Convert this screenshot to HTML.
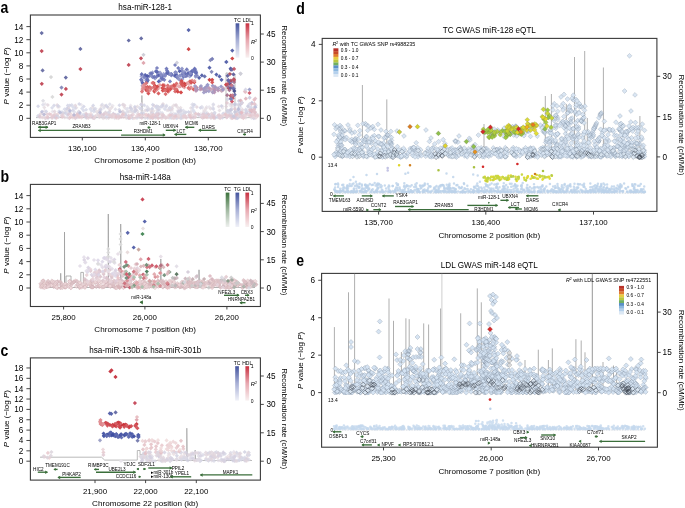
<!DOCTYPE html>
<html><head><meta charset="utf-8"><style>
html,body{margin:0;padding:0;background:#fff;}
svg{display:block;filter:blur(0.25px);}
text{font-family:"Liberation Sans", sans-serif;}
.q{fill:#d4e3f2;fill-opacity:.95;stroke:#7a8898;stroke-width:.42px;stroke-opacity:.7}
.r{fill:#d8e5f2;fill-opacity:.95;stroke:#7c8ca0;stroke-width:.4px;stroke-opacity:.72}
.s{fill:#bcd2ea;fill-opacity:.8;r:1.25px}
</style></head><body>
<svg width="685" height="508" viewBox="0 0 685 508" font-family='"Liberation Sans", sans-serif'>
<rect width="685" height="508" fill="#fff"/>
<rect x="30.40" y="15.00" width="230.00" height="122.40" fill="none" stroke="#3a3a3a" stroke-width="1.1"/>
<line x1="26.40" y1="118.30" x2="30.40" y2="118.30" stroke="#333" stroke-width="0.9"/>
<text x="23.40" y="121.20" font-size="8.2" text-anchor="end" font-weight="normal" fill="#000">0</text>
<line x1="26.40" y1="105.20" x2="30.40" y2="105.20" stroke="#333" stroke-width="0.9"/>
<text x="23.40" y="108.10" font-size="8.2" text-anchor="end" font-weight="normal" fill="#000">2</text>
<line x1="26.40" y1="92.10" x2="30.40" y2="92.10" stroke="#333" stroke-width="0.9"/>
<text x="23.40" y="95.00" font-size="8.2" text-anchor="end" font-weight="normal" fill="#000">4</text>
<line x1="26.40" y1="79.00" x2="30.40" y2="79.00" stroke="#333" stroke-width="0.9"/>
<text x="23.40" y="81.90" font-size="8.2" text-anchor="end" font-weight="normal" fill="#000">6</text>
<line x1="26.40" y1="65.90" x2="30.40" y2="65.90" stroke="#333" stroke-width="0.9"/>
<text x="23.40" y="68.80" font-size="8.2" text-anchor="end" font-weight="normal" fill="#000">8</text>
<line x1="26.40" y1="52.80" x2="30.40" y2="52.80" stroke="#333" stroke-width="0.9"/>
<text x="23.40" y="55.70" font-size="8.2" text-anchor="end" font-weight="normal" fill="#000">10</text>
<line x1="26.40" y1="39.70" x2="30.40" y2="39.70" stroke="#333" stroke-width="0.9"/>
<text x="23.40" y="42.60" font-size="8.2" text-anchor="end" font-weight="normal" fill="#000">12</text>
<line x1="26.40" y1="26.60" x2="30.40" y2="26.60" stroke="#333" stroke-width="0.9"/>
<text x="23.40" y="29.50" font-size="8.2" text-anchor="end" font-weight="normal" fill="#000">14</text>
<line x1="260.40" y1="118.30" x2="263.80" y2="118.30" stroke="#333" stroke-width="0.9"/>
<text x="266.40" y="121.20" font-size="8.2" text-anchor="start" font-weight="normal" fill="#000">0</text>
<line x1="260.40" y1="90.20" x2="263.80" y2="90.20" stroke="#333" stroke-width="0.9"/>
<text x="266.40" y="93.10" font-size="8.2" text-anchor="start" font-weight="normal" fill="#000">15</text>
<line x1="260.40" y1="62.10" x2="263.80" y2="62.10" stroke="#333" stroke-width="0.9"/>
<text x="266.40" y="65.00" font-size="8.2" text-anchor="start" font-weight="normal" fill="#000">30</text>
<line x1="260.40" y1="34.00" x2="263.80" y2="34.00" stroke="#333" stroke-width="0.9"/>
<text x="266.40" y="36.90" font-size="8.2" text-anchor="start" font-weight="normal" fill="#000">45</text>
<line x1="82.30" y1="137.40" x2="82.30" y2="140.40" stroke="#333" stroke-width="0.9"/>
<text x="82.30" y="150.80" font-size="7.9" text-anchor="middle" font-weight="normal" fill="#000">136,100</text>
<line x1="145.30" y1="137.40" x2="145.30" y2="140.40" stroke="#333" stroke-width="0.9"/>
<text x="145.30" y="150.80" font-size="7.9" text-anchor="middle" font-weight="normal" fill="#000">136,400</text>
<line x1="208.30" y1="137.40" x2="208.30" y2="140.40" stroke="#333" stroke-width="0.9"/>
<text x="208.30" y="150.80" font-size="7.9" text-anchor="middle" font-weight="normal" fill="#000">136,700</text>
<text x="145.20" y="10.20" font-size="8.15" text-anchor="middle" font-weight="normal" fill="#000">hsa-miR-128-1</text>
<text x="145.20" y="162.90" font-size="8.1" text-anchor="middle" font-weight="normal" fill="#000">Chromosome 2 position (kb)</text>
<text transform="translate(8.6 75.80) rotate(-90)" font-size="8" text-anchor="middle" fill="#000"><tspan font-style="italic">P</tspan> value (−log <tspan font-style="italic">P</tspan>)</text>
<text transform="translate(281.9 75.80) rotate(90)" font-size="8" text-anchor="middle" fill="#000">Recombination rate (cM/Mb)</text>
<text transform="translate(0.5 13.40) scale(0.84 1)" font-size="16.8" font-weight="bold" fill="#000">a</text>
<polyline points="36,117.6 141.7,117.6 141.9,95.5 142.3,117.6 226,117.6 226,72.9 235,74.3 235,117.6 238,117.6 238.5,105 239,117.6 252,117.6" fill="none" stroke="#a0a0a0" stroke-width="0.7"/>
<path d="M137.5 109.3l2.0 2.0-2.0 2.0-2.0-2.0zM173.1 114.5l2.0 2.0-2.0 2.0-2.0-2.0zM177.6 108.8l2.0 2.0-2.0 2.0-2.0-2.0zM141.4 102.2l2.0 2.0-2.0 2.0-2.0-2.0zM106.5 116.2l2.0 2.0-2.0 2.0-2.0-2.0zM193.5 116.2l2.0 2.0-2.0 2.0-2.0-2.0zM207.3 111.4l2.0 2.0-2.0 2.0-2.0-2.0zM144.4 109.1l2.0 2.0-2.0 2.0-2.0-2.0zM81.2 102.8l2.0 2.0-2.0 2.0-2.0-2.0zM130.6 103.6l2.0 2.0-2.0 2.0-2.0-2.0zM253 115.2l2.0 2.0-2.0 2.0-2.0-2.0zM202.8 115.8l2.0 2.0-2.0 2.0-2.0-2.0zM58.3 115.1l2.0 2.0-2.0 2.0-2.0-2.0zM63.4 113.7l2.0 2.0-2.0 2.0-2.0-2.0zM190.7 110.9l2.0 2.0-2.0 2.0-2.0-2.0zM44.6 108.7l2.0 2.0-2.0 2.0-2.0-2.0zM147.4 108.5l2.0 2.0-2.0 2.0-2.0-2.0zM218.8 115.4l2.0 2.0-2.0 2.0-2.0-2.0zM98.5 114.2l2.0 2.0-2.0 2.0-2.0-2.0zM188.6 114.4l2.0 2.0-2.0 2.0-2.0-2.0zM94.3 106.8l2.0 2.0-2.0 2.0-2.0-2.0zM175.6 103.5l2.0 2.0-2.0 2.0-2.0-2.0zM213.3 102.9l2.0 2.0-2.0 2.0-2.0-2.0zM114.7 115.7l2.0 2.0-2.0 2.0-2.0-2.0zM152 107.4l2.0 2.0-2.0 2.0-2.0-2.0zM52.5 109.6l2.0 2.0-2.0 2.0-2.0-2.0zM240.6 105.4l2.0 2.0-2.0 2.0-2.0-2.0zM112.7 103.7l2.0 2.0-2.0 2.0-2.0-2.0zM153.5 115.4l2.0 2.0-2.0 2.0-2.0-2.0zM67.2 115.6l2.0 2.0-2.0 2.0-2.0-2.0zM59.3 104.8l2.0 2.0-2.0 2.0-2.0-2.0zM230.6 103.5l2.0 2.0-2.0 2.0-2.0-2.0zM209.2 105.1l2.0 2.0-2.0 2.0-2.0-2.0zM155.3 111.9l2.0 2.0-2.0 2.0-2.0-2.0zM179.3 107.1l2.0 2.0-2.0 2.0-2.0-2.0zM61.8 113.9l2.0 2.0-2.0 2.0-2.0-2.0zM123 103l2.0 2.0-2.0 2.0-2.0-2.0zM141.8 114.7l2.0 2.0-2.0 2.0-2.0-2.0zM157.2 108.7l2.0 2.0-2.0 2.0-2.0-2.0zM166.9 108.2l2.0 2.0-2.0 2.0-2.0-2.0zM135.4 107.6l2.0 2.0-2.0 2.0-2.0-2.0zM176.8 112.1l2.0 2.0-2.0 2.0-2.0-2.0zM115.9 112.6l2.0 2.0-2.0 2.0-2.0-2.0zM222.4 105.9l2.0 2.0-2.0 2.0-2.0-2.0zM163 105.1l2.0 2.0-2.0 2.0-2.0-2.0zM200.5 112.2l2.0 2.0-2.0 2.0-2.0-2.0zM77 115.6l2.0 2.0-2.0 2.0-2.0-2.0zM130.9 106.9l2.0 2.0-2.0 2.0-2.0-2.0zM206.4 109.9l2.0 2.0-2.0 2.0-2.0-2.0zM114.8 116.3l2.0 2.0-2.0 2.0-2.0-2.0zM40.2 115.4l2.0 2.0-2.0 2.0-2.0-2.0zM141.8 110.1l2.0 2.0-2.0 2.0-2.0-2.0zM158.6 105.1l2.0 2.0-2.0 2.0-2.0-2.0zM225.7 110.5l2.0 2.0-2.0 2.0-2.0-2.0zM230.3 103.6l2.0 2.0-2.0 2.0-2.0-2.0zM46.2 111.5l2.0 2.0-2.0 2.0-2.0-2.0zM61.3 111.8l2.0 2.0-2.0 2.0-2.0-2.0zM181.9 116.2l2.0 2.0-2.0 2.0-2.0-2.0zM103.6 112.6l2.0 2.0-2.0 2.0-2.0-2.0zM106.1 113.4l2.0 2.0-2.0 2.0-2.0-2.0zM197.2 112.7l2.0 2.0-2.0 2.0-2.0-2.0zM77.6 111.7l2.0 2.0-2.0 2.0-2.0-2.0zM45.1 102.1l2.0 2.0-2.0 2.0-2.0-2.0zM127.5 115.8l2.0 2.0-2.0 2.0-2.0-2.0zM206.7 105l2.0 2.0-2.0 2.0-2.0-2.0zM181.2 115.4l2.0 2.0-2.0 2.0-2.0-2.0zM208.9 115.1l2.0 2.0-2.0 2.0-2.0-2.0zM238.9 109.2l2.0 2.0-2.0 2.0-2.0-2.0zM203.4 110.5l2.0 2.0-2.0 2.0-2.0-2.0zM222.4 104.5l2.0 2.0-2.0 2.0-2.0-2.0zM173.6 111.2l2.0 2.0-2.0 2.0-2.0-2.0zM230.1 102.4l2.0 2.0-2.0 2.0-2.0-2.0zM65.2 109.7l2.0 2.0-2.0 2.0-2.0-2.0zM43.3 114.7l2.0 2.0-2.0 2.0-2.0-2.0zM234.9 105.1l2.0 2.0-2.0 2.0-2.0-2.0zM105.7 110.3l2.0 2.0-2.0 2.0-2.0-2.0zM249.5 113.4l2.0 2.0-2.0 2.0-2.0-2.0zM248.5 105.8l2.0 2.0-2.0 2.0-2.0-2.0zM255.3 116.1l2.0 2.0-2.0 2.0-2.0-2.0zM212 113.9l2.0 2.0-2.0 2.0-2.0-2.0zM251.5 115.9l2.0 2.0-2.0 2.0-2.0-2.0zM171.8 108.6l2.0 2.0-2.0 2.0-2.0-2.0zM211.1 115.9l2.0 2.0-2.0 2.0-2.0-2.0zM251.5 116l2.0 2.0-2.0 2.0-2.0-2.0zM254.8 116.3l2.0 2.0-2.0 2.0-2.0-2.0zM233.8 115l2.0 2.0-2.0 2.0-2.0-2.0zM241.3 114.6l2.0 2.0-2.0 2.0-2.0-2.0zM243.8 114.2l2.0 2.0-2.0 2.0-2.0-2.0zM140.9 113l2.0 2.0-2.0 2.0-2.0-2.0zM227.8 114.3l2.0 2.0-2.0 2.0-2.0-2.0z" fill="#e4e0e8" fill-opacity="0.75"/>
<path d="M137.4 104.5l2.0 2.0-2.0 2.0-2.0-2.0zM51.9 116.1l2.0 2.0-2.0 2.0-2.0-2.0zM193.7 112.9l2.0 2.0-2.0 2.0-2.0-2.0zM130.4 109.2l2.0 2.0-2.0 2.0-2.0-2.0zM204.8 115.3l2.0 2.0-2.0 2.0-2.0-2.0zM63.6 111.4l2.0 2.0-2.0 2.0-2.0-2.0zM104.9 103.9l2.0 2.0-2.0 2.0-2.0-2.0zM179.2 115.5l2.0 2.0-2.0 2.0-2.0-2.0zM78.2 114.9l2.0 2.0-2.0 2.0-2.0-2.0zM217.9 113.8l2.0 2.0-2.0 2.0-2.0-2.0zM54.3 114.2l2.0 2.0-2.0 2.0-2.0-2.0zM136.1 115.9l2.0 2.0-2.0 2.0-2.0-2.0zM100 109.8l2.0 2.0-2.0 2.0-2.0-2.0zM242.7 110.3l2.0 2.0-2.0 2.0-2.0-2.0zM109.9 107.6l2.0 2.0-2.0 2.0-2.0-2.0zM177.5 105.3l2.0 2.0-2.0 2.0-2.0-2.0zM240.6 114.3l2.0 2.0-2.0 2.0-2.0-2.0zM207.2 113.5l2.0 2.0-2.0 2.0-2.0-2.0zM155.7 116.1l2.0 2.0-2.0 2.0-2.0-2.0zM246.3 110.2l2.0 2.0-2.0 2.0-2.0-2.0zM124.6 105.5l2.0 2.0-2.0 2.0-2.0-2.0zM123.4 111l2.0 2.0-2.0 2.0-2.0-2.0zM241.3 115.2l2.0 2.0-2.0 2.0-2.0-2.0zM111.7 105.6l2.0 2.0-2.0 2.0-2.0-2.0zM153.3 109.1l2.0 2.0-2.0 2.0-2.0-2.0zM64.8 115.6l2.0 2.0-2.0 2.0-2.0-2.0zM97.2 110.6l2.0 2.0-2.0 2.0-2.0-2.0zM173.9 103.2l2.0 2.0-2.0 2.0-2.0-2.0zM100.5 106.7l2.0 2.0-2.0 2.0-2.0-2.0zM128.9 109.8l2.0 2.0-2.0 2.0-2.0-2.0zM172.6 104.4l2.0 2.0-2.0 2.0-2.0-2.0zM233.9 114.4l2.0 2.0-2.0 2.0-2.0-2.0zM233.3 115.1l2.0 2.0-2.0 2.0-2.0-2.0zM157.5 107l2.0 2.0-2.0 2.0-2.0-2.0zM148.6 107.3l2.0 2.0-2.0 2.0-2.0-2.0zM237.1 110.5l2.0 2.0-2.0 2.0-2.0-2.0zM78.6 114.3l2.0 2.0-2.0 2.0-2.0-2.0zM177.5 116l2.0 2.0-2.0 2.0-2.0-2.0zM190.9 106l2.0 2.0-2.0 2.0-2.0-2.0zM85.5 111.6l2.0 2.0-2.0 2.0-2.0-2.0zM126.3 116l2.0 2.0-2.0 2.0-2.0-2.0zM103.1 116.2l2.0 2.0-2.0 2.0-2.0-2.0zM245.8 115.7l2.0 2.0-2.0 2.0-2.0-2.0zM132.5 110.6l2.0 2.0-2.0 2.0-2.0-2.0zM238.1 115l2.0 2.0-2.0 2.0-2.0-2.0zM168.2 108.2l2.0 2.0-2.0 2.0-2.0-2.0zM238.8 114.8l2.0 2.0-2.0 2.0-2.0-2.0zM131.4 113.6l2.0 2.0-2.0 2.0-2.0-2.0zM206.1 112.7l2.0 2.0-2.0 2.0-2.0-2.0zM125 111.9l2.0 2.0-2.0 2.0-2.0-2.0zM86.7 115.9l2.0 2.0-2.0 2.0-2.0-2.0zM239.4 113.8l2.0 2.0-2.0 2.0-2.0-2.0zM256 112.1l2.0 2.0-2.0 2.0-2.0-2.0zM180.6 105.8l2.0 2.0-2.0 2.0-2.0-2.0zM78.7 113.4l2.0 2.0-2.0 2.0-2.0-2.0zM207.8 115.6l2.0 2.0-2.0 2.0-2.0-2.0zM125.9 114.2l2.0 2.0-2.0 2.0-2.0-2.0zM96.6 109.7l2.0 2.0-2.0 2.0-2.0-2.0zM163.8 114.6l2.0 2.0-2.0 2.0-2.0-2.0zM218.7 104.6l2.0 2.0-2.0 2.0-2.0-2.0zM58 104.9l2.0 2.0-2.0 2.0-2.0-2.0zM52.7 115.7l2.0 2.0-2.0 2.0-2.0-2.0zM160.2 115.6l2.0 2.0-2.0 2.0-2.0-2.0zM66.9 108.2l2.0 2.0-2.0 2.0-2.0-2.0zM168.4 115.6l2.0 2.0-2.0 2.0-2.0-2.0zM241.9 115.1l2.0 2.0-2.0 2.0-2.0-2.0zM107.9 105.6l2.0 2.0-2.0 2.0-2.0-2.0zM219.5 108.5l2.0 2.0-2.0 2.0-2.0-2.0zM151 109.1l2.0 2.0-2.0 2.0-2.0-2.0zM245.9 108.3l2.0 2.0-2.0 2.0-2.0-2.0zM101.5 103.7l2.0 2.0-2.0 2.0-2.0-2.0zM204.8 112.2l2.0 2.0-2.0 2.0-2.0-2.0zM214.8 116.2l2.0 2.0-2.0 2.0-2.0-2.0zM123 109.2l2.0 2.0-2.0 2.0-2.0-2.0zM112 115.2l2.0 2.0-2.0 2.0-2.0-2.0zM210.5 106.7l2.0 2.0-2.0 2.0-2.0-2.0zM232.2 104.1l2.0 2.0-2.0 2.0-2.0-2.0zM190.9 109.8l2.0 2.0-2.0 2.0-2.0-2.0zM157.9 107.8l2.0 2.0-2.0 2.0-2.0-2.0zM130.7 105.3l2.0 2.0-2.0 2.0-2.0-2.0zM236.8 115.5l2.0 2.0-2.0 2.0-2.0-2.0zM69.1 107.2l2.0 2.0-2.0 2.0-2.0-2.0zM231.5 102l2.0 2.0-2.0 2.0-2.0-2.0zM88.4 113.1l2.0 2.0-2.0 2.0-2.0-2.0zM57.2 113.3l2.0 2.0-2.0 2.0-2.0-2.0zM44.3 105.6l2.0 2.0-2.0 2.0-2.0-2.0zM242.4 110.2l2.0 2.0-2.0 2.0-2.0-2.0zM76.3 105.7l2.0 2.0-2.0 2.0-2.0-2.0zM230 114.6l2.0 2.0-2.0 2.0-2.0-2.0zM75.8 113.7l2.0 2.0-2.0 2.0-2.0-2.0zM204.2 108.7l2.0 2.0-2.0 2.0-2.0-2.0zM205.9 106.5l2.0 2.0-2.0 2.0-2.0-2.0zM103.1 115.3l2.0 2.0-2.0 2.0-2.0-2.0zM130 115.6l2.0 2.0-2.0 2.0-2.0-2.0zM92.2 105.5l2.0 2.0-2.0 2.0-2.0-2.0zM145.8 108.3l2.0 2.0-2.0 2.0-2.0-2.0z" fill="#e2d8de" fill-opacity="0.75"/>
<path d="M78.6 110.1l2.0 2.0-2.0 2.0-2.0-2.0zM104.7 115.6l2.0 2.0-2.0 2.0-2.0-2.0zM123 102.6l2.0 2.0-2.0 2.0-2.0-2.0zM79.4 110.1l2.0 2.0-2.0 2.0-2.0-2.0zM54.3 114.3l2.0 2.0-2.0 2.0-2.0-2.0zM102.6 114.7l2.0 2.0-2.0 2.0-2.0-2.0zM253.7 107.8l2.0 2.0-2.0 2.0-2.0-2.0zM54.6 109.5l2.0 2.0-2.0 2.0-2.0-2.0zM47.8 103l2.0 2.0-2.0 2.0-2.0-2.0zM172 115.7l2.0 2.0-2.0 2.0-2.0-2.0zM198.2 111.9l2.0 2.0-2.0 2.0-2.0-2.0zM75.3 103.6l2.0 2.0-2.0 2.0-2.0-2.0zM122.2 109.9l2.0 2.0-2.0 2.0-2.0-2.0zM99.2 108.6l2.0 2.0-2.0 2.0-2.0-2.0zM180.8 109.3l2.0 2.0-2.0 2.0-2.0-2.0zM136.2 108.2l2.0 2.0-2.0 2.0-2.0-2.0zM97.9 112.5l2.0 2.0-2.0 2.0-2.0-2.0zM57.2 103.1l2.0 2.0-2.0 2.0-2.0-2.0zM196.8 105.1l2.0 2.0-2.0 2.0-2.0-2.0zM141.5 101.9l2.0 2.0-2.0 2.0-2.0-2.0zM246.1 110.4l2.0 2.0-2.0 2.0-2.0-2.0zM80.7 114l2.0 2.0-2.0 2.0-2.0-2.0zM174.3 115.4l2.0 2.0-2.0 2.0-2.0-2.0zM231.3 116.2l2.0 2.0-2.0 2.0-2.0-2.0zM165.6 115.1l2.0 2.0-2.0 2.0-2.0-2.0zM77.9 110.9l2.0 2.0-2.0 2.0-2.0-2.0zM109.2 115.6l2.0 2.0-2.0 2.0-2.0-2.0zM99.5 115.3l2.0 2.0-2.0 2.0-2.0-2.0zM40.3 112.3l2.0 2.0-2.0 2.0-2.0-2.0zM163 102l2.0 2.0-2.0 2.0-2.0-2.0zM242.5 107.7l2.0 2.0-2.0 2.0-2.0-2.0zM202.6 116l2.0 2.0-2.0 2.0-2.0-2.0zM48 115.5l2.0 2.0-2.0 2.0-2.0-2.0zM170.2 108.1l2.0 2.0-2.0 2.0-2.0-2.0zM172.2 106.7l2.0 2.0-2.0 2.0-2.0-2.0zM79.8 113.8l2.0 2.0-2.0 2.0-2.0-2.0zM109.6 109.5l2.0 2.0-2.0 2.0-2.0-2.0zM219.8 114.6l2.0 2.0-2.0 2.0-2.0-2.0zM56 113l2.0 2.0-2.0 2.0-2.0-2.0zM118.6 115.3l2.0 2.0-2.0 2.0-2.0-2.0zM135 108.8l2.0 2.0-2.0 2.0-2.0-2.0zM138.8 114.1l2.0 2.0-2.0 2.0-2.0-2.0zM220.3 116.2l2.0 2.0-2.0 2.0-2.0-2.0zM162.8 102.5l2.0 2.0-2.0 2.0-2.0-2.0zM235.8 115.6l2.0 2.0-2.0 2.0-2.0-2.0zM181.8 115.5l2.0 2.0-2.0 2.0-2.0-2.0zM239.3 111.6l2.0 2.0-2.0 2.0-2.0-2.0zM178.9 109.9l2.0 2.0-2.0 2.0-2.0-2.0zM85.8 113.9l2.0 2.0-2.0 2.0-2.0-2.0zM238.3 103l2.0 2.0-2.0 2.0-2.0-2.0zM56.1 113.5l2.0 2.0-2.0 2.0-2.0-2.0zM154.1 103.8l2.0 2.0-2.0 2.0-2.0-2.0zM211.7 111.5l2.0 2.0-2.0 2.0-2.0-2.0zM105.3 110.7l2.0 2.0-2.0 2.0-2.0-2.0zM226.3 104.6l2.0 2.0-2.0 2.0-2.0-2.0zM176.1 103l2.0 2.0-2.0 2.0-2.0-2.0zM41.4 111.7l2.0 2.0-2.0 2.0-2.0-2.0zM255.1 110l2.0 2.0-2.0 2.0-2.0-2.0zM139.9 115.2l2.0 2.0-2.0 2.0-2.0-2.0zM138 111.7l2.0 2.0-2.0 2.0-2.0-2.0zM68.4 106.1l2.0 2.0-2.0 2.0-2.0-2.0zM237.4 108.4l2.0 2.0-2.0 2.0-2.0-2.0zM163 112.7l2.0 2.0-2.0 2.0-2.0-2.0zM108.6 115.9l2.0 2.0-2.0 2.0-2.0-2.0zM231.5 101.9l2.0 2.0-2.0 2.0-2.0-2.0zM231.3 114.3l2.0 2.0-2.0 2.0-2.0-2.0zM235.9 116.2l2.0 2.0-2.0 2.0-2.0-2.0zM194.9 115.1l2.0 2.0-2.0 2.0-2.0-2.0zM77.8 113.9l2.0 2.0-2.0 2.0-2.0-2.0zM103 113.5l2.0 2.0-2.0 2.0-2.0-2.0zM184.7 113.4l2.0 2.0-2.0 2.0-2.0-2.0zM151.7 110.2l2.0 2.0-2.0 2.0-2.0-2.0zM62.7 111.2l2.0 2.0-2.0 2.0-2.0-2.0zM134.9 105.9l2.0 2.0-2.0 2.0-2.0-2.0zM178.8 109l2.0 2.0-2.0 2.0-2.0-2.0zM140.7 107.1l2.0 2.0-2.0 2.0-2.0-2.0zM69.8 110.9l2.0 2.0-2.0 2.0-2.0-2.0zM251.8 107.4l2.0 2.0-2.0 2.0-2.0-2.0zM124.5 103.3l2.0 2.0-2.0 2.0-2.0-2.0z" fill="#ddd0d8" fill-opacity="0.75"/>
<path d="M250.2 107.8l2.0 2.0-2.0 2.0-2.0-2.0zM181 108.3l2.0 2.0-2.0 2.0-2.0-2.0zM134.9 104.7l2.0 2.0-2.0 2.0-2.0-2.0zM150.8 116.1l2.0 2.0-2.0 2.0-2.0-2.0zM213.3 114.6l2.0 2.0-2.0 2.0-2.0-2.0zM38.1 104.3l2.0 2.0-2.0 2.0-2.0-2.0zM79.2 102l2.0 2.0-2.0 2.0-2.0-2.0zM84.9 113.6l2.0 2.0-2.0 2.0-2.0-2.0zM174.9 115.2l2.0 2.0-2.0 2.0-2.0-2.0zM72.9 108.2l2.0 2.0-2.0 2.0-2.0-2.0zM161.1 104.5l2.0 2.0-2.0 2.0-2.0-2.0zM152.8 102.8l2.0 2.0-2.0 2.0-2.0-2.0zM228 109.1l2.0 2.0-2.0 2.0-2.0-2.0zM222.4 115.7l2.0 2.0-2.0 2.0-2.0-2.0zM69.5 108.5l2.0 2.0-2.0 2.0-2.0-2.0zM231.7 111.9l2.0 2.0-2.0 2.0-2.0-2.0zM107.4 104.7l2.0 2.0-2.0 2.0-2.0-2.0zM159 107.8l2.0 2.0-2.0 2.0-2.0-2.0zM132.4 116.1l2.0 2.0-2.0 2.0-2.0-2.0zM56.9 114.1l2.0 2.0-2.0 2.0-2.0-2.0zM160.9 104.9l2.0 2.0-2.0 2.0-2.0-2.0zM178.6 109.9l2.0 2.0-2.0 2.0-2.0-2.0zM94.4 107.5l2.0 2.0-2.0 2.0-2.0-2.0zM83.8 104.5l2.0 2.0-2.0 2.0-2.0-2.0zM151.5 111.7l2.0 2.0-2.0 2.0-2.0-2.0zM166.1 104.5l2.0 2.0-2.0 2.0-2.0-2.0zM93.1 114.4l2.0 2.0-2.0 2.0-2.0-2.0zM156.4 104.3l2.0 2.0-2.0 2.0-2.0-2.0zM178.5 109.8l2.0 2.0-2.0 2.0-2.0-2.0zM46.2 109.4l2.0 2.0-2.0 2.0-2.0-2.0zM119.4 103.3l2.0 2.0-2.0 2.0-2.0-2.0zM163.3 114.5l2.0 2.0-2.0 2.0-2.0-2.0zM67.3 112.7l2.0 2.0-2.0 2.0-2.0-2.0zM253.6 116.2l2.0 2.0-2.0 2.0-2.0-2.0zM93.2 103.6l2.0 2.0-2.0 2.0-2.0-2.0zM156.9 111.5l2.0 2.0-2.0 2.0-2.0-2.0zM135.8 108l2.0 2.0-2.0 2.0-2.0-2.0zM246 111.4l2.0 2.0-2.0 2.0-2.0-2.0zM125.7 112.9l2.0 2.0-2.0 2.0-2.0-2.0zM100.9 107.8l2.0 2.0-2.0 2.0-2.0-2.0zM170.8 115.3l2.0 2.0-2.0 2.0-2.0-2.0zM130.3 105.8l2.0 2.0-2.0 2.0-2.0-2.0zM148.6 113l2.0 2.0-2.0 2.0-2.0-2.0zM214.5 111l2.0 2.0-2.0 2.0-2.0-2.0zM119.2 107.8l2.0 2.0-2.0 2.0-2.0-2.0zM55.3 115.7l2.0 2.0-2.0 2.0-2.0-2.0zM106.2 103.5l2.0 2.0-2.0 2.0-2.0-2.0zM156.9 104.8l2.0 2.0-2.0 2.0-2.0-2.0zM223.2 111.4l2.0 2.0-2.0 2.0-2.0-2.0zM185.9 110.3l2.0 2.0-2.0 2.0-2.0-2.0zM215.1 115.8l2.0 2.0-2.0 2.0-2.0-2.0zM221.4 103.9l2.0 2.0-2.0 2.0-2.0-2.0zM108.6 111.9l2.0 2.0-2.0 2.0-2.0-2.0zM239.1 112.5l2.0 2.0-2.0 2.0-2.0-2.0zM214.3 111.9l2.0 2.0-2.0 2.0-2.0-2.0zM213.3 106.9l2.0 2.0-2.0 2.0-2.0-2.0zM69.8 103.5l2.0 2.0-2.0 2.0-2.0-2.0zM66.8 106.4l2.0 2.0-2.0 2.0-2.0-2.0zM141.1 102.7l2.0 2.0-2.0 2.0-2.0-2.0zM107.5 111.6l2.0 2.0-2.0 2.0-2.0-2.0zM144.2 103.3l2.0 2.0-2.0 2.0-2.0-2.0zM158.6 112.4l2.0 2.0-2.0 2.0-2.0-2.0zM193.5 103l2.0 2.0-2.0 2.0-2.0-2.0zM67.8 103.6l2.0 2.0-2.0 2.0-2.0-2.0zM128.6 116.1l2.0 2.0-2.0 2.0-2.0-2.0zM141.4 111.6l2.0 2.0-2.0 2.0-2.0-2.0zM237.2 109.8l2.0 2.0-2.0 2.0-2.0-2.0zM65.4 111l2.0 2.0-2.0 2.0-2.0-2.0zM250.6 107.6l2.0 2.0-2.0 2.0-2.0-2.0zM153.4 115.3l2.0 2.0-2.0 2.0-2.0-2.0zM134.9 109.8l2.0 2.0-2.0 2.0-2.0-2.0zM237.6 116.3l2.0 2.0-2.0 2.0-2.0-2.0zM100.6 113.7l2.0 2.0-2.0 2.0-2.0-2.0zM92.1 113.4l2.0 2.0-2.0 2.0-2.0-2.0zM188.5 109.9l2.0 2.0-2.0 2.0-2.0-2.0zM157.7 104.5l2.0 2.0-2.0 2.0-2.0-2.0zM147.8 116.1l2.0 2.0-2.0 2.0-2.0-2.0zM54 103.5l2.0 2.0-2.0 2.0-2.0-2.0zM131.6 107.1l2.0 2.0-2.0 2.0-2.0-2.0zM200.5 105.7l2.0 2.0-2.0 2.0-2.0-2.0zM147.6 107.9l2.0 2.0-2.0 2.0-2.0-2.0zM147.3 107.7l2.0 2.0-2.0 2.0-2.0-2.0zM118.1 112.6l2.0 2.0-2.0 2.0-2.0-2.0zM86 114.8l2.0 2.0-2.0 2.0-2.0-2.0zM162.8 103.5l2.0 2.0-2.0 2.0-2.0-2.0zM143.6 111.7l2.0 2.0-2.0 2.0-2.0-2.0zM152.2 106.4l2.0 2.0-2.0 2.0-2.0-2.0z" fill="#cccee2" fill-opacity="0.75"/>
<path d="M169.9 105.8l2.0 2.0-2.0 2.0-2.0-2.0zM183.7 110.9l2.0 2.0-2.0 2.0-2.0-2.0zM206.6 111.7l2.0 2.0-2.0 2.0-2.0-2.0zM91.5 108.7l2.0 2.0-2.0 2.0-2.0-2.0zM62 110.1l2.0 2.0-2.0 2.0-2.0-2.0zM90.4 107l2.0 2.0-2.0 2.0-2.0-2.0zM45.7 116.2l2.0 2.0-2.0 2.0-2.0-2.0zM192.8 105.5l2.0 2.0-2.0 2.0-2.0-2.0zM94.3 116.2l2.0 2.0-2.0 2.0-2.0-2.0zM194.5 102.8l2.0 2.0-2.0 2.0-2.0-2.0zM193.9 109.2l2.0 2.0-2.0 2.0-2.0-2.0zM236 102.2l2.0 2.0-2.0 2.0-2.0-2.0zM156.1 105.6l2.0 2.0-2.0 2.0-2.0-2.0zM113.3 111.4l2.0 2.0-2.0 2.0-2.0-2.0zM239.3 108.2l2.0 2.0-2.0 2.0-2.0-2.0zM236.6 112.9l2.0 2.0-2.0 2.0-2.0-2.0zM59.1 109.2l2.0 2.0-2.0 2.0-2.0-2.0zM193 108.1l2.0 2.0-2.0 2.0-2.0-2.0zM139.7 106l2.0 2.0-2.0 2.0-2.0-2.0zM124 111.3l2.0 2.0-2.0 2.0-2.0-2.0zM254.2 105.3l2.0 2.0-2.0 2.0-2.0-2.0zM236.6 116l2.0 2.0-2.0 2.0-2.0-2.0zM245.8 107.6l2.0 2.0-2.0 2.0-2.0-2.0zM180.6 116.2l2.0 2.0-2.0 2.0-2.0-2.0zM204 111.9l2.0 2.0-2.0 2.0-2.0-2.0zM116.5 114.9l2.0 2.0-2.0 2.0-2.0-2.0zM217.3 115.1l2.0 2.0-2.0 2.0-2.0-2.0zM175.5 112.3l2.0 2.0-2.0 2.0-2.0-2.0zM176.3 116.3l2.0 2.0-2.0 2.0-2.0-2.0zM119.2 115.5l2.0 2.0-2.0 2.0-2.0-2.0zM86.1 107.8l2.0 2.0-2.0 2.0-2.0-2.0zM238.9 111.2l2.0 2.0-2.0 2.0-2.0-2.0zM234.8 113.8l2.0 2.0-2.0 2.0-2.0-2.0zM124.8 112.6l2.0 2.0-2.0 2.0-2.0-2.0zM141.7 106.6l2.0 2.0-2.0 2.0-2.0-2.0zM106.8 114.4l2.0 2.0-2.0 2.0-2.0-2.0zM230.5 111.5l2.0 2.0-2.0 2.0-2.0-2.0zM72.7 104.8l2.0 2.0-2.0 2.0-2.0-2.0zM194.6 110.6l2.0 2.0-2.0 2.0-2.0-2.0zM83.5 108.4l2.0 2.0-2.0 2.0-2.0-2.0zM82 106.6l2.0 2.0-2.0 2.0-2.0-2.0zM95.4 114.5l2.0 2.0-2.0 2.0-2.0-2.0zM83.1 112.7l2.0 2.0-2.0 2.0-2.0-2.0zM93.9 109.6l2.0 2.0-2.0 2.0-2.0-2.0zM164.8 107.1l2.0 2.0-2.0 2.0-2.0-2.0zM58.2 104.1l2.0 2.0-2.0 2.0-2.0-2.0zM158.2 115.8l2.0 2.0-2.0 2.0-2.0-2.0zM75.1 106.3l2.0 2.0-2.0 2.0-2.0-2.0zM169.5 106.2l2.0 2.0-2.0 2.0-2.0-2.0zM38.1 113.8l2.0 2.0-2.0 2.0-2.0-2.0zM48.1 116.1l2.0 2.0-2.0 2.0-2.0-2.0zM235.3 114.4l2.0 2.0-2.0 2.0-2.0-2.0zM181 113l2.0 2.0-2.0 2.0-2.0-2.0zM55.4 114.1l2.0 2.0-2.0 2.0-2.0-2.0zM64.5 107.2l2.0 2.0-2.0 2.0-2.0-2.0zM52.1 105.8l2.0 2.0-2.0 2.0-2.0-2.0zM90.4 115l2.0 2.0-2.0 2.0-2.0-2.0zM181 115.9l2.0 2.0-2.0 2.0-2.0-2.0zM209.9 114.2l2.0 2.0-2.0 2.0-2.0-2.0zM130.2 116l2.0 2.0-2.0 2.0-2.0-2.0zM71.8 103l2.0 2.0-2.0 2.0-2.0-2.0z" fill="#d2d4e6" fill-opacity="0.75"/>
<path d="M89.4 113.2l2.0 2.0-2.0 2.0-2.0-2.0zM127.5 109.5l2.0 2.0-2.0 2.0-2.0-2.0zM38.1 114.3l2.0 2.0-2.0 2.0-2.0-2.0zM209.3 113.5l2.0 2.0-2.0 2.0-2.0-2.0zM110.4 113.1l2.0 2.0-2.0 2.0-2.0-2.0zM170.8 111.4l2.0 2.0-2.0 2.0-2.0-2.0zM192.2 102.6l2.0 2.0-2.0 2.0-2.0-2.0zM169.6 115.7l2.0 2.0-2.0 2.0-2.0-2.0zM198.7 112.8l2.0 2.0-2.0 2.0-2.0-2.0zM115.4 107.3l2.0 2.0-2.0 2.0-2.0-2.0zM229.6 111.5l2.0 2.0-2.0 2.0-2.0-2.0zM183.7 112l2.0 2.0-2.0 2.0-2.0-2.0zM42.9 102.7l2.0 2.0-2.0 2.0-2.0-2.0zM147.2 104.8l2.0 2.0-2.0 2.0-2.0-2.0zM137.5 115.7l2.0 2.0-2.0 2.0-2.0-2.0zM67.9 110.9l2.0 2.0-2.0 2.0-2.0-2.0zM213.3 102.2l2.0 2.0-2.0 2.0-2.0-2.0zM178.8 112.2l2.0 2.0-2.0 2.0-2.0-2.0zM109.8 102.2l2.0 2.0-2.0 2.0-2.0-2.0zM95.6 106.8l2.0 2.0-2.0 2.0-2.0-2.0zM145.2 116.1l2.0 2.0-2.0 2.0-2.0-2.0zM128.4 115.3l2.0 2.0-2.0 2.0-2.0-2.0zM171.2 116.1l2.0 2.0-2.0 2.0-2.0-2.0zM192.5 102.3l2.0 2.0-2.0 2.0-2.0-2.0zM126.6 107.3l2.0 2.0-2.0 2.0-2.0-2.0zM238.5 102.5l2.0 2.0-2.0 2.0-2.0-2.0zM214.6 110.5l2.0 2.0-2.0 2.0-2.0-2.0zM255.9 103.2l2.0 2.0-2.0 2.0-2.0-2.0zM132.6 108.7l2.0 2.0-2.0 2.0-2.0-2.0zM74.3 110.1l2.0 2.0-2.0 2.0-2.0-2.0zM127.3 106.7l2.0 2.0-2.0 2.0-2.0-2.0zM213.4 113.1l2.0 2.0-2.0 2.0-2.0-2.0zM169.5 106.1l2.0 2.0-2.0 2.0-2.0-2.0zM129.8 115.3l2.0 2.0-2.0 2.0-2.0-2.0zM199.5 113.9l2.0 2.0-2.0 2.0-2.0-2.0zM239.5 104l2.0 2.0-2.0 2.0-2.0-2.0zM131.5 108.3l2.0 2.0-2.0 2.0-2.0-2.0zM87 113.4l2.0 2.0-2.0 2.0-2.0-2.0zM201.9 104.7l2.0 2.0-2.0 2.0-2.0-2.0zM103.8 105.8l2.0 2.0-2.0 2.0-2.0-2.0zM231.8 113.3l2.0 2.0-2.0 2.0-2.0-2.0zM158.3 105.6l2.0 2.0-2.0 2.0-2.0-2.0zM111.6 113.4l2.0 2.0-2.0 2.0-2.0-2.0zM102.2 102.4l2.0 2.0-2.0 2.0-2.0-2.0zM238.7 106.2l2.0 2.0-2.0 2.0-2.0-2.0zM166.5 103.5l2.0 2.0-2.0 2.0-2.0-2.0zM212.8 105.8l2.0 2.0-2.0 2.0-2.0-2.0zM182.7 113.9l2.0 2.0-2.0 2.0-2.0-2.0zM157.5 110.2l2.0 2.0-2.0 2.0-2.0-2.0zM202.3 105.7l2.0 2.0-2.0 2.0-2.0-2.0zM162.1 110.9l2.0 2.0-2.0 2.0-2.0-2.0zM58.3 115.1l2.0 2.0-2.0 2.0-2.0-2.0zM183.3 108.6l2.0 2.0-2.0 2.0-2.0-2.0zM170.3 115.3l2.0 2.0-2.0 2.0-2.0-2.0zM78.8 109.5l2.0 2.0-2.0 2.0-2.0-2.0zM126.7 110.3l2.0 2.0-2.0 2.0-2.0-2.0zM219.5 115.3l2.0 2.0-2.0 2.0-2.0-2.0zM152.5 111.4l2.0 2.0-2.0 2.0-2.0-2.0zM180.9 111.4l2.0 2.0-2.0 2.0-2.0-2.0zM155.3 113.9l2.0 2.0-2.0 2.0-2.0-2.0zM184.9 110.8l2.0 2.0-2.0 2.0-2.0-2.0zM239.6 108.9l2.0 2.0-2.0 2.0-2.0-2.0zM108.6 110.5l2.0 2.0-2.0 2.0-2.0-2.0zM148.8 106.7l2.0 2.0-2.0 2.0-2.0-2.0zM160.3 110.7l2.0 2.0-2.0 2.0-2.0-2.0zM117.8 113.4l2.0 2.0-2.0 2.0-2.0-2.0zM85.9 115.5l2.0 2.0-2.0 2.0-2.0-2.0z" fill="#d8d8e6" fill-opacity="0.75"/>
<path d="M142.4 113.3l2.0 2.0-2.0 2.0-2.0-2.0zM69.4 116.3l2.0 2.0-2.0 2.0-2.0-2.0zM250.8 111.8l2.0 2.0-2.0 2.0-2.0-2.0zM191.1 116.1l2.0 2.0-2.0 2.0-2.0-2.0zM151.1 114.6l2.0 2.0-2.0 2.0-2.0-2.0zM246.5 112.1l2.0 2.0-2.0 2.0-2.0-2.0zM92.5 115.8l2.0 2.0-2.0 2.0-2.0-2.0zM242.1 112.3l2.0 2.0-2.0 2.0-2.0-2.0zM234.8 115.6l2.0 2.0-2.0 2.0-2.0-2.0zM173.7 116.1l2.0 2.0-2.0 2.0-2.0-2.0zM193 115.3l2.0 2.0-2.0 2.0-2.0-2.0zM190.7 115.7l2.0 2.0-2.0 2.0-2.0-2.0zM141.8 116l2.0 2.0-2.0 2.0-2.0-2.0zM236.2 112.7l2.0 2.0-2.0 2.0-2.0-2.0zM165.8 116l2.0 2.0-2.0 2.0-2.0-2.0zM189 113l2.0 2.0-2.0 2.0-2.0-2.0zM39.7 114.6l2.0 2.0-2.0 2.0-2.0-2.0zM224.7 113.1l2.0 2.0-2.0 2.0-2.0-2.0zM86.5 112.1l2.0 2.0-2.0 2.0-2.0-2.0zM251.9 113.8l2.0 2.0-2.0 2.0-2.0-2.0zM115.1 112.9l2.0 2.0-2.0 2.0-2.0-2.0zM208.5 112.2l2.0 2.0-2.0 2.0-2.0-2.0zM93.4 116.1l2.0 2.0-2.0 2.0-2.0-2.0zM100.8 112l2.0 2.0-2.0 2.0-2.0-2.0zM123.6 112.3l2.0 2.0-2.0 2.0-2.0-2.0zM128.7 113.5l2.0 2.0-2.0 2.0-2.0-2.0zM75.4 115.4l2.0 2.0-2.0 2.0-2.0-2.0zM229 113.3l2.0 2.0-2.0 2.0-2.0-2.0zM202.8 112.4l2.0 2.0-2.0 2.0-2.0-2.0zM73.9 113l2.0 2.0-2.0 2.0-2.0-2.0zM241.9 111.8l2.0 2.0-2.0 2.0-2.0-2.0zM214.2 114l2.0 2.0-2.0 2.0-2.0-2.0zM158.7 111.9l2.0 2.0-2.0 2.0-2.0-2.0zM176.4 114.2l2.0 2.0-2.0 2.0-2.0-2.0zM131.2 113.8l2.0 2.0-2.0 2.0-2.0-2.0zM214 114.5l2.0 2.0-2.0 2.0-2.0-2.0zM247.6 111.8l2.0 2.0-2.0 2.0-2.0-2.0zM198.8 112.5l2.0 2.0-2.0 2.0-2.0-2.0zM113.4 112.2l2.0 2.0-2.0 2.0-2.0-2.0zM52.2 114.7l2.0 2.0-2.0 2.0-2.0-2.0zM76 113.8l2.0 2.0-2.0 2.0-2.0-2.0zM121.2 114.9l2.0 2.0-2.0 2.0-2.0-2.0zM244.9 113.5l2.0 2.0-2.0 2.0-2.0-2.0zM226.8 115.6l2.0 2.0-2.0 2.0-2.0-2.0zM221.7 113.9l2.0 2.0-2.0 2.0-2.0-2.0zM148.3 113.3l2.0 2.0-2.0 2.0-2.0-2.0zM54.3 113.2l2.0 2.0-2.0 2.0-2.0-2.0zM121.6 113.9l2.0 2.0-2.0 2.0-2.0-2.0zM243 113.9l2.0 2.0-2.0 2.0-2.0-2.0zM157.7 112.4l2.0 2.0-2.0 2.0-2.0-2.0zM129.3 115.7l2.0 2.0-2.0 2.0-2.0-2.0zM213.1 113.9l2.0 2.0-2.0 2.0-2.0-2.0zM229.2 113.3l2.0 2.0-2.0 2.0-2.0-2.0zM77 112.5l2.0 2.0-2.0 2.0-2.0-2.0zM219.3 112.9l2.0 2.0-2.0 2.0-2.0-2.0zM75.3 116.2l2.0 2.0-2.0 2.0-2.0-2.0zM103.7 112.3l2.0 2.0-2.0 2.0-2.0-2.0zM68.6 112.5l2.0 2.0-2.0 2.0-2.0-2.0zM172.1 112.9l2.0 2.0-2.0 2.0-2.0-2.0zM86.2 114.6l2.0 2.0-2.0 2.0-2.0-2.0zM49.3 111.9l2.0 2.0-2.0 2.0-2.0-2.0zM155.4 114.5l2.0 2.0-2.0 2.0-2.0-2.0z" fill="#dcc4d0" fill-opacity="0.75"/>
<path d="M144.2 113.3l2.0 2.0-2.0 2.0-2.0-2.0zM183.5 115.6l2.0 2.0-2.0 2.0-2.0-2.0zM151 112.5l2.0 2.0-2.0 2.0-2.0-2.0zM58 111.8l2.0 2.0-2.0 2.0-2.0-2.0zM149.6 115.9l2.0 2.0-2.0 2.0-2.0-2.0zM185 114.1l2.0 2.0-2.0 2.0-2.0-2.0zM116.4 114.6l2.0 2.0-2.0 2.0-2.0-2.0zM44.2 112.5l2.0 2.0-2.0 2.0-2.0-2.0zM45.2 116.2l2.0 2.0-2.0 2.0-2.0-2.0zM100 114.1l2.0 2.0-2.0 2.0-2.0-2.0zM90.8 111.8l2.0 2.0-2.0 2.0-2.0-2.0zM178.7 115.2l2.0 2.0-2.0 2.0-2.0-2.0zM145.7 114.7l2.0 2.0-2.0 2.0-2.0-2.0zM245.7 113.9l2.0 2.0-2.0 2.0-2.0-2.0zM130.5 115.2l2.0 2.0-2.0 2.0-2.0-2.0zM253.6 113.4l2.0 2.0-2.0 2.0-2.0-2.0zM238.3 113.8l2.0 2.0-2.0 2.0-2.0-2.0zM106.7 112l2.0 2.0-2.0 2.0-2.0-2.0zM174.9 115.7l2.0 2.0-2.0 2.0-2.0-2.0zM191.1 112.8l2.0 2.0-2.0 2.0-2.0-2.0zM118.4 116.2l2.0 2.0-2.0 2.0-2.0-2.0zM221 115.3l2.0 2.0-2.0 2.0-2.0-2.0zM223.4 113.5l2.0 2.0-2.0 2.0-2.0-2.0zM112.8 112.8l2.0 2.0-2.0 2.0-2.0-2.0zM140.8 113.4l2.0 2.0-2.0 2.0-2.0-2.0zM248.4 113.2l2.0 2.0-2.0 2.0-2.0-2.0zM114.7 115.2l2.0 2.0-2.0 2.0-2.0-2.0zM168.5 113.6l2.0 2.0-2.0 2.0-2.0-2.0zM69.3 115.7l2.0 2.0-2.0 2.0-2.0-2.0zM81.4 115.7l2.0 2.0-2.0 2.0-2.0-2.0zM112.7 114.6l2.0 2.0-2.0 2.0-2.0-2.0zM172.7 115.7l2.0 2.0-2.0 2.0-2.0-2.0zM201.9 115.1l2.0 2.0-2.0 2.0-2.0-2.0zM256 115.8l2.0 2.0-2.0 2.0-2.0-2.0zM237.5 112.1l2.0 2.0-2.0 2.0-2.0-2.0zM111.1 113.3l2.0 2.0-2.0 2.0-2.0-2.0zM186.2 115.5l2.0 2.0-2.0 2.0-2.0-2.0zM178.2 113.6l2.0 2.0-2.0 2.0-2.0-2.0zM244.1 114.5l2.0 2.0-2.0 2.0-2.0-2.0zM90.6 113.9l2.0 2.0-2.0 2.0-2.0-2.0zM123.9 111.9l2.0 2.0-2.0 2.0-2.0-2.0zM71.3 112.5l2.0 2.0-2.0 2.0-2.0-2.0zM165 115.5l2.0 2.0-2.0 2.0-2.0-2.0zM72.9 115.7l2.0 2.0-2.0 2.0-2.0-2.0zM95.4 113.9l2.0 2.0-2.0 2.0-2.0-2.0zM133.9 116.2l2.0 2.0-2.0 2.0-2.0-2.0zM55.1 112.1l2.0 2.0-2.0 2.0-2.0-2.0zM161.6 112.4l2.0 2.0-2.0 2.0-2.0-2.0zM255.9 115.3l2.0 2.0-2.0 2.0-2.0-2.0zM99.6 113.9l2.0 2.0-2.0 2.0-2.0-2.0zM253.1 115.3l2.0 2.0-2.0 2.0-2.0-2.0zM42.3 115.6l2.0 2.0-2.0 2.0-2.0-2.0zM116.7 115.9l2.0 2.0-2.0 2.0-2.0-2.0zM257.7 112.7l2.0 2.0-2.0 2.0-2.0-2.0zM151.2 113.2l2.0 2.0-2.0 2.0-2.0-2.0zM167.9 115.5l2.0 2.0-2.0 2.0-2.0-2.0zM94.4 116l2.0 2.0-2.0 2.0-2.0-2.0z" fill="#e8d4d8" fill-opacity="0.75"/>
<path d="M189.9 113.5l2.0 2.0-2.0 2.0-2.0-2.0zM50.9 112.5l2.0 2.0-2.0 2.0-2.0-2.0zM213.5 115.9l2.0 2.0-2.0 2.0-2.0-2.0zM157.1 113.4l2.0 2.0-2.0 2.0-2.0-2.0zM47.6 115.4l2.0 2.0-2.0 2.0-2.0-2.0zM203.7 115.3l2.0 2.0-2.0 2.0-2.0-2.0zM147.6 113.5l2.0 2.0-2.0 2.0-2.0-2.0zM206.6 115.3l2.0 2.0-2.0 2.0-2.0-2.0zM77.5 112.7l2.0 2.0-2.0 2.0-2.0-2.0zM257.7 114l2.0 2.0-2.0 2.0-2.0-2.0zM152.6 116.2l2.0 2.0-2.0 2.0-2.0-2.0zM205.3 114.4l2.0 2.0-2.0 2.0-2.0-2.0zM236.8 112.6l2.0 2.0-2.0 2.0-2.0-2.0zM175.1 114.1l2.0 2.0-2.0 2.0-2.0-2.0zM139.2 112.7l2.0 2.0-2.0 2.0-2.0-2.0zM152.7 114.3l2.0 2.0-2.0 2.0-2.0-2.0zM70.6 115.1l2.0 2.0-2.0 2.0-2.0-2.0zM62.1 115.1l2.0 2.0-2.0 2.0-2.0-2.0zM158.2 116.2l2.0 2.0-2.0 2.0-2.0-2.0zM225.6 112.2l2.0 2.0-2.0 2.0-2.0-2.0zM146.1 112.4l2.0 2.0-2.0 2.0-2.0-2.0zM56.5 116l2.0 2.0-2.0 2.0-2.0-2.0zM243.3 116.2l2.0 2.0-2.0 2.0-2.0-2.0zM170 113.2l2.0 2.0-2.0 2.0-2.0-2.0zM47.4 114.8l2.0 2.0-2.0 2.0-2.0-2.0zM74 114.1l2.0 2.0-2.0 2.0-2.0-2.0zM79.3 115l2.0 2.0-2.0 2.0-2.0-2.0zM116.2 114.9l2.0 2.0-2.0 2.0-2.0-2.0zM129 116.1l2.0 2.0-2.0 2.0-2.0-2.0zM150.7 114.9l2.0 2.0-2.0 2.0-2.0-2.0zM250.1 113.7l2.0 2.0-2.0 2.0-2.0-2.0zM122.5 112.4l2.0 2.0-2.0 2.0-2.0-2.0zM153.3 112.7l2.0 2.0-2.0 2.0-2.0-2.0zM190.3 114.7l2.0 2.0-2.0 2.0-2.0-2.0zM119.8 114.7l2.0 2.0-2.0 2.0-2.0-2.0zM162.6 113.8l2.0 2.0-2.0 2.0-2.0-2.0zM232.6 115.9l2.0 2.0-2.0 2.0-2.0-2.0zM227.3 113.5l2.0 2.0-2.0 2.0-2.0-2.0zM195.8 111.8l2.0 2.0-2.0 2.0-2.0-2.0zM255.3 113.2l2.0 2.0-2.0 2.0-2.0-2.0z" fill="#e6c4ca" fill-opacity="0.75"/>
<path d="M118.9 114.7l2.0 2.0-2.0 2.0-2.0-2.0zM218.3 113.3l2.0 2.0-2.0 2.0-2.0-2.0zM62.8 114.4l2.0 2.0-2.0 2.0-2.0-2.0zM156.7 112.3l2.0 2.0-2.0 2.0-2.0-2.0zM252.8 112.2l2.0 2.0-2.0 2.0-2.0-2.0zM186.2 115.8l2.0 2.0-2.0 2.0-2.0-2.0zM111.8 114.6l2.0 2.0-2.0 2.0-2.0-2.0zM241.3 114.6l2.0 2.0-2.0 2.0-2.0-2.0zM161.9 116.2l2.0 2.0-2.0 2.0-2.0-2.0zM212.3 113l2.0 2.0-2.0 2.0-2.0-2.0zM109.2 113.2l2.0 2.0-2.0 2.0-2.0-2.0zM184.8 114.7l2.0 2.0-2.0 2.0-2.0-2.0zM232.5 115.9l2.0 2.0-2.0 2.0-2.0-2.0zM73.7 114.2l2.0 2.0-2.0 2.0-2.0-2.0zM75.5 114.1l2.0 2.0-2.0 2.0-2.0-2.0zM122.6 114.5l2.0 2.0-2.0 2.0-2.0-2.0zM253.7 112.1l2.0 2.0-2.0 2.0-2.0-2.0zM227 114.9l2.0 2.0-2.0 2.0-2.0-2.0zM47.4 112.6l2.0 2.0-2.0 2.0-2.0-2.0zM118.2 114l2.0 2.0-2.0 2.0-2.0-2.0zM136.7 113.9l2.0 2.0-2.0 2.0-2.0-2.0zM195.3 115l2.0 2.0-2.0 2.0-2.0-2.0zM203.9 112.5l2.0 2.0-2.0 2.0-2.0-2.0zM53.7 113.4l2.0 2.0-2.0 2.0-2.0-2.0zM88.3 116l2.0 2.0-2.0 2.0-2.0-2.0zM201.6 114.9l2.0 2.0-2.0 2.0-2.0-2.0zM123.5 115l2.0 2.0-2.0 2.0-2.0-2.0zM137.7 113.9l2.0 2.0-2.0 2.0-2.0-2.0zM243.3 115.6l2.0 2.0-2.0 2.0-2.0-2.0zM210.8 115.7l2.0 2.0-2.0 2.0-2.0-2.0zM206.4 113.8l2.0 2.0-2.0 2.0-2.0-2.0zM61.9 113.5l2.0 2.0-2.0 2.0-2.0-2.0zM219.5 115.8l2.0 2.0-2.0 2.0-2.0-2.0zM52.1 115.6l2.0 2.0-2.0 2.0-2.0-2.0zM163.2 113.1l2.0 2.0-2.0 2.0-2.0-2.0zM133.1 112.8l2.0 2.0-2.0 2.0-2.0-2.0zM90.6 113.8l2.0 2.0-2.0 2.0-2.0-2.0zM183.3 114.1l2.0 2.0-2.0 2.0-2.0-2.0zM185.1 114l2.0 2.0-2.0 2.0-2.0-2.0zM254.7 112.4l2.0 2.0-2.0 2.0-2.0-2.0zM82.4 114.4l2.0 2.0-2.0 2.0-2.0-2.0z" fill="#e4ccd4" fill-opacity="0.75"/>
<path d="M42 109.8l2.0 2.0-2.0 2.0-2.0-2.0zM44 112.4l2.0 2.0-2.0 2.0-2.0-2.0zM60 110.4l2.0 2.0-2.0 2.0-2.0-2.0zM70 109.1l2.0 2.0-2.0 2.0-2.0-2.0zM74 113l2.0 2.0-2.0 2.0-2.0-2.0zM80 111.1l2.0 2.0-2.0 2.0-2.0-2.0zM100 110.4l2.0 2.0-2.0 2.0-2.0-2.0zM120 109.8l2.0 2.0-2.0 2.0-2.0-2.0z" fill="#b4b6d6" fill-opacity="0.8"/>
<path d="M175.9 71.3l2.1 2.1-2.1 2.1-2.1-2.1zM196 69.1l2.1 2.1-2.1 2.1-2.1-2.1zM152.5 70.3l2.1 2.1-2.1 2.1-2.1-2.1zM141.5 74.2l2.1 2.1-2.1 2.1-2.1-2.1zM143.1 81.9l2.1 2.1-2.1 2.1-2.1-2.1zM163.6 71.8l2.1 2.1-2.1 2.1-2.1-2.1zM189.7 74.4l2.1 2.1-2.1 2.1-2.1-2.1zM171.5 73.3l2.1 2.1-2.1 2.1-2.1-2.1z" fill="#9fa4d1" fill-opacity="0.92"/>
<path d="M182.4 76.8l2.1 2.1-2.1 2.1-2.1-2.1zM175.6 70.9l2.1 2.1-2.1 2.1-2.1-2.1zM147.1 75.6l2.1 2.1-2.1 2.1-2.1-2.1zM146.1 78.1l2.1 2.1-2.1 2.1-2.1-2.1zM160 70.4l2.1 2.1-2.1 2.1-2.1-2.1zM163.7 73.4l2.1 2.1-2.1 2.1-2.1-2.1zM197 73.3l2.1 2.1-2.1 2.1-2.1-2.1zM184.8 69.8l2.1 2.1-2.1 2.1-2.1-2.1zM155 76.4l2.1 2.1-2.1 2.1-2.1-2.1zM160.5 77.4l2.1 2.1-2.1 2.1-2.1-2.1zM160.6 78.3l2.1 2.1-2.1 2.1-2.1-2.1zM176.2 72.8l2.1 2.1-2.1 2.1-2.1-2.1zM184.8 73.5l2.1 2.1-2.1 2.1-2.1-2.1zM141.7 78.7l2.1 2.1-2.1 2.1-2.1-2.1zM166.5 71.5l2.1 2.1-2.1 2.1-2.1-2.1zM180.7 73.5l2.1 2.1-2.1 2.1-2.1-2.1zM188.7 70.1l2.1 2.1-2.1 2.1-2.1-2.1zM144.7 73.2l2.1 2.1-2.1 2.1-2.1-2.1z" fill="#959acc" fill-opacity="0.92"/>
<path d="M142.6 83.7l2.1 2.1-2.1 2.1-2.1-2.1zM167.3 70.9l2.1 2.1-2.1 2.1-2.1-2.1zM171.2 72.9l2.1 2.1-2.1 2.1-2.1-2.1zM157.9 72.8l2.1 2.1-2.1 2.1-2.1-2.1zM161.5 74.5l2.1 2.1-2.1 2.1-2.1-2.1zM194.7 68.5l2.1 2.1-2.1 2.1-2.1-2.1zM157.5 70l2.1 2.1-2.1 2.1-2.1-2.1zM181.9 68.3l2.1 2.1-2.1 2.1-2.1-2.1zM165.7 72.4l2.1 2.1-2.1 2.1-2.1-2.1zM175.3 70.2l2.1 2.1-2.1 2.1-2.1-2.1zM174.4 73.5l2.1 2.1-2.1 2.1-2.1-2.1zM165 73.8l2.1 2.1-2.1 2.1-2.1-2.1z" fill="#7f86c1" fill-opacity="0.92"/>
<path d="M191.5 69.3l2.1 2.1-2.1 2.1-2.1-2.1zM156.7 69.7l2.1 2.1-2.1 2.1-2.1-2.1zM185.6 73.8l2.1 2.1-2.1 2.1-2.1-2.1zM161.2 73.1l2.1 2.1-2.1 2.1-2.1-2.1zM171.5 72.1l2.1 2.1-2.1 2.1-2.1-2.1zM145.4 73.1l2.1 2.1-2.1 2.1-2.1-2.1zM188 71.4l2.1 2.1-2.1 2.1-2.1-2.1zM142.5 80.7l2.1 2.1-2.1 2.1-2.1-2.1zM167.4 70.8l2.1 2.1-2.1 2.1-2.1-2.1zM158.8 73.2l2.1 2.1-2.1 2.1-2.1-2.1zM175.4 73.8l2.1 2.1-2.1 2.1-2.1-2.1zM186.5 73l2.1 2.1-2.1 2.1-2.1-2.1zM147 79.7l2.1 2.1-2.1 2.1-2.1-2.1zM177.1 75.3l2.1 2.1-2.1 2.1-2.1-2.1zM192 69.9l2.1 2.1-2.1 2.1-2.1-2.1z" fill="#555fad" fill-opacity="0.92"/>
<path d="M141.7 72.1l2.1 2.1-2.1 2.1-2.1-2.1zM152.7 74.8l2.1 2.1-2.1 2.1-2.1-2.1zM191 72.8l2.1 2.1-2.1 2.1-2.1-2.1zM141.2 77.5l2.1 2.1-2.1 2.1-2.1-2.1zM167.8 69.9l2.1 2.1-2.1 2.1-2.1-2.1zM169 71.8l2.1 2.1-2.1 2.1-2.1-2.1zM162 76.1l2.1 2.1-2.1 2.1-2.1-2.1zM194.8 67.2l2.1 2.1-2.1 2.1-2.1-2.1zM147.8 78.1l2.1 2.1-2.1 2.1-2.1-2.1zM184.8 71.5l2.1 2.1-2.1 2.1-2.1-2.1zM156 69.1l2.1 2.1-2.1 2.1-2.1-2.1zM183.6 74.3l2.1 2.1-2.1 2.1-2.1-2.1zM182.7 71.8l2.1 2.1-2.1 2.1-2.1-2.1z" fill="#5f69b2" fill-opacity="0.92"/>
<path d="M186.8 73.7l2.1 2.1-2.1 2.1-2.1-2.1zM196.3 71l2.1 2.1-2.1 2.1-2.1-2.1zM144.1 75.2l2.1 2.1-2.1 2.1-2.1-2.1zM149.4 73.8l2.1 2.1-2.1 2.1-2.1-2.1zM161.4 74.8l2.1 2.1-2.1 2.1-2.1-2.1zM141.6 77.8l2.1 2.1-2.1 2.1-2.1-2.1zM170 79.3l2.1 2.1-2.1 2.1-2.1-2.1zM150.3 71.2l2.1 2.1-2.1 2.1-2.1-2.1zM195.9 73.3l2.1 2.1-2.1 2.1-2.1-2.1zM164.3 77.7l2.1 2.1-2.1 2.1-2.1-2.1zM157 65.9l2.1 2.1-2.1 2.1-2.1-2.1zM175.1 62.9l2.1 2.1-2.1 2.1-2.1-2.1zM170.9 72.4l2.1 2.1-2.1 2.1-2.1-2.1z" fill="#757dbc" fill-opacity="0.92"/>
<path d="M158.7 79.4l2.1 2.1-2.1 2.1-2.1-2.1zM195.6 70.4l2.1 2.1-2.1 2.1-2.1-2.1zM179.6 69.1l2.1 2.1-2.1 2.1-2.1-2.1zM176.3 72.9l2.1 2.1-2.1 2.1-2.1-2.1zM147.4 74l2.1 2.1-2.1 2.1-2.1-2.1zM191 71.9l2.1 2.1-2.1 2.1-2.1-2.1z" fill="#4a55a8" fill-opacity="0.92"/>
<path d="M183 70.7l2.1 2.1-2.1 2.1-2.1-2.1zM152 74.4l2.1 2.1-2.1 2.1-2.1-2.1zM170.4 72.1l2.1 2.1-2.1 2.1-2.1-2.1zM182 66.6l2.1 2.1-2.1 2.1-2.1-2.1zM195.7 74.6l2.1 2.1-2.1 2.1-2.1-2.1zM161.2 72.8l2.1 2.1-2.1 2.1-2.1-2.1zM178.2 76.5l2.1 2.1-2.1 2.1-2.1-2.1zM184.1 73.6l2.1 2.1-2.1 2.1-2.1-2.1zM177.3 74.2l2.1 2.1-2.1 2.1-2.1-2.1zM179.7 77.6l2.1 2.1-2.1 2.1-2.1-2.1zM175.9 70.3l2.1 2.1-2.1 2.1-2.1-2.1zM190.7 71.5l2.1 2.1-2.1 2.1-2.1-2.1zM179.9 73.5l2.1 2.1-2.1 2.1-2.1-2.1z" fill="#8a90c6" fill-opacity="0.92"/>
<path d="M193.1 68.2l2.1 2.1-2.1 2.1-2.1-2.1zM166.5 66.6l2.1 2.1-2.1 2.1-2.1-2.1zM147 77l2.1 2.1-2.1 2.1-2.1-2.1zM178.3 66l2.1 2.1-2.1 2.1-2.1-2.1zM151.8 71.5l2.1 2.1-2.1 2.1-2.1-2.1zM154.3 74.7l2.1 2.1-2.1 2.1-2.1-2.1zM156.6 74.6l2.1 2.1-2.1 2.1-2.1-2.1zM186.8 67.3l2.1 2.1-2.1 2.1-2.1-2.1zM194.6 66.6l2.1 2.1-2.1 2.1-2.1-2.1zM195.5 70l2.1 2.1-2.1 2.1-2.1-2.1zM167 68.6l2.1 2.1-2.1 2.1-2.1-2.1zM162.6 76.7l2.1 2.1-2.1 2.1-2.1-2.1z" fill="#6a73b7" fill-opacity="0.92"/>
<path d="M168.3 89.5l2.1 2.1-2.1 2.1-2.1-2.1zM176.5 81.5l2.1 2.1-2.1 2.1-2.1-2.1zM165.6 92l2.1 2.1-2.1 2.1-2.1-2.1zM175.2 89.3l2.1 2.1-2.1 2.1-2.1-2.1zM176.6 87.2l2.1 2.1-2.1 2.1-2.1-2.1zM154.4 88.3l2.1 2.1-2.1 2.1-2.1-2.1zM188.4 85.8l2.1 2.1-2.1 2.1-2.1-2.1zM174.8 86.8l2.1 2.1-2.1 2.1-2.1-2.1zM167.8 83.5l2.1 2.1-2.1 2.1-2.1-2.1zM149.8 85l2.1 2.1-2.1 2.1-2.1-2.1zM170.6 85.4l2.1 2.1-2.1 2.1-2.1-2.1zM155.6 85.5l2.1 2.1-2.1 2.1-2.1-2.1zM163.9 87.5l2.1 2.1-2.1 2.1-2.1-2.1zM146 85.7l2.1 2.1-2.1 2.1-2.1-2.1zM148.4 86.6l2.1 2.1-2.1 2.1-2.1-2.1zM165.4 87.6l2.1 2.1-2.1 2.1-2.1-2.1z" fill="#d86365" fill-opacity="0.92"/>
<path d="M149.8 87.4l2.1 2.1-2.1 2.1-2.1-2.1zM186.1 82l2.1 2.1-2.1 2.1-2.1-2.1zM157.7 85l2.1 2.1-2.1 2.1-2.1-2.1zM172.6 85.2l2.1 2.1-2.1 2.1-2.1-2.1zM181.7 79.5l2.1 2.1-2.1 2.1-2.1-2.1zM144.1 82.4l2.1 2.1-2.1 2.1-2.1-2.1zM180.2 84l2.1 2.1-2.1 2.1-2.1-2.1zM167.9 85.1l2.1 2.1-2.1 2.1-2.1-2.1zM157.6 86.9l2.1 2.1-2.1 2.1-2.1-2.1zM168.7 88.8l2.1 2.1-2.1 2.1-2.1-2.1zM155 83.9l2.1 2.1-2.1 2.1-2.1-2.1zM192.1 78.6l2.1 2.1-2.1 2.1-2.1-2.1zM144.8 85.4l2.1 2.1-2.1 2.1-2.1-2.1z" fill="#de7f81" fill-opacity="0.92"/>
<path d="M187.3 81l2.1 2.1-2.1 2.1-2.1-2.1zM149.6 88.6l2.1 2.1-2.1 2.1-2.1-2.1zM182.4 84l2.1 2.1-2.1 2.1-2.1-2.1zM184.3 85.4l2.1 2.1-2.1 2.1-2.1-2.1zM159.8 82.8l2.1 2.1-2.1 2.1-2.1-2.1z" fill="#e49b9d" fill-opacity="0.92"/>
<path d="M142.5 87.7l2.1 2.1-2.1 2.1-2.1-2.1zM189 82l2.1 2.1-2.1 2.1-2.1-2.1zM142.8 84l2.1 2.1-2.1 2.1-2.1-2.1zM179.3 84.4l2.1 2.1-2.1 2.1-2.1-2.1zM164.4 83.1l2.1 2.1-2.1 2.1-2.1-2.1zM158.4 85.7l2.1 2.1-2.1 2.1-2.1-2.1zM178.4 84.1l2.1 2.1-2.1 2.1-2.1-2.1z" fill="#e6a8ac" fill-opacity="0.92"/>
<path d="M181 90.3l2.1 2.1-2.1 2.1-2.1-2.1zM145.1 86l2.1 2.1-2.1 2.1-2.1-2.1zM146.5 88.4l2.1 2.1-2.1 2.1-2.1-2.1zM184.3 81.4l2.1 2.1-2.1 2.1-2.1-2.1zM182.6 81.8l2.1 2.1-2.1 2.1-2.1-2.1zM177.8 89.6l2.1 2.1-2.1 2.1-2.1-2.1zM194.3 80.2l2.1 2.1-2.1 2.1-2.1-2.1zM154.9 83.8l2.1 2.1-2.1 2.1-2.1-2.1zM155 84.9l2.1 2.1-2.1 2.1-2.1-2.1zM184.5 83.4l2.1 2.1-2.1 2.1-2.1-2.1z" fill="#d03a3a" fill-opacity="0.92"/>
<path d="M181.6 78.9l2.1 2.1-2.1 2.1-2.1-2.1zM164.6 87.2l2.1 2.1-2.1 2.1-2.1-2.1zM173.8 83.1l2.1 2.1-2.1 2.1-2.1-2.1zM170.5 87.1l2.1 2.1-2.1 2.1-2.1-2.1zM154.4 89.5l2.1 2.1-2.1 2.1-2.1-2.1zM145.9 87l2.1 2.1-2.1 2.1-2.1-2.1zM153.7 80.9l2.1 2.1-2.1 2.1-2.1-2.1zM196.4 85.4l2.1 2.1-2.1 2.1-2.1-2.1zM163 83.1l2.1 2.1-2.1 2.1-2.1-2.1zM167.5 88.8l2.1 2.1-2.1 2.1-2.1-2.1zM191.2 80.6l2.1 2.1-2.1 2.1-2.1-2.1zM154.1 84.8l2.1 2.1-2.1 2.1-2.1-2.1zM148.4 91.4l2.1 2.1-2.1 2.1-2.1-2.1zM162.3 85.9l2.1 2.1-2.1 2.1-2.1-2.1zM162.8 88.5l2.1 2.1-2.1 2.1-2.1-2.1zM157.3 84.5l2.1 2.1-2.1 2.1-2.1-2.1zM182.4 82.5l2.1 2.1-2.1 2.1-2.1-2.1z" fill="#d34848" fill-opacity="0.92"/>
<path d="M144.2 86l2.1 2.1-2.1 2.1-2.1-2.1zM156 88.4l2.1 2.1-2.1 2.1-2.1-2.1zM191 85.2l2.1 2.1-2.1 2.1-2.1-2.1zM142.7 86.1l2.1 2.1-2.1 2.1-2.1-2.1zM144.5 83.2l2.1 2.1-2.1 2.1-2.1-2.1zM182.5 83.5l2.1 2.1-2.1 2.1-2.1-2.1zM194.5 79l2.1 2.1-2.1 2.1-2.1-2.1z" fill="#e18d8f" fill-opacity="0.92"/>
<path d="M174.9 83.8l2.1 2.1-2.1 2.1-2.1-2.1zM155.5 86.7l2.1 2.1-2.1 2.1-2.1-2.1zM163.9 83.8l2.1 2.1-2.1 2.1-2.1-2.1zM167.7 86.8l2.1 2.1-2.1 2.1-2.1-2.1zM182.7 83.1l2.1 2.1-2.1 2.1-2.1-2.1zM193.5 87.2l2.1 2.1-2.1 2.1-2.1-2.1zM158.5 91.3l2.1 2.1-2.1 2.1-2.1-2.1zM147.6 84.8l2.1 2.1-2.1 2.1-2.1-2.1zM180.9 81l2.1 2.1-2.1 2.1-2.1-2.1zM190 79.2l2.1 2.1-2.1 2.1-2.1-2.1z" fill="#d65656" fill-opacity="0.92"/>
<path d="M189.5 86.8l2.1 2.1-2.1 2.1-2.1-2.1zM152.5 80.8l2.1 2.1-2.1 2.1-2.1-2.1zM154.4 84.8l2.1 2.1-2.1 2.1-2.1-2.1zM146.3 81.1l2.1 2.1-2.1 2.1-2.1-2.1zM151.2 86.2l2.1 2.1-2.1 2.1-2.1-2.1zM147.2 86.6l2.1 2.1-2.1 2.1-2.1-2.1zM142 89.5l2.1 2.1-2.1 2.1-2.1-2.1zM165 88.2l2.1 2.1-2.1 2.1-2.1-2.1zM171.2 84.3l2.1 2.1-2.1 2.1-2.1-2.1zM147.7 88.9l2.1 2.1-2.1 2.1-2.1-2.1z" fill="#db7173" fill-opacity="0.92"/>
<path d="M207.6 82.7l2.1 2.1-2.1 2.1-2.1-2.1zM196.4 87.3l2.1 2.1-2.1 2.1-2.1-2.1zM212.9 90.1l2.1 2.1-2.1 2.1-2.1-2.1zM205.1 85.8l2.1 2.1-2.1 2.1-2.1-2.1zM218.2 86.3l2.1 2.1-2.1 2.1-2.1-2.1zM200.4 85.1l2.1 2.1-2.1 2.1-2.1-2.1zM206.1 89.2l2.1 2.1-2.1 2.1-2.1-2.1zM212.7 83.7l2.1 2.1-2.1 2.1-2.1-2.1zM207.3 83.8l2.1 2.1-2.1 2.1-2.1-2.1zM221.1 84.4l2.1 2.1-2.1 2.1-2.1-2.1zM197.2 87.5l2.1 2.1-2.1 2.1-2.1-2.1z" fill="#9090c4" fill-opacity="0.9"/>
<path d="M223.1 87.7l2.1 2.1-2.1 2.1-2.1-2.1zM200.8 86l2.1 2.1-2.1 2.1-2.1-2.1zM215 84.6l2.1 2.1-2.1 2.1-2.1-2.1zM195.6 87.9l2.1 2.1-2.1 2.1-2.1-2.1zM210.8 87.5l2.1 2.1-2.1 2.1-2.1-2.1zM221.8 88.7l2.1 2.1-2.1 2.1-2.1-2.1zM221 88.2l2.1 2.1-2.1 2.1-2.1-2.1zM223.3 86.2l2.1 2.1-2.1 2.1-2.1-2.1zM200.2 87.3l2.1 2.1-2.1 2.1-2.1-2.1zM204.4 88.2l2.1 2.1-2.1 2.1-2.1-2.1zM217.2 86.6l2.1 2.1-2.1 2.1-2.1-2.1zM213.2 86l2.1 2.1-2.1 2.1-2.1-2.1z" fill="#c4a0b4" fill-opacity="0.9"/>
<path d="M195 84l2.1 2.1-2.1 2.1-2.1-2.1zM201 84l2.1 2.1-2.1 2.1-2.1-2.1zM205.6 85.4l2.1 2.1-2.1 2.1-2.1-2.1zM208.8 89.1l2.1 2.1-2.1 2.1-2.1-2.1zM222.8 87.5l2.1 2.1-2.1 2.1-2.1-2.1zM214.7 88.3l2.1 2.1-2.1 2.1-2.1-2.1zM203.9 90.3l2.1 2.1-2.1 2.1-2.1-2.1zM203 86.9l2.1 2.1-2.1 2.1-2.1-2.1zM215 85.2l2.1 2.1-2.1 2.1-2.1-2.1z" fill="#9c98c4" fill-opacity="0.9"/>
<path d="M196 88.7l2.1 2.1-2.1 2.1-2.1-2.1zM218.1 88.3l2.1 2.1-2.1 2.1-2.1-2.1zM214.4 90.2l2.1 2.1-2.1 2.1-2.1-2.1zM195.8 86.9l2.1 2.1-2.1 2.1-2.1-2.1zM214.4 87.5l2.1 2.1-2.1 2.1-2.1-2.1zM209 85.9l2.1 2.1-2.1 2.1-2.1-2.1zM201.2 86.9l2.1 2.1-2.1 2.1-2.1-2.1z" fill="#b890b0" fill-opacity="0.9"/>
<path d="M206.4 87.8l2.1 2.1-2.1 2.1-2.1-2.1zM205.4 88.2l2.1 2.1-2.1 2.1-2.1-2.1zM196.1 85.6l2.1 2.1-2.1 2.1-2.1-2.1zM206.5 86.7l2.1 2.1-2.1 2.1-2.1-2.1zM212.7 90.2l2.1 2.1-2.1 2.1-2.1-2.1zM218.1 86.5l2.1 2.1-2.1 2.1-2.1-2.1z" fill="#ac9cc0" fill-opacity="0.9"/>
<path d="M209.5 77.7l2.1 2.1-2.1 2.1-2.1-2.1zM212.2 77.7l2.1 2.1-2.1 2.1-2.1-2.1zM226 82.6l2.1 2.1-2.1 2.1-2.1-2.1zM230.9 82.6l2.1 2.1-2.1 2.1-2.1-2.1zM188.6 47.1l2.1 2.1-2.1 2.1-2.1-2.1zM232.3 56.4l2.1 2.1-2.1 2.1-2.1-2.1z" fill="#d04848"/>
<path d="M212.2 80.2l2.1 2.1-2.1 2.1-2.1-2.1z" fill="#d85858"/>
<path d="M199.1 75.7l2.1 2.1-2.1 2.1-2.1-2.1zM201.9 73.3l2.1 2.1-2.1 2.1-2.1-2.1zM209.5 65.6l2.1 2.1-2.1 2.1-2.1-2.1zM216.4 72.5l2.1 2.1-2.1 2.1-2.1-2.1zM219.5 74.3l2.1 2.1-2.1 2.1-2.1-2.1zM221.5 77.7l2.1 2.1-2.1 2.1-2.1-2.1zM230.6 66.4l2.1 2.1-2.1 2.1-2.1-2.1zM226.4 59.8l2.1 2.1-2.1 2.1-2.1-2.1zM188.6 28l2.1 2.1-2.1 2.1-2.1-2.1zM226.2 59.9l2.1 2.1-2.1 2.1-2.1-2.1zM232.3 48.5l2.1 2.1-2.1 2.1-2.1-2.1z" fill="#5a66ac"/>
<path d="M204.7 74.3l2.1 2.1-2.1 2.1-2.1-2.1z" fill="#6a74b0"/>
<path d="M211.6 69.7l2.1 2.1-2.1 2.1-2.1-2.1zM210.4 58.1l2.1 2.1-2.1 2.1-2.1-2.1zM61.5 85.5l2.1 2.1-2.1 2.1-2.1-2.1z" fill="#8a8ebc"/>
<path d="M232.8 84l2.1 2.1-2.1 2.1-2.1-2.1zM234.1 86.6l2.1 2.1-2.1 2.1-2.1-2.1zM231.4 79.6l2.1 2.1-2.1 2.1-2.1-2.1zM228.7 85.3l2.1 2.1-2.1 2.1-2.1-2.1z" fill="#8a8ac0" fill-opacity="0.9"/>
<path d="M230.9 78.6l2.1 2.1-2.1 2.1-2.1-2.1zM231.2 94.4l2.1 2.1-2.1 2.1-2.1-2.1zM233.8 77.1l2.1 2.1-2.1 2.1-2.1-2.1zM230.8 93.5l2.1 2.1-2.1 2.1-2.1-2.1zM229.9 72l2.1 2.1-2.1 2.1-2.1-2.1zM228.6 86.2l2.1 2.1-2.1 2.1-2.1-2.1z" fill="#b04a5a" fill-opacity="0.9"/>
<path d="M229.4 88.1l2.1 2.1-2.1 2.1-2.1-2.1zM227.2 93.1l2.1 2.1-2.1 2.1-2.1-2.1zM234.1 80l2.1 2.1-2.1 2.1-2.1-2.1zM227.7 84.4l2.1 2.1-2.1 2.1-2.1-2.1zM230.7 96.4l2.1 2.1-2.1 2.1-2.1-2.1z" fill="#a06a88" fill-opacity="0.9"/>
<path d="M228.5 78.6l2.1 2.1-2.1 2.1-2.1-2.1zM233.5 72.3l2.1 2.1-2.1 2.1-2.1-2.1zM231 67.5l2.1 2.1-2.1 2.1-2.1-2.1zM227.6 73.7l2.1 2.1-2.1 2.1-2.1-2.1zM230.8 85.9l2.1 2.1-2.1 2.1-2.1-2.1zM229.3 81.5l2.1 2.1-2.1 2.1-2.1-2.1z" fill="#5a5a98" fill-opacity="0.9"/>
<path d="M233.3 86.6l2.1 2.1-2.1 2.1-2.1-2.1zM228.2 78l2.1 2.1-2.1 2.1-2.1-2.1zM232 67.5l2.1 2.1-2.1 2.1-2.1-2.1zM234.7 92.6l2.1 2.1-2.1 2.1-2.1-2.1zM233.1 93.9l2.1 2.1-2.1 2.1-2.1-2.1z" fill="#6a6aa8" fill-opacity="0.9"/>
<path d="M227.5 81.9l2.1 2.1-2.1 2.1-2.1-2.1zM234.1 78l2.1 2.1-2.1 2.1-2.1-2.1zM234.1 66.8l2.1 2.1-2.1 2.1-2.1-2.1zM232.7 96.1l2.1 2.1-2.1 2.1-2.1-2.1z" fill="#c05060" fill-opacity="0.9"/>
<path d="M232.4 93.2l2.1 2.1-2.1 2.1-2.1-2.1zM231.6 83.3l2.1 2.1-2.1 2.1-2.1-2.1z" fill="#c87a8a" fill-opacity="0.9"/>
<path d="M229.4 108.7l2.1 2.1-2.1 2.1-2.1-2.1zM227.6 109.9l2.1 2.1-2.1 2.1-2.1-2.1zM231.4 107l2.1 2.1-2.1 2.1-2.1-2.1zM231.3 107.8l2.1 2.1-2.1 2.1-2.1-2.1zM227.7 108.4l2.1 2.1-2.1 2.1-2.1-2.1zM227.6 97.1l2.1 2.1-2.1 2.1-2.1-2.1z" fill="#d0d0e0" fill-opacity="0.85"/>
<path d="M231.2 114l2.1 2.1-2.1 2.1-2.1-2.1zM227 100.8l2.1 2.1-2.1 2.1-2.1-2.1zM234.8 106.8l2.1 2.1-2.1 2.1-2.1-2.1z" fill="#e0c8d0" fill-opacity="0.85"/>
<path d="M234.9 109.9l2.1 2.1-2.1 2.1-2.1-2.1zM233.5 114.5l2.1 2.1-2.1 2.1-2.1-2.1zM230.7 107.9l2.1 2.1-2.1 2.1-2.1-2.1zM231.2 97.4l2.1 2.1-2.1 2.1-2.1-2.1zM234.6 102.3l2.1 2.1-2.1 2.1-2.1-2.1zM249.6 95.6l2.1 2.1-2.1 2.1-2.1-2.1zM240.5 102.2l2.1 2.1-2.1 2.1-2.1-2.1zM248 104.1l2.1 2.1-2.1 2.1-2.1-2.1zM240.5 110.5l2.1 2.1-2.1 2.1-2.1-2.1zM250 109.6l2.1 2.1-2.1 2.1-2.1-2.1zM239 98.8l2.1 2.1-2.1 2.1-2.1-2.1z" fill="#c8c8dc" fill-opacity="0.85"/>
<path d="M238.4 107.1l2.1 2.1-2.1 2.1-2.1-2.1zM255.4 105.1l2.1 2.1-2.1 2.1-2.1-2.1zM251.9 100.8l2.1 2.1-2.1 2.1-2.1-2.1z" fill="#b8bcd8" fill-opacity="0.85"/>
<path d="M245.8 96.6l2.1 2.1-2.1 2.1-2.1-2.1zM241.9 100.7l2.1 2.1-2.1 2.1-2.1-2.1zM251.6 109.1l2.1 2.1-2.1 2.1-2.1-2.1zM240.7 98.4l2.1 2.1-2.1 2.1-2.1-2.1z" fill="#dcb0b8" fill-opacity="0.85"/>
<path d="M245.4 89.8l2.1 2.1-2.1 2.1-2.1-2.1zM241.5 110.5l2.1 2.1-2.1 2.1-2.1-2.1zM254.3 97.7l2.1 2.1-2.1 2.1-2.1-2.1zM251.2 107.7l2.1 2.1-2.1 2.1-2.1-2.1z" fill="#e8b8c0" fill-opacity="0.85"/>
<path d="M254.5 101.8l2.1 2.1-2.1 2.1-2.1-2.1zM254.1 107.4l2.1 2.1-2.1 2.1-2.1-2.1zM250 108l2.1 2.1-2.1 2.1-2.1-2.1zM244.9 89.2l2.1 2.1-2.1 2.1-2.1-2.1zM255.3 96.4l2.1 2.1-2.1 2.1-2.1-2.1zM254.9 110.2l2.1 2.1-2.1 2.1-2.1-2.1zM252.6 108.9l2.1 2.1-2.1 2.1-2.1-2.1zM251.6 101.9l2.1 2.1-2.1 2.1-2.1-2.1z" fill="#e0c0c8" fill-opacity="0.85"/>
<path d="M245.6 87.4l2.1 2.1-2.1 2.1-2.1-2.1zM241.9 100.7l2.1 2.1-2.1 2.1-2.1-2.1zM246.4 109.1l2.1 2.1-2.1 2.1-2.1-2.1zM249.6 101.9l2.1 2.1-2.1 2.1-2.1-2.1zM250.9 105.2l2.1 2.1-2.1 2.1-2.1-2.1z" fill="#d4d4e4" fill-opacity="0.85"/>
<path d="M234.3 89l2.1 2.1-2.1 2.1-2.1-2.1z" fill="#4a5090"/>
<path d="M240.5 71.5l2.1 2.1-2.1 2.1-2.1-2.1z" fill="#c8c8d4"/>
<path d="M249.5 87.4l2.1 2.1-2.1 2.1-2.1-2.1z" fill="#a0a4cc"/>
<path d="M249.5 90.9l2.1 2.1-2.1 2.1-2.1-2.1zM232 99.4l2.1 2.1-2.1 2.1-2.1-2.1z" fill="#d06070"/>
<path d="M231 96.9l2.1 2.1-2.1 2.1-2.1-2.1zM212.2 56.8l2.1 2.1-2.1 2.1-2.1-2.1z" fill="#7a80b8"/>
<path d="M41.7 31l2.1 2.1-2.1 2.1-2.1-2.1zM65.8 75.5l2.1 2.1-2.1 2.1-2.1-2.1zM80.4 46.8l2.1 2.1-2.1 2.1-2.1-2.1zM128.7 38.4l2.1 2.1-2.1 2.1-2.1-2.1zM141.2 36.3l2.1 2.1-2.1 2.1-2.1-2.1z" fill="#6a70a6"/>
<path d="M41.7 49l2.1 2.1-2.1 2.1-2.1-2.1zM41.8 81.7l2.1 2.1-2.1 2.1-2.1-2.1zM80.4 67l2.1 2.1-2.1 2.1-2.1-2.1zM128.7 62.8l2.1 2.1-2.1 2.1-2.1-2.1zM141 56.2l2.1 2.1-2.1 2.1-2.1-2.1zM65.9 86.8l2.1 2.1-2.1 2.1-2.1-2.1zM61.5 92.5l2.1 2.1-2.1 2.1-2.1-2.1z" fill="#c4505e"/>
<path d="M42.6 68.3l2.1 2.1-2.1 2.1-2.1-2.1z" fill="#7075a8"/>
<path d="M51 75l2.1 2.1-2.1 2.1-2.1-2.1z" fill="#d8d8d8"/>
<path d="M143.5 52.7l2.1 2.1-2.1 2.1-2.1-2.1zM240.6 71.7l2.1 2.1-2.1 2.1-2.1-2.1z" fill="#cfcfd8"/>
<path d="M143.5 60.8l2.1 2.1-2.1 2.1-2.1-2.1z" fill="#e0a8b0"/>
<path d="M176.9 60.6l2.1 2.1-2.1 2.1-2.1-2.1z" fill="#d0d0dc"/>
<path d="M52.4 94.8l2.1 2.1-2.1 2.1-2.1-2.1z" fill="#dcdcdc"/>
<path d="M43.1 98.7l2.1 2.1-2.1 2.1-2.1-2.1z" fill="#e0e0e6"/>
<text x="32.10" y="125.10" font-size="4.6" text-anchor="start" font-weight="normal" fill="#000">RAB3GAP1</text>
<line x1="38.50" y1="127.30" x2="47.80" y2="127.30" stroke="#3a6e3a" stroke-width="1.35"/>
<path d="M48.40 127.30L45.60 125.54L45.60 129.06Z" fill="#3a6e3a"/>
<line x1="38.50" y1="127.30" x2="47.80" y2="127.30" stroke="#3a6e3a" stroke-width="1.35"/>
<path d="M37.90 127.30L40.70 125.54L40.70 129.06Z" fill="#3a6e3a"/>
<text x="81.50" y="128.40" font-size="4.6" text-anchor="middle" font-weight="normal" fill="#000">ZRANB3</text>
<line x1="38.50" y1="130.40" x2="122.00" y2="130.40" stroke="#3a6e3a" stroke-width="1.35"/>
<path d="M37.90 130.40L40.70 128.64L40.70 132.16Z" fill="#3a6e3a"/>
<text x="133.70" y="133.30" font-size="4.6" text-anchor="start" font-weight="normal" fill="#000">R3HDM1</text>
<line x1="121.10" y1="135.10" x2="165.00" y2="135.10" stroke="#3a6e3a" stroke-width="1.35"/>
<path d="M165.60 135.10L162.80 133.34L162.80 136.86Z" fill="#3a6e3a"/>
<text x="150.20" y="125.40" font-size="4.6" text-anchor="middle" font-weight="normal" fill="#000">miR-128-1</text>
<line x1="147.50" y1="127.50" x2="150.20" y2="127.50" stroke="#3a6e3a" stroke-width="1.35"/>
<path d="M150.80 127.50L148.40 126.06L148.40 128.94Z" fill="#3a6e3a"/>
<text x="170.60" y="128.30" font-size="4.6" text-anchor="middle" font-weight="normal" fill="#000">UBXN4</text>
<line x1="165.80" y1="130.30" x2="175.60" y2="130.30" stroke="#3a6e3a" stroke-width="1.35"/>
<path d="M176.20 130.30L173.40 128.54L173.40 132.06Z" fill="#3a6e3a"/>
<text x="191.60" y="124.90" font-size="4.6" text-anchor="middle" font-weight="normal" fill="#000">MCM6</text>
<line x1="185.40" y1="127.30" x2="194.30" y2="127.30" stroke="#3a6e3a" stroke-width="1.35"/>
<path d="M184.80 127.30L187.60 125.54L187.60 129.06Z" fill="#3a6e3a"/>
<text x="180.90" y="132.70" font-size="4.6" text-anchor="middle" font-weight="normal" fill="#000">LCT</text>
<line x1="174.70" y1="134.40" x2="186.30" y2="134.40" stroke="#3a6e3a" stroke-width="1.35"/>
<path d="M174.10 134.40L176.90 132.64L176.90 136.16Z" fill="#3a6e3a"/>
<text x="208.50" y="128.80" font-size="4.6" text-anchor="middle" font-weight="normal" fill="#000">DARS</text>
<line x1="198.80" y1="130.30" x2="216.60" y2="130.30" stroke="#3a6e3a" stroke-width="1.35"/>
<path d="M198.20 130.30L201.00 128.54L201.00 132.06Z" fill="#3a6e3a"/>
<text x="245.00" y="132.70" font-size="4.6" text-anchor="middle" font-weight="normal" fill="#000">CXCR4</text>
<line x1="243.30" y1="134.40" x2="246.00" y2="134.40" stroke="#3a6e3a" stroke-width="1.35"/>
<path d="M242.70 134.40L245.10 132.96L245.10 135.84Z" fill="#3a6e3a"/>
<defs><linearGradient id="gblue" x1="0" y1="0" x2="0" y2="1"><stop offset="0" stop-color="#44549e"/><stop offset="0.5" stop-color="#a8b0d6"/><stop offset="1" stop-color="#f0f1f8"/></linearGradient></defs>
<defs><linearGradient id="gred" x1="0" y1="0" x2="0" y2="1"><stop offset="0" stop-color="#c83040"/><stop offset="0.5" stop-color="#e8a8b0"/><stop offset="1" stop-color="#f8f0f0"/></linearGradient></defs>
<defs><linearGradient id="ggreen" x1="0" y1="0" x2="0" y2="1"><stop offset="0" stop-color="#3c723c"/><stop offset="0.5" stop-color="#a0b8a0"/><stop offset="1" stop-color="#eef0ee"/></linearGradient></defs>
<rect x="235.60" y="23.30" width="3.70" height="34.40" fill="url(#gblue)" stroke="none" stroke-width="1"/>
<text x="237.45" y="21.80" font-size="5.0" text-anchor="middle" font-weight="normal" fill="#000">TC</text>
<rect x="245.60" y="23.30" width="3.70" height="34.40" fill="url(#gred)" stroke="none" stroke-width="1"/>
<text x="247.45" y="21.80" font-size="5.0" text-anchor="middle" font-weight="normal" fill="#000">LDL</text>
<text x="250.90" y="25.30" font-size="5.0" text-anchor="start" font-weight="normal" fill="#000">1</text>
<text x="250.90" y="43.50" font-size="5.8" text-anchor="start" font-weight="normal" fill="#000"><tspan font-style="italic">R</tspan><tspan font-size="3.6" dy="-2">2</tspan></text>
<text x="250.90" y="60.10" font-size="5.0" text-anchor="start" font-weight="normal" fill="#000">0</text>
<rect x="30.40" y="184.40" width="230.00" height="122.10" fill="none" stroke="#3a3a3a" stroke-width="1.1"/>
<line x1="26.40" y1="288.00" x2="30.40" y2="288.00" stroke="#333" stroke-width="0.9"/>
<text x="23.40" y="290.90" font-size="8.2" text-anchor="end" font-weight="normal" fill="#000">0</text>
<line x1="26.40" y1="274.80" x2="30.40" y2="274.80" stroke="#333" stroke-width="0.9"/>
<text x="23.40" y="277.70" font-size="8.2" text-anchor="end" font-weight="normal" fill="#000">2</text>
<line x1="26.40" y1="261.60" x2="30.40" y2="261.60" stroke="#333" stroke-width="0.9"/>
<text x="23.40" y="264.50" font-size="8.2" text-anchor="end" font-weight="normal" fill="#000">4</text>
<line x1="26.40" y1="248.40" x2="30.40" y2="248.40" stroke="#333" stroke-width="0.9"/>
<text x="23.40" y="251.30" font-size="8.2" text-anchor="end" font-weight="normal" fill="#000">6</text>
<line x1="26.40" y1="235.20" x2="30.40" y2="235.20" stroke="#333" stroke-width="0.9"/>
<text x="23.40" y="238.10" font-size="8.2" text-anchor="end" font-weight="normal" fill="#000">8</text>
<line x1="26.40" y1="222.00" x2="30.40" y2="222.00" stroke="#333" stroke-width="0.9"/>
<text x="23.40" y="224.90" font-size="8.2" text-anchor="end" font-weight="normal" fill="#000">10</text>
<line x1="26.40" y1="208.80" x2="30.40" y2="208.80" stroke="#333" stroke-width="0.9"/>
<text x="23.40" y="211.70" font-size="8.2" text-anchor="end" font-weight="normal" fill="#000">12</text>
<line x1="26.40" y1="195.60" x2="30.40" y2="195.60" stroke="#333" stroke-width="0.9"/>
<text x="23.40" y="198.50" font-size="8.2" text-anchor="end" font-weight="normal" fill="#000">14</text>
<line x1="260.40" y1="288.00" x2="263.80" y2="288.00" stroke="#333" stroke-width="0.9"/>
<text x="266.40" y="290.90" font-size="8.2" text-anchor="start" font-weight="normal" fill="#000">0</text>
<line x1="260.40" y1="259.80" x2="263.80" y2="259.80" stroke="#333" stroke-width="0.9"/>
<text x="266.40" y="262.70" font-size="8.2" text-anchor="start" font-weight="normal" fill="#000">15</text>
<line x1="260.40" y1="231.60" x2="263.80" y2="231.60" stroke="#333" stroke-width="0.9"/>
<text x="266.40" y="234.50" font-size="8.2" text-anchor="start" font-weight="normal" fill="#000">30</text>
<line x1="260.40" y1="203.40" x2="263.80" y2="203.40" stroke="#333" stroke-width="0.9"/>
<text x="266.40" y="206.30" font-size="8.2" text-anchor="start" font-weight="normal" fill="#000">45</text>
<line x1="63.60" y1="306.50" x2="63.60" y2="309.50" stroke="#333" stroke-width="0.9"/>
<text x="63.60" y="319.90" font-size="7.9" text-anchor="middle" font-weight="normal" fill="#000">25,800</text>
<line x1="144.90" y1="306.50" x2="144.90" y2="309.50" stroke="#333" stroke-width="0.9"/>
<text x="144.90" y="319.90" font-size="7.9" text-anchor="middle" font-weight="normal" fill="#000">26,000</text>
<line x1="226.90" y1="306.50" x2="226.90" y2="309.50" stroke="#333" stroke-width="0.9"/>
<text x="226.90" y="319.90" font-size="7.9" text-anchor="middle" font-weight="normal" fill="#000">26,200</text>
<text x="145.20" y="179.60" font-size="8.15" text-anchor="middle" font-weight="normal" fill="#000">hsa-miR-148a</text>
<text x="145.20" y="332.00" font-size="8.1" text-anchor="middle" font-weight="normal" fill="#000">Chromosome 7 position (kb)</text>
<text transform="translate(8.6 245.05) rotate(-90)" font-size="8" text-anchor="middle" fill="#000"><tspan font-style="italic">P</tspan> value (−log <tspan font-style="italic">P</tspan>)</text>
<text transform="translate(281.9 245.05) rotate(90)" font-size="8" text-anchor="middle" fill="#000">Recombination rate (cM/Mb)</text>
<text transform="translate(0.5 182.00) scale(0.84 1)" font-size="16.8" font-weight="bold" fill="#000">b</text>
<rect x="225.70" y="192.60" width="3.70" height="34.40" fill="url(#ggreen)" stroke="none" stroke-width="1"/>
<text x="227.55" y="191.10" font-size="5.0" text-anchor="middle" font-weight="normal" fill="#000">TC</text>
<rect x="235.50" y="192.60" width="3.70" height="34.40" fill="url(#gblue)" stroke="none" stroke-width="1"/>
<text x="237.35" y="191.10" font-size="5.0" text-anchor="middle" font-weight="normal" fill="#000">TG</text>
<rect x="245.40" y="192.60" width="3.70" height="34.40" fill="url(#gred)" stroke="none" stroke-width="1"/>
<text x="247.25" y="191.10" font-size="5.0" text-anchor="middle" font-weight="normal" fill="#000">LDL</text>
<text x="250.70" y="194.60" font-size="5.0" text-anchor="start" font-weight="normal" fill="#000">1</text>
<text x="250.70" y="212.80" font-size="5.8" text-anchor="start" font-weight="normal" fill="#000"><tspan font-style="italic">R</tspan><tspan font-size="3.6" dy="-2">2</tspan></text>
<text x="250.70" y="229.40" font-size="5.0" text-anchor="start" font-weight="normal" fill="#000">0</text>
<polyline points="40,287.5 60.5,287.5 60.7,273.3 61,287.5 64.5,287.5 64.5,232 64.7,287.5 66,287.5 66,276 71,276 71,287.5 80.8,287.5 80.8,272.4 83.4,272.4 83.4,287.5 108.3,287.5 108.3,214 108.5,287.5 120.7,287.5 120.7,224 121,287.5 160.8,287.5 160.8,259 161,287.5 199,287.5 199,269.8 199.3,287.5 255,287.5" fill="none" stroke="#a0a0a0" stroke-width="0.8"/>
<path d="M43.1 285.2l2.1 2.1-2.1 2.1-2.1-2.1zM60.6 285.8l2.1 2.1-2.1 2.1-2.1-2.1zM114.1 284.6l2.1 2.1-2.1 2.1-2.1-2.1zM117.1 284.6l2.1 2.1-2.1 2.1-2.1-2.1zM47 280.7l2.1 2.1-2.1 2.1-2.1-2.1zM180.8 284.5l2.1 2.1-2.1 2.1-2.1-2.1zM112.9 283.7l2.1 2.1-2.1 2.1-2.1-2.1zM95.4 280.5l2.1 2.1-2.1 2.1-2.1-2.1zM115.6 285.8l2.1 2.1-2.1 2.1-2.1-2.1zM172.9 283.9l2.1 2.1-2.1 2.1-2.1-2.1zM132.1 285.1l2.1 2.1-2.1 2.1-2.1-2.1zM118.9 283.2l2.1 2.1-2.1 2.1-2.1-2.1zM231.2 281l2.1 2.1-2.1 2.1-2.1-2.1zM79.6 285.7l2.1 2.1-2.1 2.1-2.1-2.1zM86.5 279.5l2.1 2.1-2.1 2.1-2.1-2.1zM92.1 279.8l2.1 2.1-2.1 2.1-2.1-2.1zM197.7 280.5l2.1 2.1-2.1 2.1-2.1-2.1zM57 282.6l2.1 2.1-2.1 2.1-2.1-2.1zM135.3 282.7l2.1 2.1-2.1 2.1-2.1-2.1zM91.2 278.7l2.1 2.1-2.1 2.1-2.1-2.1zM230.8 283.2l2.1 2.1-2.1 2.1-2.1-2.1zM160.3 280.3l2.1 2.1-2.1 2.1-2.1-2.1zM114 279l2.1 2.1-2.1 2.1-2.1-2.1zM97.8 280.4l2.1 2.1-2.1 2.1-2.1-2.1zM212.9 282.2l2.1 2.1-2.1 2.1-2.1-2.1zM143.2 285l2.1 2.1-2.1 2.1-2.1-2.1zM229.5 283.6l2.1 2.1-2.1 2.1-2.1-2.1zM145.7 284.7l2.1 2.1-2.1 2.1-2.1-2.1zM204.8 280.8l2.1 2.1-2.1 2.1-2.1-2.1zM61.1 282.8l2.1 2.1-2.1 2.1-2.1-2.1zM179.8 284.7l2.1 2.1-2.1 2.1-2.1-2.1zM213.9 279l2.1 2.1-2.1 2.1-2.1-2.1zM167.1 281.1l2.1 2.1-2.1 2.1-2.1-2.1zM93.1 284.8l2.1 2.1-2.1 2.1-2.1-2.1zM234.4 283.3l2.1 2.1-2.1 2.1-2.1-2.1zM174.9 285l2.1 2.1-2.1 2.1-2.1-2.1zM230.8 283.8l2.1 2.1-2.1 2.1-2.1-2.1zM245.5 280.8l2.1 2.1-2.1 2.1-2.1-2.1zM128.2 281l2.1 2.1-2.1 2.1-2.1-2.1zM197.5 279.9l2.1 2.1-2.1 2.1-2.1-2.1zM247.4 284.1l2.1 2.1-2.1 2.1-2.1-2.1zM46.1 284.7l2.1 2.1-2.1 2.1-2.1-2.1zM85.2 278.7l2.1 2.1-2.1 2.1-2.1-2.1zM229 285.6l2.1 2.1-2.1 2.1-2.1-2.1zM232 283.4l2.1 2.1-2.1 2.1-2.1-2.1zM187 284.4l2.1 2.1-2.1 2.1-2.1-2.1zM42.7 278.9l2.1 2.1-2.1 2.1-2.1-2.1zM99.3 284.6l2.1 2.1-2.1 2.1-2.1-2.1zM202.1 280.3l2.1 2.1-2.1 2.1-2.1-2.1zM236.8 279.8l2.1 2.1-2.1 2.1-2.1-2.1zM91.5 283.4l2.1 2.1-2.1 2.1-2.1-2.1zM151.4 280.5l2.1 2.1-2.1 2.1-2.1-2.1zM40.7 281.7l2.1 2.1-2.1 2.1-2.1-2.1zM218.9 282.9l2.1 2.1-2.1 2.1-2.1-2.1zM194.3 280.8l2.1 2.1-2.1 2.1-2.1-2.1zM60.1 279.7l2.1 2.1-2.1 2.1-2.1-2.1zM47.8 283.8l2.1 2.1-2.1 2.1-2.1-2.1zM98.5 283.5l2.1 2.1-2.1 2.1-2.1-2.1zM61.8 281.6l2.1 2.1-2.1 2.1-2.1-2.1zM82.9 284.4l2.1 2.1-2.1 2.1-2.1-2.1zM43.5 278.7l2.1 2.1-2.1 2.1-2.1-2.1zM191.6 280.2l2.1 2.1-2.1 2.1-2.1-2.1zM86.5 282.8l2.1 2.1-2.1 2.1-2.1-2.1zM149.2 283l2.1 2.1-2.1 2.1-2.1-2.1zM181.7 281.5l2.1 2.1-2.1 2.1-2.1-2.1zM57.4 285.8l2.1 2.1-2.1 2.1-2.1-2.1zM91.1 284.8l2.1 2.1-2.1 2.1-2.1-2.1zM190.2 284.9l2.1 2.1-2.1 2.1-2.1-2.1z" fill="#e2c4c8" fill-opacity="0.85" stroke="#c8a8ae" stroke-width="0.3"/>
<path d="M70.9 285.7l2.1 2.1-2.1 2.1-2.1-2.1zM247.7 278.8l2.1 2.1-2.1 2.1-2.1-2.1zM104.1 284.8l2.1 2.1-2.1 2.1-2.1-2.1zM146.1 281.8l2.1 2.1-2.1 2.1-2.1-2.1zM189.8 278.9l2.1 2.1-2.1 2.1-2.1-2.1zM166.1 282.9l2.1 2.1-2.1 2.1-2.1-2.1zM198.9 280l2.1 2.1-2.1 2.1-2.1-2.1zM73.7 280.2l2.1 2.1-2.1 2.1-2.1-2.1zM157.1 283.8l2.1 2.1-2.1 2.1-2.1-2.1zM185 280.9l2.1 2.1-2.1 2.1-2.1-2.1zM187.9 283.8l2.1 2.1-2.1 2.1-2.1-2.1zM124.4 283.1l2.1 2.1-2.1 2.1-2.1-2.1zM187.9 279.9l2.1 2.1-2.1 2.1-2.1-2.1zM215.7 278.9l2.1 2.1-2.1 2.1-2.1-2.1zM158.8 280.4l2.1 2.1-2.1 2.1-2.1-2.1zM250.7 284.3l2.1 2.1-2.1 2.1-2.1-2.1zM115 279.8l2.1 2.1-2.1 2.1-2.1-2.1zM102.9 284.9l2.1 2.1-2.1 2.1-2.1-2.1zM129.7 284l2.1 2.1-2.1 2.1-2.1-2.1zM248 283.2l2.1 2.1-2.1 2.1-2.1-2.1zM226.2 281l2.1 2.1-2.1 2.1-2.1-2.1zM76.2 284.2l2.1 2.1-2.1 2.1-2.1-2.1zM162.7 278.8l2.1 2.1-2.1 2.1-2.1-2.1zM202.8 283.3l2.1 2.1-2.1 2.1-2.1-2.1zM253.1 279.7l2.1 2.1-2.1 2.1-2.1-2.1zM185.3 285.4l2.1 2.1-2.1 2.1-2.1-2.1zM66.1 284.3l2.1 2.1-2.1 2.1-2.1-2.1zM55.2 284.6l2.1 2.1-2.1 2.1-2.1-2.1zM122.7 279.7l2.1 2.1-2.1 2.1-2.1-2.1zM65.8 282.1l2.1 2.1-2.1 2.1-2.1-2.1zM216.6 278.7l2.1 2.1-2.1 2.1-2.1-2.1zM162 281.4l2.1 2.1-2.1 2.1-2.1-2.1zM125 281.9l2.1 2.1-2.1 2.1-2.1-2.1zM238.4 282.5l2.1 2.1-2.1 2.1-2.1-2.1zM85.9 283.8l2.1 2.1-2.1 2.1-2.1-2.1zM47.4 281.5l2.1 2.1-2.1 2.1-2.1-2.1zM155.3 281.1l2.1 2.1-2.1 2.1-2.1-2.1zM101 279.9l2.1 2.1-2.1 2.1-2.1-2.1zM41.4 283.4l2.1 2.1-2.1 2.1-2.1-2.1zM102 285.1l2.1 2.1-2.1 2.1-2.1-2.1zM90.3 281.3l2.1 2.1-2.1 2.1-2.1-2.1zM117.2 282l2.1 2.1-2.1 2.1-2.1-2.1zM246.3 283.3l2.1 2.1-2.1 2.1-2.1-2.1zM202.1 284.8l2.1 2.1-2.1 2.1-2.1-2.1zM218.5 282.2l2.1 2.1-2.1 2.1-2.1-2.1zM168.8 281.1l2.1 2.1-2.1 2.1-2.1-2.1zM171.2 278.9l2.1 2.1-2.1 2.1-2.1-2.1zM229.2 284.3l2.1 2.1-2.1 2.1-2.1-2.1zM218.9 278.7l2.1 2.1-2.1 2.1-2.1-2.1zM224 283l2.1 2.1-2.1 2.1-2.1-2.1zM179.8 283l2.1 2.1-2.1 2.1-2.1-2.1zM146.9 282.6l2.1 2.1-2.1 2.1-2.1-2.1zM202.9 282.4l2.1 2.1-2.1 2.1-2.1-2.1zM166 279.4l2.1 2.1-2.1 2.1-2.1-2.1zM81.5 285.1l2.1 2.1-2.1 2.1-2.1-2.1zM109.1 283.8l2.1 2.1-2.1 2.1-2.1-2.1zM52 278.8l2.1 2.1-2.1 2.1-2.1-2.1zM195.9 284.7l2.1 2.1-2.1 2.1-2.1-2.1zM116.8 285.7l2.1 2.1-2.1 2.1-2.1-2.1zM163.8 281.5l2.1 2.1-2.1 2.1-2.1-2.1zM178 283l2.1 2.1-2.1 2.1-2.1-2.1z" fill="#ead2d4" fill-opacity="0.85" stroke="#c8a8ae" stroke-width="0.3"/>
<path d="M155.8 280.9l2.1 2.1-2.1 2.1-2.1-2.1zM119.1 279l2.1 2.1-2.1 2.1-2.1-2.1zM158.5 279l2.1 2.1-2.1 2.1-2.1-2.1zM210.7 283.9l2.1 2.1-2.1 2.1-2.1-2.1zM236.6 281.4l2.1 2.1-2.1 2.1-2.1-2.1zM75.5 278.7l2.1 2.1-2.1 2.1-2.1-2.1zM51.3 281.7l2.1 2.1-2.1 2.1-2.1-2.1zM189.2 281.9l2.1 2.1-2.1 2.1-2.1-2.1zM123.3 284.7l2.1 2.1-2.1 2.1-2.1-2.1zM64.7 284.6l2.1 2.1-2.1 2.1-2.1-2.1zM203.8 284l2.1 2.1-2.1 2.1-2.1-2.1zM165.4 283.2l2.1 2.1-2.1 2.1-2.1-2.1zM212.1 285.6l2.1 2.1-2.1 2.1-2.1-2.1zM212.6 279.2l2.1 2.1-2.1 2.1-2.1-2.1zM156.5 283l2.1 2.1-2.1 2.1-2.1-2.1zM151.8 283.8l2.1 2.1-2.1 2.1-2.1-2.1zM228.2 279.7l2.1 2.1-2.1 2.1-2.1-2.1zM166.5 284.8l2.1 2.1-2.1 2.1-2.1-2.1zM71.2 282.9l2.1 2.1-2.1 2.1-2.1-2.1zM176.6 284.4l2.1 2.1-2.1 2.1-2.1-2.1zM123.3 284l2.1 2.1-2.1 2.1-2.1-2.1zM56 283.5l2.1 2.1-2.1 2.1-2.1-2.1zM171.1 283.4l2.1 2.1-2.1 2.1-2.1-2.1zM141.9 281.1l2.1 2.1-2.1 2.1-2.1-2.1zM255.1 281.7l2.1 2.1-2.1 2.1-2.1-2.1zM40.9 285l2.1 2.1-2.1 2.1-2.1-2.1zM65.3 285.1l2.1 2.1-2.1 2.1-2.1-2.1zM186.6 279.9l2.1 2.1-2.1 2.1-2.1-2.1zM170.7 280.1l2.1 2.1-2.1 2.1-2.1-2.1zM168.9 280.6l2.1 2.1-2.1 2.1-2.1-2.1zM51.5 281.6l2.1 2.1-2.1 2.1-2.1-2.1zM160.3 279.9l2.1 2.1-2.1 2.1-2.1-2.1zM179 283.5l2.1 2.1-2.1 2.1-2.1-2.1zM177.4 281.5l2.1 2.1-2.1 2.1-2.1-2.1zM122.5 279.9l2.1 2.1-2.1 2.1-2.1-2.1zM211.3 279.8l2.1 2.1-2.1 2.1-2.1-2.1zM89.6 281.8l2.1 2.1-2.1 2.1-2.1-2.1zM168.2 283.6l2.1 2.1-2.1 2.1-2.1-2.1zM169.2 285.1l2.1 2.1-2.1 2.1-2.1-2.1zM244.6 279.2l2.1 2.1-2.1 2.1-2.1-2.1zM79.7 284.5l2.1 2.1-2.1 2.1-2.1-2.1zM135.7 282.8l2.1 2.1-2.1 2.1-2.1-2.1zM174 279.8l2.1 2.1-2.1 2.1-2.1-2.1zM135.6 280.8l2.1 2.1-2.1 2.1-2.1-2.1zM152.6 279.3l2.1 2.1-2.1 2.1-2.1-2.1zM209.7 279.1l2.1 2.1-2.1 2.1-2.1-2.1zM216.2 282l2.1 2.1-2.1 2.1-2.1-2.1zM187.5 281.5l2.1 2.1-2.1 2.1-2.1-2.1zM227.8 284.9l2.1 2.1-2.1 2.1-2.1-2.1zM106.8 280.4l2.1 2.1-2.1 2.1-2.1-2.1zM90.7 283.7l2.1 2.1-2.1 2.1-2.1-2.1zM92.6 285.1l2.1 2.1-2.1 2.1-2.1-2.1zM145.1 283l2.1 2.1-2.1 2.1-2.1-2.1zM65 285.1l2.1 2.1-2.1 2.1-2.1-2.1z" fill="#e6cacd" fill-opacity="0.85" stroke="#c8a8ae" stroke-width="0.3"/>
<path d="M72.3 280.7l2.1 2.1-2.1 2.1-2.1-2.1zM53.6 284.5l2.1 2.1-2.1 2.1-2.1-2.1zM196.5 283.1l2.1 2.1-2.1 2.1-2.1-2.1zM197.8 284.7l2.1 2.1-2.1 2.1-2.1-2.1zM161.2 279.1l2.1 2.1-2.1 2.1-2.1-2.1zM239 281.8l2.1 2.1-2.1 2.1-2.1-2.1zM194.4 284.2l2.1 2.1-2.1 2.1-2.1-2.1zM127 282.3l2.1 2.1-2.1 2.1-2.1-2.1zM49.6 281.2l2.1 2.1-2.1 2.1-2.1-2.1zM230.7 284.6l2.1 2.1-2.1 2.1-2.1-2.1zM96.3 284.6l2.1 2.1-2.1 2.1-2.1-2.1zM137.9 281.4l2.1 2.1-2.1 2.1-2.1-2.1zM92 285l2.1 2.1-2.1 2.1-2.1-2.1zM107 283.3l2.1 2.1-2.1 2.1-2.1-2.1zM50.9 282l2.1 2.1-2.1 2.1-2.1-2.1zM184.3 285.9l2.1 2.1-2.1 2.1-2.1-2.1zM69.8 278.9l2.1 2.1-2.1 2.1-2.1-2.1zM189.2 279.9l2.1 2.1-2.1 2.1-2.1-2.1zM179.8 284.9l2.1 2.1-2.1 2.1-2.1-2.1zM195.9 280.9l2.1 2.1-2.1 2.1-2.1-2.1zM77.6 282.4l2.1 2.1-2.1 2.1-2.1-2.1zM112.9 282.5l2.1 2.1-2.1 2.1-2.1-2.1zM225.3 284.9l2.1 2.1-2.1 2.1-2.1-2.1zM129.5 280.9l2.1 2.1-2.1 2.1-2.1-2.1zM162.9 285l2.1 2.1-2.1 2.1-2.1-2.1zM138.9 284.1l2.1 2.1-2.1 2.1-2.1-2.1zM119.3 284.4l2.1 2.1-2.1 2.1-2.1-2.1zM249.2 282.8l2.1 2.1-2.1 2.1-2.1-2.1zM131.4 282.4l2.1 2.1-2.1 2.1-2.1-2.1zM46.4 284.4l2.1 2.1-2.1 2.1-2.1-2.1zM246.8 285.1l2.1 2.1-2.1 2.1-2.1-2.1zM48.1 279.1l2.1 2.1-2.1 2.1-2.1-2.1zM246 282.8l2.1 2.1-2.1 2.1-2.1-2.1zM256 282.5l2.1 2.1-2.1 2.1-2.1-2.1zM157.7 279.1l2.1 2.1-2.1 2.1-2.1-2.1zM140.4 285.6l2.1 2.1-2.1 2.1-2.1-2.1zM134.3 281.8l2.1 2.1-2.1 2.1-2.1-2.1zM134.3 283.8l2.1 2.1-2.1 2.1-2.1-2.1zM220.6 285.3l2.1 2.1-2.1 2.1-2.1-2.1zM202.1 281.4l2.1 2.1-2.1 2.1-2.1-2.1zM228.3 282.4l2.1 2.1-2.1 2.1-2.1-2.1zM57.1 280.1l2.1 2.1-2.1 2.1-2.1-2.1zM163.1 280.3l2.1 2.1-2.1 2.1-2.1-2.1zM137.3 285.6l2.1 2.1-2.1 2.1-2.1-2.1zM235.2 282.6l2.1 2.1-2.1 2.1-2.1-2.1zM128.4 281.1l2.1 2.1-2.1 2.1-2.1-2.1zM167.6 284.1l2.1 2.1-2.1 2.1-2.1-2.1zM235.1 278.9l2.1 2.1-2.1 2.1-2.1-2.1zM57.8 279.5l2.1 2.1-2.1 2.1-2.1-2.1zM223.9 284.3l2.1 2.1-2.1 2.1-2.1-2.1zM163.5 283.1l2.1 2.1-2.1 2.1-2.1-2.1zM181.4 284.4l2.1 2.1-2.1 2.1-2.1-2.1zM231.7 285.5l2.1 2.1-2.1 2.1-2.1-2.1zM73.8 279.8l2.1 2.1-2.1 2.1-2.1-2.1zM45.4 283.5l2.1 2.1-2.1 2.1-2.1-2.1zM242.5 285.7l2.1 2.1-2.1 2.1-2.1-2.1zM245 280.3l2.1 2.1-2.1 2.1-2.1-2.1zM143.4 279.4l2.1 2.1-2.1 2.1-2.1-2.1zM77 279.2l2.1 2.1-2.1 2.1-2.1-2.1zM188.4 280.1l2.1 2.1-2.1 2.1-2.1-2.1zM218 282.1l2.1 2.1-2.1 2.1-2.1-2.1z" fill="#dcc0c4" fill-opacity="0.85" stroke="#c8a8ae" stroke-width="0.3"/>
<path d="M137 283.2l2.1 2.1-2.1 2.1-2.1-2.1zM136.3 280.3l2.1 2.1-2.1 2.1-2.1-2.1zM143 282.5l2.1 2.1-2.1 2.1-2.1-2.1zM100.4 283.5l2.1 2.1-2.1 2.1-2.1-2.1zM145.1 280.2l2.1 2.1-2.1 2.1-2.1-2.1zM69 282l2.1 2.1-2.1 2.1-2.1-2.1zM189 282.1l2.1 2.1-2.1 2.1-2.1-2.1zM190.3 282.3l2.1 2.1-2.1 2.1-2.1-2.1zM110.7 283.5l2.1 2.1-2.1 2.1-2.1-2.1zM225.6 285.6l2.1 2.1-2.1 2.1-2.1-2.1zM125 279.7l2.1 2.1-2.1 2.1-2.1-2.1zM207.5 280l2.1 2.1-2.1 2.1-2.1-2.1zM144.4 285.6l2.1 2.1-2.1 2.1-2.1-2.1zM231 282.1l2.1 2.1-2.1 2.1-2.1-2.1zM157.9 280.3l2.1 2.1-2.1 2.1-2.1-2.1zM135.6 283.8l2.1 2.1-2.1 2.1-2.1-2.1zM249.5 282.7l2.1 2.1-2.1 2.1-2.1-2.1zM202.9 279.4l2.1 2.1-2.1 2.1-2.1-2.1zM54.5 283.2l2.1 2.1-2.1 2.1-2.1-2.1zM110.6 284.3l2.1 2.1-2.1 2.1-2.1-2.1zM142.3 280.4l2.1 2.1-2.1 2.1-2.1-2.1zM44 282.3l2.1 2.1-2.1 2.1-2.1-2.1zM146.3 282.3l2.1 2.1-2.1 2.1-2.1-2.1zM138.1 284.9l2.1 2.1-2.1 2.1-2.1-2.1zM62.4 285.6l2.1 2.1-2.1 2.1-2.1-2.1zM227.7 279.6l2.1 2.1-2.1 2.1-2.1-2.1zM238.5 282l2.1 2.1-2.1 2.1-2.1-2.1zM229 285.2l2.1 2.1-2.1 2.1-2.1-2.1zM203.1 282.6l2.1 2.1-2.1 2.1-2.1-2.1zM211.7 281.3l2.1 2.1-2.1 2.1-2.1-2.1zM190.5 281.1l2.1 2.1-2.1 2.1-2.1-2.1zM231.6 280.2l2.1 2.1-2.1 2.1-2.1-2.1zM191.3 282.4l2.1 2.1-2.1 2.1-2.1-2.1zM205.1 284.3l2.1 2.1-2.1 2.1-2.1-2.1zM123.3 283l2.1 2.1-2.1 2.1-2.1-2.1zM130.6 278.8l2.1 2.1-2.1 2.1-2.1-2.1zM198.3 279.7l2.1 2.1-2.1 2.1-2.1-2.1zM135.2 280.8l2.1 2.1-2.1 2.1-2.1-2.1zM79.7 280.7l2.1 2.1-2.1 2.1-2.1-2.1zM147 285.1l2.1 2.1-2.1 2.1-2.1-2.1zM93.5 280.9l2.1 2.1-2.1 2.1-2.1-2.1zM228.9 282.3l2.1 2.1-2.1 2.1-2.1-2.1zM237.5 283.6l2.1 2.1-2.1 2.1-2.1-2.1zM200.7 279.3l2.1 2.1-2.1 2.1-2.1-2.1zM50.1 283.2l2.1 2.1-2.1 2.1-2.1-2.1zM144.2 281l2.1 2.1-2.1 2.1-2.1-2.1zM152 284.3l2.1 2.1-2.1 2.1-2.1-2.1zM152.5 279.8l2.1 2.1-2.1 2.1-2.1-2.1zM118.3 278.8l2.1 2.1-2.1 2.1-2.1-2.1zM196.6 284.9l2.1 2.1-2.1 2.1-2.1-2.1zM68.6 282.3l2.1 2.1-2.1 2.1-2.1-2.1zM85 280l2.1 2.1-2.1 2.1-2.1-2.1zM42.4 283.6l2.1 2.1-2.1 2.1-2.1-2.1zM249 282.5l2.1 2.1-2.1 2.1-2.1-2.1zM237.4 283.2l2.1 2.1-2.1 2.1-2.1-2.1zM64.3 284.4l2.1 2.1-2.1 2.1-2.1-2.1zM139.9 279.1l2.1 2.1-2.1 2.1-2.1-2.1zM212.3 280.2l2.1 2.1-2.1 2.1-2.1-2.1zM149.3 284.7l2.1 2.1-2.1 2.1-2.1-2.1zM44.5 281l2.1 2.1-2.1 2.1-2.1-2.1zM157 280.6l2.1 2.1-2.1 2.1-2.1-2.1z" fill="#e8d0d0" fill-opacity="0.85" stroke="#c8a8ae" stroke-width="0.3"/>
<path d="M217 282.6l2.1 2.1-2.1 2.1-2.1-2.1zM144.3 281.4l2.1 2.1-2.1 2.1-2.1-2.1zM246.7 281.2l2.1 2.1-2.1 2.1-2.1-2.1zM65.1 284.6l2.1 2.1-2.1 2.1-2.1-2.1zM66.2 284.7l2.1 2.1-2.1 2.1-2.1-2.1zM210.5 279.1l2.1 2.1-2.1 2.1-2.1-2.1zM209.3 280.6l2.1 2.1-2.1 2.1-2.1-2.1zM106.7 281.9l2.1 2.1-2.1 2.1-2.1-2.1zM142.3 280l2.1 2.1-2.1 2.1-2.1-2.1zM109.9 284l2.1 2.1-2.1 2.1-2.1-2.1zM252 284.1l2.1 2.1-2.1 2.1-2.1-2.1zM120.9 282.2l2.1 2.1-2.1 2.1-2.1-2.1zM185.6 282.4l2.1 2.1-2.1 2.1-2.1-2.1zM70.8 285.6l2.1 2.1-2.1 2.1-2.1-2.1zM218.7 280.8l2.1 2.1-2.1 2.1-2.1-2.1zM52.5 279.7l2.1 2.1-2.1 2.1-2.1-2.1zM179.4 282.7l2.1 2.1-2.1 2.1-2.1-2.1zM135.4 281.2l2.1 2.1-2.1 2.1-2.1-2.1zM55.4 281.4l2.1 2.1-2.1 2.1-2.1-2.1zM203 285.3l2.1 2.1-2.1 2.1-2.1-2.1zM82.9 282.4l2.1 2.1-2.1 2.1-2.1-2.1zM109.8 279.8l2.1 2.1-2.1 2.1-2.1-2.1zM44.6 285.6l2.1 2.1-2.1 2.1-2.1-2.1zM162.6 284.4l2.1 2.1-2.1 2.1-2.1-2.1zM103.9 281.4l2.1 2.1-2.1 2.1-2.1-2.1zM56.5 285l2.1 2.1-2.1 2.1-2.1-2.1zM170 281.2l2.1 2.1-2.1 2.1-2.1-2.1zM182.7 282.6l2.1 2.1-2.1 2.1-2.1-2.1zM117.4 279l2.1 2.1-2.1 2.1-2.1-2.1zM51.4 283.3l2.1 2.1-2.1 2.1-2.1-2.1zM200.1 282.2l2.1 2.1-2.1 2.1-2.1-2.1zM106.1 283l2.1 2.1-2.1 2.1-2.1-2.1zM47.6 284.7l2.1 2.1-2.1 2.1-2.1-2.1zM54.3 279.9l2.1 2.1-2.1 2.1-2.1-2.1zM121.6 280l2.1 2.1-2.1 2.1-2.1-2.1zM110.8 280.1l2.1 2.1-2.1 2.1-2.1-2.1zM216.3 281l2.1 2.1-2.1 2.1-2.1-2.1zM123.4 285.6l2.1 2.1-2.1 2.1-2.1-2.1zM192.2 283.7l2.1 2.1-2.1 2.1-2.1-2.1zM184.7 283.3l2.1 2.1-2.1 2.1-2.1-2.1zM215.1 282.4l2.1 2.1-2.1 2.1-2.1-2.1zM109 281l2.1 2.1-2.1 2.1-2.1-2.1zM48.9 284l2.1 2.1-2.1 2.1-2.1-2.1zM255.2 279.2l2.1 2.1-2.1 2.1-2.1-2.1zM56.1 280l2.1 2.1-2.1 2.1-2.1-2.1zM255 282.6l2.1 2.1-2.1 2.1-2.1-2.1zM158.3 284.4l2.1 2.1-2.1 2.1-2.1-2.1zM140.2 283.7l2.1 2.1-2.1 2.1-2.1-2.1zM128.9 279.2l2.1 2.1-2.1 2.1-2.1-2.1zM250.2 280.3l2.1 2.1-2.1 2.1-2.1-2.1zM181.9 280l2.1 2.1-2.1 2.1-2.1-2.1zM98.8 279.1l2.1 2.1-2.1 2.1-2.1-2.1zM95.5 279.8l2.1 2.1-2.1 2.1-2.1-2.1zM155 285.6l2.1 2.1-2.1 2.1-2.1-2.1zM139.2 284.2l2.1 2.1-2.1 2.1-2.1-2.1zM219.1 281l2.1 2.1-2.1 2.1-2.1-2.1zM233.9 279.1l2.1 2.1-2.1 2.1-2.1-2.1zM105.8 279.8l2.1 2.1-2.1 2.1-2.1-2.1zM68.4 284.4l2.1 2.1-2.1 2.1-2.1-2.1zM254 282.2l2.1 2.1-2.1 2.1-2.1-2.1zM139.6 283.6l2.1 2.1-2.1 2.1-2.1-2.1zM80.3 281l2.1 2.1-2.1 2.1-2.1-2.1zM225.3 283.1l2.1 2.1-2.1 2.1-2.1-2.1zM69.6 279.5l2.1 2.1-2.1 2.1-2.1-2.1zM159.5 281.4l2.1 2.1-2.1 2.1-2.1-2.1zM84.9 285l2.1 2.1-2.1 2.1-2.1-2.1zM231.7 283.6l2.1 2.1-2.1 2.1-2.1-2.1zM149.6 278.8l2.1 2.1-2.1 2.1-2.1-2.1zM84.9 285.3l2.1 2.1-2.1 2.1-2.1-2.1zM255.3 282.7l2.1 2.1-2.1 2.1-2.1-2.1zM44.9 283.9l2.1 2.1-2.1 2.1-2.1-2.1zM125 281.3l2.1 2.1-2.1 2.1-2.1-2.1zM143 279.5l2.1 2.1-2.1 2.1-2.1-2.1zM65 282l2.1 2.1-2.1 2.1-2.1-2.1zM81.1 283.7l2.1 2.1-2.1 2.1-2.1-2.1z" fill="#eed8da" fill-opacity="0.85" stroke="#c8a8ae" stroke-width="0.3"/>
<path d="M117.2 273.4l2.1 2.1-2.1 2.1-2.1-2.1zM122.8 273.8l2.1 2.1-2.1 2.1-2.1-2.1zM111.7 274.5l2.1 2.1-2.1 2.1-2.1-2.1zM103 278.5l2.1 2.1-2.1 2.1-2.1-2.1zM128.9 274.2l2.1 2.1-2.1 2.1-2.1-2.1zM137.3 270.2l2.1 2.1-2.1 2.1-2.1-2.1zM121.5 278.1l2.1 2.1-2.1 2.1-2.1-2.1zM129.2 279.4l2.1 2.1-2.1 2.1-2.1-2.1zM106.5 276.1l2.1 2.1-2.1 2.1-2.1-2.1zM92.3 278.5l2.1 2.1-2.1 2.1-2.1-2.1zM84.8 276.9l2.1 2.1-2.1 2.1-2.1-2.1zM96.9 275.1l2.1 2.1-2.1 2.1-2.1-2.1zM95.5 271.3l2.1 2.1-2.1 2.1-2.1-2.1zM111.7 279.6l2.1 2.1-2.1 2.1-2.1-2.1zM100.4 274.6l2.1 2.1-2.1 2.1-2.1-2.1zM99.2 268.2l2.1 2.1-2.1 2.1-2.1-2.1zM132.4 273.9l2.1 2.1-2.1 2.1-2.1-2.1zM105.1 268.6l2.1 2.1-2.1 2.1-2.1-2.1zM130.1 278.7l2.1 2.1-2.1 2.1-2.1-2.1zM99.9 269.2l2.1 2.1-2.1 2.1-2.1-2.1zM103.6 272l2.1 2.1-2.1 2.1-2.1-2.1zM132.3 274.8l2.1 2.1-2.1 2.1-2.1-2.1zM120.9 277.3l2.1 2.1-2.1 2.1-2.1-2.1z" fill="#d8c0c8" fill-opacity="0.85"/>
<path d="M94.2 272.6l2.1 2.1-2.1 2.1-2.1-2.1zM106.9 275.4l2.1 2.1-2.1 2.1-2.1-2.1zM90.6 268.7l2.1 2.1-2.1 2.1-2.1-2.1zM131.5 276.3l2.1 2.1-2.1 2.1-2.1-2.1zM111.8 275.9l2.1 2.1-2.1 2.1-2.1-2.1zM124.9 271.3l2.1 2.1-2.1 2.1-2.1-2.1zM108.7 277.7l2.1 2.1-2.1 2.1-2.1-2.1zM99 270l2.1 2.1-2.1 2.1-2.1-2.1zM115.5 280.4l2.1 2.1-2.1 2.1-2.1-2.1zM122.1 271.7l2.1 2.1-2.1 2.1-2.1-2.1zM98.3 270.4l2.1 2.1-2.1 2.1-2.1-2.1zM109.9 267.7l2.1 2.1-2.1 2.1-2.1-2.1z" fill="#dcc4cc" fill-opacity="0.85"/>
<path d="M128.1 276.2l2.1 2.1-2.1 2.1-2.1-2.1zM133.3 272.1l2.1 2.1-2.1 2.1-2.1-2.1zM104.6 279.6l2.1 2.1-2.1 2.1-2.1-2.1zM135.6 271.6l2.1 2.1-2.1 2.1-2.1-2.1zM128.3 279.4l2.1 2.1-2.1 2.1-2.1-2.1zM130.2 275.8l2.1 2.1-2.1 2.1-2.1-2.1zM136.5 280.3l2.1 2.1-2.1 2.1-2.1-2.1zM112.5 272.8l2.1 2.1-2.1 2.1-2.1-2.1zM134.5 266.5l2.1 2.1-2.1 2.1-2.1-2.1zM122.9 272.5l2.1 2.1-2.1 2.1-2.1-2.1zM94.5 270.4l2.1 2.1-2.1 2.1-2.1-2.1zM105.5 267.7l2.1 2.1-2.1 2.1-2.1-2.1zM103.1 270.3l2.1 2.1-2.1 2.1-2.1-2.1zM86.7 273l2.1 2.1-2.1 2.1-2.1-2.1zM96.6 271.4l2.1 2.1-2.1 2.1-2.1-2.1z" fill="#e6cfd4" fill-opacity="0.85"/>
<path d="M137.2 266.1l2.1 2.1-2.1 2.1-2.1-2.1zM96.4 272.9l2.1 2.1-2.1 2.1-2.1-2.1zM127.2 273.4l2.1 2.1-2.1 2.1-2.1-2.1zM119.1 271.6l2.1 2.1-2.1 2.1-2.1-2.1zM111 279.5l2.1 2.1-2.1 2.1-2.1-2.1zM93 274l2.1 2.1-2.1 2.1-2.1-2.1zM87.4 279l2.1 2.1-2.1 2.1-2.1-2.1zM95.9 271l2.1 2.1-2.1 2.1-2.1-2.1zM130.6 274.5l2.1 2.1-2.1 2.1-2.1-2.1zM116.8 271.6l2.1 2.1-2.1 2.1-2.1-2.1zM116.3 278.6l2.1 2.1-2.1 2.1-2.1-2.1zM132.6 276.6l2.1 2.1-2.1 2.1-2.1-2.1zM94.8 271.2l2.1 2.1-2.1 2.1-2.1-2.1zM92.7 277.7l2.1 2.1-2.1 2.1-2.1-2.1zM104.3 275.3l2.1 2.1-2.1 2.1-2.1-2.1zM109.7 272.6l2.1 2.1-2.1 2.1-2.1-2.1zM129.1 277.2l2.1 2.1-2.1 2.1-2.1-2.1zM96.4 276.2l2.1 2.1-2.1 2.1-2.1-2.1zM98.9 270.2l2.1 2.1-2.1 2.1-2.1-2.1z" fill="#e0ccd8" fill-opacity="0.85"/>
<path d="M110.6 279l2.1 2.1-2.1 2.1-2.1-2.1zM139.3 268.1l2.1 2.1-2.1 2.1-2.1-2.1zM87.6 280.2l2.1 2.1-2.1 2.1-2.1-2.1zM99.2 278.1l2.1 2.1-2.1 2.1-2.1-2.1zM92.7 276.8l2.1 2.1-2.1 2.1-2.1-2.1zM108.1 269.8l2.1 2.1-2.1 2.1-2.1-2.1zM90.5 267.2l2.1 2.1-2.1 2.1-2.1-2.1zM111.1 272.5l2.1 2.1-2.1 2.1-2.1-2.1zM125.8 269.6l2.1 2.1-2.1 2.1-2.1-2.1zM96.6 269.6l2.1 2.1-2.1 2.1-2.1-2.1zM97.8 277l2.1 2.1-2.1 2.1-2.1-2.1z" fill="#e8d4d8" fill-opacity="0.85"/>
<path d="M107.3 257.4l2.1 2.1-2.1 2.1-2.1-2.1zM85 260.4l2.1 2.1-2.1 2.1-2.1-2.1zM112.2 258.7l2.1 2.1-2.1 2.1-2.1-2.1zM108.2 269l2.1 2.1-2.1 2.1-2.1-2.1zM105.4 263.8l2.1 2.1-2.1 2.1-2.1-2.1zM108.1 264.3l2.1 2.1-2.1 2.1-2.1-2.1zM108.6 258.7l2.1 2.1-2.1 2.1-2.1-2.1z" fill="#e6dfe8" fill-opacity="0.85"/>
<path d="M102.7 269.4l2.1 2.1-2.1 2.1-2.1-2.1zM102.4 259.6l2.1 2.1-2.1 2.1-2.1-2.1zM104.6 256l2.1 2.1-2.1 2.1-2.1-2.1zM113.9 271.5l2.1 2.1-2.1 2.1-2.1-2.1zM112.5 271.5l2.1 2.1-2.1 2.1-2.1-2.1zM95.3 267.4l2.1 2.1-2.1 2.1-2.1-2.1zM106.1 256.1l2.1 2.1-2.1 2.1-2.1-2.1zM87.5 270l2.1 2.1-2.1 2.1-2.1-2.1zM98 258.2l2.1 2.1-2.1 2.1-2.1-2.1zM115.3 273.8l2.1 2.1-2.1 2.1-2.1-2.1z" fill="#dcd6e6" fill-opacity="0.85"/>
<path d="M102.5 265.2l2.1 2.1-2.1 2.1-2.1-2.1zM115.1 269.6l2.1 2.1-2.1 2.1-2.1-2.1zM116.1 271.1l2.1 2.1-2.1 2.1-2.1-2.1zM112 266.7l2.1 2.1-2.1 2.1-2.1-2.1zM109.5 264.7l2.1 2.1-2.1 2.1-2.1-2.1zM88.6 267.9l2.1 2.1-2.1 2.1-2.1-2.1zM106.4 264.3l2.1 2.1-2.1 2.1-2.1-2.1z" fill="#e0d8e4" fill-opacity="0.85"/>
<path d="M84.3 257.8l2.1 2.1-2.1 2.1-2.1-2.1zM106.1 264.3l2.1 2.1-2.1 2.1-2.1-2.1zM88.3 265.5l2.1 2.1-2.1 2.1-2.1-2.1zM98.7 272.7l2.1 2.1-2.1 2.1-2.1-2.1zM106.1 265.1l2.1 2.1-2.1 2.1-2.1-2.1zM91.7 272.7l2.1 2.1-2.1 2.1-2.1-2.1zM115.6 268.1l2.1 2.1-2.1 2.1-2.1-2.1zM87.9 256.1l2.1 2.1-2.1 2.1-2.1-2.1zM114.4 257.4l2.1 2.1-2.1 2.1-2.1-2.1zM107 256.2l2.1 2.1-2.1 2.1-2.1-2.1z" fill="#d8d0e0" fill-opacity="0.85"/>
<path d="M85.5 260.3l2.1 2.1-2.1 2.1-2.1-2.1zM105.5 256.6l2.1 2.1-2.1 2.1-2.1-2.1zM98.1 261.3l2.1 2.1-2.1 2.1-2.1-2.1zM107.1 256.8l2.1 2.1-2.1 2.1-2.1-2.1zM110.9 255.8l2.1 2.1-2.1 2.1-2.1-2.1zM93.9 272.4l2.1 2.1-2.1 2.1-2.1-2.1zM106.4 263.4l2.1 2.1-2.1 2.1-2.1-2.1zM101 262.8l2.1 2.1-2.1 2.1-2.1-2.1zM86.4 268.8l2.1 2.1-2.1 2.1-2.1-2.1zM84 255.1l2.1 2.1-2.1 2.1-2.1-2.1zM114.6 260.8l2.1 2.1-2.1 2.1-2.1-2.1z" fill="#e2dce8" fill-opacity="0.85"/>
<path d="M119.4 262.8l2.1 2.1-2.1 2.1-2.1-2.1zM146.3 284.2l2.1 2.1-2.1 2.1-2.1-2.1zM169.2 278.8l2.1 2.1-2.1 2.1-2.1-2.1zM120.1 279.7l2.1 2.1-2.1 2.1-2.1-2.1zM125.3 282.9l2.1 2.1-2.1 2.1-2.1-2.1zM135.6 262.2l2.1 2.1-2.1 2.1-2.1-2.1zM145.8 276.2l2.1 2.1-2.1 2.1-2.1-2.1zM147.9 263.6l2.1 2.1-2.1 2.1-2.1-2.1zM139.7 280.2l2.1 2.1-2.1 2.1-2.1-2.1zM129.7 280l2.1 2.1-2.1 2.1-2.1-2.1z" fill="#e8d0d4" fill-opacity="0.9"/>
<path d="M129.7 285.4l2.1 2.1-2.1 2.1-2.1-2.1zM128.4 275l2.1 2.1-2.1 2.1-2.1-2.1zM125 284.4l2.1 2.1-2.1 2.1-2.1-2.1zM119.7 267l2.1 2.1-2.1 2.1-2.1-2.1zM143.1 272.4l2.1 2.1-2.1 2.1-2.1-2.1zM167.8 281.9l2.1 2.1-2.1 2.1-2.1-2.1z" fill="#c05868" fill-opacity="0.9"/>
<path d="M146 275.7l2.1 2.1-2.1 2.1-2.1-2.1zM160.6 271.1l2.1 2.1-2.1 2.1-2.1-2.1zM136.3 268.4l2.1 2.1-2.1 2.1-2.1-2.1zM160.1 265.7l2.1 2.1-2.1 2.1-2.1-2.1zM124.7 281.9l2.1 2.1-2.1 2.1-2.1-2.1zM124.5 269.4l2.1 2.1-2.1 2.1-2.1-2.1zM118.1 275.7l2.1 2.1-2.1 2.1-2.1-2.1zM167.5 285.8l2.1 2.1-2.1 2.1-2.1-2.1z" fill="#e8c0c4" fill-opacity="0.9"/>
<path d="M121.3 268.9l2.1 2.1-2.1 2.1-2.1-2.1zM160 283.8l2.1 2.1-2.1 2.1-2.1-2.1zM167.3 281.1l2.1 2.1-2.1 2.1-2.1-2.1zM129.6 273.7l2.1 2.1-2.1 2.1-2.1-2.1zM160.1 270.9l2.1 2.1-2.1 2.1-2.1-2.1zM128.4 263.9l2.1 2.1-2.1 2.1-2.1-2.1zM155.3 274.9l2.1 2.1-2.1 2.1-2.1-2.1zM127.2 278.6l2.1 2.1-2.1 2.1-2.1-2.1z" fill="#d88890" fill-opacity="0.9"/>
<path d="M149.6 279.2l2.1 2.1-2.1 2.1-2.1-2.1zM169.5 269.9l2.1 2.1-2.1 2.1-2.1-2.1zM159.8 265.9l2.1 2.1-2.1 2.1-2.1-2.1zM134.4 283.2l2.1 2.1-2.1 2.1-2.1-2.1z" fill="#7a9a82" fill-opacity="0.9"/>
<path d="M161.7 262.8l2.1 2.1-2.1 2.1-2.1-2.1zM143.6 263.7l2.1 2.1-2.1 2.1-2.1-2.1zM125.8 283.2l2.1 2.1-2.1 2.1-2.1-2.1zM167.4 271.6l2.1 2.1-2.1 2.1-2.1-2.1zM118.3 284.7l2.1 2.1-2.1 2.1-2.1-2.1zM149.8 281.8l2.1 2.1-2.1 2.1-2.1-2.1zM119.6 268.4l2.1 2.1-2.1 2.1-2.1-2.1zM148.8 263.5l2.1 2.1-2.1 2.1-2.1-2.1zM168.5 269.6l2.1 2.1-2.1 2.1-2.1-2.1zM155.3 264.9l2.1 2.1-2.1 2.1-2.1-2.1zM140.1 274.9l2.1 2.1-2.1 2.1-2.1-2.1zM140.9 264.4l2.1 2.1-2.1 2.1-2.1-2.1zM119.6 285.8l2.1 2.1-2.1 2.1-2.1-2.1zM163.5 265.1l2.1 2.1-2.1 2.1-2.1-2.1z" fill="#d8b4b8" fill-opacity="0.9"/>
<path d="M139.8 273.2l2.1 2.1-2.1 2.1-2.1-2.1zM144.8 273.3l2.1 2.1-2.1 2.1-2.1-2.1zM136.3 271.8l2.1 2.1-2.1 2.1-2.1-2.1zM157.6 274.6l2.1 2.1-2.1 2.1-2.1-2.1zM154.4 279.3l2.1 2.1-2.1 2.1-2.1-2.1zM138.5 285.2l2.1 2.1-2.1 2.1-2.1-2.1zM159.7 265.2l2.1 2.1-2.1 2.1-2.1-2.1zM136.3 281.5l2.1 2.1-2.1 2.1-2.1-2.1zM133.6 276.9l2.1 2.1-2.1 2.1-2.1-2.1zM137 280.5l2.1 2.1-2.1 2.1-2.1-2.1zM154.3 272.1l2.1 2.1-2.1 2.1-2.1-2.1zM149.4 278.9l2.1 2.1-2.1 2.1-2.1-2.1zM127.3 283.2l2.1 2.1-2.1 2.1-2.1-2.1z" fill="#e0a4a8" fill-opacity="0.9"/>
<path d="M133.7 269.6l2.1 2.1-2.1 2.1-2.1-2.1zM167.6 262.8l2.1 2.1-2.1 2.1-2.1-2.1zM143.7 276.1l2.1 2.1-2.1 2.1-2.1-2.1zM147 265.1l2.1 2.1-2.1 2.1-2.1-2.1zM149.7 265l2.1 2.1-2.1 2.1-2.1-2.1zM124.7 281.2l2.1 2.1-2.1 2.1-2.1-2.1zM153.7 283.2l2.1 2.1-2.1 2.1-2.1-2.1z" fill="#cc6c78" fill-opacity="0.9"/>
<path d="M164.3 273.1l2.1 2.1-2.1 2.1-2.1-2.1zM129.3 271.8l2.1 2.1-2.1 2.1-2.1-2.1zM146.5 262.8l2.1 2.1-2.1 2.1-2.1-2.1zM126.7 263l2.1 2.1-2.1 2.1-2.1-2.1zM126.3 275.9l2.1 2.1-2.1 2.1-2.1-2.1zM124.2 264.7l2.1 2.1-2.1 2.1-2.1-2.1z" fill="#6a8a72" fill-opacity="0.9"/>
<path d="M146.9 272.6l2.1 2.1-2.1 2.1-2.1-2.1zM142.2 284.8l2.1 2.1-2.1 2.1-2.1-2.1zM158.1 281.5l2.1 2.1-2.1 2.1-2.1-2.1zM134.1 275.1l2.1 2.1-2.1 2.1-2.1-2.1zM132.1 284.9l2.1 2.1-2.1 2.1-2.1-2.1zM126.1 269.5l2.1 2.1-2.1 2.1-2.1-2.1zM153.6 284.5l2.1 2.1-2.1 2.1-2.1-2.1zM140.5 275.3l2.1 2.1-2.1 2.1-2.1-2.1zM125.1 272.1l2.1 2.1-2.1 2.1-2.1-2.1z" fill="#a8c0ac" fill-opacity="0.9"/>
<path d="M199.2 281.1l2.1 2.1-2.1 2.1-2.1-2.1zM185.4 276.5l2.1 2.1-2.1 2.1-2.1-2.1zM251.9 279.7l2.1 2.1-2.1 2.1-2.1-2.1zM208.4 281.2l2.1 2.1-2.1 2.1-2.1-2.1zM209 281l2.1 2.1-2.1 2.1-2.1-2.1zM250.7 278.4l2.1 2.1-2.1 2.1-2.1-2.1zM176.8 275.8l2.1 2.1-2.1 2.1-2.1-2.1zM175.4 282.8l2.1 2.1-2.1 2.1-2.1-2.1zM175.5 276.4l2.1 2.1-2.1 2.1-2.1-2.1zM251.5 280.7l2.1 2.1-2.1 2.1-2.1-2.1zM223.4 284.1l2.1 2.1-2.1 2.1-2.1-2.1zM230.3 282l2.1 2.1-2.1 2.1-2.1-2.1zM221.5 278.4l2.1 2.1-2.1 2.1-2.1-2.1z" fill="#c8b0b8" fill-opacity="0.85"/>
<path d="M192.7 277.1l2.1 2.1-2.1 2.1-2.1-2.1zM204.1 276.9l2.1 2.1-2.1 2.1-2.1-2.1zM234.9 281.9l2.1 2.1-2.1 2.1-2.1-2.1zM234.8 283.2l2.1 2.1-2.1 2.1-2.1-2.1zM247 282l2.1 2.1-2.1 2.1-2.1-2.1zM174.4 276.3l2.1 2.1-2.1 2.1-2.1-2.1z" fill="#c0a8ac" fill-opacity="0.85"/>
<path d="M235.3 282.5l2.1 2.1-2.1 2.1-2.1-2.1zM243.1 283l2.1 2.1-2.1 2.1-2.1-2.1zM195.7 283.4l2.1 2.1-2.1 2.1-2.1-2.1zM221.3 278l2.1 2.1-2.1 2.1-2.1-2.1zM172.7 275.7l2.1 2.1-2.1 2.1-2.1-2.1zM175.4 283.7l2.1 2.1-2.1 2.1-2.1-2.1zM254.4 282.3l2.1 2.1-2.1 2.1-2.1-2.1zM253.2 284.1l2.1 2.1-2.1 2.1-2.1-2.1z" fill="#b8b8b8" fill-opacity="0.85"/>
<path d="M234.9 282l2.1 2.1-2.1 2.1-2.1-2.1zM186.7 284.9l2.1 2.1-2.1 2.1-2.1-2.1zM248.9 282.2l2.1 2.1-2.1 2.1-2.1-2.1zM189.3 276.1l2.1 2.1-2.1 2.1-2.1-2.1zM222.9 281.1l2.1 2.1-2.1 2.1-2.1-2.1zM223.6 280l2.1 2.1-2.1 2.1-2.1-2.1zM183.1 279.5l2.1 2.1-2.1 2.1-2.1-2.1zM207.2 281.7l2.1 2.1-2.1 2.1-2.1-2.1zM226.2 274.7l2.1 2.1-2.1 2.1-2.1-2.1zM233.7 277.6l2.1 2.1-2.1 2.1-2.1-2.1zM243 283.1l2.1 2.1-2.1 2.1-2.1-2.1z" fill="#e0c8cc" fill-opacity="0.85"/>
<path d="M229.9 278.5l2.1 2.1-2.1 2.1-2.1-2.1zM217.5 282.6l2.1 2.1-2.1 2.1-2.1-2.1zM229.9 282.4l2.1 2.1-2.1 2.1-2.1-2.1zM224.3 276.7l2.1 2.1-2.1 2.1-2.1-2.1zM223 285.4l2.1 2.1-2.1 2.1-2.1-2.1z" fill="#e4d4dc" fill-opacity="0.85"/>
<path d="M217.8 278.6l2.1 2.1-2.1 2.1-2.1-2.1zM241.3 282.9l2.1 2.1-2.1 2.1-2.1-2.1zM197.3 282.1l2.1 2.1-2.1 2.1-2.1-2.1zM226.6 285.5l2.1 2.1-2.1 2.1-2.1-2.1zM243.5 278.1l2.1 2.1-2.1 2.1-2.1-2.1zM213.8 283.3l2.1 2.1-2.1 2.1-2.1-2.1zM219.7 280.5l2.1 2.1-2.1 2.1-2.1-2.1zM203.1 282.2l2.1 2.1-2.1 2.1-2.1-2.1zM230.3 278.6l2.1 2.1-2.1 2.1-2.1-2.1zM190.5 281.3l2.1 2.1-2.1 2.1-2.1-2.1z" fill="#dcc0c4" fill-opacity="0.85"/>
<path d="M197 281.3l2.1 2.1-2.1 2.1-2.1-2.1zM225 279.6l2.1 2.1-2.1 2.1-2.1-2.1zM198.8 279.3l2.1 2.1-2.1 2.1-2.1-2.1zM196.1 275l2.1 2.1-2.1 2.1-2.1-2.1zM221.2 279.1l2.1 2.1-2.1 2.1-2.1-2.1z" fill="#d8c4cc" fill-opacity="0.85"/>
<path d="M191.9 283.7l2.1 2.1-2.1 2.1-2.1-2.1zM224.3 278.1l2.1 2.1-2.1 2.1-2.1-2.1zM231.2 275.4l2.1 2.1-2.1 2.1-2.1-2.1zM236.5 281l2.1 2.1-2.1 2.1-2.1-2.1zM200.2 284.3l2.1 2.1-2.1 2.1-2.1-2.1zM187.9 277l2.1 2.1-2.1 2.1-2.1-2.1zM238.1 280.7l2.1 2.1-2.1 2.1-2.1-2.1zM208.8 285.6l2.1 2.1-2.1 2.1-2.1-2.1zM172.3 283.3l2.1 2.1-2.1 2.1-2.1-2.1z" fill="#c8c8c8" fill-opacity="0.85"/>
<path d="M234.2 285.3l2.1 2.1-2.1 2.1-2.1-2.1zM201.2 281.4l2.1 2.1-2.1 2.1-2.1-2.1zM183.2 280.8l2.1 2.1-2.1 2.1-2.1-2.1zM243.8 284.5l2.1 2.1-2.1 2.1-2.1-2.1z" fill="#a8b0a8" fill-opacity="0.85"/>
<path d="M200.8 281.9l2.1 2.1-2.1 2.1-2.1-2.1zM249 285.8l2.1 2.1-2.1 2.1-2.1-2.1zM221.8 275.3l2.1 2.1-2.1 2.1-2.1-2.1zM184.6 280.1l2.1 2.1-2.1 2.1-2.1-2.1z" fill="#d8d8e0" fill-opacity="0.85"/>
<path d="M176.6 264.2l2.1 2.1-2.1 2.1-2.1-2.1zM176.6 264.2l2.1 2.1-2.1 2.1-2.1-2.1z" fill="#e4e0e8"/>
<path d="M176.6 272.1l2.1 2.1-2.1 2.1-2.1-2.1zM176.6 272.1l2.1 2.1-2.1 2.1-2.1-2.1z" fill="#607a66"/>
<path d="M210 273.9l2.1 2.1-2.1 2.1-2.1-2.1z" fill="#e0c0c8"/>
<path d="M212 276.9l2.1 2.1-2.1 2.1-2.1-2.1z" fill="#d8b8c0"/>
<path d="M228 278.9l2.1 2.1-2.1 2.1-2.1-2.1z" fill="#8a9a8a"/>
<path d="M232 277.9l2.1 2.1-2.1 2.1-2.1-2.1z" fill="#a0a8a0"/>
<path d="M188 269.9l2.1 2.1-2.1 2.1-2.1-2.1z" fill="#d8d0dc"/>
<path d="M197 273.9l2.1 2.1-2.1 2.1-2.1-2.1z" fill="#d0c0c8"/>
<path d="M108.3 246.9l2.1 2.1-2.1 2.1-2.1-2.1zM108.3 250.4l2.1 2.1-2.1 2.1-2.1-2.1zM108.3 254.4l2.1 2.1-2.1 2.1-2.1-2.1zM120.6 231.9l2.1 2.1-2.1 2.1-2.1-2.1zM120.6 236.9l2.1 2.1-2.1 2.1-2.1-2.1zM120.6 242.4l2.1 2.1-2.1 2.1-2.1-2.1zM120.6 249.9l2.1 2.1-2.1 2.1-2.1-2.1zM114 259.9l2.1 2.1-2.1 2.1-2.1-2.1zM98 261.9l2.1 2.1-2.1 2.1-2.1-2.1z" fill="#dcdcdc" fill-opacity="0.9"/>
<path d="M142.5 197.3l2.1 2.1-2.1 2.1-2.1-2.1z" fill="#cc4a5a"/>
<path d="M144.7 219.4l2.1 2.1-2.1 2.1-2.1-2.1zM133.7 245.4l2.1 2.1-2.1 2.1-2.1-2.1zM127.7 230.7l2.1 2.1-2.1 2.1-2.1-2.1z" fill="#5a66ac"/>
<path d="M143 226.4l2.1 2.1-2.1 2.1-2.1-2.1z" fill="#e8e0e0"/>
<path d="M142.5 231.9l2.1 2.1-2.1 2.1-2.1-2.1z" fill="#4a8a5a"/>
<path d="M138.6 247.5l2.1 2.1-2.1 2.1-2.1-2.1z" fill="#c8a8a0"/>
<path d="M127.5 250.2l2.1 2.1-2.1 2.1-2.1-2.1z" fill="#e8dcdc"/>
<path d="M125.8 259.8l2.1 2.1-2.1 2.1-2.1-2.1z" fill="#d07080"/>
<path d="M140.7 257.2l2.1 2.1-2.1 2.1-2.1-2.1z" fill="#e0a8b0"/>
<path d="M148.5 256.8l2.1 2.1-2.1 2.1-2.1-2.1zM152 263.3l2.1 2.1-2.1 2.1-2.1-2.1zM156.4 264.2l2.1 2.1-2.1 2.1-2.1-2.1zM126.6 272.1l2.1 2.1-2.1 2.1-2.1-2.1z" fill="#d06070"/>
<path d="M146.8 269.4l2.1 2.1-2.1 2.1-2.1-2.1z" fill="#508060"/>
<path d="M160.8 254.5l2.1 2.1-2.1 2.1-2.1-2.1zM118 251.9l2.1 2.1-2.1 2.1-2.1-2.1z" fill="#e8e0e8"/>
<path d="M160.8 263.3l2.1 2.1-2.1 2.1-2.1-2.1z" fill="#b07080"/>
<path d="M137 261.9l2.1 2.1-2.1 2.1-2.1-2.1z" fill="#d8b0b8"/>
<path d="M131 265.9l2.1 2.1-2.1 2.1-2.1-2.1z" fill="#e8d0d4"/>
<path d="M110 259.9l2.1 2.1-2.1 2.1-2.1-2.1zM104 255.9l2.1 2.1-2.1 2.1-2.1-2.1z" fill="#dcd6e6"/>
<path d="M94 257.9l2.1 2.1-2.1 2.1-2.1-2.1zM80 263.9l2.1 2.1-2.1 2.1-2.1-2.1z" fill="#e6e0ea"/>
<text x="141.30" y="299.10" font-size="4.6" text-anchor="middle" font-weight="normal" fill="#000">miR-148a</text>
<line x1="140.20" y1="302.30" x2="142.80" y2="302.30" stroke="#3a6e3a" stroke-width="1.35"/>
<path d="M139.60 302.30L142.80 300.22L142.80 304.38Z" fill="#3a6e3a"/>
<text x="226.80" y="293.60" font-size="4.6" text-anchor="middle" font-weight="normal" fill="#000">NFE2L3</text>
<line x1="224.00" y1="295.30" x2="239.00" y2="295.30" stroke="#3a6e3a" stroke-width="1.35"/>
<path d="M239.60 295.30L236.80 293.54L236.80 297.06Z" fill="#3a6e3a"/>
<text x="246.80" y="293.60" font-size="4.6" text-anchor="middle" font-weight="normal" fill="#000">CBX3</text>
<line x1="245.00" y1="295.30" x2="249.00" y2="295.30" stroke="#3a6e3a" stroke-width="1.35"/>
<path d="M249.60 295.30L247.20 293.86L247.20 296.74Z" fill="#3a6e3a"/>
<text x="241.40" y="300.60" font-size="4.6" text-anchor="middle" font-weight="normal" fill="#000">HNRNPA2B1</text>
<line x1="240.00" y1="302.70" x2="245.50" y2="302.70" stroke="#3a6e3a" stroke-width="1.35"/>
<path d="M239.40 302.70L242.20 300.94L242.20 304.46Z" fill="#3a6e3a"/>
<rect x="30.40" y="357.90" width="230.00" height="122.20" fill="none" stroke="#3a3a3a" stroke-width="1.1"/>
<line x1="26.40" y1="461.20" x2="30.40" y2="461.20" stroke="#333" stroke-width="0.9"/>
<text x="23.40" y="464.10" font-size="8.2" text-anchor="end" font-weight="normal" fill="#000">0</text>
<line x1="26.40" y1="450.84" x2="30.40" y2="450.84" stroke="#333" stroke-width="0.9"/>
<text x="23.40" y="453.74" font-size="8.2" text-anchor="end" font-weight="normal" fill="#000">2</text>
<line x1="26.40" y1="440.48" x2="30.40" y2="440.48" stroke="#333" stroke-width="0.9"/>
<text x="23.40" y="443.38" font-size="8.2" text-anchor="end" font-weight="normal" fill="#000">4</text>
<line x1="26.40" y1="430.12" x2="30.40" y2="430.12" stroke="#333" stroke-width="0.9"/>
<text x="23.40" y="433.02" font-size="8.2" text-anchor="end" font-weight="normal" fill="#000">6</text>
<line x1="26.40" y1="419.76" x2="30.40" y2="419.76" stroke="#333" stroke-width="0.9"/>
<text x="23.40" y="422.66" font-size="8.2" text-anchor="end" font-weight="normal" fill="#000">8</text>
<line x1="26.40" y1="409.40" x2="30.40" y2="409.40" stroke="#333" stroke-width="0.9"/>
<text x="23.40" y="412.30" font-size="8.2" text-anchor="end" font-weight="normal" fill="#000">10</text>
<line x1="26.40" y1="399.04" x2="30.40" y2="399.04" stroke="#333" stroke-width="0.9"/>
<text x="23.40" y="401.94" font-size="8.2" text-anchor="end" font-weight="normal" fill="#000">12</text>
<line x1="26.40" y1="388.68" x2="30.40" y2="388.68" stroke="#333" stroke-width="0.9"/>
<text x="23.40" y="391.58" font-size="8.2" text-anchor="end" font-weight="normal" fill="#000">14</text>
<line x1="26.40" y1="378.32" x2="30.40" y2="378.32" stroke="#333" stroke-width="0.9"/>
<text x="23.40" y="381.22" font-size="8.2" text-anchor="end" font-weight="normal" fill="#000">16</text>
<line x1="26.40" y1="367.96" x2="30.40" y2="367.96" stroke="#333" stroke-width="0.9"/>
<text x="23.40" y="370.86" font-size="8.2" text-anchor="end" font-weight="normal" fill="#000">18</text>
<line x1="260.40" y1="461.20" x2="263.80" y2="461.20" stroke="#333" stroke-width="0.9"/>
<text x="266.40" y="464.10" font-size="8.2" text-anchor="start" font-weight="normal" fill="#000">0</text>
<line x1="260.40" y1="432.80" x2="263.80" y2="432.80" stroke="#333" stroke-width="0.9"/>
<text x="266.40" y="435.70" font-size="8.2" text-anchor="start" font-weight="normal" fill="#000">15</text>
<line x1="260.40" y1="404.40" x2="263.80" y2="404.40" stroke="#333" stroke-width="0.9"/>
<text x="266.40" y="407.30" font-size="8.2" text-anchor="start" font-weight="normal" fill="#000">30</text>
<line x1="260.40" y1="376.00" x2="263.80" y2="376.00" stroke="#333" stroke-width="0.9"/>
<text x="266.40" y="378.90" font-size="8.2" text-anchor="start" font-weight="normal" fill="#000">45</text>
<line x1="95.00" y1="480.10" x2="95.00" y2="483.10" stroke="#333" stroke-width="0.9"/>
<text x="95.00" y="493.50" font-size="7.9" text-anchor="middle" font-weight="normal" fill="#000">21,900</text>
<line x1="145.60" y1="480.10" x2="145.60" y2="483.10" stroke="#333" stroke-width="0.9"/>
<text x="145.60" y="493.50" font-size="7.9" text-anchor="middle" font-weight="normal" fill="#000">22,000</text>
<line x1="196.30" y1="480.10" x2="196.30" y2="483.10" stroke="#333" stroke-width="0.9"/>
<text x="196.30" y="493.50" font-size="7.9" text-anchor="middle" font-weight="normal" fill="#000">22,100</text>
<text x="145.20" y="353.10" font-size="8.15" text-anchor="middle" font-weight="normal" fill="#000">hsa-miR-130b &amp; hsa-miR-301b</text>
<text x="145.20" y="505.60" font-size="8.1" text-anchor="middle" font-weight="normal" fill="#000">Chromosome 22 position (kb)</text>
<text transform="translate(8.6 418.60) rotate(-90)" font-size="8" text-anchor="middle" fill="#000"><tspan font-style="italic">P</tspan> value (−log <tspan font-style="italic">P</tspan>)</text>
<text transform="translate(281.9 418.60) rotate(90)" font-size="8" text-anchor="middle" fill="#000">Recombination rate (cM/Mb)</text>
<text transform="translate(0.5 355.60) scale(0.84 1)" font-size="16.8" font-weight="bold" fill="#000">c</text>
<rect x="235.20" y="366.20" width="3.70" height="34.40" fill="url(#gblue)" stroke="none" stroke-width="1"/>
<text x="237.05" y="364.70" font-size="5.0" text-anchor="middle" font-weight="normal" fill="#000">TC</text>
<rect x="245.40" y="366.20" width="3.70" height="34.40" fill="url(#gred)" stroke="none" stroke-width="1"/>
<text x="247.25" y="364.70" font-size="5.0" text-anchor="middle" font-weight="normal" fill="#000">HDL</text>
<text x="250.70" y="368.20" font-size="5.0" text-anchor="start" font-weight="normal" fill="#000">1</text>
<text x="250.70" y="386.40" font-size="5.8" text-anchor="start" font-weight="normal" fill="#000"><tspan font-style="italic">R</tspan><tspan font-size="3.6" dy="-2">2</tspan></text>
<text x="250.70" y="403.00" font-size="5.0" text-anchor="start" font-weight="normal" fill="#000">0</text>
<polyline points="40,457.2 101.5,457.2 104.7,460.1 137.3,460.1 137.3,450.5 140,450.5 140,454.7 146.9,454.7 146.9,460.5 186.8,460.5 186.8,428.2 187.2,460.5 195.2,460.5 195.2,450.1 195.5,460.5 252,460.5" fill="none" stroke="#a8a8a8" stroke-width="0.8"/>
<path d="M44.6 454.6l2.1 2.1-2.1 2.1-2.1-2.1zM49.2 455.9l2.1 2.1-2.1 2.1-2.1-2.1z" fill="#ecd0d4" fill-opacity="0.85"/>
<path d="M50.8 453.6l2.1 2.1-2.1 2.1-2.1-2.1zM43.4 454.3l2.1 2.1-2.1 2.1-2.1-2.1zM51.4 449.9l2.1 2.1-2.1 2.1-2.1-2.1zM43.8 454.4l2.1 2.1-2.1 2.1-2.1-2.1zM47.4 455.6l2.1 2.1-2.1 2.1-2.1-2.1z" fill="#dcd4dc" fill-opacity="0.85"/>
<path d="M47.9 450.8l2.1 2.1-2.1 2.1-2.1-2.1zM171.3 444.5l2.1 2.1-2.1 2.1-2.1-2.1zM145.3 439.6l2.1 2.1-2.1 2.1-2.1-2.1zM167.4 443.3l2.1 2.1-2.1 2.1-2.1-2.1zM183.4 446.7l2.1 2.1-2.1 2.1-2.1-2.1zM170.1 441.4l2.1 2.1-2.1 2.1-2.1-2.1zM145.3 439.1l2.1 2.1-2.1 2.1-2.1-2.1zM149.4 438.3l2.1 2.1-2.1 2.1-2.1-2.1zM154.7 439.4l2.1 2.1-2.1 2.1-2.1-2.1zM146.8 446.4l2.1 2.1-2.1 2.1-2.1-2.1zM161.9 443.2l2.1 2.1-2.1 2.1-2.1-2.1zM174 449.3l2.1 2.1-2.1 2.1-2.1-2.1zM155.8 450.1l2.1 2.1-2.1 2.1-2.1-2.1zM176.5 445.7l2.1 2.1-2.1 2.1-2.1-2.1zM145.9 450.2l2.1 2.1-2.1 2.1-2.1-2.1zM148.9 438.3l2.1 2.1-2.1 2.1-2.1-2.1zM155.8 447.3l2.1 2.1-2.1 2.1-2.1-2.1zM152.5 438.5l2.1 2.1-2.1 2.1-2.1-2.1z" fill="#e8c8cc" fill-opacity="0.85"/>
<path d="M143.7 451.2l2.1 2.1-2.1 2.1-2.1-2.1zM207.5 457.9l2.1 2.1-2.1 2.1-2.1-2.1zM144.4 451.3l2.1 2.1-2.1 2.1-2.1-2.1zM242.1 455.9l2.1 2.1-2.1 2.1-2.1-2.1zM207.9 451.6l2.1 2.1-2.1 2.1-2.1-2.1zM195 450.4l2.1 2.1-2.1 2.1-2.1-2.1zM230.7 454.7l2.1 2.1-2.1 2.1-2.1-2.1zM224.3 457.8l2.1 2.1-2.1 2.1-2.1-2.1zM181.6 457.5l2.1 2.1-2.1 2.1-2.1-2.1zM170.1 459l2.1 2.1-2.1 2.1-2.1-2.1zM223.7 451.9l2.1 2.1-2.1 2.1-2.1-2.1zM181.1 456.4l2.1 2.1-2.1 2.1-2.1-2.1zM240.2 456.8l2.1 2.1-2.1 2.1-2.1-2.1zM247 457.1l2.1 2.1-2.1 2.1-2.1-2.1zM223.6 451.2l2.1 2.1-2.1 2.1-2.1-2.1zM157.9 450.5l2.1 2.1-2.1 2.1-2.1-2.1zM171.2 457.3l2.1 2.1-2.1 2.1-2.1-2.1zM245.6 456.2l2.1 2.1-2.1 2.1-2.1-2.1zM186.6 457.6l2.1 2.1-2.1 2.1-2.1-2.1zM235.1 453.8l2.1 2.1-2.1 2.1-2.1-2.1zM239.4 458.1l2.1 2.1-2.1 2.1-2.1-2.1zM208.5 458.6l2.1 2.1-2.1 2.1-2.1-2.1zM229 457.2l2.1 2.1-2.1 2.1-2.1-2.1zM176.2 457.4l2.1 2.1-2.1 2.1-2.1-2.1zM159 454.2l2.1 2.1-2.1 2.1-2.1-2.1zM184 455.7l2.1 2.1-2.1 2.1-2.1-2.1zM187.9 458.4l2.1 2.1-2.1 2.1-2.1-2.1zM231.9 456.7l2.1 2.1-2.1 2.1-2.1-2.1zM233 458.5l2.1 2.1-2.1 2.1-2.1-2.1zM244.7 449.9l2.1 2.1-2.1 2.1-2.1-2.1zM148.7 450.3l2.1 2.1-2.1 2.1-2.1-2.1zM236.6 450.6l2.1 2.1-2.1 2.1-2.1-2.1zM176.9 453.7l2.1 2.1-2.1 2.1-2.1-2.1zM248.7 450.5l2.1 2.1-2.1 2.1-2.1-2.1zM215.2 450.7l2.1 2.1-2.1 2.1-2.1-2.1zM249.1 452.8l2.1 2.1-2.1 2.1-2.1-2.1zM247.6 453.2l2.1 2.1-2.1 2.1-2.1-2.1zM200 459l2.1 2.1-2.1 2.1-2.1-2.1zM197.1 457.8l2.1 2.1-2.1 2.1-2.1-2.1zM161.3 458.8l2.1 2.1-2.1 2.1-2.1-2.1zM237.4 451.6l2.1 2.1-2.1 2.1-2.1-2.1zM240.9 454.9l2.1 2.1-2.1 2.1-2.1-2.1z" fill="#d0d0e0" fill-opacity="0.8"/>
<path d="M221.6 458.7l2.1 2.1-2.1 2.1-2.1-2.1zM237.7 453.5l2.1 2.1-2.1 2.1-2.1-2.1zM225.9 456.1l2.1 2.1-2.1 2.1-2.1-2.1zM184.3 450.5l2.1 2.1-2.1 2.1-2.1-2.1zM235 459l2.1 2.1-2.1 2.1-2.1-2.1zM200.4 451l2.1 2.1-2.1 2.1-2.1-2.1zM214.3 452.5l2.1 2.1-2.1 2.1-2.1-2.1zM147.2 459l2.1 2.1-2.1 2.1-2.1-2.1zM145.9 451.6l2.1 2.1-2.1 2.1-2.1-2.1zM233.8 449.8l2.1 2.1-2.1 2.1-2.1-2.1zM162.5 456.9l2.1 2.1-2.1 2.1-2.1-2.1zM149.6 453.2l2.1 2.1-2.1 2.1-2.1-2.1zM190.2 455.7l2.1 2.1-2.1 2.1-2.1-2.1zM160.4 449.9l2.1 2.1-2.1 2.1-2.1-2.1zM218.2 458.4l2.1 2.1-2.1 2.1-2.1-2.1zM211.9 458.6l2.1 2.1-2.1 2.1-2.1-2.1zM161.6 450.2l2.1 2.1-2.1 2.1-2.1-2.1zM186.1 455.4l2.1 2.1-2.1 2.1-2.1-2.1zM221.5 457.7l2.1 2.1-2.1 2.1-2.1-2.1zM180.4 455.4l2.1 2.1-2.1 2.1-2.1-2.1zM199.7 458.4l2.1 2.1-2.1 2.1-2.1-2.1zM168.8 451.2l2.1 2.1-2.1 2.1-2.1-2.1zM238.3 452.8l2.1 2.1-2.1 2.1-2.1-2.1zM194.4 451.7l2.1 2.1-2.1 2.1-2.1-2.1zM145.4 453.5l2.1 2.1-2.1 2.1-2.1-2.1zM167.9 456l2.1 2.1-2.1 2.1-2.1-2.1zM232.4 453.5l2.1 2.1-2.1 2.1-2.1-2.1z" fill="#e4dfe8" fill-opacity="0.8"/>
<path d="M221.3 458.3l2.1 2.1-2.1 2.1-2.1-2.1zM159.6 451.9l2.1 2.1-2.1 2.1-2.1-2.1zM234.5 451.5l2.1 2.1-2.1 2.1-2.1-2.1zM180.3 455.4l2.1 2.1-2.1 2.1-2.1-2.1zM185.6 455.5l2.1 2.1-2.1 2.1-2.1-2.1zM170.6 457.7l2.1 2.1-2.1 2.1-2.1-2.1zM167.6 456.2l2.1 2.1-2.1 2.1-2.1-2.1zM176.5 457.5l2.1 2.1-2.1 2.1-2.1-2.1zM210.9 454.9l2.1 2.1-2.1 2.1-2.1-2.1zM246.7 458.9l2.1 2.1-2.1 2.1-2.1-2.1zM206.1 456.4l2.1 2.1-2.1 2.1-2.1-2.1zM173.7 452l2.1 2.1-2.1 2.1-2.1-2.1zM181.6 453.9l2.1 2.1-2.1 2.1-2.1-2.1zM198.3 457.4l2.1 2.1-2.1 2.1-2.1-2.1zM248.1 451.1l2.1 2.1-2.1 2.1-2.1-2.1zM199.1 457.1l2.1 2.1-2.1 2.1-2.1-2.1zM223.6 459.1l2.1 2.1-2.1 2.1-2.1-2.1zM142.4 455.1l2.1 2.1-2.1 2.1-2.1-2.1zM212.9 454.5l2.1 2.1-2.1 2.1-2.1-2.1zM239.5 451.9l2.1 2.1-2.1 2.1-2.1-2.1zM150.2 452.4l2.1 2.1-2.1 2.1-2.1-2.1zM228.6 455.2l2.1 2.1-2.1 2.1-2.1-2.1zM191.2 451.3l2.1 2.1-2.1 2.1-2.1-2.1zM217.7 455.4l2.1 2.1-2.1 2.1-2.1-2.1zM247 456l2.1 2.1-2.1 2.1-2.1-2.1zM160.6 453.2l2.1 2.1-2.1 2.1-2.1-2.1zM214.3 452l2.1 2.1-2.1 2.1-2.1-2.1zM184.6 451.9l2.1 2.1-2.1 2.1-2.1-2.1zM219 452.8l2.1 2.1-2.1 2.1-2.1-2.1zM196.6 458.1l2.1 2.1-2.1 2.1-2.1-2.1zM214.3 453.9l2.1 2.1-2.1 2.1-2.1-2.1zM169.4 452.4l2.1 2.1-2.1 2.1-2.1-2.1zM208 457.6l2.1 2.1-2.1 2.1-2.1-2.1zM159 457.8l2.1 2.1-2.1 2.1-2.1-2.1zM147.1 457.2l2.1 2.1-2.1 2.1-2.1-2.1zM209.6 452.5l2.1 2.1-2.1 2.1-2.1-2.1zM168.7 453.1l2.1 2.1-2.1 2.1-2.1-2.1zM160.9 451.8l2.1 2.1-2.1 2.1-2.1-2.1zM227.5 454.8l2.1 2.1-2.1 2.1-2.1-2.1zM140.2 454.4l2.1 2.1-2.1 2.1-2.1-2.1zM167.8 457.8l2.1 2.1-2.1 2.1-2.1-2.1zM244.5 457.6l2.1 2.1-2.1 2.1-2.1-2.1z" fill="#e8dce0" fill-opacity="0.8"/>
<path d="M142.1 458.5l2.1 2.1-2.1 2.1-2.1-2.1zM234 456.9l2.1 2.1-2.1 2.1-2.1-2.1zM221.3 457.6l2.1 2.1-2.1 2.1-2.1-2.1zM214 458.8l2.1 2.1-2.1 2.1-2.1-2.1zM159.8 452.9l2.1 2.1-2.1 2.1-2.1-2.1zM206 457.5l2.1 2.1-2.1 2.1-2.1-2.1zM240.3 457l2.1 2.1-2.1 2.1-2.1-2.1zM159.1 451.2l2.1 2.1-2.1 2.1-2.1-2.1zM203 452.8l2.1 2.1-2.1 2.1-2.1-2.1zM153.1 459l2.1 2.1-2.1 2.1-2.1-2.1zM243.7 457.1l2.1 2.1-2.1 2.1-2.1-2.1zM184.9 456.4l2.1 2.1-2.1 2.1-2.1-2.1zM157.7 453.1l2.1 2.1-2.1 2.1-2.1-2.1zM149.8 454.8l2.1 2.1-2.1 2.1-2.1-2.1zM159.4 449.9l2.1 2.1-2.1 2.1-2.1-2.1zM180.5 450.3l2.1 2.1-2.1 2.1-2.1-2.1zM237.8 458.6l2.1 2.1-2.1 2.1-2.1-2.1zM230.7 450.7l2.1 2.1-2.1 2.1-2.1-2.1zM172.2 457.2l2.1 2.1-2.1 2.1-2.1-2.1zM142 455.6l2.1 2.1-2.1 2.1-2.1-2.1zM192.1 455.8l2.1 2.1-2.1 2.1-2.1-2.1zM244.4 455.6l2.1 2.1-2.1 2.1-2.1-2.1zM145.6 455.8l2.1 2.1-2.1 2.1-2.1-2.1zM149 456.4l2.1 2.1-2.1 2.1-2.1-2.1zM224.9 451.7l2.1 2.1-2.1 2.1-2.1-2.1zM180.5 449.9l2.1 2.1-2.1 2.1-2.1-2.1zM209.5 450.5l2.1 2.1-2.1 2.1-2.1-2.1zM241.3 457.5l2.1 2.1-2.1 2.1-2.1-2.1zM186.5 456.5l2.1 2.1-2.1 2.1-2.1-2.1zM201 458.2l2.1 2.1-2.1 2.1-2.1-2.1z" fill="#d8d8e6" fill-opacity="0.8"/>
<path d="M216.5 450l2.1 2.1-2.1 2.1-2.1-2.1zM169.6 457.5l2.1 2.1-2.1 2.1-2.1-2.1zM151.8 458.6l2.1 2.1-2.1 2.1-2.1-2.1zM165.6 458.6l2.1 2.1-2.1 2.1-2.1-2.1zM199.1 457.1l2.1 2.1-2.1 2.1-2.1-2.1zM198.7 454l2.1 2.1-2.1 2.1-2.1-2.1zM239.2 451.7l2.1 2.1-2.1 2.1-2.1-2.1zM196.6 457.9l2.1 2.1-2.1 2.1-2.1-2.1zM181 457.1l2.1 2.1-2.1 2.1-2.1-2.1zM151.8 456.1l2.1 2.1-2.1 2.1-2.1-2.1zM196.8 457.9l2.1 2.1-2.1 2.1-2.1-2.1zM190.8 457.2l2.1 2.1-2.1 2.1-2.1-2.1zM172.4 457l2.1 2.1-2.1 2.1-2.1-2.1zM247.9 452.3l2.1 2.1-2.1 2.1-2.1-2.1zM181.1 450.3l2.1 2.1-2.1 2.1-2.1-2.1zM142.9 453.4l2.1 2.1-2.1 2.1-2.1-2.1zM209.3 456.9l2.1 2.1-2.1 2.1-2.1-2.1zM248.9 457.6l2.1 2.1-2.1 2.1-2.1-2.1zM211 454.5l2.1 2.1-2.1 2.1-2.1-2.1zM232.7 456l2.1 2.1-2.1 2.1-2.1-2.1zM193.5 452.4l2.1 2.1-2.1 2.1-2.1-2.1zM161.4 456.8l2.1 2.1-2.1 2.1-2.1-2.1zM183.9 454.7l2.1 2.1-2.1 2.1-2.1-2.1zM155 458.9l2.1 2.1-2.1 2.1-2.1-2.1zM159.7 450l2.1 2.1-2.1 2.1-2.1-2.1zM172.5 449.8l2.1 2.1-2.1 2.1-2.1-2.1zM177.3 457.2l2.1 2.1-2.1 2.1-2.1-2.1zM211 455.5l2.1 2.1-2.1 2.1-2.1-2.1zM141.1 454.2l2.1 2.1-2.1 2.1-2.1-2.1zM142 456.2l2.1 2.1-2.1 2.1-2.1-2.1zM147.3 458.3l2.1 2.1-2.1 2.1-2.1-2.1zM152 454.3l2.1 2.1-2.1 2.1-2.1-2.1zM224.9 459.1l2.1 2.1-2.1 2.1-2.1-2.1z" fill="#dcd8e4" fill-opacity="0.8"/>
<path d="M213.6 455.1l2.1 2.1-2.1 2.1-2.1-2.1zM190.9 452.7l2.1 2.1-2.1 2.1-2.1-2.1zM218.3 450.9l2.1 2.1-2.1 2.1-2.1-2.1zM246.7 457.4l2.1 2.1-2.1 2.1-2.1-2.1zM176.2 450.6l2.1 2.1-2.1 2.1-2.1-2.1zM227.4 456.9l2.1 2.1-2.1 2.1-2.1-2.1zM163.7 457.5l2.1 2.1-2.1 2.1-2.1-2.1zM200.8 453.8l2.1 2.1-2.1 2.1-2.1-2.1zM220.1 451.7l2.1 2.1-2.1 2.1-2.1-2.1zM171.5 457.3l2.1 2.1-2.1 2.1-2.1-2.1zM218.4 453.8l2.1 2.1-2.1 2.1-2.1-2.1zM234.4 458.5l2.1 2.1-2.1 2.1-2.1-2.1zM158.4 453.9l2.1 2.1-2.1 2.1-2.1-2.1zM141.7 458.8l2.1 2.1-2.1 2.1-2.1-2.1zM198.8 451l2.1 2.1-2.1 2.1-2.1-2.1zM186 450.4l2.1 2.1-2.1 2.1-2.1-2.1zM149.8 454.4l2.1 2.1-2.1 2.1-2.1-2.1zM220.9 453.7l2.1 2.1-2.1 2.1-2.1-2.1zM222.9 457.9l2.1 2.1-2.1 2.1-2.1-2.1zM166.9 457.6l2.1 2.1-2.1 2.1-2.1-2.1zM234 455.1l2.1 2.1-2.1 2.1-2.1-2.1zM193.2 456.5l2.1 2.1-2.1 2.1-2.1-2.1zM142.5 458.1l2.1 2.1-2.1 2.1-2.1-2.1zM192.7 451.3l2.1 2.1-2.1 2.1-2.1-2.1zM151 455.7l2.1 2.1-2.1 2.1-2.1-2.1zM214.5 455.6l2.1 2.1-2.1 2.1-2.1-2.1zM150.2 450.2l2.1 2.1-2.1 2.1-2.1-2.1zM170.7 455.5l2.1 2.1-2.1 2.1-2.1-2.1zM234.4 454.9l2.1 2.1-2.1 2.1-2.1-2.1zM164.5 450.3l2.1 2.1-2.1 2.1-2.1-2.1zM223.2 450.3l2.1 2.1-2.1 2.1-2.1-2.1zM245 458.6l2.1 2.1-2.1 2.1-2.1-2.1zM187.9 453l2.1 2.1-2.1 2.1-2.1-2.1zM224.1 459l2.1 2.1-2.1 2.1-2.1-2.1zM211.7 454.2l2.1 2.1-2.1 2.1-2.1-2.1z" fill="#d4d0e0" fill-opacity="0.8"/>
<path d="M212.8 452.5l2.1 2.1-2.1 2.1-2.1-2.1zM206.5 452.9l2.1 2.1-2.1 2.1-2.1-2.1zM195.3 450.7l2.1 2.1-2.1 2.1-2.1-2.1zM156.5 453.5l2.1 2.1-2.1 2.1-2.1-2.1zM160.7 454.8l2.1 2.1-2.1 2.1-2.1-2.1zM213.1 453.3l2.1 2.1-2.1 2.1-2.1-2.1zM230.2 452.5l2.1 2.1-2.1 2.1-2.1-2.1zM157.3 451.1l2.1 2.1-2.1 2.1-2.1-2.1zM240.3 451.3l2.1 2.1-2.1 2.1-2.1-2.1zM239.7 454.8l2.1 2.1-2.1 2.1-2.1-2.1zM194.8 458.6l2.1 2.1-2.1 2.1-2.1-2.1zM164.3 458.6l2.1 2.1-2.1 2.1-2.1-2.1zM149.9 458.6l2.1 2.1-2.1 2.1-2.1-2.1zM197.2 450.9l2.1 2.1-2.1 2.1-2.1-2.1zM205.8 450.6l2.1 2.1-2.1 2.1-2.1-2.1zM159 452.2l2.1 2.1-2.1 2.1-2.1-2.1zM236.3 458.8l2.1 2.1-2.1 2.1-2.1-2.1zM215.5 454.8l2.1 2.1-2.1 2.1-2.1-2.1zM165.2 458.7l2.1 2.1-2.1 2.1-2.1-2.1zM162.8 459.1l2.1 2.1-2.1 2.1-2.1-2.1zM245.9 458.3l2.1 2.1-2.1 2.1-2.1-2.1zM144.1 455.3l2.1 2.1-2.1 2.1-2.1-2.1zM210.6 450.7l2.1 2.1-2.1 2.1-2.1-2.1zM205.8 452.4l2.1 2.1-2.1 2.1-2.1-2.1zM211.5 450.3l2.1 2.1-2.1 2.1-2.1-2.1zM211.4 457l2.1 2.1-2.1 2.1-2.1-2.1zM188.9 452.9l2.1 2.1-2.1 2.1-2.1-2.1zM149 450.7l2.1 2.1-2.1 2.1-2.1-2.1zM218.1 451.3l2.1 2.1-2.1 2.1-2.1-2.1zM163.3 455.4l2.1 2.1-2.1 2.1-2.1-2.1zM212.7 450.9l2.1 2.1-2.1 2.1-2.1-2.1z" fill="#e0d4dc" fill-opacity="0.8"/>
<path d="M179.1 449.2l2.1 2.1-2.1 2.1-2.1-2.1zM178 443.7l2.1 2.1-2.1 2.1-2.1-2.1zM151.4 445.6l2.1 2.1-2.1 2.1-2.1-2.1zM156.1 444.2l2.1 2.1-2.1 2.1-2.1-2.1zM151.1 442.2l2.1 2.1-2.1 2.1-2.1-2.1zM143 447.3l2.1 2.1-2.1 2.1-2.1-2.1zM150.8 446.2l2.1 2.1-2.1 2.1-2.1-2.1zM151.4 445.4l2.1 2.1-2.1 2.1-2.1-2.1zM181 438.7l2.1 2.1-2.1 2.1-2.1-2.1zM144.4 442.8l2.1 2.1-2.1 2.1-2.1-2.1zM183.1 444.4l2.1 2.1-2.1 2.1-2.1-2.1zM161 450.7l2.1 2.1-2.1 2.1-2.1-2.1zM157.8 441l2.1 2.1-2.1 2.1-2.1-2.1zM145.3 451.5l2.1 2.1-2.1 2.1-2.1-2.1z" fill="#e4c0c4" fill-opacity="0.85"/>
<path d="M171.6 445.7l2.1 2.1-2.1 2.1-2.1-2.1zM158 438.1l2.1 2.1-2.1 2.1-2.1-2.1zM171.5 448.4l2.1 2.1-2.1 2.1-2.1-2.1zM161 445.8l2.1 2.1-2.1 2.1-2.1-2.1zM151.8 438l2.1 2.1-2.1 2.1-2.1-2.1zM146.1 447l2.1 2.1-2.1 2.1-2.1-2.1zM166.6 438.3l2.1 2.1-2.1 2.1-2.1-2.1zM179.9 447.7l2.1 2.1-2.1 2.1-2.1-2.1zM170.2 440.6l2.1 2.1-2.1 2.1-2.1-2.1zM169.1 444.7l2.1 2.1-2.1 2.1-2.1-2.1z" fill="#f0dcdc" fill-opacity="0.85"/>
<path d="M168.3 447.9l2.1 2.1-2.1 2.1-2.1-2.1zM160.5 448.5l2.1 2.1-2.1 2.1-2.1-2.1zM173.2 439.6l2.1 2.1-2.1 2.1-2.1-2.1zM175.7 440.9l2.1 2.1-2.1 2.1-2.1-2.1zM168.1 446.3l2.1 2.1-2.1 2.1-2.1-2.1zM161.3 448.8l2.1 2.1-2.1 2.1-2.1-2.1zM142.5 438.8l2.1 2.1-2.1 2.1-2.1-2.1zM168.8 443.7l2.1 2.1-2.1 2.1-2.1-2.1zM166.7 447l2.1 2.1-2.1 2.1-2.1-2.1z" fill="#ecd4d6" fill-opacity="0.85"/>
<path d="M136.6 422l2.1 2.1-2.1 2.1-2.1-2.1z" fill="#c93139" fill-opacity="0.95"/>
<path d="M125.3 422.5l2.1 2.1-2.1 2.1-2.1-2.1z" fill="#c92f37" fill-opacity="0.95"/>
<path d="M120.8 422.9l2.1 2.1-2.1 2.1-2.1-2.1z" fill="#c82d35" fill-opacity="0.95"/>
<path d="M119.5 420.8l2.1 2.1-2.1 2.1-2.1-2.1zM119.1 422.5l2.1 2.1-2.1 2.1-2.1-2.1z" fill="#d5646a" fill-opacity="0.95"/>
<path d="M120.3 424.9l2.1 2.1-2.1 2.1-2.1-2.1z" fill="#d35a60" fill-opacity="0.95"/>
<path d="M126.4 423l2.1 2.1-2.1 2.1-2.1-2.1zM123.5 422.7l2.1 2.1-2.1 2.1-2.1-2.1z" fill="#ce444b" fill-opacity="0.95"/>
<path d="M107.2 421.9l2.1 2.1-2.1 2.1-2.1-2.1z" fill="#d5636a" fill-opacity="0.95"/>
<path d="M112.6 424.1l2.1 2.1-2.1 2.1-2.1-2.1z" fill="#cc3e45" fill-opacity="0.95"/>
<path d="M117.6 420.7l2.1 2.1-2.1 2.1-2.1-2.1z" fill="#cc3d44" fill-opacity="0.95"/>
<path d="M126.7 423.9l2.1 2.1-2.1 2.1-2.1-2.1z" fill="#d45c62" fill-opacity="0.95"/>
<path d="M101.3 421.8l2.1 2.1-2.1 2.1-2.1-2.1z" fill="#e09095" fill-opacity="0.95"/>
<path d="M129 425.3l2.1 2.1-2.1 2.1-2.1-2.1z" fill="#cd4148" fill-opacity="0.95"/>
<path d="M102.2 422.8l2.1 2.1-2.1 2.1-2.1-2.1z" fill="#db797e" fill-opacity="0.95"/>
<path d="M126.5 423l2.1 2.1-2.1 2.1-2.1-2.1z" fill="#d45e64" fill-opacity="0.95"/>
<path d="M116.7 421.7l2.1 2.1-2.1 2.1-2.1-2.1zM109.9 422.8l2.1 2.1-2.1 2.1-2.1-2.1z" fill="#cd4047" fill-opacity="0.95"/>
<path d="M100.8 420.6l2.1 2.1-2.1 2.1-2.1-2.1z" fill="#da757a" fill-opacity="0.95"/>
<path d="M114.6 422.1l2.1 2.1-2.1 2.1-2.1-2.1z" fill="#d56369" fill-opacity="0.95"/>
<path d="M120.4 423.1l2.1 2.1-2.1 2.1-2.1-2.1z" fill="#cb373e" fill-opacity="0.95"/>
<path d="M100.7 421.9l2.1 2.1-2.1 2.1-2.1-2.1zM100 419.7l2.1 2.1-2.1 2.1-2.1-2.1z" fill="#e19297" fill-opacity="0.95"/>
<path d="M106.4 421l2.1 2.1-2.1 2.1-2.1-2.1z" fill="#d56168" fill-opacity="0.95"/>
<path d="M137.4 426.1l2.1 2.1-2.1 2.1-2.1-2.1z" fill="#d15057" fill-opacity="0.95"/>
<path d="M112.5 422.8l2.1 2.1-2.1 2.1-2.1-2.1z" fill="#cb3941" fill-opacity="0.95"/>
<path d="M120.6 421.2l2.1 2.1-2.1 2.1-2.1-2.1z" fill="#d56268" fill-opacity="0.95"/>
<path d="M129.6 424.5l2.1 2.1-2.1 2.1-2.1-2.1z" fill="#cb3a42" fill-opacity="0.95"/>
<path d="M100.7 421.9l2.1 2.1-2.1 2.1-2.1-2.1z" fill="#de888d" fill-opacity="0.95"/>
<path d="M102.4 422.5l2.1 2.1-2.1 2.1-2.1-2.1z" fill="#de868b" fill-opacity="0.95"/>
<path d="M120.1 425.5l2.1 2.1-2.1 2.1-2.1-2.1zM107.4 423.5l2.1 2.1-2.1 2.1-2.1-2.1z" fill="#d2555b" fill-opacity="0.95"/>
<path d="M107.8 421.6l2.1 2.1-2.1 2.1-2.1-2.1z" fill="#cf4950" fill-opacity="0.95"/>
<path d="M115.6 423.5l2.1 2.1-2.1 2.1-2.1-2.1zM118.6 420.4l2.1 2.1-2.1 2.1-2.1-2.1z" fill="#cb3940" fill-opacity="0.95"/>
<path d="M123.7 422.9l2.1 2.1-2.1 2.1-2.1-2.1z" fill="#c93037" fill-opacity="0.95"/>
<path d="M116.2 424.3l2.1 2.1-2.1 2.1-2.1-2.1z" fill="#d2545b" fill-opacity="0.95"/>
<path d="M131.2 424l2.1 2.1-2.1 2.1-2.1-2.1z" fill="#d04b52" fill-opacity="0.95"/>
<path d="M105.5 420.7l2.1 2.1-2.1 2.1-2.1-2.1z" fill="#cf474e" fill-opacity="0.95"/>
<path d="M124.2 424.7l2.1 2.1-2.1 2.1-2.1-2.1z" fill="#d04c53" fill-opacity="0.95"/>
<path d="M135.5 423.2l2.1 2.1-2.1 2.1-2.1-2.1z" fill="#d3595f" fill-opacity="0.95"/>
<path d="M135.5 424l2.1 2.1-2.1 2.1-2.1-2.1z" fill="#d15056" fill-opacity="0.95"/>
<path d="M119.6 424.8l2.1 2.1-2.1 2.1-2.1-2.1z" fill="#ce454d" fill-opacity="0.95"/>
<path d="M103.3 422.1l2.1 2.1-2.1 2.1-2.1-2.1z" fill="#e19498" fill-opacity="0.95"/>
<path d="M100.5 418l2.1 2.1-2.1 2.1-2.1-2.1z" fill="#de898e" fill-opacity="0.95"/>
<path d="M112.4 424.2l2.1 2.1-2.1 2.1-2.1-2.1z" fill="#d2565d" fill-opacity="0.95"/>
<path d="M114.7 423.2l2.1 2.1-2.1 2.1-2.1-2.1z" fill="#cb383f" fill-opacity="0.95"/>
<path d="M116.1 421.6l2.1 2.1-2.1 2.1-2.1-2.1z" fill="#d45d63" fill-opacity="0.95"/>
<path d="M138.2 432.9l2.1 2.1-2.1 2.1-2.1-2.1zM108.2 432.4l2.1 2.1-2.1 2.1-2.1-2.1zM130.1 431.2l2.1 2.1-2.1 2.1-2.1-2.1z" fill="#4d5ca8" fill-opacity="0.95"/>
<path d="M119.4 434.4l2.1 2.1-2.1 2.1-2.1-2.1zM111.3 433.4l2.1 2.1-2.1 2.1-2.1-2.1z" fill="#4252a3" fill-opacity="0.95"/>
<path d="M111 431.2l2.1 2.1-2.1 2.1-2.1-2.1zM125.2 432.3l2.1 2.1-2.1 2.1-2.1-2.1z" fill="#4050a2" fill-opacity="0.95"/>
<path d="M132 432l2.1 2.1-2.1 2.1-2.1-2.1zM132.4 434.3l2.1 2.1-2.1 2.1-2.1-2.1zM120.4 433l2.1 2.1-2.1 2.1-2.1-2.1zM116.2 432.3l2.1 2.1-2.1 2.1-2.1-2.1zM113.2 432.1l2.1 2.1-2.1 2.1-2.1-2.1z" fill="#4857a6" fill-opacity="0.95"/>
<path d="M116.6 432.3l2.1 2.1-2.1 2.1-2.1-2.1zM126 431.7l2.1 2.1-2.1 2.1-2.1-2.1z" fill="#4e5da9" fill-opacity="0.95"/>
<path d="M138.5 432.9l2.1 2.1-2.1 2.1-2.1-2.1z" fill="#5462ac" fill-opacity="0.95"/>
<path d="M113.8 433.1l2.1 2.1-2.1 2.1-2.1-2.1z" fill="#4958a6" fill-opacity="0.95"/>
<path d="M115.6 434.1l2.1 2.1-2.1 2.1-2.1-2.1zM106.9 433.5l2.1 2.1-2.1 2.1-2.1-2.1zM111 430.6l2.1 2.1-2.1 2.1-2.1-2.1z" fill="#4f5da9" fill-opacity="0.95"/>
<path d="M132.3 433.7l2.1 2.1-2.1 2.1-2.1-2.1z" fill="#5c69af" fill-opacity="0.95"/>
<path d="M103.6 431.4l2.1 2.1-2.1 2.1-2.1-2.1z" fill="#4554a4" fill-opacity="0.95"/>
<path d="M118.2 434.9l2.1 2.1-2.1 2.1-2.1-2.1z" fill="#5462ab" fill-opacity="0.95"/>
<path d="M107.1 432.5l2.1 2.1-2.1 2.1-2.1-2.1z" fill="#3f4fa2" fill-opacity="0.95"/>
<path d="M114.6 433.3l2.1 2.1-2.1 2.1-2.1-2.1z" fill="#4555a5" fill-opacity="0.95"/>
<path d="M124.3 433.2l2.1 2.1-2.1 2.1-2.1-2.1z" fill="#5a68ae" fill-opacity="0.95"/>
<path d="M124.8 432.6l2.1 2.1-2.1 2.1-2.1-2.1zM106.5 433.4l2.1 2.1-2.1 2.1-2.1-2.1z" fill="#5a67ae" fill-opacity="0.95"/>
<path d="M109.5 433.6l2.1 2.1-2.1 2.1-2.1-2.1z" fill="#5d6ab0" fill-opacity="0.95"/>
<path d="M132 434.5l2.1 2.1-2.1 2.1-2.1-2.1z" fill="#4655a5" fill-opacity="0.95"/>
<path d="M117.9 434.7l2.1 2.1-2.1 2.1-2.1-2.1zM128.7 434.8l2.1 2.1-2.1 2.1-2.1-2.1zM114.2 433.5l2.1 2.1-2.1 2.1-2.1-2.1z" fill="#5e6bb0" fill-opacity="0.95"/>
<path d="M103.9 434l2.1 2.1-2.1 2.1-2.1-2.1z" fill="#5b69af" fill-opacity="0.95"/>
<path d="M116.1 432.2l2.1 2.1-2.1 2.1-2.1-2.1zM132.4 434.4l2.1 2.1-2.1 2.1-2.1-2.1z" fill="#5f6cb1" fill-opacity="0.95"/>
<path d="M121.5 435.4l2.1 2.1-2.1 2.1-2.1-2.1z" fill="#606db1" fill-opacity="0.95"/>
<path d="M138.3 434.6l2.1 2.1-2.1 2.1-2.1-2.1z" fill="#3f4fa1" fill-opacity="0.95"/>
<path d="M112.7 432.9l2.1 2.1-2.1 2.1-2.1-2.1zM121 432.3l2.1 2.1-2.1 2.1-2.1-2.1z" fill="#3c4ca0" fill-opacity="0.95"/>
<path d="M103.9 433.6l2.1 2.1-2.1 2.1-2.1-2.1zM124.6 433l2.1 2.1-2.1 2.1-2.1-2.1z" fill="#4756a5" fill-opacity="0.95"/>
<path d="M126.8 432.2l2.1 2.1-2.1 2.1-2.1-2.1z" fill="#5160aa" fill-opacity="0.95"/>
<path d="M134 434.2l2.1 2.1-2.1 2.1-2.1-2.1z" fill="#4150a2" fill-opacity="0.95"/>
<path d="M121.4 432.5l2.1 2.1-2.1 2.1-2.1-2.1z" fill="#4e5ca9" fill-opacity="0.95"/>
<path d="M110.2 430.5l2.1 2.1-2.1 2.1-2.1-2.1z" fill="#5764ad" fill-opacity="0.95"/>
<path d="M106.7 434l2.1 2.1-2.1 2.1-2.1-2.1z" fill="#626fb2" fill-opacity="0.95"/>
<path d="M129.3 433.6l2.1 2.1-2.1 2.1-2.1-2.1z" fill="#5e6cb0" fill-opacity="0.95"/>
<path d="M138.5 435l2.1 2.1-2.1 2.1-2.1-2.1z" fill="#5865ad" fill-opacity="0.95"/>
<path d="M110.4 369.3l2.1 2.1-2.1 2.1-2.1-2.1zM111.5 368.2l2.1 2.1-2.1 2.1-2.1-2.1zM115.5 374.8l2.1 2.1-2.1 2.1-2.1-2.1z" fill="#c83c48"/>
<path d="M134.9 401l2.1 2.1-2.1 2.1-2.1-2.1z" fill="#c85060"/>
<path d="M109.8 411.3l2.1 2.1-2.1 2.1-2.1-2.1zM111.3 411.7l2.1 2.1-2.1 2.1-2.1-2.1z" fill="#5a66ac"/>
<path d="M115.6 410.3l2.1 2.1-2.1 2.1-2.1-2.1z" fill="#6a70a8"/>
<path d="M100 438.2l2.1 2.1-2.1 2.1-2.1-2.1z" fill="#a0a4c8"/>
<path d="M137.6 438.6l2.1 2.1-2.1 2.1-2.1-2.1z" fill="#7a80b0"/>
<path d="M136.7 417.7l2.1 2.1-2.1 2.1-2.1-2.1z" fill="#e0a8b0"/>
<path d="M137 414.9l2.1 2.1-2.1 2.1-2.1-2.1z" fill="#e8c0c4"/>
<path d="M103.4 450.3l2.1 2.1-2.1 2.1-2.1-2.1z" fill="#e8d0d4"/>
<path d="M103.4 452.9l2.1 2.1-2.1 2.1-2.1-2.1z" fill="#e4d0d8"/>
<path d="M103 447.4l2.1 2.1-2.1 2.1-2.1-2.1z" fill="#ecd8dc"/>
<path d="M121 458.9l2.1 2.1-2.1 2.1-2.1-2.1z" fill="#e8e4ea"/>
<text x="38.30" y="470.50" font-size="4.6" text-anchor="middle" font-weight="normal" fill="#000">HIC2</text>
<line x1="37.80" y1="472.20" x2="47.40" y2="472.20" stroke="#3a6e3a" stroke-width="1.35"/>
<path d="M48.00 472.20L45.20 470.44L45.20 473.96Z" fill="#3a6e3a"/>
<text x="57.50" y="466.80" font-size="4.6" text-anchor="middle" font-weight="normal" fill="#000">TMEM191C</text>
<line x1="54.00" y1="469.40" x2="57.60" y2="469.40" stroke="#3a6e3a" stroke-width="1.35"/>
<path d="M53.40 469.40L55.80 467.96L55.80 470.84Z" fill="#3a6e3a"/>
<text x="71.50" y="476.20" font-size="4.6" text-anchor="middle" font-weight="normal" fill="#000">PI4KAP2</text>
<line x1="58.00" y1="477.40" x2="80.70" y2="477.40" stroke="#3a6e3a" stroke-width="1.35"/>
<path d="M57.40 477.40L60.20 475.64L60.20 479.16Z" fill="#3a6e3a"/>
<text x="98.30" y="466.80" font-size="4.6" text-anchor="middle" font-weight="normal" fill="#000">RIMBP3C</text>
<line x1="94.40" y1="469.40" x2="99.00" y2="469.40" stroke="#3a6e3a" stroke-width="1.35"/>
<path d="M93.80 469.40L96.20 467.96L96.20 470.84Z" fill="#3a6e3a"/>
<text x="117.00" y="470.50" font-size="4.6" text-anchor="middle" font-weight="normal" fill="#000">UBE2L3</text>
<line x1="96.00" y1="472.20" x2="135.50" y2="472.20" stroke="#3a6e3a" stroke-width="1.35"/>
<path d="M136.10 472.20L133.30 470.44L133.30 473.96Z" fill="#3a6e3a"/>
<text x="129.50" y="466.40" font-size="4.6" text-anchor="middle" font-weight="normal" fill="#000">YDJC</text>
<line x1="137.00" y1="469.00" x2="139.00" y2="469.00" stroke="#3a6e3a" stroke-width="1.35"/>
<path d="M136.40 469.00L138.60 467.72L138.60 470.28Z" fill="#3a6e3a"/>
<text x="146.40" y="466.40" font-size="4.6" text-anchor="middle" font-weight="normal" fill="#000">SDF2L1</text>
<line x1="143.00" y1="469.00" x2="145.50" y2="469.00" stroke="#3a6e3a" stroke-width="1.35"/>
<path d="M146.10 469.00L143.90 467.72L143.90 470.28Z" fill="#3a6e3a"/>
<text x="126.00" y="478.00" font-size="4.6" text-anchor="middle" font-weight="normal" fill="#000">CCDC116</text>
<line x1="138.50" y1="476.80" x2="140.50" y2="476.80" stroke="#3a6e3a" stroke-width="1.35"/>
<path d="M141.10 476.80L138.90 475.52L138.90 478.08Z" fill="#3a6e3a"/>
<line x1="148.30" y1="468.00" x2="171.80" y2="468.00" stroke="#3a6e3a" stroke-width="1.35"/>
<path d="M172.40 468.00L169.60 466.24L169.60 469.76Z" fill="#3a6e3a"/>
<text x="178.00" y="469.50" font-size="4.6" text-anchor="middle" font-weight="normal" fill="#000">PPIL2</text>
<text x="150.50" y="473.50" font-size="4.6" text-anchor="start" font-weight="normal" fill="#000">▸miR-301b</text>
<text x="150.50" y="478.00" font-size="4.6" text-anchor="start" font-weight="normal" fill="#000">▸miR-130b</text>
<text x="182.00" y="474.60" font-size="4.6" text-anchor="middle" font-weight="normal" fill="#000">YPEL1</text>
<line x1="170.40" y1="476.80" x2="191.20" y2="476.80" stroke="#3a6e3a" stroke-width="1.35"/>
<path d="M169.80 476.80L172.60 475.04L172.60 478.56Z" fill="#3a6e3a"/>
<text x="230.50" y="474.10" font-size="4.6" text-anchor="middle" font-weight="normal" fill="#000">MAPK1</text>
<line x1="200.40" y1="474.90" x2="252.30" y2="474.90" stroke="#3a6e3a" stroke-width="1.35"/>
<path d="M199.80 474.90L202.60 473.14L202.60 476.66Z" fill="#3a6e3a"/>
<rect x="322.20" y="38.40" width="334.70" height="173.00" fill="none" stroke="#3a3a3a" stroke-width="1.1"/>
<line x1="318.80" y1="157.20" x2="322.20" y2="157.20" stroke="#333" stroke-width="0.9"/>
<text x="315.60" y="160.10" font-size="8.2" text-anchor="end" font-weight="normal" fill="#000">0</text>
<line x1="318.80" y1="100.80" x2="322.20" y2="100.80" stroke="#333" stroke-width="0.9"/>
<text x="315.60" y="103.70" font-size="8.2" text-anchor="end" font-weight="normal" fill="#000">2</text>
<line x1="318.80" y1="44.40" x2="322.20" y2="44.40" stroke="#333" stroke-width="0.9"/>
<text x="315.60" y="47.30" font-size="8.2" text-anchor="end" font-weight="normal" fill="#000">4</text>
<line x1="656.90" y1="156.90" x2="660.20" y2="156.90" stroke="#333" stroke-width="0.9"/>
<text x="662.60" y="159.80" font-size="8.2" text-anchor="start" font-weight="normal" fill="#000">0</text>
<line x1="656.90" y1="116.60" x2="660.20" y2="116.60" stroke="#333" stroke-width="0.9"/>
<text x="662.60" y="119.50" font-size="8.2" text-anchor="start" font-weight="normal" fill="#000">15</text>
<line x1="656.90" y1="76.30" x2="660.20" y2="76.30" stroke="#333" stroke-width="0.9"/>
<text x="662.60" y="79.20" font-size="8.2" text-anchor="start" font-weight="normal" fill="#000">30</text>
<line x1="378.60" y1="211.40" x2="378.60" y2="214.60" stroke="#333" stroke-width="0.9"/>
<text x="378.60" y="224.90" font-size="7.9" text-anchor="middle" font-weight="normal" fill="#000">135,700</text>
<line x1="485.80" y1="211.40" x2="485.80" y2="214.60" stroke="#333" stroke-width="0.9"/>
<text x="485.80" y="224.90" font-size="7.9" text-anchor="middle" font-weight="normal" fill="#000">136,400</text>
<line x1="593.50" y1="211.40" x2="593.50" y2="214.60" stroke="#333" stroke-width="0.9"/>
<text x="593.50" y="224.90" font-size="7.9" text-anchor="middle" font-weight="normal" fill="#000">137,100</text>
<text x="489.30" y="33.00" font-size="8.15" text-anchor="middle" font-weight="normal" fill="#000">TC GWAS miR-128 eQTL</text>
<text x="489.30" y="237.80" font-size="8.1" text-anchor="middle" font-weight="normal" fill="#000">Chromosome 2 position (kb)</text>
<text transform="translate(303.2 124.90) rotate(-90)" font-size="8" text-anchor="middle" fill="#000"><tspan font-style="italic">P</tspan> value (−log <tspan font-style="italic">P</tspan>)</text>
<text transform="translate(679.0 124.90) rotate(90)" font-size="8" text-anchor="middle" fill="#000">Recombination rate (cM/Mb)</text>
<text transform="translate(296.2 13.50) scale(0.84 1)" font-size="16.8" font-weight="bold" fill="#000">d</text>
<line x1="362.40" y1="85.00" x2="362.40" y2="157.20" stroke="#a6a6a6" stroke-width="0.9"/>
<line x1="386.80" y1="99.40" x2="386.80" y2="157.20" stroke="#a6a6a6" stroke-width="0.9"/>
<line x1="484.00" y1="124.00" x2="484.00" y2="157.20" stroke="#a6a6a6" stroke-width="0.9"/>
<line x1="545.30" y1="96.00" x2="545.30" y2="157.20" stroke="#a6a6a6" stroke-width="0.9"/>
<line x1="551.40" y1="94.00" x2="551.40" y2="157.20" stroke="#a6a6a6" stroke-width="0.9"/>
<line x1="566.30" y1="104.00" x2="566.30" y2="157.20" stroke="#a6a6a6" stroke-width="0.9"/>
<line x1="574.50" y1="57.00" x2="574.50" y2="157.20" stroke="#a6a6a6" stroke-width="0.9"/>
<line x1="584.70" y1="51.00" x2="584.70" y2="157.20" stroke="#a6a6a6" stroke-width="0.9"/>
<line x1="587.30" y1="118.00" x2="587.30" y2="157.20" stroke="#a6a6a6" stroke-width="0.9"/>
<line x1="603.40" y1="67.50" x2="603.40" y2="157.20" stroke="#a6a6a6" stroke-width="0.9"/>
<line x1="639.90" y1="116.00" x2="639.90" y2="157.20" stroke="#a6a6a6" stroke-width="0.9"/>
<path d="M385.3 148.4l2.4 2.4-2.4 2.4-2.4-2.4zM531.5 150.5l2.4 2.4-2.4 2.4-2.4-2.4zM401.2 147.4l2.4 2.4-2.4 2.4-2.4-2.4zM585.2 150.2l2.4 2.4-2.4 2.4-2.4-2.4zM491.1 152.8l2.4 2.4-2.4 2.4-2.4-2.4zM335 151.6l2.4 2.4-2.4 2.4-2.4-2.4zM516 154.3l2.4 2.4-2.4 2.4-2.4-2.4zM580.9 152.9l2.4 2.4-2.4 2.4-2.4-2.4zM406.4 154.5l2.4 2.4-2.4 2.4-2.4-2.4zM644.2 147.9l2.4 2.4-2.4 2.4-2.4-2.4zM606.1 149.2l2.4 2.4-2.4 2.4-2.4-2.4zM344.6 152l2.4 2.4-2.4 2.4-2.4-2.4zM488.7 153.9l2.4 2.4-2.4 2.4-2.4-2.4zM630.1 151.6l2.4 2.4-2.4 2.4-2.4-2.4zM382.1 147.1l2.4 2.4-2.4 2.4-2.4-2.4zM372.8 146l2.4 2.4-2.4 2.4-2.4-2.4zM474.9 149.8l2.4 2.4-2.4 2.4-2.4-2.4zM440.6 150.5l2.4 2.4-2.4 2.4-2.4-2.4zM392.1 154.5l2.4 2.4-2.4 2.4-2.4-2.4zM603.3 152.9l2.4 2.4-2.4 2.4-2.4-2.4zM576.7 153.1l2.4 2.4-2.4 2.4-2.4-2.4zM635.3 146.3l2.4 2.4-2.4 2.4-2.4-2.4zM568.7 147.7l2.4 2.4-2.4 2.4-2.4-2.4zM514.6 148l2.4 2.4-2.4 2.4-2.4-2.4zM372.1 150.6l2.4 2.4-2.4 2.4-2.4-2.4zM591.2 153.2l2.4 2.4-2.4 2.4-2.4-2.4zM621.1 146.4l2.4 2.4-2.4 2.4-2.4-2.4zM461.4 151.6l2.4 2.4-2.4 2.4-2.4-2.4zM474.4 151.4l2.4 2.4-2.4 2.4-2.4-2.4zM643.4 151.4l2.4 2.4-2.4 2.4-2.4-2.4zM342.3 154.1l2.4 2.4-2.4 2.4-2.4-2.4zM557.3 145.3l2.4 2.4-2.4 2.4-2.4-2.4zM488.3 150.4l2.4 2.4-2.4 2.4-2.4-2.4zM505.2 147.8l2.4 2.4-2.4 2.4-2.4-2.4zM403.1 149.2l2.4 2.4-2.4 2.4-2.4-2.4zM507.1 149.1l2.4 2.4-2.4 2.4-2.4-2.4zM390.2 153.4l2.4 2.4-2.4 2.4-2.4-2.4zM442.3 146l2.4 2.4-2.4 2.4-2.4-2.4zM441.8 149.4l2.4 2.4-2.4 2.4-2.4-2.4zM429.4 154l2.4 2.4-2.4 2.4-2.4-2.4zM354.4 147.2l2.4 2.4-2.4 2.4-2.4-2.4zM575.7 151.5l2.4 2.4-2.4 2.4-2.4-2.4zM546.5 148.6l2.4 2.4-2.4 2.4-2.4-2.4zM613.5 145.7l2.4 2.4-2.4 2.4-2.4-2.4zM460.6 145.3l2.4 2.4-2.4 2.4-2.4-2.4zM633 149.4l2.4 2.4-2.4 2.4-2.4-2.4zM608.7 150.4l2.4 2.4-2.4 2.4-2.4-2.4zM450.8 152.7l2.4 2.4-2.4 2.4-2.4-2.4zM606.5 153.5l2.4 2.4-2.4 2.4-2.4-2.4zM355.6 147.2l2.4 2.4-2.4 2.4-2.4-2.4zM574.7 150.5l2.4 2.4-2.4 2.4-2.4-2.4zM594.3 154.4l2.4 2.4-2.4 2.4-2.4-2.4zM414.2 152.3l2.4 2.4-2.4 2.4-2.4-2.4zM464.5 153.4l2.4 2.4-2.4 2.4-2.4-2.4zM355.6 151.9l2.4 2.4-2.4 2.4-2.4-2.4zM613.6 145.4l2.4 2.4-2.4 2.4-2.4-2.4zM566 150.5l2.4 2.4-2.4 2.4-2.4-2.4zM412.4 145.6l2.4 2.4-2.4 2.4-2.4-2.4zM497.5 148l2.4 2.4-2.4 2.4-2.4-2.4zM342.8 153.1l2.4 2.4-2.4 2.4-2.4-2.4zM594.7 147.3l2.4 2.4-2.4 2.4-2.4-2.4zM608.1 149.3l2.4 2.4-2.4 2.4-2.4-2.4zM466.5 149.5l2.4 2.4-2.4 2.4-2.4-2.4zM598.1 152.2l2.4 2.4-2.4 2.4-2.4-2.4zM500.2 152.5l2.4 2.4-2.4 2.4-2.4-2.4zM572.9 154.7l2.4 2.4-2.4 2.4-2.4-2.4zM547.1 145.7l2.4 2.4-2.4 2.4-2.4-2.4zM341.3 149.4l2.4 2.4-2.4 2.4-2.4-2.4zM534.2 146.8l2.4 2.4-2.4 2.4-2.4-2.4zM515.7 152.6l2.4 2.4-2.4 2.4-2.4-2.4zM460.1 145.6l2.4 2.4-2.4 2.4-2.4-2.4zM615.6 153.8l2.4 2.4-2.4 2.4-2.4-2.4zM363.5 154.1l2.4 2.4-2.4 2.4-2.4-2.4zM341.9 150.8l2.4 2.4-2.4 2.4-2.4-2.4zM377.8 146.6l2.4 2.4-2.4 2.4-2.4-2.4zM537.8 153.8l2.4 2.4-2.4 2.4-2.4-2.4zM501.5 152l2.4 2.4-2.4 2.4-2.4-2.4zM487.6 153l2.4 2.4-2.4 2.4-2.4-2.4zM385.7 153.3l2.4 2.4-2.4 2.4-2.4-2.4zM451.5 148.2l2.4 2.4-2.4 2.4-2.4-2.4zM505.1 154.5l2.4 2.4-2.4 2.4-2.4-2.4zM555.1 146.5l2.4 2.4-2.4 2.4-2.4-2.4zM574.8 147.4l2.4 2.4-2.4 2.4-2.4-2.4zM336.4 150.7l2.4 2.4-2.4 2.4-2.4-2.4zM353.7 147.7l2.4 2.4-2.4 2.4-2.4-2.4zM388.5 148.2l2.4 2.4-2.4 2.4-2.4-2.4zM412.7 148.4l2.4 2.4-2.4 2.4-2.4-2.4zM431.5 154.5l2.4 2.4-2.4 2.4-2.4-2.4zM454.9 152.2l2.4 2.4-2.4 2.4-2.4-2.4zM614.1 152.3l2.4 2.4-2.4 2.4-2.4-2.4zM490.5 149.8l2.4 2.4-2.4 2.4-2.4-2.4zM628.9 154.1l2.4 2.4-2.4 2.4-2.4-2.4zM521 150.2l2.4 2.4-2.4 2.4-2.4-2.4zM562.5 145.6l2.4 2.4-2.4 2.4-2.4-2.4zM430.5 148.3l2.4 2.4-2.4 2.4-2.4-2.4zM497.5 149.7l2.4 2.4-2.4 2.4-2.4-2.4zM353.8 147.1l2.4 2.4-2.4 2.4-2.4-2.4zM637.8 151.7l2.4 2.4-2.4 2.4-2.4-2.4zM432.9 145.3l2.4 2.4-2.4 2.4-2.4-2.4zM367.5 154.2l2.4 2.4-2.4 2.4-2.4-2.4zM356.8 147.2l2.4 2.4-2.4 2.4-2.4-2.4zM570.3 150.8l2.4 2.4-2.4 2.4-2.4-2.4zM527.3 154.7l2.4 2.4-2.4 2.4-2.4-2.4zM534.5 150.9l2.4 2.4-2.4 2.4-2.4-2.4zM494.9 151.4l2.4 2.4-2.4 2.4-2.4-2.4zM458.9 152.9l2.4 2.4-2.4 2.4-2.4-2.4zM349.2 151l2.4 2.4-2.4 2.4-2.4-2.4zM410.8 148.3l2.4 2.4-2.4 2.4-2.4-2.4zM588.2 148.1l2.4 2.4-2.4 2.4-2.4-2.4zM475.8 152.8l2.4 2.4-2.4 2.4-2.4-2.4zM453.9 150.5l2.4 2.4-2.4 2.4-2.4-2.4zM530.5 145.6l2.4 2.4-2.4 2.4-2.4-2.4zM360.6 150.5l2.4 2.4-2.4 2.4-2.4-2.4zM487 148.1l2.4 2.4-2.4 2.4-2.4-2.4zM610.9 147.5l2.4 2.4-2.4 2.4-2.4-2.4zM528.9 147.7l2.4 2.4-2.4 2.4-2.4-2.4zM541.8 146.7l2.4 2.4-2.4 2.4-2.4-2.4zM551.4 148.5l2.4 2.4-2.4 2.4-2.4-2.4zM410.3 146.1l2.4 2.4-2.4 2.4-2.4-2.4zM454 149.2l2.4 2.4-2.4 2.4-2.4-2.4z" class="r"/>
<path d="M590.5 145.6l2.4 2.4-2.4 2.4-2.4-2.4zM641.6 154.8l2.4 2.4-2.4 2.4-2.4-2.4zM431.2 152.1l2.4 2.4-2.4 2.4-2.4-2.4zM455.7 153.7l2.4 2.4-2.4 2.4-2.4-2.4zM506.1 154.2l2.4 2.4-2.4 2.4-2.4-2.4zM428.1 145.8l2.4 2.4-2.4 2.4-2.4-2.4zM564.9 150.7l2.4 2.4-2.4 2.4-2.4-2.4zM367.7 145.7l2.4 2.4-2.4 2.4-2.4-2.4zM552.9 153.1l2.4 2.4-2.4 2.4-2.4-2.4zM438.3 148.9l2.4 2.4-2.4 2.4-2.4-2.4zM546 152.6l2.4 2.4-2.4 2.4-2.4-2.4zM629.8 152l2.4 2.4-2.4 2.4-2.4-2.4zM413.1 146.8l2.4 2.4-2.4 2.4-2.4-2.4zM381.7 148.5l2.4 2.4-2.4 2.4-2.4-2.4zM396.2 149.4l2.4 2.4-2.4 2.4-2.4-2.4zM420.3 151.5l2.4 2.4-2.4 2.4-2.4-2.4zM626.6 150.7l2.4 2.4-2.4 2.4-2.4-2.4zM469.9 149.2l2.4 2.4-2.4 2.4-2.4-2.4zM421.3 153.4l2.4 2.4-2.4 2.4-2.4-2.4zM453.6 152.5l2.4 2.4-2.4 2.4-2.4-2.4zM392.6 145.6l2.4 2.4-2.4 2.4-2.4-2.4zM344.7 147.2l2.4 2.4-2.4 2.4-2.4-2.4zM624.7 148.3l2.4 2.4-2.4 2.4-2.4-2.4zM339.9 150.3l2.4 2.4-2.4 2.4-2.4-2.4zM346.2 149.3l2.4 2.4-2.4 2.4-2.4-2.4zM551.8 152.8l2.4 2.4-2.4 2.4-2.4-2.4zM336.4 149.9l2.4 2.4-2.4 2.4-2.4-2.4zM363.4 152.2l2.4 2.4-2.4 2.4-2.4-2.4zM475.2 146.3l2.4 2.4-2.4 2.4-2.4-2.4zM449.1 153.7l2.4 2.4-2.4 2.4-2.4-2.4zM580.2 147.1l2.4 2.4-2.4 2.4-2.4-2.4zM498.6 154.5l2.4 2.4-2.4 2.4-2.4-2.4zM392.3 151.3l2.4 2.4-2.4 2.4-2.4-2.4zM505.6 152.9l2.4 2.4-2.4 2.4-2.4-2.4zM583.5 146.8l2.4 2.4-2.4 2.4-2.4-2.4zM621.7 146.4l2.4 2.4-2.4 2.4-2.4-2.4zM339.5 149.5l2.4 2.4-2.4 2.4-2.4-2.4zM359 146.3l2.4 2.4-2.4 2.4-2.4-2.4zM566.3 147.7l2.4 2.4-2.4 2.4-2.4-2.4zM392.6 154.4l2.4 2.4-2.4 2.4-2.4-2.4zM587.5 149.3l2.4 2.4-2.4 2.4-2.4-2.4zM526.9 150.6l2.4 2.4-2.4 2.4-2.4-2.4zM582.8 151.9l2.4 2.4-2.4 2.4-2.4-2.4zM417.9 151.7l2.4 2.4-2.4 2.4-2.4-2.4zM426.7 149.1l2.4 2.4-2.4 2.4-2.4-2.4zM610.8 154.3l2.4 2.4-2.4 2.4-2.4-2.4zM355 150.2l2.4 2.4-2.4 2.4-2.4-2.4zM544.9 153.3l2.4 2.4-2.4 2.4-2.4-2.4zM417.9 154.4l2.4 2.4-2.4 2.4-2.4-2.4zM345.6 150.4l2.4 2.4-2.4 2.4-2.4-2.4zM545.7 148.8l2.4 2.4-2.4 2.4-2.4-2.4zM383.2 154l2.4 2.4-2.4 2.4-2.4-2.4zM623.5 149.9l2.4 2.4-2.4 2.4-2.4-2.4zM461 148.4l2.4 2.4-2.4 2.4-2.4-2.4zM560.4 150.1l2.4 2.4-2.4 2.4-2.4-2.4zM358.4 147l2.4 2.4-2.4 2.4-2.4-2.4zM400.5 154.5l2.4 2.4-2.4 2.4-2.4-2.4zM443.6 150l2.4 2.4-2.4 2.4-2.4-2.4zM529.4 153.4l2.4 2.4-2.4 2.4-2.4-2.4zM554.7 150.4l2.4 2.4-2.4 2.4-2.4-2.4zM384.4 146.8l2.4 2.4-2.4 2.4-2.4-2.4zM584.9 146.2l2.4 2.4-2.4 2.4-2.4-2.4zM545.3 153l2.4 2.4-2.4 2.4-2.4-2.4zM575.9 146.2l2.4 2.4-2.4 2.4-2.4-2.4zM499.8 146.2l2.4 2.4-2.4 2.4-2.4-2.4zM635.7 151.4l2.4 2.4-2.4 2.4-2.4-2.4zM626.9 145.9l2.4 2.4-2.4 2.4-2.4-2.4zM580.9 154.7l2.4 2.4-2.4 2.4-2.4-2.4zM443.4 149.2l2.4 2.4-2.4 2.4-2.4-2.4zM522.8 147.8l2.4 2.4-2.4 2.4-2.4-2.4zM535.2 153.5l2.4 2.4-2.4 2.4-2.4-2.4zM623.5 150l2.4 2.4-2.4 2.4-2.4-2.4zM608.2 153.1l2.4 2.4-2.4 2.4-2.4-2.4zM644.4 149.8l2.4 2.4-2.4 2.4-2.4-2.4zM575.2 147.9l2.4 2.4-2.4 2.4-2.4-2.4zM608.5 151.7l2.4 2.4-2.4 2.4-2.4-2.4zM359.8 151.2l2.4 2.4-2.4 2.4-2.4-2.4zM389.4 149.9l2.4 2.4-2.4 2.4-2.4-2.4zM587.5 151.7l2.4 2.4-2.4 2.4-2.4-2.4zM374.8 154.6l2.4 2.4-2.4 2.4-2.4-2.4zM465.5 149.5l2.4 2.4-2.4 2.4-2.4-2.4zM342.2 148.7l2.4 2.4-2.4 2.4-2.4-2.4zM399.6 154l2.4 2.4-2.4 2.4-2.4-2.4zM622.5 150.1l2.4 2.4-2.4 2.4-2.4-2.4zM612.4 150.2l2.4 2.4-2.4 2.4-2.4-2.4zM372.2 152.8l2.4 2.4-2.4 2.4-2.4-2.4zM465.9 148.9l2.4 2.4-2.4 2.4-2.4-2.4zM573.7 147.8l2.4 2.4-2.4 2.4-2.4-2.4zM536.4 152.7l2.4 2.4-2.4 2.4-2.4-2.4zM467.8 151.5l2.4 2.4-2.4 2.4-2.4-2.4zM486.3 152.6l2.4 2.4-2.4 2.4-2.4-2.4zM501.3 150.7l2.4 2.4-2.4 2.4-2.4-2.4zM345.1 147.1l2.4 2.4-2.4 2.4-2.4-2.4zM516.4 147.3l2.4 2.4-2.4 2.4-2.4-2.4zM563.1 148l2.4 2.4-2.4 2.4-2.4-2.4zM643 151.5l2.4 2.4-2.4 2.4-2.4-2.4zM456.4 154.8l2.4 2.4-2.4 2.4-2.4-2.4zM540.6 149.5l2.4 2.4-2.4 2.4-2.4-2.4zM513.3 145.2l2.4 2.4-2.4 2.4-2.4-2.4zM395.2 152.9l2.4 2.4-2.4 2.4-2.4-2.4zM562.3 147.2l2.4 2.4-2.4 2.4-2.4-2.4zM484.2 154.4l2.4 2.4-2.4 2.4-2.4-2.4zM449.2 147l2.4 2.4-2.4 2.4-2.4-2.4zM489.4 150.7l2.4 2.4-2.4 2.4-2.4-2.4zM455.1 149l2.4 2.4-2.4 2.4-2.4-2.4zM520.1 148.4l2.4 2.4-2.4 2.4-2.4-2.4zM603.1 147.8l2.4 2.4-2.4 2.4-2.4-2.4zM450.6 152.7l2.4 2.4-2.4 2.4-2.4-2.4zM577.2 147.4l2.4 2.4-2.4 2.4-2.4-2.4zM622.7 153.2l2.4 2.4-2.4 2.4-2.4-2.4zM597.6 146.4l2.4 2.4-2.4 2.4-2.4-2.4zM358 152.2l2.4 2.4-2.4 2.4-2.4-2.4zM531.1 153.6l2.4 2.4-2.4 2.4-2.4-2.4zM592.5 152.6l2.4 2.4-2.4 2.4-2.4-2.4zM546.2 152.3l2.4 2.4-2.4 2.4-2.4-2.4zM401.9 153.1l2.4 2.4-2.4 2.4-2.4-2.4zM488.7 148.2l2.4 2.4-2.4 2.4-2.4-2.4zM401.8 148.5l2.4 2.4-2.4 2.4-2.4-2.4zM438.2 148.8l2.4 2.4-2.4 2.4-2.4-2.4zM448.5 153.2l2.4 2.4-2.4 2.4-2.4-2.4z" class="r"/>
<path d="M377.9 154.4l2.4 2.4-2.4 2.4-2.4-2.4zM550.6 151.2l2.4 2.4-2.4 2.4-2.4-2.4zM372.3 146.5l2.4 2.4-2.4 2.4-2.4-2.4zM537.6 154.7l2.4 2.4-2.4 2.4-2.4-2.4zM559.4 149.4l2.4 2.4-2.4 2.4-2.4-2.4zM472 150.3l2.4 2.4-2.4 2.4-2.4-2.4zM633.2 151.6l2.4 2.4-2.4 2.4-2.4-2.4zM531.9 149l2.4 2.4-2.4 2.4-2.4-2.4zM447.7 151.8l2.4 2.4-2.4 2.4-2.4-2.4zM568.8 149l2.4 2.4-2.4 2.4-2.4-2.4zM476.1 150.2l2.4 2.4-2.4 2.4-2.4-2.4zM403.5 147.4l2.4 2.4-2.4 2.4-2.4-2.4zM340.2 148.9l2.4 2.4-2.4 2.4-2.4-2.4zM475.5 153l2.4 2.4-2.4 2.4-2.4-2.4zM516.5 149.5l2.4 2.4-2.4 2.4-2.4-2.4zM361 150.4l2.4 2.4-2.4 2.4-2.4-2.4zM385.3 147.3l2.4 2.4-2.4 2.4-2.4-2.4zM435.7 152l2.4 2.4-2.4 2.4-2.4-2.4zM401 154.5l2.4 2.4-2.4 2.4-2.4-2.4zM392.1 153.6l2.4 2.4-2.4 2.4-2.4-2.4zM528.1 146.8l2.4 2.4-2.4 2.4-2.4-2.4zM402.7 153.9l2.4 2.4-2.4 2.4-2.4-2.4zM500.2 153.9l2.4 2.4-2.4 2.4-2.4-2.4zM460 147.7l2.4 2.4-2.4 2.4-2.4-2.4zM397.2 148.3l2.4 2.4-2.4 2.4-2.4-2.4zM501.5 154.2l2.4 2.4-2.4 2.4-2.4-2.4zM409.4 149.3l2.4 2.4-2.4 2.4-2.4-2.4zM363.9 153.1l2.4 2.4-2.4 2.4-2.4-2.4zM513.4 147.1l2.4 2.4-2.4 2.4-2.4-2.4zM495.9 148.7l2.4 2.4-2.4 2.4-2.4-2.4zM336.8 152.2l2.4 2.4-2.4 2.4-2.4-2.4zM432.9 146.1l2.4 2.4-2.4 2.4-2.4-2.4zM445.2 147.5l2.4 2.4-2.4 2.4-2.4-2.4zM344.7 150.3l2.4 2.4-2.4 2.4-2.4-2.4zM611.2 147.6l2.4 2.4-2.4 2.4-2.4-2.4zM514.3 153.3l2.4 2.4-2.4 2.4-2.4-2.4zM622.1 154.2l2.4 2.4-2.4 2.4-2.4-2.4zM634 147.5l2.4 2.4-2.4 2.4-2.4-2.4zM557.8 150l2.4 2.4-2.4 2.4-2.4-2.4zM385 151.9l2.4 2.4-2.4 2.4-2.4-2.4zM540.5 148.8l2.4 2.4-2.4 2.4-2.4-2.4zM455.1 147.3l2.4 2.4-2.4 2.4-2.4-2.4zM350.6 152.4l2.4 2.4-2.4 2.4-2.4-2.4zM362.1 152l2.4 2.4-2.4 2.4-2.4-2.4zM580.6 147.8l2.4 2.4-2.4 2.4-2.4-2.4zM380.5 152.2l2.4 2.4-2.4 2.4-2.4-2.4zM368.9 148.7l2.4 2.4-2.4 2.4-2.4-2.4zM471.6 152.9l2.4 2.4-2.4 2.4-2.4-2.4zM450.4 146.6l2.4 2.4-2.4 2.4-2.4-2.4zM466.2 148.4l2.4 2.4-2.4 2.4-2.4-2.4zM529.2 150.6l2.4 2.4-2.4 2.4-2.4-2.4zM507 151.6l2.4 2.4-2.4 2.4-2.4-2.4zM395.7 150.4l2.4 2.4-2.4 2.4-2.4-2.4zM428.7 152l2.4 2.4-2.4 2.4-2.4-2.4zM392 146.1l2.4 2.4-2.4 2.4-2.4-2.4zM466.3 153.2l2.4 2.4-2.4 2.4-2.4-2.4zM343.9 153l2.4 2.4-2.4 2.4-2.4-2.4zM604.1 151.9l2.4 2.4-2.4 2.4-2.4-2.4zM541.5 152.9l2.4 2.4-2.4 2.4-2.4-2.4zM536.3 150.8l2.4 2.4-2.4 2.4-2.4-2.4zM563 150l2.4 2.4-2.4 2.4-2.4-2.4zM450.7 152.4l2.4 2.4-2.4 2.4-2.4-2.4zM518.8 147l2.4 2.4-2.4 2.4-2.4-2.4zM549.1 150.5l2.4 2.4-2.4 2.4-2.4-2.4zM436.2 146.4l2.4 2.4-2.4 2.4-2.4-2.4zM597.2 153.6l2.4 2.4-2.4 2.4-2.4-2.4zM545.2 147.6l2.4 2.4-2.4 2.4-2.4-2.4zM544.2 145.6l2.4 2.4-2.4 2.4-2.4-2.4zM607.4 152.7l2.4 2.4-2.4 2.4-2.4-2.4zM644 152l2.4 2.4-2.4 2.4-2.4-2.4zM452.1 145.5l2.4 2.4-2.4 2.4-2.4-2.4zM386 151.3l2.4 2.4-2.4 2.4-2.4-2.4zM528.7 152.5l2.4 2.4-2.4 2.4-2.4-2.4zM417 147.4l2.4 2.4-2.4 2.4-2.4-2.4zM524.5 147.9l2.4 2.4-2.4 2.4-2.4-2.4zM579.7 146.6l2.4 2.4-2.4 2.4-2.4-2.4zM611.9 147.1l2.4 2.4-2.4 2.4-2.4-2.4zM638.3 150.3l2.4 2.4-2.4 2.4-2.4-2.4zM552.2 150.2l2.4 2.4-2.4 2.4-2.4-2.4zM635.5 148.8l2.4 2.4-2.4 2.4-2.4-2.4zM467.9 148.7l2.4 2.4-2.4 2.4-2.4-2.4zM425.7 153.8l2.4 2.4-2.4 2.4-2.4-2.4zM454.1 153.7l2.4 2.4-2.4 2.4-2.4-2.4zM335.2 154.1l2.4 2.4-2.4 2.4-2.4-2.4zM475.3 147.7l2.4 2.4-2.4 2.4-2.4-2.4zM349.1 149l2.4 2.4-2.4 2.4-2.4-2.4zM368.6 150.2l2.4 2.4-2.4 2.4-2.4-2.4zM426 150.9l2.4 2.4-2.4 2.4-2.4-2.4zM555.4 151.2l2.4 2.4-2.4 2.4-2.4-2.4zM455.8 148l2.4 2.4-2.4 2.4-2.4-2.4zM370 151.8l2.4 2.4-2.4 2.4-2.4-2.4zM552.3 146.9l2.4 2.4-2.4 2.4-2.4-2.4zM638.6 152.6l2.4 2.4-2.4 2.4-2.4-2.4zM528.4 152.1l2.4 2.4-2.4 2.4-2.4-2.4zM552.3 146.8l2.4 2.4-2.4 2.4-2.4-2.4zM376 151.8l2.4 2.4-2.4 2.4-2.4-2.4zM625.2 151.8l2.4 2.4-2.4 2.4-2.4-2.4zM530.6 147.1l2.4 2.4-2.4 2.4-2.4-2.4zM420.7 147.5l2.4 2.4-2.4 2.4-2.4-2.4zM335.1 151.9l2.4 2.4-2.4 2.4-2.4-2.4zM385.9 151.8l2.4 2.4-2.4 2.4-2.4-2.4zM400.3 154.6l2.4 2.4-2.4 2.4-2.4-2.4zM583.8 153.4l2.4 2.4-2.4 2.4-2.4-2.4zM512.3 149.8l2.4 2.4-2.4 2.4-2.4-2.4zM598.2 146.8l2.4 2.4-2.4 2.4-2.4-2.4zM527.3 153.4l2.4 2.4-2.4 2.4-2.4-2.4zM570.6 154.1l2.4 2.4-2.4 2.4-2.4-2.4zM622.8 152.2l2.4 2.4-2.4 2.4-2.4-2.4zM412.6 153l2.4 2.4-2.4 2.4-2.4-2.4zM457.2 147.4l2.4 2.4-2.4 2.4-2.4-2.4zM599.9 147.9l2.4 2.4-2.4 2.4-2.4-2.4zM560.8 152.8l2.4 2.4-2.4 2.4-2.4-2.4zM433.9 152.2l2.4 2.4-2.4 2.4-2.4-2.4zM468.8 146.5l2.4 2.4-2.4 2.4-2.4-2.4zM643.7 154.2l2.4 2.4-2.4 2.4-2.4-2.4zM634 146.1l2.4 2.4-2.4 2.4-2.4-2.4zM477.3 148.4l2.4 2.4-2.4 2.4-2.4-2.4zM578 153.3l2.4 2.4-2.4 2.4-2.4-2.4zM525.5 145.4l2.4 2.4-2.4 2.4-2.4-2.4zM607.8 146.1l2.4 2.4-2.4 2.4-2.4-2.4z" class="r"/>
<path d="M360.4 148.2l2.4 2.4-2.4 2.4-2.4-2.4zM485.3 146.2l2.4 2.4-2.4 2.4-2.4-2.4zM385.9 149.8l2.4 2.4-2.4 2.4-2.4-2.4zM371.5 147.3l2.4 2.4-2.4 2.4-2.4-2.4zM558.7 154.6l2.4 2.4-2.4 2.4-2.4-2.4zM430.3 153.7l2.4 2.4-2.4 2.4-2.4-2.4zM531.6 149l2.4 2.4-2.4 2.4-2.4-2.4zM353.5 145.7l2.4 2.4-2.4 2.4-2.4-2.4zM634.2 150.9l2.4 2.4-2.4 2.4-2.4-2.4zM512.6 151.7l2.4 2.4-2.4 2.4-2.4-2.4zM522.5 151.3l2.4 2.4-2.4 2.4-2.4-2.4zM471.1 147.8l2.4 2.4-2.4 2.4-2.4-2.4zM392 152.3l2.4 2.4-2.4 2.4-2.4-2.4zM571.5 152.9l2.4 2.4-2.4 2.4-2.4-2.4zM355.4 146.1l2.4 2.4-2.4 2.4-2.4-2.4zM383.6 151.2l2.4 2.4-2.4 2.4-2.4-2.4zM431.5 152.6l2.4 2.4-2.4 2.4-2.4-2.4zM443.6 150l2.4 2.4-2.4 2.4-2.4-2.4zM370.1 150l2.4 2.4-2.4 2.4-2.4-2.4zM349.9 154.2l2.4 2.4-2.4 2.4-2.4-2.4zM396.9 152.8l2.4 2.4-2.4 2.4-2.4-2.4zM440.2 152.3l2.4 2.4-2.4 2.4-2.4-2.4zM594.3 148.7l2.4 2.4-2.4 2.4-2.4-2.4zM481.2 147.6l2.4 2.4-2.4 2.4-2.4-2.4zM547.3 152.1l2.4 2.4-2.4 2.4-2.4-2.4zM525.5 147.9l2.4 2.4-2.4 2.4-2.4-2.4zM500.2 147.8l2.4 2.4-2.4 2.4-2.4-2.4zM530.8 146l2.4 2.4-2.4 2.4-2.4-2.4zM416.1 148.6l2.4 2.4-2.4 2.4-2.4-2.4zM637.8 150l2.4 2.4-2.4 2.4-2.4-2.4zM615.5 154.1l2.4 2.4-2.4 2.4-2.4-2.4zM559 152.6l2.4 2.4-2.4 2.4-2.4-2.4zM567.3 151.1l2.4 2.4-2.4 2.4-2.4-2.4zM500.4 152.7l2.4 2.4-2.4 2.4-2.4-2.4zM413.9 146.6l2.4 2.4-2.4 2.4-2.4-2.4zM534.1 149l2.4 2.4-2.4 2.4-2.4-2.4zM370 152.3l2.4 2.4-2.4 2.4-2.4-2.4zM635.1 153.1l2.4 2.4-2.4 2.4-2.4-2.4zM501.3 148.4l2.4 2.4-2.4 2.4-2.4-2.4zM492.8 149.8l2.4 2.4-2.4 2.4-2.4-2.4zM635.7 147.5l2.4 2.4-2.4 2.4-2.4-2.4zM407.7 151l2.4 2.4-2.4 2.4-2.4-2.4zM464.5 148.5l2.4 2.4-2.4 2.4-2.4-2.4zM543.9 152.6l2.4 2.4-2.4 2.4-2.4-2.4zM549.3 151l2.4 2.4-2.4 2.4-2.4-2.4zM338.7 152.3l2.4 2.4-2.4 2.4-2.4-2.4zM451.2 153.2l2.4 2.4-2.4 2.4-2.4-2.4zM542.6 145.3l2.4 2.4-2.4 2.4-2.4-2.4zM623.7 149l2.4 2.4-2.4 2.4-2.4-2.4zM600.6 150.4l2.4 2.4-2.4 2.4-2.4-2.4zM516.4 146.3l2.4 2.4-2.4 2.4-2.4-2.4zM352.6 151.7l2.4 2.4-2.4 2.4-2.4-2.4zM450.3 151.9l2.4 2.4-2.4 2.4-2.4-2.4zM467.1 154.4l2.4 2.4-2.4 2.4-2.4-2.4zM545.2 145.7l2.4 2.4-2.4 2.4-2.4-2.4zM406.8 153.3l2.4 2.4-2.4 2.4-2.4-2.4zM438.1 147.3l2.4 2.4-2.4 2.4-2.4-2.4zM404.4 147.6l2.4 2.4-2.4 2.4-2.4-2.4zM387.7 149.4l2.4 2.4-2.4 2.4-2.4-2.4zM558.3 148.6l2.4 2.4-2.4 2.4-2.4-2.4zM360.3 145.7l2.4 2.4-2.4 2.4-2.4-2.4zM597.7 150.5l2.4 2.4-2.4 2.4-2.4-2.4zM601.3 149.3l2.4 2.4-2.4 2.4-2.4-2.4zM386.4 151.3l2.4 2.4-2.4 2.4-2.4-2.4zM589.3 150.7l2.4 2.4-2.4 2.4-2.4-2.4zM347 153.5l2.4 2.4-2.4 2.4-2.4-2.4zM391.9 149.5l2.4 2.4-2.4 2.4-2.4-2.4zM534.2 150.8l2.4 2.4-2.4 2.4-2.4-2.4zM459.6 145.6l2.4 2.4-2.4 2.4-2.4-2.4zM440.6 148.6l2.4 2.4-2.4 2.4-2.4-2.4zM397.6 150.2l2.4 2.4-2.4 2.4-2.4-2.4zM389.9 153.9l2.4 2.4-2.4 2.4-2.4-2.4zM438.7 153.9l2.4 2.4-2.4 2.4-2.4-2.4zM452.5 148.8l2.4 2.4-2.4 2.4-2.4-2.4zM504.8 147.3l2.4 2.4-2.4 2.4-2.4-2.4zM482.4 154.2l2.4 2.4-2.4 2.4-2.4-2.4zM560.2 151.3l2.4 2.4-2.4 2.4-2.4-2.4zM567.7 145.5l2.4 2.4-2.4 2.4-2.4-2.4zM497 152.7l2.4 2.4-2.4 2.4-2.4-2.4zM445.3 150.3l2.4 2.4-2.4 2.4-2.4-2.4zM433.3 154l2.4 2.4-2.4 2.4-2.4-2.4zM457.9 148.8l2.4 2.4-2.4 2.4-2.4-2.4zM587.8 147.7l2.4 2.4-2.4 2.4-2.4-2.4zM608.9 147.3l2.4 2.4-2.4 2.4-2.4-2.4zM461.9 148.9l2.4 2.4-2.4 2.4-2.4-2.4zM350.8 147.4l2.4 2.4-2.4 2.4-2.4-2.4zM554.2 152.6l2.4 2.4-2.4 2.4-2.4-2.4zM480.9 152.5l2.4 2.4-2.4 2.4-2.4-2.4zM581.3 151l2.4 2.4-2.4 2.4-2.4-2.4zM576.9 146l2.4 2.4-2.4 2.4-2.4-2.4zM575.9 151.5l2.4 2.4-2.4 2.4-2.4-2.4zM440.5 145.8l2.4 2.4-2.4 2.4-2.4-2.4zM615.3 153.3l2.4 2.4-2.4 2.4-2.4-2.4zM446.7 147.4l2.4 2.4-2.4 2.4-2.4-2.4zM569.3 152.4l2.4 2.4-2.4 2.4-2.4-2.4zM472.8 145.6l2.4 2.4-2.4 2.4-2.4-2.4zM362.1 152.5l2.4 2.4-2.4 2.4-2.4-2.4zM540.6 146.2l2.4 2.4-2.4 2.4-2.4-2.4zM628.5 150.6l2.4 2.4-2.4 2.4-2.4-2.4zM579.8 145.5l2.4 2.4-2.4 2.4-2.4-2.4zM436.5 152.9l2.4 2.4-2.4 2.4-2.4-2.4zM414.7 147.5l2.4 2.4-2.4 2.4-2.4-2.4zM377.4 149.9l2.4 2.4-2.4 2.4-2.4-2.4zM623.2 153.2l2.4 2.4-2.4 2.4-2.4-2.4zM529.5 150l2.4 2.4-2.4 2.4-2.4-2.4zM634.5 150.2l2.4 2.4-2.4 2.4-2.4-2.4zM486.7 146.2l2.4 2.4-2.4 2.4-2.4-2.4zM568 153.7l2.4 2.4-2.4 2.4-2.4-2.4zM584 151.3l2.4 2.4-2.4 2.4-2.4-2.4zM635.3 145.6l2.4 2.4-2.4 2.4-2.4-2.4zM487.4 151.1l2.4 2.4-2.4 2.4-2.4-2.4zM404.6 152.5l2.4 2.4-2.4 2.4-2.4-2.4zM398.1 153.5l2.4 2.4-2.4 2.4-2.4-2.4zM561.1 154.4l2.4 2.4-2.4 2.4-2.4-2.4zM520.2 149.4l2.4 2.4-2.4 2.4-2.4-2.4zM562.8 149.7l2.4 2.4-2.4 2.4-2.4-2.4zM622.4 152.4l2.4 2.4-2.4 2.4-2.4-2.4zM363 149.5l2.4 2.4-2.4 2.4-2.4-2.4zM417.8 145.3l2.4 2.4-2.4 2.4-2.4-2.4zM620.7 148.4l2.4 2.4-2.4 2.4-2.4-2.4z" class="r"/>
<path d="M593.3 152.8l2.4 2.4-2.4 2.4-2.4-2.4zM484.8 151.5l2.4 2.4-2.4 2.4-2.4-2.4zM441.4 151.6l2.4 2.4-2.4 2.4-2.4-2.4zM482.6 148.8l2.4 2.4-2.4 2.4-2.4-2.4zM341.8 149.9l2.4 2.4-2.4 2.4-2.4-2.4zM373.8 145.5l2.4 2.4-2.4 2.4-2.4-2.4zM505.6 149.4l2.4 2.4-2.4 2.4-2.4-2.4zM432 148.3l2.4 2.4-2.4 2.4-2.4-2.4zM554.8 146.2l2.4 2.4-2.4 2.4-2.4-2.4zM514.6 152.5l2.4 2.4-2.4 2.4-2.4-2.4zM529.5 154.4l2.4 2.4-2.4 2.4-2.4-2.4zM565.4 152.2l2.4 2.4-2.4 2.4-2.4-2.4zM557.7 153.8l2.4 2.4-2.4 2.4-2.4-2.4zM519.8 153.4l2.4 2.4-2.4 2.4-2.4-2.4zM345.4 152.6l2.4 2.4-2.4 2.4-2.4-2.4zM597.9 151.4l2.4 2.4-2.4 2.4-2.4-2.4zM496.6 147.4l2.4 2.4-2.4 2.4-2.4-2.4zM638.3 152.6l2.4 2.4-2.4 2.4-2.4-2.4zM549.9 147.5l2.4 2.4-2.4 2.4-2.4-2.4zM580.9 151.8l2.4 2.4-2.4 2.4-2.4-2.4zM481.5 147.5l2.4 2.4-2.4 2.4-2.4-2.4zM412 150.5l2.4 2.4-2.4 2.4-2.4-2.4zM531 146.8l2.4 2.4-2.4 2.4-2.4-2.4zM409.8 148.7l2.4 2.4-2.4 2.4-2.4-2.4zM401.5 153.6l2.4 2.4-2.4 2.4-2.4-2.4zM482.4 148.9l2.4 2.4-2.4 2.4-2.4-2.4zM533.1 145.8l2.4 2.4-2.4 2.4-2.4-2.4zM385.1 150l2.4 2.4-2.4 2.4-2.4-2.4zM483.3 152.6l2.4 2.4-2.4 2.4-2.4-2.4zM619.4 153.7l2.4 2.4-2.4 2.4-2.4-2.4zM415 154.5l2.4 2.4-2.4 2.4-2.4-2.4zM534.2 148.8l2.4 2.4-2.4 2.4-2.4-2.4zM403.6 146l2.4 2.4-2.4 2.4-2.4-2.4zM531.4 153.2l2.4 2.4-2.4 2.4-2.4-2.4zM626.9 146.7l2.4 2.4-2.4 2.4-2.4-2.4zM431.6 146.6l2.4 2.4-2.4 2.4-2.4-2.4zM374.5 151.8l2.4 2.4-2.4 2.4-2.4-2.4zM464.3 145.7l2.4 2.4-2.4 2.4-2.4-2.4zM426.9 151.4l2.4 2.4-2.4 2.4-2.4-2.4zM398.5 147.1l2.4 2.4-2.4 2.4-2.4-2.4zM391.1 146.8l2.4 2.4-2.4 2.4-2.4-2.4zM440 149.8l2.4 2.4-2.4 2.4-2.4-2.4zM606.6 152.6l2.4 2.4-2.4 2.4-2.4-2.4zM498.4 149l2.4 2.4-2.4 2.4-2.4-2.4zM513.7 151.2l2.4 2.4-2.4 2.4-2.4-2.4zM534.9 152.1l2.4 2.4-2.4 2.4-2.4-2.4zM382.2 154.7l2.4 2.4-2.4 2.4-2.4-2.4zM522.4 149.6l2.4 2.4-2.4 2.4-2.4-2.4zM582.7 153.6l2.4 2.4-2.4 2.4-2.4-2.4zM543.3 150.8l2.4 2.4-2.4 2.4-2.4-2.4zM497.3 147l2.4 2.4-2.4 2.4-2.4-2.4zM495.4 151l2.4 2.4-2.4 2.4-2.4-2.4zM534.8 153.6l2.4 2.4-2.4 2.4-2.4-2.4zM605.4 150.2l2.4 2.4-2.4 2.4-2.4-2.4zM347.2 150.5l2.4 2.4-2.4 2.4-2.4-2.4zM628.1 145.4l2.4 2.4-2.4 2.4-2.4-2.4zM466.6 152.6l2.4 2.4-2.4 2.4-2.4-2.4zM625.2 152.4l2.4 2.4-2.4 2.4-2.4-2.4zM339.6 152.7l2.4 2.4-2.4 2.4-2.4-2.4zM480.4 148.6l2.4 2.4-2.4 2.4-2.4-2.4zM354.8 151.9l2.4 2.4-2.4 2.4-2.4-2.4zM560.3 151.8l2.4 2.4-2.4 2.4-2.4-2.4zM388.6 148.2l2.4 2.4-2.4 2.4-2.4-2.4zM469.8 148.4l2.4 2.4-2.4 2.4-2.4-2.4zM484.6 147.2l2.4 2.4-2.4 2.4-2.4-2.4zM493.3 145.5l2.4 2.4-2.4 2.4-2.4-2.4zM586.9 148.1l2.4 2.4-2.4 2.4-2.4-2.4zM486.5 149.2l2.4 2.4-2.4 2.4-2.4-2.4zM451.1 154.2l2.4 2.4-2.4 2.4-2.4-2.4zM609.1 147.2l2.4 2.4-2.4 2.4-2.4-2.4zM572.5 146.7l2.4 2.4-2.4 2.4-2.4-2.4zM505.3 145.3l2.4 2.4-2.4 2.4-2.4-2.4zM481.2 145.4l2.4 2.4-2.4 2.4-2.4-2.4zM359.1 151.5l2.4 2.4-2.4 2.4-2.4-2.4zM511.6 147.1l2.4 2.4-2.4 2.4-2.4-2.4zM496 147.4l2.4 2.4-2.4 2.4-2.4-2.4zM450.2 148.6l2.4 2.4-2.4 2.4-2.4-2.4zM581.7 149.3l2.4 2.4-2.4 2.4-2.4-2.4zM340.5 148.8l2.4 2.4-2.4 2.4-2.4-2.4zM334 152.2l2.4 2.4-2.4 2.4-2.4-2.4zM340.7 135.4l2.4 2.4-2.4 2.4-2.4-2.4zM343.8 136l2.4 2.4-2.4 2.4-2.4-2.4zM338.2 142.8l2.4 2.4-2.4 2.4-2.4-2.4zM374.3 133.2l2.4 2.4-2.4 2.4-2.4-2.4zM338.1 137.4l2.4 2.4-2.4 2.4-2.4-2.4zM357 137.3l2.4 2.4-2.4 2.4-2.4-2.4zM338.5 145.3l2.4 2.4-2.4 2.4-2.4-2.4zM338.6 133.7l2.4 2.4-2.4 2.4-2.4-2.4zM362.5 137.4l2.4 2.4-2.4 2.4-2.4-2.4zM341.7 136.4l2.4 2.4-2.4 2.4-2.4-2.4zM386.3 142.9l2.4 2.4-2.4 2.4-2.4-2.4zM379.3 134.2l2.4 2.4-2.4 2.4-2.4-2.4zM391.5 138l2.4 2.4-2.4 2.4-2.4-2.4zM371.4 140.9l2.4 2.4-2.4 2.4-2.4-2.4zM379.3 141.4l2.4 2.4-2.4 2.4-2.4-2.4zM370.2 137.2l2.4 2.4-2.4 2.4-2.4-2.4zM391.4 135.1l2.4 2.4-2.4 2.4-2.4-2.4zM339.6 143.1l2.4 2.4-2.4 2.4-2.4-2.4zM354.7 140.2l2.4 2.4-2.4 2.4-2.4-2.4zM375.6 142.1l2.4 2.4-2.4 2.4-2.4-2.4zM366.4 139.5l2.4 2.4-2.4 2.4-2.4-2.4zM351.7 137l2.4 2.4-2.4 2.4-2.4-2.4zM359.2 132.5l2.4 2.4-2.4 2.4-2.4-2.4zM341.5 133.6l2.4 2.4-2.4 2.4-2.4-2.4zM371 139.4l2.4 2.4-2.4 2.4-2.4-2.4zM338.5 136.9l2.4 2.4-2.4 2.4-2.4-2.4zM380.6 140.9l2.4 2.4-2.4 2.4-2.4-2.4zM375.3 138.4l2.4 2.4-2.4 2.4-2.4-2.4zM339.2 134.1l2.4 2.4-2.4 2.4-2.4-2.4zM352.1 139.1l2.4 2.4-2.4 2.4-2.4-2.4zM378.2 133.9l2.4 2.4-2.4 2.4-2.4-2.4zM383.5 140.6l2.4 2.4-2.4 2.4-2.4-2.4zM383.1 143.5l2.4 2.4-2.4 2.4-2.4-2.4zM366 139.8l2.4 2.4-2.4 2.4-2.4-2.4zM384.2 135.9l2.4 2.4-2.4 2.4-2.4-2.4zM372.2 134.7l2.4 2.4-2.4 2.4-2.4-2.4zM354.2 139.6l2.4 2.4-2.4 2.4-2.4-2.4zM340 140.8l2.4 2.4-2.4 2.4-2.4-2.4zM345.6 135.8l2.4 2.4-2.4 2.4-2.4-2.4zM341.5 133.4l2.4 2.4-2.4 2.4-2.4-2.4z" class="r"/>
<path d="M368.8 139.6l2.4 2.4-2.4 2.4-2.4-2.4zM340.9 139.6l2.4 2.4-2.4 2.4-2.4-2.4zM366.7 143.6l2.4 2.4-2.4 2.4-2.4-2.4zM390.6 140.7l2.4 2.4-2.4 2.4-2.4-2.4zM359.2 141.7l2.4 2.4-2.4 2.4-2.4-2.4zM355.6 141.8l2.4 2.4-2.4 2.4-2.4-2.4zM383.5 144.5l2.4 2.4-2.4 2.4-2.4-2.4zM355.2 137.6l2.4 2.4-2.4 2.4-2.4-2.4zM361.8 141.2l2.4 2.4-2.4 2.4-2.4-2.4zM362.1 144.7l2.4 2.4-2.4 2.4-2.4-2.4zM351.8 139.7l2.4 2.4-2.4 2.4-2.4-2.4zM378.5 139.8l2.4 2.4-2.4 2.4-2.4-2.4zM358.1 136.8l2.4 2.4-2.4 2.4-2.4-2.4zM350 138.2l2.4 2.4-2.4 2.4-2.4-2.4zM345.3 137.3l2.4 2.4-2.4 2.4-2.4-2.4zM365.3 136.8l2.4 2.4-2.4 2.4-2.4-2.4zM384.7 135l2.4 2.4-2.4 2.4-2.4-2.4zM391.3 142.4l2.4 2.4-2.4 2.4-2.4-2.4zM389.3 139.6l2.4 2.4-2.4 2.4-2.4-2.4zM355.3 139.5l2.4 2.4-2.4 2.4-2.4-2.4zM387.4 132.8l2.4 2.4-2.4 2.4-2.4-2.4zM380.7 141.5l2.4 2.4-2.4 2.4-2.4-2.4zM340.9 142.8l2.4 2.4-2.4 2.4-2.4-2.4zM373 136.2l2.4 2.4-2.4 2.4-2.4-2.4zM337.8 145.4l2.4 2.4-2.4 2.4-2.4-2.4zM391.7 141l2.4 2.4-2.4 2.4-2.4-2.4zM336.4 139.3l2.4 2.4-2.4 2.4-2.4-2.4zM339.7 134.7l2.4 2.4-2.4 2.4-2.4-2.4zM364.7 137.4l2.4 2.4-2.4 2.4-2.4-2.4zM387.8 143.8l2.4 2.4-2.4 2.4-2.4-2.4zM346.5 135.1l2.4 2.4-2.4 2.4-2.4-2.4zM369.2 139.7l2.4 2.4-2.4 2.4-2.4-2.4zM354.7 137.3l2.4 2.4-2.4 2.4-2.4-2.4zM388.8 132.9l2.4 2.4-2.4 2.4-2.4-2.4zM387.2 132.5l2.4 2.4-2.4 2.4-2.4-2.4zM341.6 145.1l2.4 2.4-2.4 2.4-2.4-2.4zM382.1 142.2l2.4 2.4-2.4 2.4-2.4-2.4zM364.3 139.3l2.4 2.4-2.4 2.4-2.4-2.4zM390.5 139.6l2.4 2.4-2.4 2.4-2.4-2.4zM341.8 142.8l2.4 2.4-2.4 2.4-2.4-2.4zM386.4 134.7l2.4 2.4-2.4 2.4-2.4-2.4zM342.1 132.7l2.4 2.4-2.4 2.4-2.4-2.4zM355.6 135.9l2.4 2.4-2.4 2.4-2.4-2.4zM366.7 134.1l2.4 2.4-2.4 2.4-2.4-2.4zM362.4 145.1l2.4 2.4-2.4 2.4-2.4-2.4zM366.3 122.6l2.4 2.4-2.4 2.4-2.4-2.4zM357.8 122.9l2.4 2.4-2.4 2.4-2.4-2.4zM359.9 128.2l2.4 2.4-2.4 2.4-2.4-2.4zM354.8 129.7l2.4 2.4-2.4 2.4-2.4-2.4zM363 121.4l2.4 2.4-2.4 2.4-2.4-2.4zM368.3 123.6l2.4 2.4-2.4 2.4-2.4-2.4zM344.4 128.1l2.4 2.4-2.4 2.4-2.4-2.4zM367.7 127.9l2.4 2.4-2.4 2.4-2.4-2.4zM334.5 122.4l2.4 2.4-2.4 2.4-2.4-2.4zM341.5 124.8l2.4 2.4-2.4 2.4-2.4-2.4zM390.9 129l2.4 2.4-2.4 2.4-2.4-2.4zM349.6 128.5l2.4 2.4-2.4 2.4-2.4-2.4zM365.4 121.2l2.4 2.4-2.4 2.4-2.4-2.4zM342.4 129.5l2.4 2.4-2.4 2.4-2.4-2.4zM386 129.1l2.4 2.4-2.4 2.4-2.4-2.4zM372.7 124.1l2.4 2.4-2.4 2.4-2.4-2.4zM334 131.9l2.4 2.4-2.4 2.4-2.4-2.4zM378 121.9l2.4 2.4-2.4 2.4-2.4-2.4zM374.3 127l2.4 2.4-2.4 2.4-2.4-2.4zM339.9 126.3l2.4 2.4-2.4 2.4-2.4-2.4zM340.4 128.6l2.4 2.4-2.4 2.4-2.4-2.4zM336 126.4l2.4 2.4-2.4 2.4-2.4-2.4zM434.7 141.5l2.4 2.4-2.4 2.4-2.4-2.4zM413.8 145.2l2.4 2.4-2.4 2.4-2.4-2.4zM397.4 144.2l2.4 2.4-2.4 2.4-2.4-2.4zM478.5 145.8l2.4 2.4-2.4 2.4-2.4-2.4zM455.9 138.6l2.4 2.4-2.4 2.4-2.4-2.4zM444.9 141.2l2.4 2.4-2.4 2.4-2.4-2.4zM478.4 132.7l2.4 2.4-2.4 2.4-2.4-2.4zM429.4 139l2.4 2.4-2.4 2.4-2.4-2.4zM473 143.7l2.4 2.4-2.4 2.4-2.4-2.4zM469.3 135.9l2.4 2.4-2.4 2.4-2.4-2.4zM443.2 137.3l2.4 2.4-2.4 2.4-2.4-2.4zM445.2 144.8l2.4 2.4-2.4 2.4-2.4-2.4zM416.2 140.4l2.4 2.4-2.4 2.4-2.4-2.4zM413.8 144.9l2.4 2.4-2.4 2.4-2.4-2.4zM455.6 139.2l2.4 2.4-2.4 2.4-2.4-2.4zM458 139.7l2.4 2.4-2.4 2.4-2.4-2.4zM475 142.2l2.4 2.4-2.4 2.4-2.4-2.4zM438.6 139.2l2.4 2.4-2.4 2.4-2.4-2.4zM337 124.6l2.4 2.4-2.4 2.4-2.4-2.4zM340 123.1l2.4 2.4-2.4 2.4-2.4-2.4zM348 122.6l2.4 2.4-2.4 2.4-2.4-2.4zM350 126.6l2.4 2.4-2.4 2.4-2.4-2.4zM345 128.6l2.4 2.4-2.4 2.4-2.4-2.4zM339 132.6l2.4 2.4-2.4 2.4-2.4-2.4zM352 130.6l2.4 2.4-2.4 2.4-2.4-2.4zM366 134.6l2.4 2.4-2.4 2.4-2.4-2.4zM371 125.6l2.4 2.4-2.4 2.4-2.4-2.4zM381 127.6l2.4 2.4-2.4 2.4-2.4-2.4zM397 128.6l2.4 2.4-2.4 2.4-2.4-2.4zM404 133.6l2.4 2.4-2.4 2.4-2.4-2.4zM426 127.6l2.4 2.4-2.4 2.4-2.4-2.4zM431 135.6l2.4 2.4-2.4 2.4-2.4-2.4zM455 138.6l2.4 2.4-2.4 2.4-2.4-2.4zM459 133.6l2.4 2.4-2.4 2.4-2.4-2.4zM470 137.6l2.4 2.4-2.4 2.4-2.4-2.4zM608.8 144.8l2.4 2.4-2.4 2.4-2.4-2.4zM584 130.8l2.4 2.4-2.4 2.4-2.4-2.4zM584.7 130.6l2.4 2.4-2.4 2.4-2.4-2.4zM627.1 140.9l2.4 2.4-2.4 2.4-2.4-2.4zM555.2 147.2l2.4 2.4-2.4 2.4-2.4-2.4zM640.5 149.1l2.4 2.4-2.4 2.4-2.4-2.4zM604 150.7l2.4 2.4-2.4 2.4-2.4-2.4zM618.2 136.8l2.4 2.4-2.4 2.4-2.4-2.4zM634 139.7l2.4 2.4-2.4 2.4-2.4-2.4zM556 133.4l2.4 2.4-2.4 2.4-2.4-2.4zM602.6 128.5l2.4 2.4-2.4 2.4-2.4-2.4zM597 147.5l2.4 2.4-2.4 2.4-2.4-2.4zM589.3 140.7l2.4 2.4-2.4 2.4-2.4-2.4zM614.9 138.5l2.4 2.4-2.4 2.4-2.4-2.4zM631.2 141.5l2.4 2.4-2.4 2.4-2.4-2.4zM565.5 131.3l2.4 2.4-2.4 2.4-2.4-2.4zM616.1 151.7l2.4 2.4-2.4 2.4-2.4-2.4zM591.1 131.6l2.4 2.4-2.4 2.4-2.4-2.4z" class="r"/>
<path d="M602.7 152.5l2.4 2.4-2.4 2.4-2.4-2.4zM631.6 135.4l2.4 2.4-2.4 2.4-2.4-2.4zM564.7 136.6l2.4 2.4-2.4 2.4-2.4-2.4zM631.4 140.3l2.4 2.4-2.4 2.4-2.4-2.4zM639.8 141.4l2.4 2.4-2.4 2.4-2.4-2.4zM546.2 137.7l2.4 2.4-2.4 2.4-2.4-2.4zM628 129.4l2.4 2.4-2.4 2.4-2.4-2.4zM620.5 128.6l2.4 2.4-2.4 2.4-2.4-2.4zM625.3 143.3l2.4 2.4-2.4 2.4-2.4-2.4zM551 151.5l2.4 2.4-2.4 2.4-2.4-2.4zM549.9 129.1l2.4 2.4-2.4 2.4-2.4-2.4zM625.7 129.7l2.4 2.4-2.4 2.4-2.4-2.4zM622.7 143.9l2.4 2.4-2.4 2.4-2.4-2.4zM601.4 154.5l2.4 2.4-2.4 2.4-2.4-2.4zM561 145.4l2.4 2.4-2.4 2.4-2.4-2.4zM550.4 147.6l2.4 2.4-2.4 2.4-2.4-2.4zM596.9 151.6l2.4 2.4-2.4 2.4-2.4-2.4zM562.8 153.3l2.4 2.4-2.4 2.4-2.4-2.4zM590.7 132l2.4 2.4-2.4 2.4-2.4-2.4zM589.7 136.3l2.4 2.4-2.4 2.4-2.4-2.4zM616.6 133.1l2.4 2.4-2.4 2.4-2.4-2.4zM624.6 142.5l2.4 2.4-2.4 2.4-2.4-2.4zM549.6 151.5l2.4 2.4-2.4 2.4-2.4-2.4zM572.8 147.2l2.4 2.4-2.4 2.4-2.4-2.4zM604.9 142.6l2.4 2.4-2.4 2.4-2.4-2.4zM573.8 151.5l2.4 2.4-2.4 2.4-2.4-2.4zM618.8 126.8l2.4 2.4-2.4 2.4-2.4-2.4zM615.2 152.1l2.4 2.4-2.4 2.4-2.4-2.4zM614.5 133.2l2.4 2.4-2.4 2.4-2.4-2.4zM598.8 138.5l2.4 2.4-2.4 2.4-2.4-2.4zM631.2 143.1l2.4 2.4-2.4 2.4-2.4-2.4zM615.7 151.5l2.4 2.4-2.4 2.4-2.4-2.4zM628.6 140.4l2.4 2.4-2.4 2.4-2.4-2.4zM564.1 138.8l2.4 2.4-2.4 2.4-2.4-2.4zM627.5 144.1l2.4 2.4-2.4 2.4-2.4-2.4zM576.2 136.1l2.4 2.4-2.4 2.4-2.4-2.4zM644.5 127.9l2.4 2.4-2.4 2.4-2.4-2.4zM576 142.9l2.4 2.4-2.4 2.4-2.4-2.4zM582.7 152.1l2.4 2.4-2.4 2.4-2.4-2.4zM599.6 148.5l2.4 2.4-2.4 2.4-2.4-2.4zM592.8 132.3l2.4 2.4-2.4 2.4-2.4-2.4zM600.6 126.9l2.4 2.4-2.4 2.4-2.4-2.4zM565.3 151.1l2.4 2.4-2.4 2.4-2.4-2.4zM551.4 136.2l2.4 2.4-2.4 2.4-2.4-2.4zM573.6 150.2l2.4 2.4-2.4 2.4-2.4-2.4zM608.7 127l2.4 2.4-2.4 2.4-2.4-2.4zM620.3 128l2.4 2.4-2.4 2.4-2.4-2.4zM638.2 141.7l2.4 2.4-2.4 2.4-2.4-2.4zM567 134.4l2.4 2.4-2.4 2.4-2.4-2.4zM566.8 153.6l2.4 2.4-2.4 2.4-2.4-2.4zM582.4 135.2l2.4 2.4-2.4 2.4-2.4-2.4zM608.3 145.1l2.4 2.4-2.4 2.4-2.4-2.4zM557.6 151.4l2.4 2.4-2.4 2.4-2.4-2.4zM605.1 142.7l2.4 2.4-2.4 2.4-2.4-2.4zM599.3 135.1l2.4 2.4-2.4 2.4-2.4-2.4zM602.3 131l2.4 2.4-2.4 2.4-2.4-2.4zM637 142l2.4 2.4-2.4 2.4-2.4-2.4zM581 142.4l2.4 2.4-2.4 2.4-2.4-2.4zM570 151.3l2.4 2.4-2.4 2.4-2.4-2.4zM617 144.2l2.4 2.4-2.4 2.4-2.4-2.4zM547.2 145.6l2.4 2.4-2.4 2.4-2.4-2.4zM577.1 153.8l2.4 2.4-2.4 2.4-2.4-2.4zM547.2 139.1l2.4 2.4-2.4 2.4-2.4-2.4zM625.5 132l2.4 2.4-2.4 2.4-2.4-2.4zM604.7 150.1l2.4 2.4-2.4 2.4-2.4-2.4zM608.8 149l2.4 2.4-2.4 2.4-2.4-2.4zM568.1 147.4l2.4 2.4-2.4 2.4-2.4-2.4zM558.5 152.8l2.4 2.4-2.4 2.4-2.4-2.4zM643.6 153.3l2.4 2.4-2.4 2.4-2.4-2.4zM642.1 136.7l2.4 2.4-2.4 2.4-2.4-2.4zM619.2 152.8l2.4 2.4-2.4 2.4-2.4-2.4zM613 150.7l2.4 2.4-2.4 2.4-2.4-2.4zM595.8 143.9l2.4 2.4-2.4 2.4-2.4-2.4zM635.2 153l2.4 2.4-2.4 2.4-2.4-2.4zM545.7 140l2.4 2.4-2.4 2.4-2.4-2.4zM597.5 138l2.4 2.4-2.4 2.4-2.4-2.4zM553.6 146.2l2.4 2.4-2.4 2.4-2.4-2.4zM616.3 139.8l2.4 2.4-2.4 2.4-2.4-2.4zM576.6 154.7l2.4 2.4-2.4 2.4-2.4-2.4zM549.4 130.2l2.4 2.4-2.4 2.4-2.4-2.4zM572.4 153.6l2.4 2.4-2.4 2.4-2.4-2.4zM574.2 150.4l2.4 2.4-2.4 2.4-2.4-2.4zM599.3 154l2.4 2.4-2.4 2.4-2.4-2.4zM599 138.1l2.4 2.4-2.4 2.4-2.4-2.4zM598.6 139.6l2.4 2.4-2.4 2.4-2.4-2.4zM569.2 145.7l2.4 2.4-2.4 2.4-2.4-2.4zM619.8 148.5l2.4 2.4-2.4 2.4-2.4-2.4zM627.6 151l2.4 2.4-2.4 2.4-2.4-2.4zM592.8 130l2.4 2.4-2.4 2.4-2.4-2.4zM611.4 148.8l2.4 2.4-2.4 2.4-2.4-2.4zM581.6 148.6l2.4 2.4-2.4 2.4-2.4-2.4zM620.1 146.4l2.4 2.4-2.4 2.4-2.4-2.4zM628.7 136.6l2.4 2.4-2.4 2.4-2.4-2.4zM628.1 141.6l2.4 2.4-2.4 2.4-2.4-2.4zM573.2 136.8l2.4 2.4-2.4 2.4-2.4-2.4zM588.6 154l2.4 2.4-2.4 2.4-2.4-2.4zM590 151l2.4 2.4-2.4 2.4-2.4-2.4zM552.3 149.1l2.4 2.4-2.4 2.4-2.4-2.4zM640.5 137.4l2.4 2.4-2.4 2.4-2.4-2.4zM588.4 140.1l2.4 2.4-2.4 2.4-2.4-2.4zM583.7 140.6l2.4 2.4-2.4 2.4-2.4-2.4zM571.1 131.4l2.4 2.4-2.4 2.4-2.4-2.4zM624.4 144.1l2.4 2.4-2.4 2.4-2.4-2.4zM600.6 146.2l2.4 2.4-2.4 2.4-2.4-2.4zM622.1 132.1l2.4 2.4-2.4 2.4-2.4-2.4zM637.6 152.9l2.4 2.4-2.4 2.4-2.4-2.4zM635.8 150.3l2.4 2.4-2.4 2.4-2.4-2.4zM556.1 145l2.4 2.4-2.4 2.4-2.4-2.4zM609.7 152.7l2.4 2.4-2.4 2.4-2.4-2.4zM609.4 127.7l2.4 2.4-2.4 2.4-2.4-2.4zM622.9 132.3l2.4 2.4-2.4 2.4-2.4-2.4zM560.8 147.2l2.4 2.4-2.4 2.4-2.4-2.4zM569.7 146.2l2.4 2.4-2.4 2.4-2.4-2.4zM633.4 126.7l2.4 2.4-2.4 2.4-2.4-2.4zM571.4 140.7l2.4 2.4-2.4 2.4-2.4-2.4zM605.8 127.6l2.4 2.4-2.4 2.4-2.4-2.4zM590 152.6l2.4 2.4-2.4 2.4-2.4-2.4zM554.9 152l2.4 2.4-2.4 2.4-2.4-2.4zM592.6 153.2l2.4 2.4-2.4 2.4-2.4-2.4zM614.3 150.9l2.4 2.4-2.4 2.4-2.4-2.4z" class="r"/>
<path d="M549.2 135.8l2.4 2.4-2.4 2.4-2.4-2.4zM591.3 134.7l2.4 2.4-2.4 2.4-2.4-2.4zM602.7 145.9l2.4 2.4-2.4 2.4-2.4-2.4zM552.1 131.5l2.4 2.4-2.4 2.4-2.4-2.4zM612.9 149.2l2.4 2.4-2.4 2.4-2.4-2.4zM553.2 138.6l2.4 2.4-2.4 2.4-2.4-2.4zM638 135.1l2.4 2.4-2.4 2.4-2.4-2.4zM637.2 126.8l2.4 2.4-2.4 2.4-2.4-2.4zM557.6 151.1l2.4 2.4-2.4 2.4-2.4-2.4zM591.6 152.8l2.4 2.4-2.4 2.4-2.4-2.4zM593.4 132.7l2.4 2.4-2.4 2.4-2.4-2.4zM571.1 132.7l2.4 2.4-2.4 2.4-2.4-2.4zM570.5 132.7l2.4 2.4-2.4 2.4-2.4-2.4zM552.6 152.6l2.4 2.4-2.4 2.4-2.4-2.4zM549.6 140.1l2.4 2.4-2.4 2.4-2.4-2.4zM547.3 136.6l2.4 2.4-2.4 2.4-2.4-2.4zM586.8 129.8l2.4 2.4-2.4 2.4-2.4-2.4zM583.5 132.1l2.4 2.4-2.4 2.4-2.4-2.4zM620.2 146.1l2.4 2.4-2.4 2.4-2.4-2.4zM622.9 139.5l2.4 2.4-2.4 2.4-2.4-2.4zM604.3 144.7l2.4 2.4-2.4 2.4-2.4-2.4zM560.4 141.9l2.4 2.4-2.4 2.4-2.4-2.4zM596.9 144.5l2.4 2.4-2.4 2.4-2.4-2.4zM643.3 151.4l2.4 2.4-2.4 2.4-2.4-2.4zM636.1 140.8l2.4 2.4-2.4 2.4-2.4-2.4zM554.9 140.7l2.4 2.4-2.4 2.4-2.4-2.4zM563.8 142.7l2.4 2.4-2.4 2.4-2.4-2.4zM593 134.1l2.4 2.4-2.4 2.4-2.4-2.4zM636 153.6l2.4 2.4-2.4 2.4-2.4-2.4zM632.7 128.7l2.4 2.4-2.4 2.4-2.4-2.4zM560.1 153.4l2.4 2.4-2.4 2.4-2.4-2.4zM591.4 154.3l2.4 2.4-2.4 2.4-2.4-2.4zM557.5 142.2l2.4 2.4-2.4 2.4-2.4-2.4zM565.9 139.5l2.4 2.4-2.4 2.4-2.4-2.4zM565.8 137.5l2.4 2.4-2.4 2.4-2.4-2.4zM607.4 153.5l2.4 2.4-2.4 2.4-2.4-2.4zM613.5 129.2l2.4 2.4-2.4 2.4-2.4-2.4zM644.4 154.2l2.4 2.4-2.4 2.4-2.4-2.4zM613.8 147.6l2.4 2.4-2.4 2.4-2.4-2.4zM586.7 143.7l2.4 2.4-2.4 2.4-2.4-2.4zM549.9 138.6l2.4 2.4-2.4 2.4-2.4-2.4zM558 131.4l2.4 2.4-2.4 2.4-2.4-2.4zM555.2 138.8l2.4 2.4-2.4 2.4-2.4-2.4zM600.4 154.3l2.4 2.4-2.4 2.4-2.4-2.4zM556.4 142.6l2.4 2.4-2.4 2.4-2.4-2.4zM584 151.8l2.4 2.4-2.4 2.4-2.4-2.4zM555.1 149.9l2.4 2.4-2.4 2.4-2.4-2.4zM626.4 152.2l2.4 2.4-2.4 2.4-2.4-2.4zM620.7 152.7l2.4 2.4-2.4 2.4-2.4-2.4zM626.7 134.2l2.4 2.4-2.4 2.4-2.4-2.4zM633.2 145.7l2.4 2.4-2.4 2.4-2.4-2.4zM642.5 145l2.4 2.4-2.4 2.4-2.4-2.4zM608.1 132.3l2.4 2.4-2.4 2.4-2.4-2.4zM560.1 154.1l2.4 2.4-2.4 2.4-2.4-2.4zM614.4 150l2.4 2.4-2.4 2.4-2.4-2.4zM566.9 142.7l2.4 2.4-2.4 2.4-2.4-2.4zM562.2 148.9l2.4 2.4-2.4 2.4-2.4-2.4zM565.3 153.2l2.4 2.4-2.4 2.4-2.4-2.4zM626.6 131.8l2.4 2.4-2.4 2.4-2.4-2.4zM618.2 144.3l2.4 2.4-2.4 2.4-2.4-2.4zM637.2 141.2l2.4 2.4-2.4 2.4-2.4-2.4zM600.4 154.5l2.4 2.4-2.4 2.4-2.4-2.4zM580.5 150.3l2.4 2.4-2.4 2.4-2.4-2.4zM610.8 127.8l2.4 2.4-2.4 2.4-2.4-2.4zM607.8 147.6l2.4 2.4-2.4 2.4-2.4-2.4zM628.2 153.4l2.4 2.4-2.4 2.4-2.4-2.4zM625.6 154.2l2.4 2.4-2.4 2.4-2.4-2.4zM641.5 134.7l2.4 2.4-2.4 2.4-2.4-2.4zM643.5 143l2.4 2.4-2.4 2.4-2.4-2.4zM610.8 145.4l2.4 2.4-2.4 2.4-2.4-2.4zM620.1 141.4l2.4 2.4-2.4 2.4-2.4-2.4zM590.6 133.1l2.4 2.4-2.4 2.4-2.4-2.4zM639 148.7l2.4 2.4-2.4 2.4-2.4-2.4zM570.8 126.8l2.4 2.4-2.4 2.4-2.4-2.4zM578.7 146.3l2.4 2.4-2.4 2.4-2.4-2.4zM599.7 148.4l2.4 2.4-2.4 2.4-2.4-2.4zM590.6 148.8l2.4 2.4-2.4 2.4-2.4-2.4zM589.2 133.3l2.4 2.4-2.4 2.4-2.4-2.4zM621.4 129l2.4 2.4-2.4 2.4-2.4-2.4zM638.3 149l2.4 2.4-2.4 2.4-2.4-2.4zM622.9 136.7l2.4 2.4-2.4 2.4-2.4-2.4zM607.6 142.9l2.4 2.4-2.4 2.4-2.4-2.4zM637 140.6l2.4 2.4-2.4 2.4-2.4-2.4zM638.8 152.9l2.4 2.4-2.4 2.4-2.4-2.4zM580.8 152.3l2.4 2.4-2.4 2.4-2.4-2.4zM617 143.7l2.4 2.4-2.4 2.4-2.4-2.4zM577 147.2l2.4 2.4-2.4 2.4-2.4-2.4zM593.4 148l2.4 2.4-2.4 2.4-2.4-2.4zM594.3 138.8l2.4 2.4-2.4 2.4-2.4-2.4zM547 150.2l2.4 2.4-2.4 2.4-2.4-2.4zM597.5 137.6l2.4 2.4-2.4 2.4-2.4-2.4zM604.3 135.4l2.4 2.4-2.4 2.4-2.4-2.4zM588.4 129.5l2.4 2.4-2.4 2.4-2.4-2.4zM621.8 142.4l2.4 2.4-2.4 2.4-2.4-2.4zM602.1 133.1l2.4 2.4-2.4 2.4-2.4-2.4zM573.1 148.6l2.4 2.4-2.4 2.4-2.4-2.4zM594.9 142.3l2.4 2.4-2.4 2.4-2.4-2.4zM550.2 142.4l2.4 2.4-2.4 2.4-2.4-2.4zM636.9 131.1l2.4 2.4-2.4 2.4-2.4-2.4zM599 136.4l2.4 2.4-2.4 2.4-2.4-2.4zM582.1 153.6l2.4 2.4-2.4 2.4-2.4-2.4zM627.3 141.4l2.4 2.4-2.4 2.4-2.4-2.4zM570.7 107.8l2.4 2.4-2.4 2.4-2.4-2.4zM581.3 118.8l2.4 2.4-2.4 2.4-2.4-2.4zM569.5 103.5l2.4 2.4-2.4 2.4-2.4-2.4zM572.9 97.3l2.4 2.4-2.4 2.4-2.4-2.4zM554.2 101.3l2.4 2.4-2.4 2.4-2.4-2.4zM554.1 118.2l2.4 2.4-2.4 2.4-2.4-2.4zM563.2 101.2l2.4 2.4-2.4 2.4-2.4-2.4zM578.8 109.9l2.4 2.4-2.4 2.4-2.4-2.4zM569.1 106l2.4 2.4-2.4 2.4-2.4-2.4zM553.8 116.3l2.4 2.4-2.4 2.4-2.4-2.4zM566.1 127.7l2.4 2.4-2.4 2.4-2.4-2.4zM562 119.6l2.4 2.4-2.4 2.4-2.4-2.4zM556.7 122.8l2.4 2.4-2.4 2.4-2.4-2.4zM563.8 106.1l2.4 2.4-2.4 2.4-2.4-2.4zM577.7 118.2l2.4 2.4-2.4 2.4-2.4-2.4zM575.8 104.3l2.4 2.4-2.4 2.4-2.4-2.4zM556 122.4l2.4 2.4-2.4 2.4-2.4-2.4zM578.5 124.5l2.4 2.4-2.4 2.4-2.4-2.4z" class="r"/>
<path d="M571.2 108.8l2.4 2.4-2.4 2.4-2.4-2.4zM576.4 102.1l2.4 2.4-2.4 2.4-2.4-2.4zM576.7 124.6l2.4 2.4-2.4 2.4-2.4-2.4zM574 97.8l2.4 2.4-2.4 2.4-2.4-2.4zM572.3 95.6l2.4 2.4-2.4 2.4-2.4-2.4zM555.4 113l2.4 2.4-2.4 2.4-2.4-2.4zM581.1 118.8l2.4 2.4-2.4 2.4-2.4-2.4zM563 119l2.4 2.4-2.4 2.4-2.4-2.4zM563.9 114.2l2.4 2.4-2.4 2.4-2.4-2.4zM567.7 120.4l2.4 2.4-2.4 2.4-2.4-2.4zM567.5 96.6l2.4 2.4-2.4 2.4-2.4-2.4zM563.1 120.6l2.4 2.4-2.4 2.4-2.4-2.4zM579.6 104.4l2.4 2.4-2.4 2.4-2.4-2.4zM576 97.1l2.4 2.4-2.4 2.4-2.4-2.4zM581.5 118.7l2.4 2.4-2.4 2.4-2.4-2.4zM553 103.4l2.4 2.4-2.4 2.4-2.4-2.4zM572.2 115.7l2.4 2.4-2.4 2.4-2.4-2.4zM579.2 101.1l2.4 2.4-2.4 2.4-2.4-2.4zM569.5 107.8l2.4 2.4-2.4 2.4-2.4-2.4zM565.1 123l2.4 2.4-2.4 2.4-2.4-2.4zM561.5 103.8l2.4 2.4-2.4 2.4-2.4-2.4zM567.3 111l2.4 2.4-2.4 2.4-2.4-2.4zM630.8 119.6l2.4 2.4-2.4 2.4-2.4-2.4zM608.9 138.6l2.4 2.4-2.4 2.4-2.4-2.4zM635.5 135.8l2.4 2.4-2.4 2.4-2.4-2.4zM627.3 129.3l2.4 2.4-2.4 2.4-2.4-2.4zM631.5 126.3l2.4 2.4-2.4 2.4-2.4-2.4zM620.4 127.1l2.4 2.4-2.4 2.4-2.4-2.4zM642.3 121.7l2.4 2.4-2.4 2.4-2.4-2.4zM622.7 124.2l2.4 2.4-2.4 2.4-2.4-2.4zM615.9 119.8l2.4 2.4-2.4 2.4-2.4-2.4zM604.1 127.9l2.4 2.4-2.4 2.4-2.4-2.4zM635.4 120.1l2.4 2.4-2.4 2.4-2.4-2.4zM626.2 129.1l2.4 2.4-2.4 2.4-2.4-2.4zM628.9 123.6l2.4 2.4-2.4 2.4-2.4-2.4zM619.3 126.3l2.4 2.4-2.4 2.4-2.4-2.4zM614.4 138.9l2.4 2.4-2.4 2.4-2.4-2.4zM607.2 136.7l2.4 2.4-2.4 2.4-2.4-2.4zM620.6 137.7l2.4 2.4-2.4 2.4-2.4-2.4zM636 125.2l2.4 2.4-2.4 2.4-2.4-2.4zM619.7 136.7l2.4 2.4-2.4 2.4-2.4-2.4zM621 121l2.4 2.4-2.4 2.4-2.4-2.4zM638.3 125.1l2.4 2.4-2.4 2.4-2.4-2.4zM619.8 121.9l2.4 2.4-2.4 2.4-2.4-2.4zM624.8 133l2.4 2.4-2.4 2.4-2.4-2.4zM640.9 125.6l2.4 2.4-2.4 2.4-2.4-2.4zM606.3 139.1l2.4 2.4-2.4 2.4-2.4-2.4zM623.4 123.2l2.4 2.4-2.4 2.4-2.4-2.4zM622 128.7l2.4 2.4-2.4 2.4-2.4-2.4zM609.6 127.1l2.4 2.4-2.4 2.4-2.4-2.4zM620.8 132.6l2.4 2.4-2.4 2.4-2.4-2.4zM612.7 127.4l2.4 2.4-2.4 2.4-2.4-2.4zM638 128.7l2.4 2.4-2.4 2.4-2.4-2.4zM628.9 128.1l2.4 2.4-2.4 2.4-2.4-2.4zM633.1 125l2.4 2.4-2.4 2.4-2.4-2.4zM604.4 118.9l2.4 2.4-2.4 2.4-2.4-2.4zM624.2 139.6l2.4 2.4-2.4 2.4-2.4-2.4zM576.7 112l2.4 2.4-2.4 2.4-2.4-2.4zM566 119.3l2.4 2.4-2.4 2.4-2.4-2.4zM556.2 113.1l2.4 2.4-2.4 2.4-2.4-2.4zM575.2 110l2.4 2.4-2.4 2.4-2.4-2.4zM569.2 104.8l2.4 2.4-2.4 2.4-2.4-2.4zM567.4 146.1l2.4 2.4-2.4 2.4-2.4-2.4zM557.7 131.7l2.4 2.4-2.4 2.4-2.4-2.4zM561.7 135.9l2.4 2.4-2.4 2.4-2.4-2.4zM557.7 117.1l2.4 2.4-2.4 2.4-2.4-2.4zM581.6 104.4l2.4 2.4-2.4 2.4-2.4-2.4zM565.6 123.8l2.4 2.4-2.4 2.4-2.4-2.4zM570.8 119.2l2.4 2.4-2.4 2.4-2.4-2.4zM576.9 126.8l2.4 2.4-2.4 2.4-2.4-2.4zM555.6 132.1l2.4 2.4-2.4 2.4-2.4-2.4zM555.4 115.6l2.4 2.4-2.4 2.4-2.4-2.4zM584 120.5l2.4 2.4-2.4 2.4-2.4-2.4zM575.7 120.7l2.4 2.4-2.4 2.4-2.4-2.4zM584.2 138.8l2.4 2.4-2.4 2.4-2.4-2.4zM572.1 131.3l2.4 2.4-2.4 2.4-2.4-2.4zM568.7 136.5l2.4 2.4-2.4 2.4-2.4-2.4zM578.4 131.3l2.4 2.4-2.4 2.4-2.4-2.4zM563 107.7l2.4 2.4-2.4 2.4-2.4-2.4zM555.5 137.9l2.4 2.4-2.4 2.4-2.4-2.4zM582.8 116.3l2.4 2.4-2.4 2.4-2.4-2.4zM561 140.4l2.4 2.4-2.4 2.4-2.4-2.4zM575.2 108.8l2.4 2.4-2.4 2.4-2.4-2.4zM584.9 103.8l2.4 2.4-2.4 2.4-2.4-2.4zM577.5 142.5l2.4 2.4-2.4 2.4-2.4-2.4zM578.6 126.6l2.4 2.4-2.4 2.4-2.4-2.4zM571 145.3l2.4 2.4-2.4 2.4-2.4-2.4zM555.4 123l2.4 2.4-2.4 2.4-2.4-2.4zM574.4 134.1l2.4 2.4-2.4 2.4-2.4-2.4zM584 143.3l2.4 2.4-2.4 2.4-2.4-2.4zM581.2 104.3l2.4 2.4-2.4 2.4-2.4-2.4zM557.7 109l2.4 2.4-2.4 2.4-2.4-2.4zM573.4 126.7l2.4 2.4-2.4 2.4-2.4-2.4zM568.1 121.6l2.4 2.4-2.4 2.4-2.4-2.4zM582.8 112.2l2.4 2.4-2.4 2.4-2.4-2.4zM569.2 125.6l2.4 2.4-2.4 2.4-2.4-2.4zM560.3 121.7l2.4 2.4-2.4 2.4-2.4-2.4zM580.8 117.7l2.4 2.4-2.4 2.4-2.4-2.4zM573 126l2.4 2.4-2.4 2.4-2.4-2.4zM584.5 107.9l2.4 2.4-2.4 2.4-2.4-2.4zM570.5 116.5l2.4 2.4-2.4 2.4-2.4-2.4zM579.2 134.8l2.4 2.4-2.4 2.4-2.4-2.4zM573.9 133.5l2.4 2.4-2.4 2.4-2.4-2.4zM577.9 132.6l2.4 2.4-2.4 2.4-2.4-2.4zM583.9 115.1l2.4 2.4-2.4 2.4-2.4-2.4zM570.8 120.7l2.4 2.4-2.4 2.4-2.4-2.4zM572.5 134.3l2.4 2.4-2.4 2.4-2.4-2.4zM555.7 125.9l2.4 2.4-2.4 2.4-2.4-2.4zM563.8 125.1l2.4 2.4-2.4 2.4-2.4-2.4zM561.3 137l2.4 2.4-2.4 2.4-2.4-2.4zM584.4 129.3l2.4 2.4-2.4 2.4-2.4-2.4zM577.5 140l2.4 2.4-2.4 2.4-2.4-2.4zM557.6 115.2l2.4 2.4-2.4 2.4-2.4-2.4zM568.1 110.2l2.4 2.4-2.4 2.4-2.4-2.4zM555.6 124l2.4 2.4-2.4 2.4-2.4-2.4zM572.9 136.3l2.4 2.4-2.4 2.4-2.4-2.4zM576.5 137.5l2.4 2.4-2.4 2.4-2.4-2.4zM594 126.4l2.4 2.4-2.4 2.4-2.4-2.4zM594.4 125.5l2.4 2.4-2.4 2.4-2.4-2.4zM593.4 127.7l2.4 2.4-2.4 2.4-2.4-2.4z" class="r"/>
<path d="M596.6 120.5l2.4 2.4-2.4 2.4-2.4-2.4zM600.1 112.9l2.4 2.4-2.4 2.4-2.4-2.4zM594.6 125.1l2.4 2.4-2.4 2.4-2.4-2.4zM595.6 122.9l2.4 2.4-2.4 2.4-2.4-2.4zM596 121.9l2.4 2.4-2.4 2.4-2.4-2.4zM595 124.2l2.4 2.4-2.4 2.4-2.4-2.4zM600.8 111.2l2.4 2.4-2.4 2.4-2.4-2.4zM600.5 111.9l2.4 2.4-2.4 2.4-2.4-2.4zM594.1 126.2l2.4 2.4-2.4 2.4-2.4-2.4zM598.9 115.4l2.4 2.4-2.4 2.4-2.4-2.4zM601.2 110.5l2.4 2.4-2.4 2.4-2.4-2.4zM624.6 88.6l2.4 2.4-2.4 2.4-2.4-2.4zM635 92.5l2.4 2.4-2.4 2.4-2.4-2.4zM629.5 53.4l2.4 2.4-2.4 2.4-2.4-2.4zM564 92l2.4 2.4-2.4 2.4-2.4-2.4zM573.3 92.8l2.4 2.4-2.4 2.4-2.4-2.4zM561 94.6l2.4 2.4-2.4 2.4-2.4-2.4zM577 98.6l2.4 2.4-2.4 2.4-2.4-2.4zM631 108.6l2.4 2.4-2.4 2.4-2.4-2.4zM620 113.6l2.4 2.4-2.4 2.4-2.4-2.4zM557 103.6l2.4 2.4-2.4 2.4-2.4-2.4zM553 107.6l2.4 2.4-2.4 2.4-2.4-2.4zM579 110.6l2.4 2.4-2.4 2.4-2.4-2.4zM490.9 129.6l2.4 2.4-2.4 2.4-2.4-2.4zM491.9 130.7l2.4 2.4-2.4 2.4-2.4-2.4zM498.6 128.9l2.4 2.4-2.4 2.4-2.4-2.4zM504.3 125.6l2.4 2.4-2.4 2.4-2.4-2.4zM516.7 133.5l2.4 2.4-2.4 2.4-2.4-2.4zM528.7 128.9l2.4 2.4-2.4 2.4-2.4-2.4zM541.8 125.5l2.4 2.4-2.4 2.4-2.4-2.4zM507.3 129.8l2.4 2.4-2.4 2.4-2.4-2.4zM540.4 122.8l2.4 2.4-2.4 2.4-2.4-2.4zM528.7 127.1l2.4 2.4-2.4 2.4-2.4-2.4zM513.4 129.2l2.4 2.4-2.4 2.4-2.4-2.4zM512.2 128.5l2.4 2.4-2.4 2.4-2.4-2.4zM510 130.6l2.4 2.4-2.4 2.4-2.4-2.4zM492 133.4l2.4 2.4-2.4 2.4-2.4-2.4zM550.7 130.3l2.4 2.4-2.4 2.4-2.4-2.4zM557.4 131.5l2.4 2.4-2.4 2.4-2.4-2.4zM515.5 123.7l2.4 2.4-2.4 2.4-2.4-2.4zM521.1 126.3l2.4 2.4-2.4 2.4-2.4-2.4zM544.3 129.8l2.4 2.4-2.4 2.4-2.4-2.4zM504.1 134.4l2.4 2.4-2.4 2.4-2.4-2.4zM550.4 127.5l2.4 2.4-2.4 2.4-2.4-2.4zM544.7 122.6l2.4 2.4-2.4 2.4-2.4-2.4zM551 127.3l2.4 2.4-2.4 2.4-2.4-2.4zM497.8 127.5l2.4 2.4-2.4 2.4-2.4-2.4zM523.9 133.3l2.4 2.4-2.4 2.4-2.4-2.4zM491.3 130.3l2.4 2.4-2.4 2.4-2.4-2.4zM516.1 123.9l2.4 2.4-2.4 2.4-2.4-2.4zM559.5 123.3l2.4 2.4-2.4 2.4-2.4-2.4zM512.5 124.2l2.4 2.4-2.4 2.4-2.4-2.4zM516.7 130.1l2.4 2.4-2.4 2.4-2.4-2.4zM530.5 134l2.4 2.4-2.4 2.4-2.4-2.4zM537.2 133.7l2.4 2.4-2.4 2.4-2.4-2.4zM531.2 125.4l2.4 2.4-2.4 2.4-2.4-2.4zM494.2 126.7l2.4 2.4-2.4 2.4-2.4-2.4zM525.6 130.3l2.4 2.4-2.4 2.4-2.4-2.4zM544.8 130.7l2.4 2.4-2.4 2.4-2.4-2.4zM503.4 129.5l2.4 2.4-2.4 2.4-2.4-2.4zM515.6 124.6l2.4 2.4-2.4 2.4-2.4-2.4zM504.5 129.7l2.4 2.4-2.4 2.4-2.4-2.4zM544.6 128.9l2.4 2.4-2.4 2.4-2.4-2.4zM513.7 132.7l2.4 2.4-2.4 2.4-2.4-2.4zM514.6 128.1l2.4 2.4-2.4 2.4-2.4-2.4zM544.6 122.4l2.4 2.4-2.4 2.4-2.4-2.4zM527.4 128.5l2.4 2.4-2.4 2.4-2.4-2.4zM543.1 128.9l2.4 2.4-2.4 2.4-2.4-2.4z" class="r"/>
<path d="M576.3 153.4l2.4 2.4-2.4 2.4-2.4-2.4zM580 151.5l2.4 2.4-2.4 2.4-2.4-2.4zM642.1 154.8l2.4 2.4-2.4 2.4-2.4-2.4zM642 153.1l2.4 2.4-2.4 2.4-2.4-2.4zM639.5 154.5l2.4 2.4-2.4 2.4-2.4-2.4zM639.5 154.8l2.4 2.4-2.4 2.4-2.4-2.4zM642 152.4l2.4 2.4-2.4 2.4-2.4-2.4zM380.3 150.9l2.4 2.4-2.4 2.4-2.4-2.4zM379.9 154.1l2.4 2.4-2.4 2.4-2.4-2.4zM384.7 153.2l2.4 2.4-2.4 2.4-2.4-2.4zM379 153.4l2.4 2.4-2.4 2.4-2.4-2.4zM552.6 154.8l2.4 2.4-2.4 2.4-2.4-2.4zM551.7 154l2.4 2.4-2.4 2.4-2.4-2.4zM551.3 149l2.4 2.4-2.4 2.4-2.4-2.4zM585.7 150.5l2.4 2.4-2.4 2.4-2.4-2.4zM588.7 151.9l2.4 2.4-2.4 2.4-2.4-2.4zM591 152.8l2.4 2.4-2.4 2.4-2.4-2.4zM587.5 150.8l2.4 2.4-2.4 2.4-2.4-2.4zM438.3 152.4l2.4 2.4-2.4 2.4-2.4-2.4zM436.1 154.8l2.4 2.4-2.4 2.4-2.4-2.4zM441.9 153l2.4 2.4-2.4 2.4-2.4-2.4zM435.2 151.5l2.4 2.4-2.4 2.4-2.4-2.4zM527.6 154.8l2.4 2.4-2.4 2.4-2.4-2.4zM532.9 151.9l2.4 2.4-2.4 2.4-2.4-2.4zM532.1 152.4l2.4 2.4-2.4 2.4-2.4-2.4zM533.1 152.9l2.4 2.4-2.4 2.4-2.4-2.4zM638.8 154.8l2.4 2.4-2.4 2.4-2.4-2.4zM634.3 150.9l2.4 2.4-2.4 2.4-2.4-2.4zM637.2 153.8l2.4 2.4-2.4 2.4-2.4-2.4zM635 147.9l2.4 2.4-2.4 2.4-2.4-2.4zM640.2 154.8l2.4 2.4-2.4 2.4-2.4-2.4zM442.1 149l2.4 2.4-2.4 2.4-2.4-2.4zM442.3 153.7l2.4 2.4-2.4 2.4-2.4-2.4zM396.7 150.3l2.4 2.4-2.4 2.4-2.4-2.4zM394.5 147.6l2.4 2.4-2.4 2.4-2.4-2.4zM394 149.9l2.4 2.4-2.4 2.4-2.4-2.4zM393.1 154.8l2.4 2.4-2.4 2.4-2.4-2.4z" class="q" style="fill:#dae6f2;fill-opacity:0.85;stroke:#343c48;stroke-width:.55px;stroke-opacity:.8"/>
<path d="M385.3 154.5l2.4 2.4-2.4 2.4-2.4-2.4zM460.7 147l2.4 2.4-2.4 2.4-2.4-2.4zM352.5 154l2.4 2.4-2.4 2.4-2.4-2.4zM534.8 148.7l2.4 2.4-2.4 2.4-2.4-2.4zM474.5 154.6l2.4 2.4-2.4 2.4-2.4-2.4zM505.3 154.3l2.4 2.4-2.4 2.4-2.4-2.4zM357 154.5l2.4 2.4-2.4 2.4-2.4-2.4zM625.4 154.2l2.4 2.4-2.4 2.4-2.4-2.4zM481.8 148.1l2.4 2.4-2.4 2.4-2.4-2.4zM396.4 152.1l2.4 2.4-2.4 2.4-2.4-2.4zM580.8 150.5l2.4 2.4-2.4 2.4-2.4-2.4zM394.4 150.8l2.4 2.4-2.4 2.4-2.4-2.4zM643.4 148.1l2.4 2.4-2.4 2.4-2.4-2.4zM633.3 154.7l2.4 2.4-2.4 2.4-2.4-2.4zM352.1 151.1l2.4 2.4-2.4 2.4-2.4-2.4zM337.9 146.7l2.4 2.4-2.4 2.4-2.4-2.4zM424.9 150.7l2.4 2.4-2.4 2.4-2.4-2.4zM606.9 151.8l2.4 2.4-2.4 2.4-2.4-2.4zM572.1 153.9l2.4 2.4-2.4 2.4-2.4-2.4zM472.4 149l2.4 2.4-2.4 2.4-2.4-2.4zM479.6 153.7l2.4 2.4-2.4 2.4-2.4-2.4zM601.1 152.3l2.4 2.4-2.4 2.4-2.4-2.4zM617.8 152.7l2.4 2.4-2.4 2.4-2.4-2.4zM591.3 154.1l2.4 2.4-2.4 2.4-2.4-2.4zM543.9 146.8l2.4 2.4-2.4 2.4-2.4-2.4zM529.2 151.9l2.4 2.4-2.4 2.4-2.4-2.4zM639 146.7l2.4 2.4-2.4 2.4-2.4-2.4zM589.7 153.4l2.4 2.4-2.4 2.4-2.4-2.4zM361.8 150.1l2.4 2.4-2.4 2.4-2.4-2.4zM375.7 154.5l2.4 2.4-2.4 2.4-2.4-2.4zM506.7 146.9l2.4 2.4-2.4 2.4-2.4-2.4zM418.2 148.1l2.4 2.4-2.4 2.4-2.4-2.4zM632.8 146.9l2.4 2.4-2.4 2.4-2.4-2.4zM359.3 154l2.4 2.4-2.4 2.4-2.4-2.4zM631.1 146.7l2.4 2.4-2.4 2.4-2.4-2.4zM387.3 153.7l2.4 2.4-2.4 2.4-2.4-2.4zM555.5 154.3l2.4 2.4-2.4 2.4-2.4-2.4zM366.3 153.9l2.4 2.4-2.4 2.4-2.4-2.4zM513.8 152.2l2.4 2.4-2.4 2.4-2.4-2.4zM596 153.9l2.4 2.4-2.4 2.4-2.4-2.4zM613 148.4l2.4 2.4-2.4 2.4-2.4-2.4zM450.5 150.2l2.4 2.4-2.4 2.4-2.4-2.4zM544.5 154.1l2.4 2.4-2.4 2.4-2.4-2.4zM623.9 151.6l2.4 2.4-2.4 2.4-2.4-2.4zM494.1 147.8l2.4 2.4-2.4 2.4-2.4-2.4zM340.5 153.1l2.4 2.4-2.4 2.4-2.4-2.4zM343.6 148.9l2.4 2.4-2.4 2.4-2.4-2.4zM402 149.1l2.4 2.4-2.4 2.4-2.4-2.4zM557.2 146.4l2.4 2.4-2.4 2.4-2.4-2.4zM390.1 151.9l2.4 2.4-2.4 2.4-2.4-2.4zM579.1 151.6l2.4 2.4-2.4 2.4-2.4-2.4zM388.7 149.5l2.4 2.4-2.4 2.4-2.4-2.4zM581.1 151.6l2.4 2.4-2.4 2.4-2.4-2.4zM452.7 154.1l2.4 2.4-2.4 2.4-2.4-2.4zM460.2 147.9l2.4 2.4-2.4 2.4-2.4-2.4zM444.3 146.8l2.4 2.4-2.4 2.4-2.4-2.4zM445.3 151.3l2.4 2.4-2.4 2.4-2.4-2.4zM576.3 147.2l2.4 2.4-2.4 2.4-2.4-2.4zM596.7 151.8l2.4 2.4-2.4 2.4-2.4-2.4zM474.4 154.1l2.4 2.4-2.4 2.4-2.4-2.4zM501.4 148.1l2.4 2.4-2.4 2.4-2.4-2.4zM393.3 152.7l2.4 2.4-2.4 2.4-2.4-2.4zM354.4 151.5l2.4 2.4-2.4 2.4-2.4-2.4zM483.5 146.4l2.4 2.4-2.4 2.4-2.4-2.4zM542.4 147.2l2.4 2.4-2.4 2.4-2.4-2.4zM396.3 151.7l2.4 2.4-2.4 2.4-2.4-2.4zM552.4 154.4l2.4 2.4-2.4 2.4-2.4-2.4zM511.6 150l2.4 2.4-2.4 2.4-2.4-2.4zM342.4 153.5l2.4 2.4-2.4 2.4-2.4-2.4zM577.9 153.8l2.4 2.4-2.4 2.4-2.4-2.4z" class="q" style="fill:#dae6f2;fill-opacity:0.85;stroke:#4a5664"/>
<path d="M493.2 132.1l2.4 2.4-2.4 2.4-2.4-2.4zM489.2 135.1l2.4 2.4-2.4 2.4-2.4-2.4zM485.4 129.6l2.4 2.4-2.4 2.4-2.4-2.4zM483.3 126.9l2.4 2.4-2.4 2.4-2.4-2.4zM487.4 129.9l2.4 2.4-2.4 2.4-2.4-2.4zM494.7 131.3l2.4 2.4-2.4 2.4-2.4-2.4zM494.6 133.4l2.4 2.4-2.4 2.4-2.4-2.4zM521.2 126.4l2.4 2.4-2.4 2.4-2.4-2.4zM522.7 130.5l2.4 2.4-2.4 2.4-2.4-2.4zM506.5 134l2.4 2.4-2.4 2.4-2.4-2.4zM549.1 113.1l2.4 2.4-2.4 2.4-2.4-2.4zM551.1 124.9l2.4 2.4-2.4 2.4-2.4-2.4zM545.8 119.9l2.4 2.4-2.4 2.4-2.4-2.4z" class="q" style="fill:#a8cc3c;fill-opacity:0.95;stroke:#7a8a40"/>
<path d="M502.3 128.3l2.4 2.4-2.4 2.4-2.4-2.4zM518.5 130.5l2.4 2.4-2.4 2.4-2.4-2.4zM507 132.6l2.4 2.4-2.4 2.4-2.4-2.4zM492.1 133.9l2.4 2.4-2.4 2.4-2.4-2.4zM515.2 130.4l2.4 2.4-2.4 2.4-2.4-2.4zM508.4 130.1l2.4 2.4-2.4 2.4-2.4-2.4zM517.3 129l2.4 2.4-2.4 2.4-2.4-2.4zM506.7 129.8l2.4 2.4-2.4 2.4-2.4-2.4zM490.3 126.4l2.4 2.4-2.4 2.4-2.4-2.4zM484.2 129.9l2.4 2.4-2.4 2.4-2.4-2.4zM510.2 132.1l2.4 2.4-2.4 2.4-2.4-2.4zM545 126.5l2.4 2.4-2.4 2.4-2.4-2.4zM548.4 115.3l2.4 2.4-2.4 2.4-2.4-2.4z" class="q" style="fill:#8cc04a;fill-opacity:0.95;stroke:#7a8a40"/>
<path d="M506.9 132l2.4 2.4-2.4 2.4-2.4-2.4zM513.7 129.5l2.4 2.4-2.4 2.4-2.4-2.4zM488 127l2.4 2.4-2.4 2.4-2.4-2.4zM492.2 134.8l2.4 2.4-2.4 2.4-2.4-2.4zM520.3 131.4l2.4 2.4-2.4 2.4-2.4-2.4zM521.5 131.9l2.4 2.4-2.4 2.4-2.4-2.4zM489.5 130l2.4 2.4-2.4 2.4-2.4-2.4zM505.8 135.1l2.4 2.4-2.4 2.4-2.4-2.4zM488.9 134.4l2.4 2.4-2.4 2.4-2.4-2.4zM490.9 128.5l2.4 2.4-2.4 2.4-2.4-2.4zM507.2 127.4l2.4 2.4-2.4 2.4-2.4-2.4zM505 129.1l2.4 2.4-2.4 2.4-2.4-2.4zM547.6 107.7l2.4 2.4-2.4 2.4-2.4-2.4zM544 117l2.4 2.4-2.4 2.4-2.4-2.4z" class="q" style="fill:#9cc83c;fill-opacity:0.95;stroke:#7a8a40"/>
<path d="M500.7 129.8l2.4 2.4-2.4 2.4-2.4-2.4zM508.5 130.8l2.4 2.4-2.4 2.4-2.4-2.4zM497.2 129.1l2.4 2.4-2.4 2.4-2.4-2.4zM508.8 130.8l2.4 2.4-2.4 2.4-2.4-2.4zM491.2 128l2.4 2.4-2.4 2.4-2.4-2.4zM510.4 126.2l2.4 2.4-2.4 2.4-2.4-2.4zM507.7 129.8l2.4 2.4-2.4 2.4-2.4-2.4zM494.6 129.7l2.4 2.4-2.4 2.4-2.4-2.4zM500.2 132.3l2.4 2.4-2.4 2.4-2.4-2.4z" class="q" style="fill:#b4d03a;fill-opacity:0.95;stroke:#7a8a40"/>
<path d="M508.7 123l2.4 2.4-2.4 2.4-2.4-2.4zM536.4 122.5l2.4 2.4-2.4 2.4-2.4-2.4zM517.4 130l2.4 2.4-2.4 2.4-2.4-2.4zM526.1 125.7l2.4 2.4-2.4 2.4-2.4-2.4zM534.1 124.6l2.4 2.4-2.4 2.4-2.4-2.4zM534.5 127.5l2.4 2.4-2.4 2.4-2.4-2.4zM536.5 123.4l2.4 2.4-2.4 2.4-2.4-2.4z" class="q" style="fill:#e8d828;fill-opacity:0.95;stroke:#8a8a40"/>
<path d="M531.8 122.5l2.4 2.4-2.4 2.4-2.4-2.4zM522.3 128.7l2.4 2.4-2.4 2.4-2.4-2.4zM513.5 125.8l2.4 2.4-2.4 2.4-2.4-2.4zM528.8 122.3l2.4 2.4-2.4 2.4-2.4-2.4zM532.3 123.9l2.4 2.4-2.4 2.4-2.4-2.4zM509.6 124.1l2.4 2.4-2.4 2.4-2.4-2.4zM511 125.4l2.4 2.4-2.4 2.4-2.4-2.4zM528.5 122.7l2.4 2.4-2.4 2.4-2.4-2.4zM523 125.8l2.4 2.4-2.4 2.4-2.4-2.4zM507.3 128.5l2.4 2.4-2.4 2.4-2.4-2.4z" class="q" style="fill:#c8d632;fill-opacity:0.95;stroke:#8a8a40"/>
<path d="M507 124.6l2.4 2.4-2.4 2.4-2.4-2.4zM524.9 125.8l2.4 2.4-2.4 2.4-2.4-2.4zM536.3 131l2.4 2.4-2.4 2.4-2.4-2.4zM526.7 127.7l2.4 2.4-2.4 2.4-2.4-2.4z" class="q" style="fill:#e0dc28;fill-opacity:0.95;stroke:#8a8a40"/>
<path d="M527.5 121.4l2.4 2.4-2.4 2.4-2.4-2.4zM509 126.3l2.4 2.4-2.4 2.4-2.4-2.4zM534.8 121.6l2.4 2.4-2.4 2.4-2.4-2.4zM523.3 124.8l2.4 2.4-2.4 2.4-2.4-2.4zM516.7 124.8l2.4 2.4-2.4 2.4-2.4-2.4zM530 123.3l2.4 2.4-2.4 2.4-2.4-2.4zM511.4 127l2.4 2.4-2.4 2.4-2.4-2.4zM515.8 125.5l2.4 2.4-2.4 2.4-2.4-2.4zM508.9 124.8l2.4 2.4-2.4 2.4-2.4-2.4zM530.7 127.8l2.4 2.4-2.4 2.4-2.4-2.4zM527.3 117.4l2.4 2.4-2.4 2.4-2.4-2.4z" class="q" style="fill:#d8d830;fill-opacity:0.95;stroke:#8a8a40"/>
<path d="M551.8 115.7l2.4 2.4-2.4 2.4-2.4-2.4zM547.5 110.9l2.4 2.4-2.4 2.4-2.4-2.4zM543.4 106.9l2.4 2.4-2.4 2.4-2.4-2.4zM542.3 114.3l2.4 2.4-2.4 2.4-2.4-2.4z" class="q" style="fill:#c8d632;fill-opacity:0.95;stroke:#7a8a40"/>
<path d="M546.9 123.6l2.4 2.4-2.4 2.4-2.4-2.4z" class="q" style="fill:#e0dc28;fill-opacity:0.95;stroke:#7a8a40"/>
<path d="M543.3 115.2l2.4 2.4-2.4 2.4-2.4-2.4zM545.7 116.6l2.4 2.4-2.4 2.4-2.4-2.4z" class="q" style="fill:#e8d828;fill-opacity:0.95;stroke:#7a8a40"/>
<path d="M482.9 129.4l2.4 2.4-2.4 2.4-2.4-2.4zM490.4 124.8l2.4 2.4-2.4 2.4-2.4-2.4zM518.6 126.5l2.4 2.4-2.4 2.4-2.4-2.4z" class="q" style="fill:#d42a2a;fill-opacity:1;stroke:#6a6a40"/>
<path d="M533 122.3l2.4 2.4-2.4 2.4-2.4-2.4z" class="q" style="fill:#e8781e;fill-opacity:1;stroke:#6a6a40"/>
<path d="M521 129.6l2.4 2.4-2.4 2.4-2.4-2.4zM475 149.5l2.4 2.4-2.4 2.4-2.4-2.4z" class="q" style="fill:#e8901e;fill-opacity:1;stroke:#6a6a40"/>
<path d="M527 124.6l2.4 2.4-2.4 2.4-2.4-2.4z" class="q" style="fill:#f0b020;fill-opacity:1;stroke:#6a6a40"/>
<path d="M410 124.3l2.4 2.4-2.4 2.4-2.4-2.4z" class="q" style="fill:#e07a20;fill-opacity:1;stroke:#6a6a40"/>
<path d="M417.5 124.3l2.4 2.4-2.4 2.4-2.4-2.4z" class="q" style="fill:#d8d42a;fill-opacity:1;stroke:#6a6a40"/>
<path d="M399.4 129.6l2.4 2.4-2.4 2.4-2.4-2.4z" class="q" style="fill:#c8d03a;fill-opacity:1;stroke:#6a6a40"/>
<path d="M438.4 131l2.4 2.4-2.4 2.4-2.4-2.4zM466.4 139.2l2.4 2.4-2.4 2.4-2.4-2.4zM473.7 144.2l2.4 2.4-2.4 2.4-2.4-2.4z" class="q" style="fill:#8cc04a;fill-opacity:1;stroke:#6a6a40"/>
<path d="M445.3 143.4l2.4 2.4-2.4 2.4-2.4-2.4z" class="q" style="fill:#e0d42a;fill-opacity:1;stroke:#6a6a40"/>
<text x="327.80" y="166.90" font-size="4.9" text-anchor="start" font-weight="normal" fill="#000">13.4</text>
<text x="330.00" y="195.80" font-size="4.9" text-anchor="start" font-weight="normal" fill="#000">0</text>
<line x1="334.00" y1="193.10" x2="645.00" y2="193.10" stroke="#9aa8b8" stroke-width="0.6" stroke-dasharray="0.8 0.8"/>
<path d="M390.6 192h0M343.3 191h0M634.3 187h0M620.3 185.8h0M582 192.1h0M583.9 185.4h0M642.7 191.9h0M601.4 190.7h0M444.2 187.2h0M406.9 186h0M361.8 188.4h0M412.1 191.6h0M338 191.6h0M535.4 187.6h0M340.2 190.7h0M584.5 187.1h0M577.7 187.7h0M585.8 189.1h0M553.2 190.1h0M404.3 191.9h0M541.6 192.1h0M453.1 192.1h0M603 190.6h0M570 185.4h0M597.5 190h0M604.1 192.1h0M610.5 192h0M450 187.8h0M373.8 192h0M621.4 187.1h0M347.5 190.7h0M367.4 187.9h0M560 190.2h0M630.3 191.5h0M440.8 191.3h0M448.9 185.3h0M604.3 192.1h0M498.9 191.7h0M458.1 191.5h0M563.1 190.6h0M620.5 187.5h0M372.7 189.3h0M557.5 183.9h0M485.5 191.8h0M461.3 187.9h0M622.7 191.2h0M377.5 188h0M470.9 189.2h0M491.4 192.1h0M487.1 190.1h0M608.7 192.1h0M513.6 192.1h0M401.9 192.1h0M531.1 191.6h0M372.1 190.1h0M507.5 189.5h0M343.3 184.8h0M353.9 189.4h0M402.5 190.1h0M618 189.5h0M606.5 191.8h0M554 191.4h0M616.9 188.8h0M500.2 192h0M353.5 183.5h0M438.4 187.2h0M473.8 192.1h0M373 184.7h0M487.7 185.6h0M458.9 186.9h0M440.7 185.3h0M430.3 186.6h0M442.7 185.1h0M506.2 184.9h0M504.5 186.4h0M558.9 188.2h0M607.1 184.4h0M473.9 190.7h0M605.5 191h0M515.5 188h0M519.9 191.7h0M513.6 189.2h0M474 186.7h0M449.3 187.6h0M609.9 190.3h0M359.6 191h0M601.1 186.3h0M619.5 192.1h0M441 191.3h0M367.1 191.1h0M503.3 191.4h0M480.7 190.9h0M353 191.9h0M368.4 190.2h0M416.9 192.1h0M381.2 187.4h0M367.2 185.7h0M366 191.3h0M529.8 191.4h0M351.8 190.9h0M399.6 187.4h0M495.9 187.7h0M582.4 185.1h0M610.7 191.3h0M521 189.2h0M634.6 184.3h0M614.5 192.1h0M494.3 184.4h0M346.2 191.8h0M385.6 191.3h0M601.2 183.9h0M510.9 192.1h0M460.4 191.9h0M505.1 192.1h0M632.6 185.7h0M550.6 190.8h0M398 190.5h0M537.8 191.4h0M504.5 187.9h0M543.3 189.8h0" fill="none" stroke="#bcd2ea" stroke-width="2.5" stroke-linecap="round" stroke-opacity="0.8"/>
<path d="M639.6 185.7h0M361.8 184.5h0M362.4 192.1h0M633.8 189.1h0M429.2 192h0M381.7 185.9h0M607.5 191.8h0M423.4 190.5h0M340.2 188.8h0M370.5 192.1h0M436.5 191.2h0M377 184.5h0M639.5 191.7h0M509 191.9h0M349.7 184h0M534.4 191.9h0M531.6 192.1h0M592.9 190h0M408.5 185.9h0M592.2 187.1h0M526.8 187.4h0M558.2 188.3h0M544.2 191.1h0M440.5 186.5h0M428.2 191.8h0M516.5 191.6h0M428.1 188.2h0M600.6 188.4h0M463.9 183.2h0M346.7 187.2h0M518.9 191.9h0M424.2 185.4h0M569 185.7h0M462.6 191.3h0M479.5 191.2h0M500.9 191h0M571.1 191.6h0M499 191.6h0M473.5 191.9h0M423.7 191.4h0M637.6 192.1h0M590.3 183.4h0M589.7 192h0M395.1 191.7h0M555 188h0M375.9 191.9h0M560.8 189h0M431 191.9h0M614.3 189.9h0M595.2 185.2h0M471.1 192h0M467.3 185.8h0M358 186.5h0M633.1 192h0M509.9 183.8h0M395.5 190.4h0M533.7 187.7h0M416 186.8h0M542.2 186.5h0M438.9 192h0M352.3 184.2h0M443.3 191.6h0M410.2 186.6h0M613.5 191.4h0M574.5 183.8h0M510.3 191.9h0M419.4 192h0M488.3 187.2h0M637.7 190.7h0M643.5 189.2h0M461.8 186.9h0M454 183.5h0M453.9 191.8h0M561.7 187.1h0M434.3 189h0M343.6 186.9h0M428.9 186.2h0M380.4 186.7h0M379.3 191.8h0M533.2 191.8h0M568.1 185.7h0M461.2 188h0M564.4 185h0M433.9 189.3h0M596.2 188h0M455.5 189h0M605.9 189.7h0M519.8 192.1h0M360.5 191.2h0M511.6 190.3h0M358.9 187.8h0M363 192h0M588.3 192.1h0M435.9 191.4h0M584.1 183.8h0M375.8 190.5h0M368.3 185.4h0M602.9 190.6h0M502.3 189.4h0M454.7 192h0M632.2 184.3h0M389.3 186.6h0M380.8 184.9h0M547.5 191.1h0M436 192h0M414.2 187h0M388.3 187h0M505.5 189.1h0M365.9 185.7h0M408.4 191.1h0M640.8 183.9h0M340.8 190.8h0M503.1 186.3h0M640.9 189.2h0M417.8 189h0M486.1 186.2h0M566.7 190.1h0M390.8 191.8h0M509.7 190.1h0M578.5 184.4h0" fill="none" stroke="#bcd2ea" stroke-width="2.5" stroke-linecap="round" stroke-opacity="0.8"/>
<path d="M361.9 185.7h0M592.7 188.9h0M563.4 192.1h0M462.2 192h0M422.5 191.6h0M425.8 190.8h0M476.9 189.1h0M515.4 186.3h0M467.1 191.2h0M595.9 187.5h0M440.5 192.1h0M542.3 186.2h0M500.4 192h0M490.9 189.5h0M634.1 191.4h0M623.1 191h0M495.7 190.9h0M581.8 190.9h0M427.7 184h0M503.8 189.1h0M393.6 192h0M507.9 191.7h0M478.7 189.2h0M405.8 191.8h0M338 183.5h0M631.4 191.5h0M529.8 186.9h0M634.2 188.3h0M434.1 187.8h0M347.4 185.5h0M521.1 185.9h0M481.8 191h0M450.3 191.4h0M351.6 186.1h0M539.2 190.4h0M469 190.7h0M448.1 188.9h0M607.1 187.5h0M503.6 187h0M529.4 191.7h0M423.9 191.9h0M472.4 192.1h0M396.4 183.2h0M635 192.1h0M445.7 192.1h0M629.3 191.9h0M351 191.4h0M345.5 192h0M594.5 190.9h0M568.1 187.9h0M369.2 188.6h0M477.8 186h0M409.9 191.9h0M418.3 189.3h0M562.6 191.2h0M359.3 184.2h0M515 184.2h0M502.8 191.4h0M348 188.5h0M438.3 191.4h0M575.4 189.9h0M556.3 192.1h0M563.7 191.8h0M354.9 191.5h0M626.2 188.8h0M498.2 189.5h0M615.6 190.7h0M419.7 192.1h0M435.7 192.1h0M529.3 191.9h0M580.1 184.3h0M371.3 191.7h0M570.3 184.3h0M483.2 191.8h0M424.6 191.8h0M593.3 191.3h0M423.3 190.2h0M505.5 191.5h0M454.6 191.3h0M442.6 185.2h0M464.2 192h0M364.5 191.8h0M335.6 191.6h0M354.3 192.1h0M493.3 191.4h0M629.7 190.7h0M574.8 190.5h0M491.6 183.5h0M598 191h0M493.3 188.8h0M420 185.6h0M374.7 183.1h0M376.8 186h0M540.4 187.1h0M461.1 192.1h0M531 192.1h0M567 191.7h0M412.1 191.6h0M389.7 191.8h0M571.3 189.9h0M613.6 192.1h0M556.6 191.3h0M422.4 185.4h0M477.1 191.2h0M395.1 190.4h0M587.5 191.9h0M397.4 187.9h0M609.3 190.1h0M383.3 192.1h0M507.8 187.2h0M413.5 191.6h0M477.4 192h0M449.7 188.8h0M375.6 185.6h0M597.4 185.7h0M345.7 191.9h0M585.7 192.1h0M384.8 185.5h0M639.8 191.7h0M638 185.7h0" fill="none" stroke="#bcd2ea" stroke-width="2.5" stroke-linecap="round" stroke-opacity="0.8"/>
<path d="M540.1 192.1h0M605.8 188.5h0M643.8 192h0M462.5 191.4h0M564.4 192.1h0M628.1 187.1h0M454.7 189.8h0M575.4 192h0M336.8 191.2h0M427.2 191.3h0M616.2 188.1h0M528.2 188.5h0M380.7 191.8h0M604.6 191.6h0M599 189.6h0M551.8 189.2h0M394.8 191.1h0M620.3 184.3h0M354.2 190.8h0M350 192.1h0M645 192.1h0M388.7 188.9h0M578.2 187.5h0M364.2 189.2h0M346.7 188.9h0M376.3 191.4h0M603.3 187.9h0M641.5 190h0M517.7 189.2h0M465.4 189h0M461.6 192h0M451.8 191.6h0M518 192.1h0M455.4 191.2h0M593.5 191.8h0M559.7 190.1h0M561 191.6h0M636.7 191.5h0M595.2 191.8h0M397.9 185.2h0M522.2 192.1h0M595.3 189.7h0M524.9 192.1h0M583.6 186.8h0M611.2 188.5h0M537.9 192.1h0M410.9 190.3h0M590.2 190.1h0M577 187.6h0M359.5 187.2h0M355 192.1h0M364.9 189.9h0M609.8 188.9h0M518.4 191.8h0M534.3 190.1h0M534.5 190.8h0M436.3 190.4h0M484.2 187.5h0M570.6 186.4h0M432.2 190.8h0M389.8 190.6h0M416.4 190.7h0M481.3 191.1h0M377.6 183.4h0M635.2 189.9h0M599.2 191.7h0M531.7 188.4h0M521.6 185.1h0M392.8 186.1h0M444.7 188.7h0M519.3 192.1h0M561.7 191.7h0M467.6 188.9h0M446.8 184.7h0M405.5 192.1h0M378.8 183.7h0M528 189.9h0M614.3 188.7h0M335.7 190.8h0M421.4 187.8h0M411.7 185.2h0M364.9 192.1h0M350.7 192.1h0M603.3 189.7h0M477.3 183.6h0M360.1 191.8h0M341.5 191.3h0M488.3 191.5h0M549.9 184h0M439.6 186.1h0M603 190.7h0M438.2 189.6h0M444.5 189.3h0M422.9 192h0M517.4 188.9h0M444.1 191.3h0M486.9 185.4h0M348.4 186.5h0M456.4 185.3h0M607.6 192.1h0M360.5 191.1h0M503.3 189.4h0M442 185h0M366.7 187.3h0M490.2 191.3h0M485.6 183.7h0M574.9 192.1h0M481.2 187.6h0M561 191.8h0M573.5 192.1h0M596.9 188.3h0M576.9 191.9h0M620.2 190.9h0M524 189.8h0M631.2 192h0M339 191.8h0M607.5 192.1h0M528.2 192.1h0M436 192.1h0M557.1 192h0" fill="none" stroke="#bcd2ea" stroke-width="2.5" stroke-linecap="round" stroke-opacity="0.8"/>
<path d="M499.5 187.2h0M611.9 186.4h0M513.3 186.2h0M367.1 186.2h0M469.8 191.5h0M529.4 190h0M590.9 190.6h0M346.9 188.2h0M353.5 191.9h0M367.3 185.9h0M522 188.5h0M445 191.5h0M475.8 191.2h0M627.2 191.9h0M573.5 189.5h0M464.1 191.9h0M359.7 183.5h0M436.9 191.4h0M550.9 190.7h0M356.8 185.7h0M447.2 188.5h0M463.2 190.3h0M600 190.6h0M415.6 185.2h0M478.3 189.9h0M607.7 191.9h0M636 192h0M593.4 191.2h0M497.9 183.8h0M363.3 192.1h0M400.2 191.3h0M462.4 192.1h0M377.1 189.6h0M587.4 191h0M402.6 191.3h0M402.3 192.1h0M339.9 191.9h0M624.1 183.6h0M397.6 189.9h0M636.3 191.7h0M572.7 192h0M542.5 185.2h0M449.5 183.7h0M580.7 189.8h0M413 192.1h0M506.5 192.1h0M559.8 192h0M430.4 186.6h0M358.9 187h0M474.3 187.5h0M484.9 192.1h0M496.3 184.4h0M334.2 189.5h0M448.9 191.6h0M590.3 187.2h0M447.7 187.1h0M622 191.2h0M340.4 191.1h0M420.5 186.2h0M597.9 183.8h0M486.2 185.3h0M340.9 191.8h0M596.7 191.8h0M610.1 190h0M483.7 192.1h0M644 192.1h0M473.4 189.7h0M574.5 187.8h0M571.3 191h0M641.7 191.2h0M526.8 188.4h0M517.5 185.8h0M353.9 188.6h0M368.9 188.9h0M514.3 191.2h0M608.6 189h0M622.9 191.8h0M504 191.5h0M373.9 192.1h0M608.2 191.8h0M473.5 191.9h0M584.4 191.9h0M644.7 191.4h0M449.4 184.7h0M400.6 190.3h0M415.3 184.6h0M386.1 188.4h0M352.3 191.9h0M362.5 192h0M561.9 185.3h0M344.5 188.1h0M335.2 184.3h0M437.2 192.1h0M496.7 186.3h0M534.3 192.1h0M552.9 191.6h0M504.1 191.2h0M523.9 190.6h0M418.2 190.3h0M389.8 191.8h0M507.4 191.1h0M356.7 192h0M381.9 189.8h0M377.1 191.8h0M455.7 192.1h0M443.7 185.6h0M566.6 190.7h0M356.6 191.7h0M517.9 191.5h0M342.2 185h0M424.8 183.6h0M352.5 192h0M404.3 185.7h0M619.5 186.7h0M595.4 192.1h0M573.9 186.7h0M452.2 191.5h0M367.6 187h0M515.7 185.2h0M604.5 191.8h0" fill="none" stroke="#bcd2ea" stroke-width="2.5" stroke-linecap="round" stroke-opacity="0.8"/>
<path d="M396.2 187.4h0M397.2 184.8h0M516.3 190.4h0M451 188.8h0M544.3 192.1h0M339.8 192.1h0M556.4 192h0M621.7 185.5h0M479.1 187.5h0M336 191.5h0M634.1 192.1h0M555.2 186h0M603.7 192.1h0M558 192.1h0M540.9 188.9h0M465.7 192h0M585.9 191.2h0M437.5 191.8h0M601.4 192.1h0M556 187.8h0M448.8 191.6h0M357 190.7h0M457.4 184.9h0M347.7 191.5h0M381.6 192h0M496.6 187.1h0M538.2 191.7h0M574.1 190.5h0M604.7 184.7h0M371.6 190.3h0M591 191.9h0M601.8 189.4h0M633.5 192h0M338.2 184.7h0M616.5 191.8h0M591.1 190.6h0M533.2 192.1h0M614 186.6h0M448.7 187.4h0M365 185.1h0M338.1 187.1h0M522.7 183.1h0M544.3 190.6h0M621.4 186.1h0M566.4 186.6h0M635.7 190h0M451.2 192.1h0M617.6 185.6h0M582.5 190.8h0M596.8 186h0M558.5 190.5h0M631.6 191.6h0M427.7 190.3h0M485.3 191.3h0M497 192.1h0M436.5 186h0M422.8 186.2h0M365.5 187.7h0M595 192.1h0M538.7 187.8h0M410.7 190.6h0M534.3 187.3h0M549.4 191.4h0M479.3 192h0M449.5 189.5h0M486.5 191.3h0M335.9 183.9h0M443 191h0M582.3 190.7h0M600.9 186.5h0M642.7 192.1h0M408.3 188.8h0M409.7 192.1h0M388.9 185.4h0M449.4 185.7h0M604.2 191.4h0M494.1 190.5h0M448.4 190.8h0M546.3 186.6h0M588.7 191.1h0M505.2 191.7h0M527.3 184.9h0M637.4 189.9h0M644.2 186.6h0M398 184.3h0M448.2 192.1h0M435.7 189.4h0M399.8 189.1h0M392.6 186.1h0M455.7 189.4h0M565.2 192.1h0M389 191.6h0M484.9 189.5h0M599 189.2h0M424.7 184.7h0M569.3 192.1h0M577.8 184.1h0M371.7 184.9h0M547.5 190.4h0M601.6 189.3h0M351.8 192h0M544.6 188.6h0M603.8 187h0M607.9 190.9h0M435.1 191.3h0M521.2 192.1h0M625.4 188.3h0M365.8 192.1h0M473.1 190.7h0M434.5 192h0M418.4 191.7h0M578.4 190.9h0M404.2 190.1h0M605.4 192h0M604.8 192.1h0M496.7 184h0M555.4 191.5h0M402.9 191.8h0M541.3 191.9h0M590.3 190.2h0" fill="none" stroke="#bcd2ea" stroke-width="2.5" stroke-linecap="round" stroke-opacity="0.8"/>
<path d="M387.5 191.5h0M343.2 189.6h0M344.3 192.1h0M464.7 192.1h0M365.7 192.1h0M348 192.1h0M489.7 184.7h0M565.3 192h0M473.2 191h0M579.4 192.1h0M575.6 191.7h0M383.7 192.1h0M562.3 189h0M459.6 188.3h0M612.4 191.9h0M642.1 189.5h0M560.5 192.1h0M366.2 191.2h0M560 191.7h0M334.7 189.7h0M443.5 191.7h0M554.2 190.6h0M392.7 191.1h0M537.4 187.1h0M527.8 191.4h0M612.4 189.3h0M452.5 190.8h0M604 190.3h0M473.8 192.1h0M336.6 191.5h0M563.5 191.5h0M630.9 190.5h0M356.4 188.5h0M418.8 190.9h0M356.7 184.3h0M449.4 188h0M553.1 186.5h0M464.5 188.3h0M602.4 192.1h0M414.6 190h0M571.1 191.1h0M342.6 188.4h0M640.7 190.9h0M424.5 190.2h0M619.8 188.4h0M416.7 183.3h0M548.1 192.1h0M635.4 184.5h0M356.7 191.8h0M350.1 186h0M439 188.5h0M438.6 191h0M464.1 184h0M413 191.7h0M343 190.3h0M404.3 183.2h0M632.7 186h0M338.9 191.7h0M338.7 192.1h0M517.2 191.7h0M424.5 189.6h0M378.4 187.5h0M593.9 186.3h0M534 184.2h0M395.4 189.2h0M541.4 191.1h0M365.7 184.8h0M594.7 188.4h0M347.4 185.7h0M544.6 188.9h0M404 186.8h0M566.8 188.4h0M369.8 184.1h0M416.7 188.8h0M526.4 190.7h0M552.8 191.9h0M455.8 191.9h0M336.6 191.9h0M503.8 183.3h0M618.9 187.3h0M491.7 190.8h0M489.3 191.7h0M405.9 186.7h0M576.2 192.1h0M478.3 192.1h0M412.1 192h0M553.3 191.9h0M445.7 190.9h0M634.6 192.1h0M361.7 190h0M376.6 190.9h0M482.1 188.7h0M378 184.8h0M563.1 188.2h0M452.7 187.9h0M511.6 183.7h0M619.8 189.5h0M603.5 183.4h0M468.8 192h0M591.3 192h0M365.1 184.7h0M443.5 191.4h0M550.8 191.2h0M497.4 188.2h0M555.7 191.7h0M511.6 192h0M511.2 186.7h0M618.5 188.5h0M395.6 191.8h0M450 191.2h0M338.8 192.1h0M382.6 190.5h0M450.9 191.3h0M522.9 190h0M615 191.3h0M439.1 191h0M563.6 187.6h0M348 190.8h0M447.7 192h0M335.1 187.5h0" fill="none" stroke="#bcd2ea" stroke-width="2.5" stroke-linecap="round" stroke-opacity="0.8"/>
<path d="M444.4 188.5h0M603.5 192.1h0M378.1 188.4h0M501.3 191.9h0M379.2 184.4h0M586.6 191.6h0M483.5 190.9h0M507.3 192.1h0M475.4 187.8h0M627 191.5h0M475.2 187.1h0M494.9 191.3h0M354.9 186h0M426.8 190.5h0M521.7 186h0M436.5 191.7h0M614.3 192.1h0M489.8 188.6h0M599 191.2h0M611.4 191.9h0M406.8 185.3h0M514.9 185h0M454 188.3h0M430.2 191.4h0M446.4 188.6h0M377.1 190.9h0M635.9 191.6h0M606.9 187.9h0M554.8 192h0M405 188.4h0M557.7 186.3h0M389.6 192h0M617 191.2h0M474.1 192.1h0M436.5 191.1h0M408 192.1h0M420.5 188.4h0M476.6 185.4h0M572.3 192.1h0M576.7 189.6h0M343.2 190.3h0M435.4 187.3h0M564.7 184h0M539.3 192.1h0M362.8 188.4h0M582.2 191.6h0M567.6 190.3h0M560.2 190.2h0M490.4 191h0M491.4 188.4h0M601.4 185.3h0M547.5 192h0M516.6 186.8h0M497.5 191.3h0M521.6 186.8h0M478.3 191.4h0M584.3 191.5h0M335.2 191.2h0M435.9 191.8h0M599.4 187.1h0M355.9 181.7h0M446.5 173.6h0M453.2 177.1h0M408.1 172.8h0M477.7 175.5h0M377 173.9h0M353.5 176.9h0M405.4 173.7h0M350.4 179.9h0M473.2 174.4h0M479.9 181.8h0M366.5 175.1h0" fill="none" stroke="#bcd2ea" stroke-width="2.5" stroke-linecap="round" stroke-opacity="0.8"/>
<path d="M487.4 181.5h0M527.1 178h0M508.9 178.3h0M487.7 178.1h0M527.9 176.2h0M495.7 178.7h0M493 177h0M486.2 178.7h0M499.7 177.2h0M508.5 175.8h0M491.2 176.7h0M487.2 178.2h0M549 176.7h0M493.7 179.8h0M486.9 179.2h0M517.9 177.2h0M524.2 177.8h0M536.7 178.5h0M509.1 178.9h0M536.7 175h0M518.6 178.3h0M549.7 178.6h0" fill="none" stroke="#d8d830" stroke-width="2.6" stroke-linecap="round" stroke-opacity="0.95"/>
<path d="M508.8 178.4h0M498 176h0M548 177.1h0M498.6 176.9h0M484.8 176.9h0M485.4 180.6h0M502.5 177h0M515.5 176.8h0M508.1 179.8h0M534 177.6h0M527.7 176.7h0M486.2 180.9h0M540.1 177h0M494.6 178.6h0M490.6 179.9h0M510.9 175.6h0M543.1 178.6h0M501.3 179.1h0M516.7 180.9h0M532.7 177.2h0M542.5 179.6h0M493.3 176.7h0M551.9 175.8h0M530.7 178.8h0M504.9 179h0M538 178.8h0M543.1 178.9h0" fill="none" stroke="#e0d830" stroke-width="2.6" stroke-linecap="round" stroke-opacity="0.95"/>
<path d="M507.3 179.1h0M497.4 176.9h0M526 180.4h0M532.9 177.6h0M488.1 177.9h0M518.7 176.9h0M483.6 177.5h0M499.7 180.1h0M544.9 177.4h0M544.5 176.6h0M498.4 178.3h0M511.1 176.7h0M513.1 176.4h0M486.7 180.7h0M551.6 175.4h0M507.5 177.6h0M487.9 178.6h0M506.8 179.8h0M540 175.9h0M515.9 179.3h0" fill="none" stroke="#b4cc48" stroke-width="2.6" stroke-linecap="round" stroke-opacity="0.95"/>
<path d="M505.6 177.9h0M521.9 174.6h0M497.3 178h0M518.3 179.1h0M534.8 177.5h0M497 176h0M517.7 177.6h0M540.6 176.2h0M490 178.3h0M493.8 177.5h0M504 178.2h0M487.6 179.8h0M493 180.1h0M502.7 177h0M524.6 179.8h0M484.9 177.5h0M498.5 178.3h0M539.3 175.5h0M546.4 177.2h0M495.8 176.1h0M542.5 176.1h0" fill="none" stroke="#c8d640" stroke-width="2.6" stroke-linecap="round" stroke-opacity="0.95"/>
<path d="M399.1 165.3h0M532 176h0" fill="none" stroke="#e0d42a" stroke-width="2.6" stroke-linecap="round"/>
<path d="M410 165.3h0M535 174h0" fill="none" stroke="#d08020" stroke-width="2.6" stroke-linecap="round"/>
<path d="M438.5 170.3h0M474 167.3h0M543 171h0" fill="none" stroke="#a8c040" stroke-width="2.6" stroke-linecap="round"/>
<path d="M483 166.8h0M517.4 164h0" fill="none" stroke="#d42a2a" stroke-width="2.6" stroke-linecap="round"/>
<path d="M387.7 168h0M387.7 170.5h0" fill="none" stroke="#c4c4e4" stroke-width="2.6" stroke-linecap="round"/>
<text x="339.60" y="201.60" font-size="4.7" text-anchor="middle" font-weight="normal" fill="#000">TMEM163</text>
<line x1="333.50" y1="195.90" x2="343.90" y2="195.90" stroke="#3a6e3a" stroke-width="1.35"/>
<path d="M332.90 195.90L335.50 194.30L335.50 197.50Z" fill="#3a6e3a"/>
<text x="365.00" y="201.60" font-size="4.7" text-anchor="middle" font-weight="normal" fill="#000">ACMSD</text>
<line x1="361.80" y1="195.90" x2="372.20" y2="195.90" stroke="#3a6e3a" stroke-width="1.35"/>
<path d="M372.80 195.90L370.20 194.30L370.20 197.50Z" fill="#3a6e3a"/>
<text x="401.50" y="197.30" font-size="4.7" text-anchor="middle" font-weight="normal" fill="#000">YSK4</text>
<line x1="382.50" y1="195.90" x2="393.80" y2="195.90" stroke="#3a6e3a" stroke-width="1.35"/>
<path d="M381.90 195.90L384.50 194.30L384.50 197.50Z" fill="#3a6e3a"/>
<text x="378.50" y="207.30" font-size="4.7" text-anchor="middle" font-weight="normal" fill="#000">CCNT2</text>
<line x1="373.30" y1="209.70" x2="380.80" y2="209.70" stroke="#3a6e3a" stroke-width="1.35"/>
<path d="M381.40 209.70L378.80 208.10L378.80 211.30Z" fill="#3a6e3a"/>
<text x="353.50" y="211.20" font-size="4.7" text-anchor="middle" font-weight="normal" fill="#000">miR-5590</text>
<line x1="366.50" y1="210.00" x2="368.30" y2="210.00" stroke="#3a6e3a" stroke-width="1.35"/>
<path d="M368.90 210.00L366.30 208.40L366.30 211.60Z" fill="#3a6e3a"/>
<text x="405.60" y="204.00" font-size="4.7" text-anchor="middle" font-weight="normal" fill="#000">RAB3GAP1</text>
<line x1="395.00" y1="206.50" x2="413.50" y2="206.50" stroke="#3a6e3a" stroke-width="1.35"/>
<path d="M414.10 206.50L411.50 204.90L411.50 208.10Z" fill="#3a6e3a"/>
<text x="443.70" y="206.60" font-size="4.7" text-anchor="middle" font-weight="normal" fill="#000">ZRANB3</text>
<line x1="408.30" y1="209.60" x2="468.70" y2="209.60" stroke="#3a6e3a" stroke-width="1.35"/>
<path d="M407.70 209.60L410.30 208.00L410.30 211.20Z" fill="#3a6e3a"/>
<text x="489.00" y="199.40" font-size="4.7" text-anchor="middle" font-weight="normal" fill="#000">miR-128-1</text>
<line x1="488.60" y1="202.80" x2="489.40" y2="202.80" stroke="#3a6e3a" stroke-width="0.8"/>
<path d="M490.00 202.80L488.10 201.76L488.10 203.84Z" fill="#3a6e3a"/>
<text x="484.00" y="210.50" font-size="4.7" text-anchor="middle" font-weight="normal" fill="#000">R3HDM1</text>
<line x1="467.40" y1="205.40" x2="497.50" y2="205.40" stroke="#3a6e3a" stroke-width="1.35"/>
<path d="M498.10 205.40L495.50 203.80L495.50 207.00Z" fill="#3a6e3a"/>
<text x="510.00" y="197.60" font-size="4.7" text-anchor="middle" font-weight="normal" fill="#000">UBXN4</text>
<line x1="500.40" y1="200.30" x2="508.40" y2="200.30" stroke="#3a6e3a" stroke-width="1.35"/>
<path d="M509.00 200.30L506.40 198.70L506.40 201.90Z" fill="#3a6e3a"/>
<text x="532.40" y="201.60" font-size="4.7" text-anchor="middle" font-weight="normal" fill="#000">DARS</text>
<line x1="526.40" y1="195.80" x2="538.40" y2="195.80" stroke="#3a6e3a" stroke-width="1.35"/>
<path d="M525.80 195.80L528.40 194.20L528.40 197.40Z" fill="#3a6e3a"/>
<text x="515.20" y="205.80" font-size="4.7" text-anchor="middle" font-weight="normal" fill="#000">LCT</text>
<line x1="508.40" y1="207.50" x2="519.00" y2="207.50" stroke="#3a6e3a" stroke-width="1.35"/>
<path d="M507.80 207.50L510.40 205.90L510.40 209.10Z" fill="#3a6e3a"/>
<text x="530.90" y="211.00" font-size="4.7" text-anchor="middle" font-weight="normal" fill="#000">MCM6</text>
<line x1="515.30" y1="209.00" x2="521.90" y2="209.00" stroke="#3a6e3a" stroke-width="1.35"/>
<path d="M514.70 209.00L517.30 207.40L517.30 210.60Z" fill="#3a6e3a"/>
<text x="560.00" y="206.00" font-size="4.7" text-anchor="middle" font-weight="normal" fill="#000">CXCR4</text>
<line x1="558.40" y1="209.90" x2="560.80" y2="209.90" stroke="#3a6e3a" stroke-width="1.35"/>
<path d="M557.80 209.90L560.40 208.30L560.40 211.50Z" fill="#3a6e3a"/>
<text x="332.40" y="45.60" font-size="5.4" fill="#000"><tspan font-style="italic">R</tspan><tspan font-size="3.5" dy="-1.8">2</tspan><tspan dy="1.8"> with TC GWAS SNP rs4988235</tspan></text>
<rect x="333.40" y="48.30" width="5.00" height="2.95" fill="#b8322a" stroke="none" stroke-width="1"/>
<rect x="333.40" y="51.15" width="5.00" height="2.95" fill="#c84a28" stroke="none" stroke-width="1"/>
<rect x="333.40" y="54.00" width="5.00" height="2.95" fill="#e07c30" stroke="none" stroke-width="1"/>
<rect x="333.40" y="56.85" width="5.00" height="2.95" fill="#e8cc40" stroke="none" stroke-width="1"/>
<rect x="333.40" y="59.70" width="5.00" height="2.95" fill="#b8c840" stroke="none" stroke-width="1"/>
<rect x="333.40" y="62.55" width="5.00" height="2.95" fill="#70b060" stroke="none" stroke-width="1"/>
<rect x="333.40" y="65.40" width="5.00" height="2.95" fill="#5a90c8" stroke="none" stroke-width="1"/>
<rect x="333.40" y="68.25" width="5.00" height="2.95" fill="#8cb8e0" stroke="none" stroke-width="1"/>
<rect x="333.40" y="71.10" width="5.00" height="2.95" fill="#b4d0ec" stroke="none" stroke-width="1"/>
<rect x="333.40" y="73.95" width="5.00" height="2.95" fill="#dce8f4" stroke="none" stroke-width="1"/>
<text x="340.80" y="52.10" font-size="4.8" text-anchor="start" font-weight="normal" fill="#000">0.9 - 1.0</text>
<text x="340.80" y="60.30" font-size="4.8" text-anchor="start" font-weight="normal" fill="#000">0.6 - 0.7</text>
<text x="340.80" y="68.50" font-size="4.8" text-anchor="start" font-weight="normal" fill="#000">0.3 - 0.4</text>
<text x="340.80" y="76.70" font-size="4.8" text-anchor="start" font-weight="normal" fill="#000">0.0 - 0.1</text>
<rect x="321.60" y="273.40" width="335.80" height="173.80" fill="none" stroke="#3a3a3a" stroke-width="1.1"/>
<line x1="318.20" y1="392.60" x2="321.60" y2="392.60" stroke="#333" stroke-width="0.9"/>
<text x="315.00" y="395.50" font-size="8.2" text-anchor="end" font-weight="normal" fill="#000">0</text>
<line x1="318.20" y1="355.16" x2="321.60" y2="355.16" stroke="#333" stroke-width="0.9"/>
<text x="315.00" y="358.06" font-size="8.2" text-anchor="end" font-weight="normal" fill="#000">2</text>
<line x1="318.20" y1="317.72" x2="321.60" y2="317.72" stroke="#333" stroke-width="0.9"/>
<text x="315.00" y="320.62" font-size="8.2" text-anchor="end" font-weight="normal" fill="#000">4</text>
<line x1="318.20" y1="280.28" x2="321.60" y2="280.28" stroke="#333" stroke-width="0.9"/>
<text x="315.00" y="283.18" font-size="8.2" text-anchor="end" font-weight="normal" fill="#000">6</text>
<line x1="657.40" y1="392.70" x2="660.70" y2="392.70" stroke="#333" stroke-width="0.9"/>
<text x="662.60" y="395.60" font-size="8.2" text-anchor="start" font-weight="normal" fill="#000">0</text>
<line x1="657.40" y1="352.40" x2="660.70" y2="352.40" stroke="#333" stroke-width="0.9"/>
<text x="662.60" y="355.30" font-size="8.2" text-anchor="start" font-weight="normal" fill="#000">15</text>
<line x1="657.40" y1="312.10" x2="660.70" y2="312.10" stroke="#333" stroke-width="0.9"/>
<text x="662.60" y="315.00" font-size="8.2" text-anchor="start" font-weight="normal" fill="#000">30</text>
<line x1="383.50" y1="447.20" x2="383.50" y2="450.40" stroke="#333" stroke-width="0.9"/>
<text x="383.50" y="460.70" font-size="7.9" text-anchor="middle" font-weight="normal" fill="#000">25,300</text>
<line x1="491.20" y1="447.20" x2="491.20" y2="450.40" stroke="#333" stroke-width="0.9"/>
<text x="491.20" y="460.70" font-size="7.9" text-anchor="middle" font-weight="normal" fill="#000">26,000</text>
<line x1="598.50" y1="447.20" x2="598.50" y2="450.40" stroke="#333" stroke-width="0.9"/>
<text x="598.50" y="460.70" font-size="7.9" text-anchor="middle" font-weight="normal" fill="#000">26,700</text>
<text x="489.30" y="268.00" font-size="8.15" text-anchor="middle" font-weight="normal" fill="#000">LDL GWAS miR-148 eQTL</text>
<text x="489.30" y="473.60" font-size="8.1" text-anchor="middle" font-weight="normal" fill="#000">Chromosome 7 position (kb)</text>
<text transform="translate(303.2 360.30) rotate(-90)" font-size="8" text-anchor="middle" fill="#000"><tspan font-style="italic">P</tspan> value (−log <tspan font-style="italic">P</tspan>)</text>
<text transform="translate(679.0 360.30) rotate(90)" font-size="8" text-anchor="middle" fill="#000">Recombination rate (cM/Mb)</text>
<text transform="translate(296.2 265.80) scale(0.84 1)" font-size="16.8" font-weight="bold" fill="#000">e</text>
<line x1="334.40" y1="327.10" x2="334.40" y2="392.60" stroke="#a6a6a6" stroke-width="0.9"/>
<line x1="348.50" y1="292.30" x2="348.50" y2="392.60" stroke="#a6a6a6" stroke-width="0.9"/>
<line x1="354.60" y1="273.80" x2="354.60" y2="392.60" stroke="#a6a6a6" stroke-width="0.9"/>
<line x1="389.00" y1="298.50" x2="389.00" y2="392.60" stroke="#a6a6a6" stroke-width="0.9"/>
<line x1="393.50" y1="320.80" x2="393.50" y2="392.60" stroke="#a6a6a6" stroke-width="0.9"/>
<line x1="401.40" y1="352.00" x2="401.40" y2="392.60" stroke="#a6a6a6" stroke-width="0.9"/>
<line x1="405.90" y1="318.30" x2="405.90" y2="392.60" stroke="#a6a6a6" stroke-width="0.9"/>
<line x1="409.20" y1="319.20" x2="409.20" y2="392.60" stroke="#a6a6a6" stroke-width="0.9"/>
<line x1="423.70" y1="323.40" x2="423.70" y2="392.60" stroke="#a6a6a6" stroke-width="0.9"/>
<line x1="428.60" y1="324.50" x2="428.60" y2="392.60" stroke="#a6a6a6" stroke-width="0.9"/>
<line x1="440.60" y1="308.50" x2="440.60" y2="392.60" stroke="#a6a6a6" stroke-width="0.9"/>
<line x1="460.70" y1="313.30" x2="460.70" y2="392.60" stroke="#a6a6a6" stroke-width="0.9"/>
<line x1="477.30" y1="288.40" x2="477.30" y2="392.60" stroke="#a6a6a6" stroke-width="0.9"/>
<line x1="481.30" y1="302.30" x2="481.30" y2="392.60" stroke="#a6a6a6" stroke-width="0.9"/>
<line x1="538.30" y1="349.70" x2="538.30" y2="392.60" stroke="#a6a6a6" stroke-width="0.9"/>
<line x1="552.30" y1="348.40" x2="552.30" y2="392.60" stroke="#a6a6a6" stroke-width="0.9"/>
<line x1="548.40" y1="360.00" x2="548.40" y2="392.60" stroke="#a6a6a6" stroke-width="0.9"/>
<line x1="575.90" y1="339.20" x2="575.90" y2="392.60" stroke="#a6a6a6" stroke-width="0.9"/>
<line x1="581.20" y1="340.50" x2="581.20" y2="392.60" stroke="#a6a6a6" stroke-width="0.9"/>
<line x1="585.00" y1="352.30" x2="585.00" y2="392.60" stroke="#a6a6a6" stroke-width="0.9"/>
<line x1="613.50" y1="365.50" x2="613.50" y2="392.60" stroke="#a6a6a6" stroke-width="0.9"/>
<line x1="616.60" y1="367.00" x2="616.60" y2="392.60" stroke="#a6a6a6" stroke-width="0.9"/>
<line x1="525.00" y1="360.00" x2="525.00" y2="392.60" stroke="#a6a6a6" stroke-width="0.9"/>
<line x1="603.00" y1="362.00" x2="603.00" y2="392.60" stroke="#a6a6a6" stroke-width="0.9"/>
<line x1="441.90" y1="273.80" x2="441.90" y2="392.60" stroke="#c8c8c8" stroke-width="0.9"/>
<line x1="592.30" y1="273.80" x2="592.30" y2="394.60" stroke="#8a8a8a" stroke-width="0.9"/>
<path d="M491.4 387.4l2.5 2.5-2.5 2.5-2.5-2.5zM515.9 390l2.5 2.5-2.5 2.5-2.5-2.5zM560.7 368.2l2.5 2.5-2.5 2.5-2.5-2.5zM548.4 385.5l2.5 2.5-2.5 2.5-2.5-2.5zM622.9 381.4l2.5 2.5-2.5 2.5-2.5-2.5zM583.7 384.1l2.5 2.5-2.5 2.5-2.5-2.5zM359.9 370.3l2.5 2.5-2.5 2.5-2.5-2.5zM420 374.5l2.5 2.5-2.5 2.5-2.5-2.5zM442.9 388.7l2.5 2.5-2.5 2.5-2.5-2.5zM603 378.1l2.5 2.5-2.5 2.5-2.5-2.5zM603.1 367.7l2.5 2.5-2.5 2.5-2.5-2.5zM633 375.5l2.5 2.5-2.5 2.5-2.5-2.5zM554.3 384.4l2.5 2.5-2.5 2.5-2.5-2.5zM569.1 371.2l2.5 2.5-2.5 2.5-2.5-2.5zM427 384.6l2.5 2.5-2.5 2.5-2.5-2.5zM524.6 378.8l2.5 2.5-2.5 2.5-2.5-2.5zM427.9 381.2l2.5 2.5-2.5 2.5-2.5-2.5zM642.8 369.4l2.5 2.5-2.5 2.5-2.5-2.5zM517.3 389.3l2.5 2.5-2.5 2.5-2.5-2.5zM578.8 384.6l2.5 2.5-2.5 2.5-2.5-2.5zM385.1 384l2.5 2.5-2.5 2.5-2.5-2.5zM373.1 370.9l2.5 2.5-2.5 2.5-2.5-2.5zM541.7 367.6l2.5 2.5-2.5 2.5-2.5-2.5zM644.9 371.5l2.5 2.5-2.5 2.5-2.5-2.5zM420.3 371l2.5 2.5-2.5 2.5-2.5-2.5zM588 389.1l2.5 2.5-2.5 2.5-2.5-2.5zM345.3 387.2l2.5 2.5-2.5 2.5-2.5-2.5zM416.7 373.5l2.5 2.5-2.5 2.5-2.5-2.5zM597.3 371.3l2.5 2.5-2.5 2.5-2.5-2.5zM624.9 386.5l2.5 2.5-2.5 2.5-2.5-2.5zM611.9 377.6l2.5 2.5-2.5 2.5-2.5-2.5zM603.7 385.9l2.5 2.5-2.5 2.5-2.5-2.5zM471.6 379.9l2.5 2.5-2.5 2.5-2.5-2.5zM514 382.8l2.5 2.5-2.5 2.5-2.5-2.5zM384.1 387.9l2.5 2.5-2.5 2.5-2.5-2.5zM351.3 389.6l2.5 2.5-2.5 2.5-2.5-2.5zM443.7 387.5l2.5 2.5-2.5 2.5-2.5-2.5zM581.5 367.3l2.5 2.5-2.5 2.5-2.5-2.5zM427.3 368l2.5 2.5-2.5 2.5-2.5-2.5zM501 373.3l2.5 2.5-2.5 2.5-2.5-2.5zM374 383.5l2.5 2.5-2.5 2.5-2.5-2.5zM345.5 389.9l2.5 2.5-2.5 2.5-2.5-2.5zM438.9 371.9l2.5 2.5-2.5 2.5-2.5-2.5zM545 388.6l2.5 2.5-2.5 2.5-2.5-2.5zM485 389.4l2.5 2.5-2.5 2.5-2.5-2.5zM473.2 374.6l2.5 2.5-2.5 2.5-2.5-2.5zM549.2 374.7l2.5 2.5-2.5 2.5-2.5-2.5zM589.5 379.7l2.5 2.5-2.5 2.5-2.5-2.5zM379.5 368.5l2.5 2.5-2.5 2.5-2.5-2.5zM455.2 389.4l2.5 2.5-2.5 2.5-2.5-2.5zM385.2 389.6l2.5 2.5-2.5 2.5-2.5-2.5zM468.1 371.8l2.5 2.5-2.5 2.5-2.5-2.5zM619.4 376.7l2.5 2.5-2.5 2.5-2.5-2.5zM537.8 380.2l2.5 2.5-2.5 2.5-2.5-2.5zM386.6 380.1l2.5 2.5-2.5 2.5-2.5-2.5zM556.3 378.6l2.5 2.5-2.5 2.5-2.5-2.5zM346 382.3l2.5 2.5-2.5 2.5-2.5-2.5zM608.3 379l2.5 2.5-2.5 2.5-2.5-2.5zM435.4 388.1l2.5 2.5-2.5 2.5-2.5-2.5zM582.7 371.5l2.5 2.5-2.5 2.5-2.5-2.5zM505 374.9l2.5 2.5-2.5 2.5-2.5-2.5zM461.2 380.7l2.5 2.5-2.5 2.5-2.5-2.5zM431.4 386.9l2.5 2.5-2.5 2.5-2.5-2.5zM626.1 384l2.5 2.5-2.5 2.5-2.5-2.5zM466.2 390.1l2.5 2.5-2.5 2.5-2.5-2.5zM599.9 377.9l2.5 2.5-2.5 2.5-2.5-2.5zM613.1 389.6l2.5 2.5-2.5 2.5-2.5-2.5zM352.6 382.4l2.5 2.5-2.5 2.5-2.5-2.5zM590.8 379.1l2.5 2.5-2.5 2.5-2.5-2.5zM571.5 381.2l2.5 2.5-2.5 2.5-2.5-2.5zM629.1 388.3l2.5 2.5-2.5 2.5-2.5-2.5zM388.9 382.3l2.5 2.5-2.5 2.5-2.5-2.5zM523.9 388.9l2.5 2.5-2.5 2.5-2.5-2.5zM384.1 375.5l2.5 2.5-2.5 2.5-2.5-2.5zM640.6 372l2.5 2.5-2.5 2.5-2.5-2.5zM619.2 384.2l2.5 2.5-2.5 2.5-2.5-2.5zM436.5 376.7l2.5 2.5-2.5 2.5-2.5-2.5zM380.2 372.1l2.5 2.5-2.5 2.5-2.5-2.5zM449.8 369l2.5 2.5-2.5 2.5-2.5-2.5zM420.3 372.1l2.5 2.5-2.5 2.5-2.5-2.5zM585.2 375.5l2.5 2.5-2.5 2.5-2.5-2.5zM438.2 369.6l2.5 2.5-2.5 2.5-2.5-2.5zM518.8 390l2.5 2.5-2.5 2.5-2.5-2.5zM617.7 390l2.5 2.5-2.5 2.5-2.5-2.5zM398.9 369.8l2.5 2.5-2.5 2.5-2.5-2.5zM468.4 368.1l2.5 2.5-2.5 2.5-2.5-2.5zM583 388.3l2.5 2.5-2.5 2.5-2.5-2.5zM609.7 388.7l2.5 2.5-2.5 2.5-2.5-2.5zM397.6 372.4l2.5 2.5-2.5 2.5-2.5-2.5zM406.8 369.9l2.5 2.5-2.5 2.5-2.5-2.5zM339.3 389.6l2.5 2.5-2.5 2.5-2.5-2.5zM443.1 388.2l2.5 2.5-2.5 2.5-2.5-2.5zM369.4 389.1l2.5 2.5-2.5 2.5-2.5-2.5zM496 369l2.5 2.5-2.5 2.5-2.5-2.5zM588.5 380.9l2.5 2.5-2.5 2.5-2.5-2.5zM510.8 386.5l2.5 2.5-2.5 2.5-2.5-2.5zM357.7 386.8l2.5 2.5-2.5 2.5-2.5-2.5zM623.7 386.7l2.5 2.5-2.5 2.5-2.5-2.5zM559.8 366.3l2.5 2.5-2.5 2.5-2.5-2.5zM420.6 390.1l2.5 2.5-2.5 2.5-2.5-2.5zM528 387.7l2.5 2.5-2.5 2.5-2.5-2.5zM498.5 378.7l2.5 2.5-2.5 2.5-2.5-2.5zM369.2 371.4l2.5 2.5-2.5 2.5-2.5-2.5zM383.7 369.5l2.5 2.5-2.5 2.5-2.5-2.5zM499.4 376.3l2.5 2.5-2.5 2.5-2.5-2.5zM628.7 386.1l2.5 2.5-2.5 2.5-2.5-2.5zM511.6 373.3l2.5 2.5-2.5 2.5-2.5-2.5zM455.6 367.7l2.5 2.5-2.5 2.5-2.5-2.5zM631.7 366.5l2.5 2.5-2.5 2.5-2.5-2.5zM384.5 386l2.5 2.5-2.5 2.5-2.5-2.5zM450 390l2.5 2.5-2.5 2.5-2.5-2.5zM530.6 385.7l2.5 2.5-2.5 2.5-2.5-2.5zM639.9 385.8l2.5 2.5-2.5 2.5-2.5-2.5zM633.7 378.6l2.5 2.5-2.5 2.5-2.5-2.5zM622 369.5l2.5 2.5-2.5 2.5-2.5-2.5zM387.6 366l2.5 2.5-2.5 2.5-2.5-2.5zM593.1 378.8l2.5 2.5-2.5 2.5-2.5-2.5zM456 386.3l2.5 2.5-2.5 2.5-2.5-2.5zM334.9 390l2.5 2.5-2.5 2.5-2.5-2.5zM640.2 388.2l2.5 2.5-2.5 2.5-2.5-2.5z" class="q"/>
<path d="M358.4 379l2.5 2.5-2.5 2.5-2.5-2.5zM547.7 373.9l2.5 2.5-2.5 2.5-2.5-2.5zM457.7 389.8l2.5 2.5-2.5 2.5-2.5-2.5zM337.1 380.7l2.5 2.5-2.5 2.5-2.5-2.5zM375 379.9l2.5 2.5-2.5 2.5-2.5-2.5zM626.3 389.4l2.5 2.5-2.5 2.5-2.5-2.5zM555.4 381.6l2.5 2.5-2.5 2.5-2.5-2.5zM602 373.6l2.5 2.5-2.5 2.5-2.5-2.5zM405.1 375.7l2.5 2.5-2.5 2.5-2.5-2.5zM574.5 377.4l2.5 2.5-2.5 2.5-2.5-2.5zM590.3 386.6l2.5 2.5-2.5 2.5-2.5-2.5zM444.4 366.8l2.5 2.5-2.5 2.5-2.5-2.5zM508.7 388l2.5 2.5-2.5 2.5-2.5-2.5zM350.4 389.9l2.5 2.5-2.5 2.5-2.5-2.5zM469.7 380.6l2.5 2.5-2.5 2.5-2.5-2.5zM424 384.2l2.5 2.5-2.5 2.5-2.5-2.5zM335.3 374.7l2.5 2.5-2.5 2.5-2.5-2.5zM451.6 381.5l2.5 2.5-2.5 2.5-2.5-2.5zM489.7 374l2.5 2.5-2.5 2.5-2.5-2.5zM629.1 384.1l2.5 2.5-2.5 2.5-2.5-2.5zM619.9 384.9l2.5 2.5-2.5 2.5-2.5-2.5zM566.6 389.7l2.5 2.5-2.5 2.5-2.5-2.5zM447.5 383.5l2.5 2.5-2.5 2.5-2.5-2.5zM471.3 384.9l2.5 2.5-2.5 2.5-2.5-2.5zM440.4 387.1l2.5 2.5-2.5 2.5-2.5-2.5zM625.2 385.5l2.5 2.5-2.5 2.5-2.5-2.5zM371.3 370l2.5 2.5-2.5 2.5-2.5-2.5zM613.6 381l2.5 2.5-2.5 2.5-2.5-2.5zM628.5 389.5l2.5 2.5-2.5 2.5-2.5-2.5zM582 380l2.5 2.5-2.5 2.5-2.5-2.5zM557.5 373.8l2.5 2.5-2.5 2.5-2.5-2.5zM534 366l2.5 2.5-2.5 2.5-2.5-2.5zM364.4 366l2.5 2.5-2.5 2.5-2.5-2.5zM569.5 387.4l2.5 2.5-2.5 2.5-2.5-2.5zM518.2 384.4l2.5 2.5-2.5 2.5-2.5-2.5zM627.7 381.5l2.5 2.5-2.5 2.5-2.5-2.5zM509.1 379.3l2.5 2.5-2.5 2.5-2.5-2.5zM573.5 389.6l2.5 2.5-2.5 2.5-2.5-2.5zM511.7 384.6l2.5 2.5-2.5 2.5-2.5-2.5zM461.2 389.1l2.5 2.5-2.5 2.5-2.5-2.5zM581.5 383.1l2.5 2.5-2.5 2.5-2.5-2.5zM630.6 381.1l2.5 2.5-2.5 2.5-2.5-2.5zM356.8 372.5l2.5 2.5-2.5 2.5-2.5-2.5zM636.8 383.7l2.5 2.5-2.5 2.5-2.5-2.5zM439.3 378.6l2.5 2.5-2.5 2.5-2.5-2.5zM557.2 379.5l2.5 2.5-2.5 2.5-2.5-2.5zM391.1 389.8l2.5 2.5-2.5 2.5-2.5-2.5zM429.6 380.8l2.5 2.5-2.5 2.5-2.5-2.5zM365 379.8l2.5 2.5-2.5 2.5-2.5-2.5zM367.5 378.9l2.5 2.5-2.5 2.5-2.5-2.5zM399.5 388.7l2.5 2.5-2.5 2.5-2.5-2.5zM569.2 383.3l2.5 2.5-2.5 2.5-2.5-2.5zM560.2 383.7l2.5 2.5-2.5 2.5-2.5-2.5zM627.8 389.6l2.5 2.5-2.5 2.5-2.5-2.5zM599 368.7l2.5 2.5-2.5 2.5-2.5-2.5zM631.3 379.4l2.5 2.5-2.5 2.5-2.5-2.5zM620.3 386.6l2.5 2.5-2.5 2.5-2.5-2.5zM445.9 388.7l2.5 2.5-2.5 2.5-2.5-2.5zM570.7 384.2l2.5 2.5-2.5 2.5-2.5-2.5zM442.4 380.5l2.5 2.5-2.5 2.5-2.5-2.5zM490.4 371.9l2.5 2.5-2.5 2.5-2.5-2.5zM469 384.3l2.5 2.5-2.5 2.5-2.5-2.5zM364 388.6l2.5 2.5-2.5 2.5-2.5-2.5zM405.5 368.3l2.5 2.5-2.5 2.5-2.5-2.5zM521.8 380l2.5 2.5-2.5 2.5-2.5-2.5zM544.5 368l2.5 2.5-2.5 2.5-2.5-2.5zM340.4 375.5l2.5 2.5-2.5 2.5-2.5-2.5zM577 379.9l2.5 2.5-2.5 2.5-2.5-2.5zM635.9 389.1l2.5 2.5-2.5 2.5-2.5-2.5zM588.9 373.7l2.5 2.5-2.5 2.5-2.5-2.5zM535.1 384l2.5 2.5-2.5 2.5-2.5-2.5zM511.8 390l2.5 2.5-2.5 2.5-2.5-2.5zM406 378.8l2.5 2.5-2.5 2.5-2.5-2.5zM444.2 367.2l2.5 2.5-2.5 2.5-2.5-2.5zM374.4 383.1l2.5 2.5-2.5 2.5-2.5-2.5zM564.8 384.2l2.5 2.5-2.5 2.5-2.5-2.5zM430.8 389.1l2.5 2.5-2.5 2.5-2.5-2.5zM495.2 366.3l2.5 2.5-2.5 2.5-2.5-2.5zM643.5 368.2l2.5 2.5-2.5 2.5-2.5-2.5zM471.3 372.3l2.5 2.5-2.5 2.5-2.5-2.5zM643.4 382.2l2.5 2.5-2.5 2.5-2.5-2.5zM625.3 385.1l2.5 2.5-2.5 2.5-2.5-2.5zM599.3 381.4l2.5 2.5-2.5 2.5-2.5-2.5zM337.1 389.5l2.5 2.5-2.5 2.5-2.5-2.5zM573.4 376.7l2.5 2.5-2.5 2.5-2.5-2.5zM393.4 383.9l2.5 2.5-2.5 2.5-2.5-2.5zM516.8 382.4l2.5 2.5-2.5 2.5-2.5-2.5zM466.7 386.4l2.5 2.5-2.5 2.5-2.5-2.5zM350.2 386.5l2.5 2.5-2.5 2.5-2.5-2.5zM569 389.4l2.5 2.5-2.5 2.5-2.5-2.5zM370.1 372.5l2.5 2.5-2.5 2.5-2.5-2.5zM631.9 375.4l2.5 2.5-2.5 2.5-2.5-2.5zM617.1 368.4l2.5 2.5-2.5 2.5-2.5-2.5zM602.3 385.6l2.5 2.5-2.5 2.5-2.5-2.5zM636.1 381.1l2.5 2.5-2.5 2.5-2.5-2.5zM505.4 378.6l2.5 2.5-2.5 2.5-2.5-2.5zM528.3 381.7l2.5 2.5-2.5 2.5-2.5-2.5zM542.7 375l2.5 2.5-2.5 2.5-2.5-2.5zM614.3 376.6l2.5 2.5-2.5 2.5-2.5-2.5zM371.9 385.6l2.5 2.5-2.5 2.5-2.5-2.5zM630.4 390.1l2.5 2.5-2.5 2.5-2.5-2.5zM454.2 389.5l2.5 2.5-2.5 2.5-2.5-2.5zM531.5 371.6l2.5 2.5-2.5 2.5-2.5-2.5zM611.3 369.7l2.5 2.5-2.5 2.5-2.5-2.5zM607.5 387l2.5 2.5-2.5 2.5-2.5-2.5zM633.6 389.5l2.5 2.5-2.5 2.5-2.5-2.5zM471.5 378.6l2.5 2.5-2.5 2.5-2.5-2.5zM508.4 367.9l2.5 2.5-2.5 2.5-2.5-2.5zM365.7 389.5l2.5 2.5-2.5 2.5-2.5-2.5zM611.1 379.4l2.5 2.5-2.5 2.5-2.5-2.5zM526 377.2l2.5 2.5-2.5 2.5-2.5-2.5zM387.5 367.5l2.5 2.5-2.5 2.5-2.5-2.5zM570.2 382.5l2.5 2.5-2.5 2.5-2.5-2.5zM484 370.6l2.5 2.5-2.5 2.5-2.5-2.5zM545.8 369.5l2.5 2.5-2.5 2.5-2.5-2.5zM466.4 382.4l2.5 2.5-2.5 2.5-2.5-2.5zM450.5 388.8l2.5 2.5-2.5 2.5-2.5-2.5zM338 383.9l2.5 2.5-2.5 2.5-2.5-2.5zM456.8 388.8l2.5 2.5-2.5 2.5-2.5-2.5zM535 384.6l2.5 2.5-2.5 2.5-2.5-2.5z" class="q"/>
<path d="M539.1 377.9l2.5 2.5-2.5 2.5-2.5-2.5zM398.2 371.8l2.5 2.5-2.5 2.5-2.5-2.5zM631.6 383.5l2.5 2.5-2.5 2.5-2.5-2.5zM405 368.9l2.5 2.5-2.5 2.5-2.5-2.5zM475 377.7l2.5 2.5-2.5 2.5-2.5-2.5zM437.5 374.4l2.5 2.5-2.5 2.5-2.5-2.5zM488 378.3l2.5 2.5-2.5 2.5-2.5-2.5zM476.3 384.2l2.5 2.5-2.5 2.5-2.5-2.5zM518.4 387.2l2.5 2.5-2.5 2.5-2.5-2.5zM374.1 388l2.5 2.5-2.5 2.5-2.5-2.5zM630.8 385.5l2.5 2.5-2.5 2.5-2.5-2.5zM599.4 367l2.5 2.5-2.5 2.5-2.5-2.5zM451.5 384.9l2.5 2.5-2.5 2.5-2.5-2.5zM519.1 375.9l2.5 2.5-2.5 2.5-2.5-2.5zM387.5 379.7l2.5 2.5-2.5 2.5-2.5-2.5zM455.3 385.1l2.5 2.5-2.5 2.5-2.5-2.5zM601.4 375.3l2.5 2.5-2.5 2.5-2.5-2.5zM429 368.3l2.5 2.5-2.5 2.5-2.5-2.5zM516.7 382.9l2.5 2.5-2.5 2.5-2.5-2.5zM495.9 390l2.5 2.5-2.5 2.5-2.5-2.5zM569.4 389.4l2.5 2.5-2.5 2.5-2.5-2.5zM560.1 382.2l2.5 2.5-2.5 2.5-2.5-2.5zM440.1 368.5l2.5 2.5-2.5 2.5-2.5-2.5zM564.1 378.8l2.5 2.5-2.5 2.5-2.5-2.5zM383.9 383.9l2.5 2.5-2.5 2.5-2.5-2.5zM635.9 382.1l2.5 2.5-2.5 2.5-2.5-2.5zM452.1 371.8l2.5 2.5-2.5 2.5-2.5-2.5zM455.8 378.6l2.5 2.5-2.5 2.5-2.5-2.5zM512.6 388l2.5 2.5-2.5 2.5-2.5-2.5zM496.5 373.2l2.5 2.5-2.5 2.5-2.5-2.5zM407.2 384.2l2.5 2.5-2.5 2.5-2.5-2.5zM596.2 375.4l2.5 2.5-2.5 2.5-2.5-2.5zM334.9 386l2.5 2.5-2.5 2.5-2.5-2.5zM590.1 388l2.5 2.5-2.5 2.5-2.5-2.5zM584.9 381.1l2.5 2.5-2.5 2.5-2.5-2.5zM367.5 377.8l2.5 2.5-2.5 2.5-2.5-2.5zM368.5 380l2.5 2.5-2.5 2.5-2.5-2.5zM369.2 385.9l2.5 2.5-2.5 2.5-2.5-2.5zM461.5 366.8l2.5 2.5-2.5 2.5-2.5-2.5zM372.9 378.9l2.5 2.5-2.5 2.5-2.5-2.5zM405.5 389.3l2.5 2.5-2.5 2.5-2.5-2.5zM525.1 366.5l2.5 2.5-2.5 2.5-2.5-2.5zM633.8 390l2.5 2.5-2.5 2.5-2.5-2.5zM497.2 388.1l2.5 2.5-2.5 2.5-2.5-2.5zM515.4 380.4l2.5 2.5-2.5 2.5-2.5-2.5zM589.8 366.1l2.5 2.5-2.5 2.5-2.5-2.5zM436 390l2.5 2.5-2.5 2.5-2.5-2.5zM626.4 382.5l2.5 2.5-2.5 2.5-2.5-2.5zM376.5 375.3l2.5 2.5-2.5 2.5-2.5-2.5zM443.7 389.4l2.5 2.5-2.5 2.5-2.5-2.5zM433.3 389.8l2.5 2.5-2.5 2.5-2.5-2.5zM426.9 382.6l2.5 2.5-2.5 2.5-2.5-2.5zM413.3 375.1l2.5 2.5-2.5 2.5-2.5-2.5zM600.5 388l2.5 2.5-2.5 2.5-2.5-2.5zM639.1 388.4l2.5 2.5-2.5 2.5-2.5-2.5zM424.2 389.7l2.5 2.5-2.5 2.5-2.5-2.5zM473.7 382.5l2.5 2.5-2.5 2.5-2.5-2.5zM631.2 383.6l2.5 2.5-2.5 2.5-2.5-2.5zM471.4 374.5l2.5 2.5-2.5 2.5-2.5-2.5zM476.6 386.4l2.5 2.5-2.5 2.5-2.5-2.5zM640.8 388.2l2.5 2.5-2.5 2.5-2.5-2.5zM455.3 387l2.5 2.5-2.5 2.5-2.5-2.5zM638.1 387.7l2.5 2.5-2.5 2.5-2.5-2.5zM345.3 388.5l2.5 2.5-2.5 2.5-2.5-2.5zM444.8 384.1l2.5 2.5-2.5 2.5-2.5-2.5zM339.9 378.8l2.5 2.5-2.5 2.5-2.5-2.5zM516 386.1l2.5 2.5-2.5 2.5-2.5-2.5zM421.3 372.3l2.5 2.5-2.5 2.5-2.5-2.5zM600.5 388.1l2.5 2.5-2.5 2.5-2.5-2.5zM430.4 387.4l2.5 2.5-2.5 2.5-2.5-2.5zM435.3 379.8l2.5 2.5-2.5 2.5-2.5-2.5zM500.6 389.7l2.5 2.5-2.5 2.5-2.5-2.5zM532.8 380.9l2.5 2.5-2.5 2.5-2.5-2.5zM363 382.2l2.5 2.5-2.5 2.5-2.5-2.5zM419.7 367.3l2.5 2.5-2.5 2.5-2.5-2.5zM426.7 386.1l2.5 2.5-2.5 2.5-2.5-2.5zM471.7 377.4l2.5 2.5-2.5 2.5-2.5-2.5zM388.2 388.6l2.5 2.5-2.5 2.5-2.5-2.5zM341.5 370l2.5 2.5-2.5 2.5-2.5-2.5zM412.5 367.2l2.5 2.5-2.5 2.5-2.5-2.5zM391.6 383.3l2.5 2.5-2.5 2.5-2.5-2.5zM568.9 379.8l2.5 2.5-2.5 2.5-2.5-2.5zM473.8 378.5l2.5 2.5-2.5 2.5-2.5-2.5zM335.8 377.7l2.5 2.5-2.5 2.5-2.5-2.5zM567.9 390.1l2.5 2.5-2.5 2.5-2.5-2.5zM602.7 378.7l2.5 2.5-2.5 2.5-2.5-2.5zM446.3 371l2.5 2.5-2.5 2.5-2.5-2.5zM590.7 378.2l2.5 2.5-2.5 2.5-2.5-2.5zM339.5 377.6l2.5 2.5-2.5 2.5-2.5-2.5zM613.9 381.6l2.5 2.5-2.5 2.5-2.5-2.5zM578.6 372.6l2.5 2.5-2.5 2.5-2.5-2.5zM434.4 366.3l2.5 2.5-2.5 2.5-2.5-2.5zM440.2 374.8l2.5 2.5-2.5 2.5-2.5-2.5zM452.1 390.1l2.5 2.5-2.5 2.5-2.5-2.5zM546.8 385.8l2.5 2.5-2.5 2.5-2.5-2.5zM533.2 388.9l2.5 2.5-2.5 2.5-2.5-2.5zM404.8 384.3l2.5 2.5-2.5 2.5-2.5-2.5zM532.5 383.6l2.5 2.5-2.5 2.5-2.5-2.5zM501.4 389.5l2.5 2.5-2.5 2.5-2.5-2.5zM437.8 385.1l2.5 2.5-2.5 2.5-2.5-2.5zM365 376.5l2.5 2.5-2.5 2.5-2.5-2.5zM539.6 379.5l2.5 2.5-2.5 2.5-2.5-2.5zM399.2 378.1l2.5 2.5-2.5 2.5-2.5-2.5zM627 371.5l2.5 2.5-2.5 2.5-2.5-2.5zM526.3 390l2.5 2.5-2.5 2.5-2.5-2.5zM346.3 385.2l2.5 2.5-2.5 2.5-2.5-2.5zM344.1 387.5l2.5 2.5-2.5 2.5-2.5-2.5zM519.3 367.7l2.5 2.5-2.5 2.5-2.5-2.5zM463.9 374.2l2.5 2.5-2.5 2.5-2.5-2.5zM600.1 386.2l2.5 2.5-2.5 2.5-2.5-2.5zM433.4 374.6l2.5 2.5-2.5 2.5-2.5-2.5zM420 389.3l2.5 2.5-2.5 2.5-2.5-2.5zM522.7 385.8l2.5 2.5-2.5 2.5-2.5-2.5zM522.8 389.8l2.5 2.5-2.5 2.5-2.5-2.5zM409.6 380l2.5 2.5-2.5 2.5-2.5-2.5zM358.9 388.2l2.5 2.5-2.5 2.5-2.5-2.5zM355.4 385.8l2.5 2.5-2.5 2.5-2.5-2.5zM522.9 390l2.5 2.5-2.5 2.5-2.5-2.5zM632.8 388.2l2.5 2.5-2.5 2.5-2.5-2.5zM393.9 386.2l2.5 2.5-2.5 2.5-2.5-2.5z" class="q"/>
<path d="M482.3 385.4l2.5 2.5-2.5 2.5-2.5-2.5zM589.7 370.6l2.5 2.5-2.5 2.5-2.5-2.5zM575.9 381l2.5 2.5-2.5 2.5-2.5-2.5zM594.8 380l2.5 2.5-2.5 2.5-2.5-2.5zM405.5 389.4l2.5 2.5-2.5 2.5-2.5-2.5zM436.7 389.6l2.5 2.5-2.5 2.5-2.5-2.5zM413.9 388l2.5 2.5-2.5 2.5-2.5-2.5zM368.7 371.7l2.5 2.5-2.5 2.5-2.5-2.5zM509.5 372.9l2.5 2.5-2.5 2.5-2.5-2.5zM382.4 387.6l2.5 2.5-2.5 2.5-2.5-2.5zM507.2 383.9l2.5 2.5-2.5 2.5-2.5-2.5zM589 381.1l2.5 2.5-2.5 2.5-2.5-2.5zM438.4 381.9l2.5 2.5-2.5 2.5-2.5-2.5zM510.7 389.7l2.5 2.5-2.5 2.5-2.5-2.5zM450.8 388.7l2.5 2.5-2.5 2.5-2.5-2.5zM337.5 386.8l2.5 2.5-2.5 2.5-2.5-2.5zM635.5 375.1l2.5 2.5-2.5 2.5-2.5-2.5zM368.4 368.2l2.5 2.5-2.5 2.5-2.5-2.5zM455.3 373.6l2.5 2.5-2.5 2.5-2.5-2.5zM406.1 389l2.5 2.5-2.5 2.5-2.5-2.5zM360 378.6l2.5 2.5-2.5 2.5-2.5-2.5zM421.4 370.6l2.5 2.5-2.5 2.5-2.5-2.5zM368.4 378.9l2.5 2.5-2.5 2.5-2.5-2.5zM565 383.3l2.5 2.5-2.5 2.5-2.5-2.5zM625.8 373.5l2.5 2.5-2.5 2.5-2.5-2.5zM587.7 368.4l2.5 2.5-2.5 2.5-2.5-2.5zM638.7 387.5l2.5 2.5-2.5 2.5-2.5-2.5zM495.7 367.4l2.5 2.5-2.5 2.5-2.5-2.5zM526 385.9l2.5 2.5-2.5 2.5-2.5-2.5zM368.5 367.5l2.5 2.5-2.5 2.5-2.5-2.5zM360.3 385.1l2.5 2.5-2.5 2.5-2.5-2.5zM594 367.7l2.5 2.5-2.5 2.5-2.5-2.5zM601.3 384.1l2.5 2.5-2.5 2.5-2.5-2.5zM542.2 366.6l2.5 2.5-2.5 2.5-2.5-2.5zM566.1 386.6l2.5 2.5-2.5 2.5-2.5-2.5zM436.4 375.3l2.5 2.5-2.5 2.5-2.5-2.5zM521.1 376.2l2.5 2.5-2.5 2.5-2.5-2.5zM348.8 376.3l2.5 2.5-2.5 2.5-2.5-2.5zM482.9 369.2l2.5 2.5-2.5 2.5-2.5-2.5zM591.4 387.7l2.5 2.5-2.5 2.5-2.5-2.5zM637.9 384l2.5 2.5-2.5 2.5-2.5-2.5zM547.9 378.8l2.5 2.5-2.5 2.5-2.5-2.5zM491 390.1l2.5 2.5-2.5 2.5-2.5-2.5zM504.8 371.8l2.5 2.5-2.5 2.5-2.5-2.5zM339.4 387.7l2.5 2.5-2.5 2.5-2.5-2.5zM551.4 386l2.5 2.5-2.5 2.5-2.5-2.5zM349 390l2.5 2.5-2.5 2.5-2.5-2.5zM526.1 384.2l2.5 2.5-2.5 2.5-2.5-2.5zM599 366.8l2.5 2.5-2.5 2.5-2.5-2.5zM525 371.8l2.5 2.5-2.5 2.5-2.5-2.5zM608.2 368l2.5 2.5-2.5 2.5-2.5-2.5zM477.2 378.6l2.5 2.5-2.5 2.5-2.5-2.5zM612 369.1l2.5 2.5-2.5 2.5-2.5-2.5zM422.2 388.9l2.5 2.5-2.5 2.5-2.5-2.5zM496.9 390.1l2.5 2.5-2.5 2.5-2.5-2.5zM536.6 373l2.5 2.5-2.5 2.5-2.5-2.5zM362.2 384.8l2.5 2.5-2.5 2.5-2.5-2.5zM338.6 388.7l2.5 2.5-2.5 2.5-2.5-2.5zM411.4 386.1l2.5 2.5-2.5 2.5-2.5-2.5zM619.4 370.9l2.5 2.5-2.5 2.5-2.5-2.5zM543.7 376.4l2.5 2.5-2.5 2.5-2.5-2.5zM372.5 383l2.5 2.5-2.5 2.5-2.5-2.5zM618.1 389.6l2.5 2.5-2.5 2.5-2.5-2.5zM533.1 382.1l2.5 2.5-2.5 2.5-2.5-2.5zM615 367l2.5 2.5-2.5 2.5-2.5-2.5zM476.4 383.5l2.5 2.5-2.5 2.5-2.5-2.5zM398.4 368.4l2.5 2.5-2.5 2.5-2.5-2.5zM532.8 382.2l2.5 2.5-2.5 2.5-2.5-2.5zM481.7 371.3l2.5 2.5-2.5 2.5-2.5-2.5zM344.9 378.6l2.5 2.5-2.5 2.5-2.5-2.5zM482.8 382.7l2.5 2.5-2.5 2.5-2.5-2.5zM569.3 388.6l2.5 2.5-2.5 2.5-2.5-2.5zM495.7 384.9l2.5 2.5-2.5 2.5-2.5-2.5zM528.4 376.8l2.5 2.5-2.5 2.5-2.5-2.5zM411.3 388.6l2.5 2.5-2.5 2.5-2.5-2.5zM472 380l2.5 2.5-2.5 2.5-2.5-2.5zM614.6 386.9l2.5 2.5-2.5 2.5-2.5-2.5zM471.1 371.3l2.5 2.5-2.5 2.5-2.5-2.5zM415.4 366.5l2.5 2.5-2.5 2.5-2.5-2.5zM444.5 384.3l2.5 2.5-2.5 2.5-2.5-2.5zM620.5 382.2l2.5 2.5-2.5 2.5-2.5-2.5zM604.5 388l2.5 2.5-2.5 2.5-2.5-2.5zM406.5 367.6l2.5 2.5-2.5 2.5-2.5-2.5zM360.4 390.1l2.5 2.5-2.5 2.5-2.5-2.5zM354.9 383.2l2.5 2.5-2.5 2.5-2.5-2.5zM633.3 375.9l2.5 2.5-2.5 2.5-2.5-2.5zM379.8 376.1l2.5 2.5-2.5 2.5-2.5-2.5zM471.1 386.8l2.5 2.5-2.5 2.5-2.5-2.5zM550.1 375.3l2.5 2.5-2.5 2.5-2.5-2.5zM599.9 386.4l2.5 2.5-2.5 2.5-2.5-2.5zM378.2 384.3l2.5 2.5-2.5 2.5-2.5-2.5zM611.4 384.3l2.5 2.5-2.5 2.5-2.5-2.5zM385 368.4l2.5 2.5-2.5 2.5-2.5-2.5zM564 377.6l2.5 2.5-2.5 2.5-2.5-2.5zM483.3 388.5l2.5 2.5-2.5 2.5-2.5-2.5zM561.5 374.7l2.5 2.5-2.5 2.5-2.5-2.5zM456.7 389.9l2.5 2.5-2.5 2.5-2.5-2.5zM592.2 369.7l2.5 2.5-2.5 2.5-2.5-2.5zM598.8 367.2l2.5 2.5-2.5 2.5-2.5-2.5zM483.9 385.8l2.5 2.5-2.5 2.5-2.5-2.5zM388.4 384.8l2.5 2.5-2.5 2.5-2.5-2.5zM595.2 366.3l2.5 2.5-2.5 2.5-2.5-2.5zM618.9 389.9l2.5 2.5-2.5 2.5-2.5-2.5zM447.4 369l2.5 2.5-2.5 2.5-2.5-2.5zM449 373.8l2.5 2.5-2.5 2.5-2.5-2.5zM467 373.6l2.5 2.5-2.5 2.5-2.5-2.5zM599.3 383.1l2.5 2.5-2.5 2.5-2.5-2.5zM551.4 379.7l2.5 2.5-2.5 2.5-2.5-2.5zM345.3 389.8l2.5 2.5-2.5 2.5-2.5-2.5zM380.4 368.1l2.5 2.5-2.5 2.5-2.5-2.5zM373.9 384.3l2.5 2.5-2.5 2.5-2.5-2.5zM492.1 389.8l2.5 2.5-2.5 2.5-2.5-2.5zM469.5 374.8l2.5 2.5-2.5 2.5-2.5-2.5zM448.8 377.5l2.5 2.5-2.5 2.5-2.5-2.5zM360 382.1l2.5 2.5-2.5 2.5-2.5-2.5zM476 389.3l2.5 2.5-2.5 2.5-2.5-2.5zM361.2 389.1l2.5 2.5-2.5 2.5-2.5-2.5zM462.7 386.9l2.5 2.5-2.5 2.5-2.5-2.5zM595.4 377l2.5 2.5-2.5 2.5-2.5-2.5zM449.5 376.7l2.5 2.5-2.5 2.5-2.5-2.5z" class="q"/>
<path d="M341.7 387.3l2.5 2.5-2.5 2.5-2.5-2.5zM535 389.5l2.5 2.5-2.5 2.5-2.5-2.5zM411.2 389.3l2.5 2.5-2.5 2.5-2.5-2.5zM630.6 389.6l2.5 2.5-2.5 2.5-2.5-2.5zM563.2 378.9l2.5 2.5-2.5 2.5-2.5-2.5zM474 382l2.5 2.5-2.5 2.5-2.5-2.5zM514.3 379.3l2.5 2.5-2.5 2.5-2.5-2.5zM469.7 382.4l2.5 2.5-2.5 2.5-2.5-2.5zM551 384.8l2.5 2.5-2.5 2.5-2.5-2.5zM432 374.6l2.5 2.5-2.5 2.5-2.5-2.5zM346.5 383.3l2.5 2.5-2.5 2.5-2.5-2.5zM615.9 374.5l2.5 2.5-2.5 2.5-2.5-2.5zM548.3 374.5l2.5 2.5-2.5 2.5-2.5-2.5zM347.9 367.1l2.5 2.5-2.5 2.5-2.5-2.5zM533.4 387.4l2.5 2.5-2.5 2.5-2.5-2.5zM431.7 375.8l2.5 2.5-2.5 2.5-2.5-2.5zM410.5 377.3l2.5 2.5-2.5 2.5-2.5-2.5zM463.8 367.6l2.5 2.5-2.5 2.5-2.5-2.5zM570.3 386.4l2.5 2.5-2.5 2.5-2.5-2.5zM631.6 379.5l2.5 2.5-2.5 2.5-2.5-2.5zM547.4 384.2l2.5 2.5-2.5 2.5-2.5-2.5zM565.5 384.7l2.5 2.5-2.5 2.5-2.5-2.5zM471.1 389.3l2.5 2.5-2.5 2.5-2.5-2.5zM430.9 389.3l2.5 2.5-2.5 2.5-2.5-2.5zM510.9 373.1l2.5 2.5-2.5 2.5-2.5-2.5zM607.7 375.7l2.5 2.5-2.5 2.5-2.5-2.5zM440.7 367.8l2.5 2.5-2.5 2.5-2.5-2.5zM499.2 372l2.5 2.5-2.5 2.5-2.5-2.5zM625.8 383.4l2.5 2.5-2.5 2.5-2.5-2.5zM364.7 379.7l2.5 2.5-2.5 2.5-2.5-2.5zM528.6 375.5l2.5 2.5-2.5 2.5-2.5-2.5zM571.6 387.4l2.5 2.5-2.5 2.5-2.5-2.5zM516.2 375.2l2.5 2.5-2.5 2.5-2.5-2.5zM338.2 368.5l2.5 2.5-2.5 2.5-2.5-2.5zM593.9 376.4l2.5 2.5-2.5 2.5-2.5-2.5zM336.4 389.5l2.5 2.5-2.5 2.5-2.5-2.5zM494.1 388.7l2.5 2.5-2.5 2.5-2.5-2.5zM344.8 389l2.5 2.5-2.5 2.5-2.5-2.5zM511.9 382.9l2.5 2.5-2.5 2.5-2.5-2.5zM453.6 387.9l2.5 2.5-2.5 2.5-2.5-2.5zM643.3 388.5l2.5 2.5-2.5 2.5-2.5-2.5zM427.2 376.2l2.5 2.5-2.5 2.5-2.5-2.5zM440 369.3l2.5 2.5-2.5 2.5-2.5-2.5zM481.6 379.7l2.5 2.5-2.5 2.5-2.5-2.5zM415.6 387.3l2.5 2.5-2.5 2.5-2.5-2.5zM580.3 383.1l2.5 2.5-2.5 2.5-2.5-2.5zM450.8 367.6l2.5 2.5-2.5 2.5-2.5-2.5zM353.9 368.7l2.5 2.5-2.5 2.5-2.5-2.5zM475.1 372.7l2.5 2.5-2.5 2.5-2.5-2.5zM498 370.6l2.5 2.5-2.5 2.5-2.5-2.5zM565.2 381.8l2.5 2.5-2.5 2.5-2.5-2.5zM423.5 378.6l2.5 2.5-2.5 2.5-2.5-2.5zM348 383.5l2.5 2.5-2.5 2.5-2.5-2.5zM336.2 388.1l2.5 2.5-2.5 2.5-2.5-2.5zM582.1 387.5l2.5 2.5-2.5 2.5-2.5-2.5zM588.6 371.6l2.5 2.5-2.5 2.5-2.5-2.5zM628.6 382.2l2.5 2.5-2.5 2.5-2.5-2.5zM557.5 383.4l2.5 2.5-2.5 2.5-2.5-2.5zM565.8 389.8l2.5 2.5-2.5 2.5-2.5-2.5zM435.9 367.6l2.5 2.5-2.5 2.5-2.5-2.5zM505.2 372l2.5 2.5-2.5 2.5-2.5-2.5zM386 389.8l2.5 2.5-2.5 2.5-2.5-2.5zM404.5 377.1l2.5 2.5-2.5 2.5-2.5-2.5zM441.5 385.4l2.5 2.5-2.5 2.5-2.5-2.5zM641.4 389.7l2.5 2.5-2.5 2.5-2.5-2.5zM465.3 377.4l2.5 2.5-2.5 2.5-2.5-2.5zM597.4 365.9l2.5 2.5-2.5 2.5-2.5-2.5zM378.9 371l2.5 2.5-2.5 2.5-2.5-2.5zM636 389.7l2.5 2.5-2.5 2.5-2.5-2.5zM449 371.8l2.5 2.5-2.5 2.5-2.5-2.5zM466.4 379.8l2.5 2.5-2.5 2.5-2.5-2.5zM601.4 371.5l2.5 2.5-2.5 2.5-2.5-2.5zM436.1 384.8l2.5 2.5-2.5 2.5-2.5-2.5zM382.1 373.8l2.5 2.5-2.5 2.5-2.5-2.5zM438.3 387.8l2.5 2.5-2.5 2.5-2.5-2.5zM534.8 383.8l2.5 2.5-2.5 2.5-2.5-2.5zM523.2 387.5l2.5 2.5-2.5 2.5-2.5-2.5zM470.6 385.7l2.5 2.5-2.5 2.5-2.5-2.5zM527.8 372.6l2.5 2.5-2.5 2.5-2.5-2.5zM372.1 385.5l2.5 2.5-2.5 2.5-2.5-2.5zM382.2 386.1l2.5 2.5-2.5 2.5-2.5-2.5zM386 377.1l2.5 2.5-2.5 2.5-2.5-2.5zM622 372.2l2.5 2.5-2.5 2.5-2.5-2.5zM543.1 373.3l2.5 2.5-2.5 2.5-2.5-2.5zM645.5 376.1l2.5 2.5-2.5 2.5-2.5-2.5zM343.3 369.9l2.5 2.5-2.5 2.5-2.5-2.5zM455.6 383.3l2.5 2.5-2.5 2.5-2.5-2.5zM561.4 378.4l2.5 2.5-2.5 2.5-2.5-2.5zM395.9 380.7l2.5 2.5-2.5 2.5-2.5-2.5zM549.8 367l2.5 2.5-2.5 2.5-2.5-2.5zM499.5 388.9l2.5 2.5-2.5 2.5-2.5-2.5zM419.5 387.2l2.5 2.5-2.5 2.5-2.5-2.5zM566.7 386.3l2.5 2.5-2.5 2.5-2.5-2.5zM553.5 388.3l2.5 2.5-2.5 2.5-2.5-2.5zM527.2 374.8l2.5 2.5-2.5 2.5-2.5-2.5zM445.4 387.2l2.5 2.5-2.5 2.5-2.5-2.5zM442.9 372.2l2.5 2.5-2.5 2.5-2.5-2.5zM617.2 388l2.5 2.5-2.5 2.5-2.5-2.5zM588.1 387.3l2.5 2.5-2.5 2.5-2.5-2.5zM591.4 369.2l2.5 2.5-2.5 2.5-2.5-2.5zM426.5 379.6l2.5 2.5-2.5 2.5-2.5-2.5zM377.4 387.2l2.5 2.5-2.5 2.5-2.5-2.5zM529.9 367.1l2.5 2.5-2.5 2.5-2.5-2.5zM434.4 386.7l2.5 2.5-2.5 2.5-2.5-2.5zM404.1 371l2.5 2.5-2.5 2.5-2.5-2.5zM638.2 386.4l2.5 2.5-2.5 2.5-2.5-2.5zM412.4 383.4l2.5 2.5-2.5 2.5-2.5-2.5zM402.6 369.9l2.5 2.5-2.5 2.5-2.5-2.5zM571.1 373.3l2.5 2.5-2.5 2.5-2.5-2.5zM592 389.3l2.5 2.5-2.5 2.5-2.5-2.5zM609 372.4l2.5 2.5-2.5 2.5-2.5-2.5zM451.9 376.3l2.5 2.5-2.5 2.5-2.5-2.5zM531.4 389.3l2.5 2.5-2.5 2.5-2.5-2.5zM596.1 377l2.5 2.5-2.5 2.5-2.5-2.5zM409.1 388.2l2.5 2.5-2.5 2.5-2.5-2.5zM564.9 371.4l2.5 2.5-2.5 2.5-2.5-2.5zM483 385.4l2.5 2.5-2.5 2.5-2.5-2.5zM518.2 373.4l2.5 2.5-2.5 2.5-2.5-2.5zM523.5 384.6l2.5 2.5-2.5 2.5-2.5-2.5zM477.9 376.6l2.5 2.5-2.5 2.5-2.5-2.5z" class="q"/>
<path d="M450.3 388.4l2.5 2.5-2.5 2.5-2.5-2.5zM505.6 374.8l2.5 2.5-2.5 2.5-2.5-2.5zM457.4 376.6l2.5 2.5-2.5 2.5-2.5-2.5zM554.2 380.6l2.5 2.5-2.5 2.5-2.5-2.5zM481.6 369.8l2.5 2.5-2.5 2.5-2.5-2.5zM378.8 386.1l2.5 2.5-2.5 2.5-2.5-2.5zM534.8 389.8l2.5 2.5-2.5 2.5-2.5-2.5zM532 380.7l2.5 2.5-2.5 2.5-2.5-2.5zM433.5 378.3l2.5 2.5-2.5 2.5-2.5-2.5zM511.9 371.2l2.5 2.5-2.5 2.5-2.5-2.5zM381.3 370.2l2.5 2.5-2.5 2.5-2.5-2.5zM384.9 379.1l2.5 2.5-2.5 2.5-2.5-2.5zM375.3 382.8l2.5 2.5-2.5 2.5-2.5-2.5zM345.5 369.5l2.5 2.5-2.5 2.5-2.5-2.5zM442.1 381.5l2.5 2.5-2.5 2.5-2.5-2.5zM530.9 371.7l2.5 2.5-2.5 2.5-2.5-2.5zM604.6 377.3l2.5 2.5-2.5 2.5-2.5-2.5zM630.2 380.7l2.5 2.5-2.5 2.5-2.5-2.5zM473.7 379.2l2.5 2.5-2.5 2.5-2.5-2.5zM396.9 387.8l2.5 2.5-2.5 2.5-2.5-2.5zM519.7 383.2l2.5 2.5-2.5 2.5-2.5-2.5zM359.5 373.8l2.5 2.5-2.5 2.5-2.5-2.5zM498.4 386.8l2.5 2.5-2.5 2.5-2.5-2.5zM406.1 380.2l2.5 2.5-2.5 2.5-2.5-2.5zM466.3 373.7l2.5 2.5-2.5 2.5-2.5-2.5zM588 382.8l2.5 2.5-2.5 2.5-2.5-2.5zM645.4 385l2.5 2.5-2.5 2.5-2.5-2.5zM376.2 377.2l2.5 2.5-2.5 2.5-2.5-2.5zM538.2 383.1l2.5 2.5-2.5 2.5-2.5-2.5zM621.4 387.5l2.5 2.5-2.5 2.5-2.5-2.5zM366.7 385.1l2.5 2.5-2.5 2.5-2.5-2.5zM399.6 388.2l2.5 2.5-2.5 2.5-2.5-2.5zM412.6 389.3l2.5 2.5-2.5 2.5-2.5-2.5zM420.4 365.9l2.5 2.5-2.5 2.5-2.5-2.5zM474.1 370.3l2.5 2.5-2.5 2.5-2.5-2.5zM626.2 378.2l2.5 2.5-2.5 2.5-2.5-2.5zM527.3 382.1l2.5 2.5-2.5 2.5-2.5-2.5zM394.2 389.8l2.5 2.5-2.5 2.5-2.5-2.5zM407.6 367.1l2.5 2.5-2.5 2.5-2.5-2.5zM526.9 389.9l2.5 2.5-2.5 2.5-2.5-2.5zM630.9 381.8l2.5 2.5-2.5 2.5-2.5-2.5zM456.1 380l2.5 2.5-2.5 2.5-2.5-2.5zM549.6 388.8l2.5 2.5-2.5 2.5-2.5-2.5zM563.4 386.5l2.5 2.5-2.5 2.5-2.5-2.5zM635.5 381.4l2.5 2.5-2.5 2.5-2.5-2.5zM574.3 369.5l2.5 2.5-2.5 2.5-2.5-2.5zM433.8 385.9l2.5 2.5-2.5 2.5-2.5-2.5zM465.7 377.9l2.5 2.5-2.5 2.5-2.5-2.5zM383 389.8l2.5 2.5-2.5 2.5-2.5-2.5zM346.3 387l2.5 2.5-2.5 2.5-2.5-2.5zM482.1 374l2.5 2.5-2.5 2.5-2.5-2.5zM578.5 389.3l2.5 2.5-2.5 2.5-2.5-2.5zM585.7 371.5l2.5 2.5-2.5 2.5-2.5-2.5zM338.7 383.3l2.5 2.5-2.5 2.5-2.5-2.5zM594.5 366.2l2.5 2.5-2.5 2.5-2.5-2.5zM550.4 378l2.5 2.5-2.5 2.5-2.5-2.5zM427.4 389.1l2.5 2.5-2.5 2.5-2.5-2.5zM384 388l2.5 2.5-2.5 2.5-2.5-2.5zM495 373.8l2.5 2.5-2.5 2.5-2.5-2.5zM420.5 375.6l2.5 2.5-2.5 2.5-2.5-2.5zM521.3 369.3l2.5 2.5-2.5 2.5-2.5-2.5zM394.4 385.4l2.5 2.5-2.5 2.5-2.5-2.5zM397.2 373.3l2.5 2.5-2.5 2.5-2.5-2.5zM498.2 384.1l2.5 2.5-2.5 2.5-2.5-2.5zM461.2 380.9l2.5 2.5-2.5 2.5-2.5-2.5zM411.3 389.6l2.5 2.5-2.5 2.5-2.5-2.5zM418.3 378.8l2.5 2.5-2.5 2.5-2.5-2.5zM443.9 384.8l2.5 2.5-2.5 2.5-2.5-2.5zM565.8 368l2.5 2.5-2.5 2.5-2.5-2.5zM601.4 389.3l2.5 2.5-2.5 2.5-2.5-2.5zM434 382.8l2.5 2.5-2.5 2.5-2.5-2.5zM495 384l2.5 2.5-2.5 2.5-2.5-2.5zM606.6 366.3l2.5 2.5-2.5 2.5-2.5-2.5zM408.1 386.2l2.5 2.5-2.5 2.5-2.5-2.5zM640.6 374.9l2.5 2.5-2.5 2.5-2.5-2.5zM360.2 390l2.5 2.5-2.5 2.5-2.5-2.5zM362.5 373l2.5 2.5-2.5 2.5-2.5-2.5zM624 387.9l2.5 2.5-2.5 2.5-2.5-2.5zM608.6 390.1l2.5 2.5-2.5 2.5-2.5-2.5zM442.7 389.3l2.5 2.5-2.5 2.5-2.5-2.5zM578.4 370.5l2.5 2.5-2.5 2.5-2.5-2.5zM576.5 371.7l2.5 2.5-2.5 2.5-2.5-2.5zM389.4 389.8l2.5 2.5-2.5 2.5-2.5-2.5zM425.6 383.8l2.5 2.5-2.5 2.5-2.5-2.5zM465 377.6l2.5 2.5-2.5 2.5-2.5-2.5zM477.3 390.1l2.5 2.5-2.5 2.5-2.5-2.5zM542.3 381.6l2.5 2.5-2.5 2.5-2.5-2.5zM416.3 382.4l2.5 2.5-2.5 2.5-2.5-2.5zM492.2 375.3l2.5 2.5-2.5 2.5-2.5-2.5zM568.9 389.8l2.5 2.5-2.5 2.5-2.5-2.5zM636.9 382.4l2.5 2.5-2.5 2.5-2.5-2.5zM407.5 367.8l2.5 2.5-2.5 2.5-2.5-2.5zM378.7 387.9l2.5 2.5-2.5 2.5-2.5-2.5zM523.4 374.1l2.5 2.5-2.5 2.5-2.5-2.5zM554.7 384l2.5 2.5-2.5 2.5-2.5-2.5zM454.8 389.4l2.5 2.5-2.5 2.5-2.5-2.5zM391.2 383.5l2.5 2.5-2.5 2.5-2.5-2.5zM546.8 385.2l2.5 2.5-2.5 2.5-2.5-2.5zM424.3 384.5l2.5 2.5-2.5 2.5-2.5-2.5zM586.9 377l2.5 2.5-2.5 2.5-2.5-2.5zM340 388.4l2.5 2.5-2.5 2.5-2.5-2.5zM385.9 374.4l2.5 2.5-2.5 2.5-2.5-2.5zM404.5 384.2l2.5 2.5-2.5 2.5-2.5-2.5zM377.3 389.6l2.5 2.5-2.5 2.5-2.5-2.5zM507.6 385.1l2.5 2.5-2.5 2.5-2.5-2.5zM381 379.6l2.5 2.5-2.5 2.5-2.5-2.5zM406.9 389.5l2.5 2.5-2.5 2.5-2.5-2.5zM589.4 388.6l2.5 2.5-2.5 2.5-2.5-2.5zM612.1 366.7l2.5 2.5-2.5 2.5-2.5-2.5zM462.8 381.7l2.5 2.5-2.5 2.5-2.5-2.5zM380.3 389.9l2.5 2.5-2.5 2.5-2.5-2.5zM495.4 379.7l2.5 2.5-2.5 2.5-2.5-2.5zM455.4 386.8l2.5 2.5-2.5 2.5-2.5-2.5zM428.2 380.9l2.5 2.5-2.5 2.5-2.5-2.5zM412.2 374.2l2.5 2.5-2.5 2.5-2.5-2.5zM351.5 369.7l2.5 2.5-2.5 2.5-2.5-2.5zM343.8 389.9l2.5 2.5-2.5 2.5-2.5-2.5zM599.2 376.1l2.5 2.5-2.5 2.5-2.5-2.5zM456.6 369.4l2.5 2.5-2.5 2.5-2.5-2.5zM415.4 366l2.5 2.5-2.5 2.5-2.5-2.5z" class="q"/>
<path d="M398.3 388.7l2.5 2.5-2.5 2.5-2.5-2.5zM577.7 379.6l2.5 2.5-2.5 2.5-2.5-2.5zM617.1 389.2l2.5 2.5-2.5 2.5-2.5-2.5zM496.2 374.1l2.5 2.5-2.5 2.5-2.5-2.5zM508.9 368l2.5 2.5-2.5 2.5-2.5-2.5zM535.3 377.2l2.5 2.5-2.5 2.5-2.5-2.5zM437.4 379.3l2.5 2.5-2.5 2.5-2.5-2.5zM620.2 382.5l2.5 2.5-2.5 2.5-2.5-2.5zM619.1 383.3l2.5 2.5-2.5 2.5-2.5-2.5zM534.4 382l2.5 2.5-2.5 2.5-2.5-2.5zM482.8 381.8l2.5 2.5-2.5 2.5-2.5-2.5zM500 379l2.5 2.5-2.5 2.5-2.5-2.5zM546 388.3l2.5 2.5-2.5 2.5-2.5-2.5zM335.5 366.1l2.5 2.5-2.5 2.5-2.5-2.5zM627.9 377.9l2.5 2.5-2.5 2.5-2.5-2.5zM424.5 371.6l2.5 2.5-2.5 2.5-2.5-2.5zM518.8 384l2.5 2.5-2.5 2.5-2.5-2.5zM613.4 386.4l2.5 2.5-2.5 2.5-2.5-2.5zM350.8 389.2l2.5 2.5-2.5 2.5-2.5-2.5zM458.1 386l2.5 2.5-2.5 2.5-2.5-2.5zM412.8 366l2.5 2.5-2.5 2.5-2.5-2.5zM562 373.3l2.5 2.5-2.5 2.5-2.5-2.5zM636.4 366.9l2.5 2.5-2.5 2.5-2.5-2.5zM348.8 375l2.5 2.5-2.5 2.5-2.5-2.5zM622.6 380.9l2.5 2.5-2.5 2.5-2.5-2.5zM635.4 383.9l2.5 2.5-2.5 2.5-2.5-2.5zM381 374.8l2.5 2.5-2.5 2.5-2.5-2.5zM407.7 373l2.5 2.5-2.5 2.5-2.5-2.5zM570.3 374.4l2.5 2.5-2.5 2.5-2.5-2.5zM591.3 389.2l2.5 2.5-2.5 2.5-2.5-2.5zM356.8 385.9l2.5 2.5-2.5 2.5-2.5-2.5zM594.6 385.5l2.5 2.5-2.5 2.5-2.5-2.5zM479 368.4l2.5 2.5-2.5 2.5-2.5-2.5zM551.2 384.5l2.5 2.5-2.5 2.5-2.5-2.5zM520.2 389.4l2.5 2.5-2.5 2.5-2.5-2.5zM349.2 368.6l2.5 2.5-2.5 2.5-2.5-2.5zM501.3 383.1l2.5 2.5-2.5 2.5-2.5-2.5zM592.2 366.7l2.5 2.5-2.5 2.5-2.5-2.5zM543.7 388.4l2.5 2.5-2.5 2.5-2.5-2.5zM493.9 379.7l2.5 2.5-2.5 2.5-2.5-2.5zM458.3 385.5l2.5 2.5-2.5 2.5-2.5-2.5zM469 386.3l2.5 2.5-2.5 2.5-2.5-2.5zM635.6 366l2.5 2.5-2.5 2.5-2.5-2.5zM389.7 373l2.5 2.5-2.5 2.5-2.5-2.5zM542.9 377l2.5 2.5-2.5 2.5-2.5-2.5zM585.4 390.1l2.5 2.5-2.5 2.5-2.5-2.5zM603.8 375.6l2.5 2.5-2.5 2.5-2.5-2.5zM543 389.3l2.5 2.5-2.5 2.5-2.5-2.5zM629.1 372.5l2.5 2.5-2.5 2.5-2.5-2.5zM616 387.8l2.5 2.5-2.5 2.5-2.5-2.5zM609.5 386.1l2.5 2.5-2.5 2.5-2.5-2.5zM453.6 376.6l2.5 2.5-2.5 2.5-2.5-2.5zM370.2 377.8l2.5 2.5-2.5 2.5-2.5-2.5zM557 384.8l2.5 2.5-2.5 2.5-2.5-2.5zM589.3 372.2l2.5 2.5-2.5 2.5-2.5-2.5zM455.9 389.4l2.5 2.5-2.5 2.5-2.5-2.5zM626.8 379.2l2.5 2.5-2.5 2.5-2.5-2.5zM448.9 387.8l2.5 2.5-2.5 2.5-2.5-2.5zM622.3 381.6l2.5 2.5-2.5 2.5-2.5-2.5zM645.6 389.4l2.5 2.5-2.5 2.5-2.5-2.5zM618.5 389.9l2.5 2.5-2.5 2.5-2.5-2.5zM385.1 379.5l2.5 2.5-2.5 2.5-2.5-2.5zM381.2 378.4l2.5 2.5-2.5 2.5-2.5-2.5zM475.8 386.2l2.5 2.5-2.5 2.5-2.5-2.5zM433.6 367.7l2.5 2.5-2.5 2.5-2.5-2.5zM361.6 385.9l2.5 2.5-2.5 2.5-2.5-2.5zM485.6 371.4l2.5 2.5-2.5 2.5-2.5-2.5zM447.5 385.1l2.5 2.5-2.5 2.5-2.5-2.5zM576.4 389.3l2.5 2.5-2.5 2.5-2.5-2.5zM547.3 374.4l2.5 2.5-2.5 2.5-2.5-2.5zM645.4 368.4l2.5 2.5-2.5 2.5-2.5-2.5zM418.9 384.6l2.5 2.5-2.5 2.5-2.5-2.5zM460.3 387.7l2.5 2.5-2.5 2.5-2.5-2.5zM423.7 381.1l2.5 2.5-2.5 2.5-2.5-2.5zM382.8 386.3l2.5 2.5-2.5 2.5-2.5-2.5zM595.8 390l2.5 2.5-2.5 2.5-2.5-2.5zM415.6 385.6l2.5 2.5-2.5 2.5-2.5-2.5zM405.6 382.1l2.5 2.5-2.5 2.5-2.5-2.5zM503.2 370l2.5 2.5-2.5 2.5-2.5-2.5zM383.3 381.1l2.5 2.5-2.5 2.5-2.5-2.5zM489.6 385.2l2.5 2.5-2.5 2.5-2.5-2.5zM460.3 373.6l2.5 2.5-2.5 2.5-2.5-2.5zM363.8 376.6l2.5 2.5-2.5 2.5-2.5-2.5zM382.3 376.6l2.5 2.5-2.5 2.5-2.5-2.5zM442.5 389.6l2.5 2.5-2.5 2.5-2.5-2.5zM394 389.7l2.5 2.5-2.5 2.5-2.5-2.5zM605.4 389l2.5 2.5-2.5 2.5-2.5-2.5zM440.4 380.6l2.5 2.5-2.5 2.5-2.5-2.5zM426.1 373l2.5 2.5-2.5 2.5-2.5-2.5zM421 377.8l2.5 2.5-2.5 2.5-2.5-2.5zM516.5 380.6l2.5 2.5-2.5 2.5-2.5-2.5zM422.2 385.8l2.5 2.5-2.5 2.5-2.5-2.5zM543.3 385.6l2.5 2.5-2.5 2.5-2.5-2.5zM344.9 387.2l2.5 2.5-2.5 2.5-2.5-2.5zM597.9 386.2l2.5 2.5-2.5 2.5-2.5-2.5zM426.3 374.7l2.5 2.5-2.5 2.5-2.5-2.5zM405.3 372.3l2.5 2.5-2.5 2.5-2.5-2.5zM457.4 381.4l2.5 2.5-2.5 2.5-2.5-2.5zM467.3 380.4l2.5 2.5-2.5 2.5-2.5-2.5zM373.1 390l2.5 2.5-2.5 2.5-2.5-2.5zM597.5 383.7l2.5 2.5-2.5 2.5-2.5-2.5zM527.9 379.7l2.5 2.5-2.5 2.5-2.5-2.5zM459 388.6l2.5 2.5-2.5 2.5-2.5-2.5zM334.9 383l2.5 2.5-2.5 2.5-2.5-2.5zM367 388.5l2.5 2.5-2.5 2.5-2.5-2.5zM377.6 380.1l2.5 2.5-2.5 2.5-2.5-2.5zM486.6 379.1l2.5 2.5-2.5 2.5-2.5-2.5zM623.1 366.8l2.5 2.5-2.5 2.5-2.5-2.5zM579.5 366.5l2.5 2.5-2.5 2.5-2.5-2.5zM572.3 383.1l2.5 2.5-2.5 2.5-2.5-2.5zM585.9 369.7l2.5 2.5-2.5 2.5-2.5-2.5zM397.4 389.6l2.5 2.5-2.5 2.5-2.5-2.5zM485.5 384.5l2.5 2.5-2.5 2.5-2.5-2.5zM618 384.6l2.5 2.5-2.5 2.5-2.5-2.5zM559.8 388.7l2.5 2.5-2.5 2.5-2.5-2.5zM372.6 381.8l2.5 2.5-2.5 2.5-2.5-2.5zM585.6 380.4l2.5 2.5-2.5 2.5-2.5-2.5zM343.1 388.6l2.5 2.5-2.5 2.5-2.5-2.5zM577.1 384.3l2.5 2.5-2.5 2.5-2.5-2.5zM606.6 366.3l2.5 2.5-2.5 2.5-2.5-2.5z" class="q"/>
<path d="M500.4 379.3l2.5 2.5-2.5 2.5-2.5-2.5zM388.3 376l2.5 2.5-2.5 2.5-2.5-2.5zM453.1 389.9l2.5 2.5-2.5 2.5-2.5-2.5zM493.6 374.2l2.5 2.5-2.5 2.5-2.5-2.5zM605 375.2l2.5 2.5-2.5 2.5-2.5-2.5zM436.2 388.3l2.5 2.5-2.5 2.5-2.5-2.5zM455.2 387.1l2.5 2.5-2.5 2.5-2.5-2.5zM486.2 386.7l2.5 2.5-2.5 2.5-2.5-2.5zM337.7 387.6l2.5 2.5-2.5 2.5-2.5-2.5zM387.3 367.5l2.5 2.5-2.5 2.5-2.5-2.5zM428.4 390l2.5 2.5-2.5 2.5-2.5-2.5zM559.9 371.2l2.5 2.5-2.5 2.5-2.5-2.5zM345.3 385.6l2.5 2.5-2.5 2.5-2.5-2.5zM511.1 387.7l2.5 2.5-2.5 2.5-2.5-2.5zM606.9 377.6l2.5 2.5-2.5 2.5-2.5-2.5zM417.9 389.8l2.5 2.5-2.5 2.5-2.5-2.5zM512.2 389.8l2.5 2.5-2.5 2.5-2.5-2.5zM522.1 384.4l2.5 2.5-2.5 2.5-2.5-2.5zM445.1 377.1l2.5 2.5-2.5 2.5-2.5-2.5zM401.4 389.4l2.5 2.5-2.5 2.5-2.5-2.5zM375.1 366.2l2.5 2.5-2.5 2.5-2.5-2.5zM511.7 373.9l2.5 2.5-2.5 2.5-2.5-2.5zM634.2 385.9l2.5 2.5-2.5 2.5-2.5-2.5zM519.1 384.7l2.5 2.5-2.5 2.5-2.5-2.5zM377.8 385.3l2.5 2.5-2.5 2.5-2.5-2.5zM615.5 375.4l2.5 2.5-2.5 2.5-2.5-2.5zM468.7 380.8l2.5 2.5-2.5 2.5-2.5-2.5zM415.3 378.8l2.5 2.5-2.5 2.5-2.5-2.5zM378.1 382.2l2.5 2.5-2.5 2.5-2.5-2.5zM354.5 386.2l2.5 2.5-2.5 2.5-2.5-2.5zM352.6 388.1l2.5 2.5-2.5 2.5-2.5-2.5zM446.7 386.9l2.5 2.5-2.5 2.5-2.5-2.5zM558.9 375.1l2.5 2.5-2.5 2.5-2.5-2.5zM538.4 383.8l2.5 2.5-2.5 2.5-2.5-2.5zM557.9 380.6l2.5 2.5-2.5 2.5-2.5-2.5zM445.4 386l2.5 2.5-2.5 2.5-2.5-2.5zM592.6 388.3l2.5 2.5-2.5 2.5-2.5-2.5zM415 388.3l2.5 2.5-2.5 2.5-2.5-2.5zM532.7 381.4l2.5 2.5-2.5 2.5-2.5-2.5zM427.8 389.3l2.5 2.5-2.5 2.5-2.5-2.5zM473 380.3l2.5 2.5-2.5 2.5-2.5-2.5zM641.5 387.7l2.5 2.5-2.5 2.5-2.5-2.5zM556.6 382.9l2.5 2.5-2.5 2.5-2.5-2.5zM404.3 387.8l2.5 2.5-2.5 2.5-2.5-2.5zM352.2 390l2.5 2.5-2.5 2.5-2.5-2.5zM414.9 368.8l2.5 2.5-2.5 2.5-2.5-2.5zM511.9 387.8l2.5 2.5-2.5 2.5-2.5-2.5zM459.4 381.5l2.5 2.5-2.5 2.5-2.5-2.5zM432.8 367.2l2.5 2.5-2.5 2.5-2.5-2.5zM370.1 373.8l2.5 2.5-2.5 2.5-2.5-2.5zM421.6 386.3l2.5 2.5-2.5 2.5-2.5-2.5zM429.6 389.8l2.5 2.5-2.5 2.5-2.5-2.5zM388.1 381.9l2.5 2.5-2.5 2.5-2.5-2.5zM538.2 380.6l2.5 2.5-2.5 2.5-2.5-2.5zM441.7 375.9l2.5 2.5-2.5 2.5-2.5-2.5zM355.6 382.3l2.5 2.5-2.5 2.5-2.5-2.5zM552.7 388l2.5 2.5-2.5 2.5-2.5-2.5zM583.2 382.7l2.5 2.5-2.5 2.5-2.5-2.5zM573.7 382.8l2.5 2.5-2.5 2.5-2.5-2.5zM505.7 369.1l2.5 2.5-2.5 2.5-2.5-2.5zM423.2 375.8l2.5 2.5-2.5 2.5-2.5-2.5zM461.2 383.6l2.5 2.5-2.5 2.5-2.5-2.5zM392 386.1l2.5 2.5-2.5 2.5-2.5-2.5zM364 377.9l2.5 2.5-2.5 2.5-2.5-2.5zM357.2 389.3l2.5 2.5-2.5 2.5-2.5-2.5zM525.2 386l2.5 2.5-2.5 2.5-2.5-2.5zM624.6 385.4l2.5 2.5-2.5 2.5-2.5-2.5zM394.5 390.1l2.5 2.5-2.5 2.5-2.5-2.5zM515.9 385.8l2.5 2.5-2.5 2.5-2.5-2.5zM630.1 369.5l2.5 2.5-2.5 2.5-2.5-2.5zM336.9 387.2l2.5 2.5-2.5 2.5-2.5-2.5zM501.6 372.3l2.5 2.5-2.5 2.5-2.5-2.5zM455.4 376.3l2.5 2.5-2.5 2.5-2.5-2.5zM363.2 373.5l2.5 2.5-2.5 2.5-2.5-2.5zM449 389.6l2.5 2.5-2.5 2.5-2.5-2.5zM593 376.3l2.5 2.5-2.5 2.5-2.5-2.5zM433.6 377.6l2.5 2.5-2.5 2.5-2.5-2.5zM383.3 387.8l2.5 2.5-2.5 2.5-2.5-2.5zM556.9 382.8l2.5 2.5-2.5 2.5-2.5-2.5zM595.4 390l2.5 2.5-2.5 2.5-2.5-2.5zM549.5 373.8l2.5 2.5-2.5 2.5-2.5-2.5zM491 366.1l2.5 2.5-2.5 2.5-2.5-2.5zM423.9 374.8l2.5 2.5-2.5 2.5-2.5-2.5zM364.6 372.6l2.5 2.5-2.5 2.5-2.5-2.5zM339.2 385.9l2.5 2.5-2.5 2.5-2.5-2.5zM537.1 374.5l2.5 2.5-2.5 2.5-2.5-2.5zM404.4 367.5l2.5 2.5-2.5 2.5-2.5-2.5zM531.6 388.4l2.5 2.5-2.5 2.5-2.5-2.5zM411.6 389.9l2.5 2.5-2.5 2.5-2.5-2.5zM344 374.9l2.5 2.5-2.5 2.5-2.5-2.5zM521.2 370.2l2.5 2.5-2.5 2.5-2.5-2.5zM632.9 383.6l2.5 2.5-2.5 2.5-2.5-2.5zM567.2 388.8l2.5 2.5-2.5 2.5-2.5-2.5zM605.1 386.4l2.5 2.5-2.5 2.5-2.5-2.5zM389 387.9l2.5 2.5-2.5 2.5-2.5-2.5zM369.1 379.3l2.5 2.5-2.5 2.5-2.5-2.5zM392.2 372.9l2.5 2.5-2.5 2.5-2.5-2.5zM340.6 368.3l2.5 2.5-2.5 2.5-2.5-2.5zM616.1 366l2.5 2.5-2.5 2.5-2.5-2.5zM473.3 383.1l2.5 2.5-2.5 2.5-2.5-2.5zM572.3 379.8l2.5 2.5-2.5 2.5-2.5-2.5zM493.2 388.3l2.5 2.5-2.5 2.5-2.5-2.5zM602.1 388.9l2.5 2.5-2.5 2.5-2.5-2.5zM345.7 389.9l2.5 2.5-2.5 2.5-2.5-2.5zM353.6 388l2.5 2.5-2.5 2.5-2.5-2.5zM433.5 376.9l2.5 2.5-2.5 2.5-2.5-2.5zM350.6 378.3l2.5 2.5-2.5 2.5-2.5-2.5zM340 380.6l2.5 2.5-2.5 2.5-2.5-2.5zM552.6 387l2.5 2.5-2.5 2.5-2.5-2.5zM522.8 371.4l2.5 2.5-2.5 2.5-2.5-2.5zM556.5 369.6l2.5 2.5-2.5 2.5-2.5-2.5zM644.3 378.6l2.5 2.5-2.5 2.5-2.5-2.5zM558.7 388l2.5 2.5-2.5 2.5-2.5-2.5zM619.7 382l2.5 2.5-2.5 2.5-2.5-2.5zM448.8 382.2l2.5 2.5-2.5 2.5-2.5-2.5zM433.4 389.1l2.5 2.5-2.5 2.5-2.5-2.5zM529.6 381l2.5 2.5-2.5 2.5-2.5-2.5zM572.9 385.1l2.5 2.5-2.5 2.5-2.5-2.5zM381.5 390l2.5 2.5-2.5 2.5-2.5-2.5zM569.7 386.1l2.5 2.5-2.5 2.5-2.5-2.5z" class="q"/>
<path d="M487 372.1l2.5 2.5-2.5 2.5-2.5-2.5zM645.6 374.6l2.5 2.5-2.5 2.5-2.5-2.5zM517 372.8l2.5 2.5-2.5 2.5-2.5-2.5zM588.7 368.1l2.5 2.5-2.5 2.5-2.5-2.5zM634.9 388l2.5 2.5-2.5 2.5-2.5-2.5zM452.8 388.3l2.5 2.5-2.5 2.5-2.5-2.5zM452.8 375.2l2.5 2.5-2.5 2.5-2.5-2.5zM552.2 378.3l2.5 2.5-2.5 2.5-2.5-2.5zM387 384.9l2.5 2.5-2.5 2.5-2.5-2.5zM521.6 387.1l2.5 2.5-2.5 2.5-2.5-2.5zM537.6 384.2l2.5 2.5-2.5 2.5-2.5-2.5zM610 378.1l2.5 2.5-2.5 2.5-2.5-2.5zM559.5 390l2.5 2.5-2.5 2.5-2.5-2.5zM616.8 382.4l2.5 2.5-2.5 2.5-2.5-2.5zM456.1 380.3l2.5 2.5-2.5 2.5-2.5-2.5zM460.5 378l2.5 2.5-2.5 2.5-2.5-2.5zM643.6 386.6l2.5 2.5-2.5 2.5-2.5-2.5zM624.2 371l2.5 2.5-2.5 2.5-2.5-2.5zM572.9 366.5l2.5 2.5-2.5 2.5-2.5-2.5zM538 387l2.5 2.5-2.5 2.5-2.5-2.5zM346.8 390l2.5 2.5-2.5 2.5-2.5-2.5zM334.3 387.1l2.5 2.5-2.5 2.5-2.5-2.5zM429.2 382.2l2.5 2.5-2.5 2.5-2.5-2.5zM582.4 378l2.5 2.5-2.5 2.5-2.5-2.5zM554.7 371.1l2.5 2.5-2.5 2.5-2.5-2.5zM426.6 378l2.5 2.5-2.5 2.5-2.5-2.5zM565 390l2.5 2.5-2.5 2.5-2.5-2.5zM340.6 385.4l2.5 2.5-2.5 2.5-2.5-2.5zM350.4 371.4l2.5 2.5-2.5 2.5-2.5-2.5zM379.1 372.2l2.5 2.5-2.5 2.5-2.5-2.5zM431.5 390l2.5 2.5-2.5 2.5-2.5-2.5zM559.5 388.9l2.5 2.5-2.5 2.5-2.5-2.5zM542.7 368.6l2.5 2.5-2.5 2.5-2.5-2.5zM357.1 381.9l2.5 2.5-2.5 2.5-2.5-2.5zM496.5 385.4l2.5 2.5-2.5 2.5-2.5-2.5zM542 381.4l2.5 2.5-2.5 2.5-2.5-2.5zM469.7 373.6l2.5 2.5-2.5 2.5-2.5-2.5zM552.1 387.3l2.5 2.5-2.5 2.5-2.5-2.5zM357 377.6l2.5 2.5-2.5 2.5-2.5-2.5zM407.3 375l2.5 2.5-2.5 2.5-2.5-2.5zM481.9 367.8l2.5 2.5-2.5 2.5-2.5-2.5zM466.7 381.3l2.5 2.5-2.5 2.5-2.5-2.5zM361.5 366.5l2.5 2.5-2.5 2.5-2.5-2.5zM336.4 382.4l2.5 2.5-2.5 2.5-2.5-2.5zM643.9 385.3l2.5 2.5-2.5 2.5-2.5-2.5zM534.1 374l2.5 2.5-2.5 2.5-2.5-2.5zM402.3 371l2.5 2.5-2.5 2.5-2.5-2.5zM518.5 371.8l2.5 2.5-2.5 2.5-2.5-2.5zM337.3 389l2.5 2.5-2.5 2.5-2.5-2.5zM635.6 373.2l2.5 2.5-2.5 2.5-2.5-2.5zM496.9 383.2l2.5 2.5-2.5 2.5-2.5-2.5zM341.1 386.8l2.5 2.5-2.5 2.5-2.5-2.5zM368 388.7l2.5 2.5-2.5 2.5-2.5-2.5zM370.2 387.5l2.5 2.5-2.5 2.5-2.5-2.5zM550.3 369.8l2.5 2.5-2.5 2.5-2.5-2.5zM570.9 386.8l2.5 2.5-2.5 2.5-2.5-2.5zM586.8 383.3l2.5 2.5-2.5 2.5-2.5-2.5zM413.9 369.2l2.5 2.5-2.5 2.5-2.5-2.5zM640.9 388.7l2.5 2.5-2.5 2.5-2.5-2.5zM367 390.1l2.5 2.5-2.5 2.5-2.5-2.5zM557.5 383.5l2.5 2.5-2.5 2.5-2.5-2.5zM453.1 386.1l2.5 2.5-2.5 2.5-2.5-2.5zM430.1 388l2.5 2.5-2.5 2.5-2.5-2.5zM403 384.1l2.5 2.5-2.5 2.5-2.5-2.5zM454 387.6l2.5 2.5-2.5 2.5-2.5-2.5zM533.9 371.8l2.5 2.5-2.5 2.5-2.5-2.5zM570.3 370.6l2.5 2.5-2.5 2.5-2.5-2.5zM570.5 381l2.5 2.5-2.5 2.5-2.5-2.5zM481.5 384.3l2.5 2.5-2.5 2.5-2.5-2.5zM443.9 368.5l2.5 2.5-2.5 2.5-2.5-2.5zM446.1 366l2.5 2.5-2.5 2.5-2.5-2.5zM437.2 382.3l2.5 2.5-2.5 2.5-2.5-2.5zM337.2 388.7l2.5 2.5-2.5 2.5-2.5-2.5zM344.3 389.1l2.5 2.5-2.5 2.5-2.5-2.5zM454.8 384.8l2.5 2.5-2.5 2.5-2.5-2.5zM366.7 388l2.5 2.5-2.5 2.5-2.5-2.5zM553.3 375.7l2.5 2.5-2.5 2.5-2.5-2.5zM606.7 386.8l2.5 2.5-2.5 2.5-2.5-2.5zM368.7 389.9l2.5 2.5-2.5 2.5-2.5-2.5zM645.4 384.9l2.5 2.5-2.5 2.5-2.5-2.5zM622.5 373.2l2.5 2.5-2.5 2.5-2.5-2.5zM560.1 377.3l2.5 2.5-2.5 2.5-2.5-2.5zM571.6 375.3l2.5 2.5-2.5 2.5-2.5-2.5zM587.1 379.3l2.5 2.5-2.5 2.5-2.5-2.5zM512.9 377.3l2.5 2.5-2.5 2.5-2.5-2.5zM536.5 376l2.5 2.5-2.5 2.5-2.5-2.5zM528.9 384.7l2.5 2.5-2.5 2.5-2.5-2.5zM434.1 390l2.5 2.5-2.5 2.5-2.5-2.5zM566.4 389.5l2.5 2.5-2.5 2.5-2.5-2.5zM358.9 389l2.5 2.5-2.5 2.5-2.5-2.5zM641.3 357l2.5 2.5-2.5 2.5-2.5-2.5zM463.9 362.8l2.5 2.5-2.5 2.5-2.5-2.5zM640.8 360.7l2.5 2.5-2.5 2.5-2.5-2.5zM388.1 369.9l2.5 2.5-2.5 2.5-2.5-2.5zM413.3 354.8l2.5 2.5-2.5 2.5-2.5-2.5zM365.1 365.2l2.5 2.5-2.5 2.5-2.5-2.5zM552.3 371.3l2.5 2.5-2.5 2.5-2.5-2.5zM580.7 364.1l2.5 2.5-2.5 2.5-2.5-2.5zM636.4 367.2l2.5 2.5-2.5 2.5-2.5-2.5zM460.5 372.9l2.5 2.5-2.5 2.5-2.5-2.5zM358.7 368l2.5 2.5-2.5 2.5-2.5-2.5zM574 366.2l2.5 2.5-2.5 2.5-2.5-2.5zM509 355.1l2.5 2.5-2.5 2.5-2.5-2.5zM461.6 362.6l2.5 2.5-2.5 2.5-2.5-2.5zM639.5 367.5l2.5 2.5-2.5 2.5-2.5-2.5zM515.3 370.7l2.5 2.5-2.5 2.5-2.5-2.5zM429.2 368.4l2.5 2.5-2.5 2.5-2.5-2.5zM439.3 364.9l2.5 2.5-2.5 2.5-2.5-2.5zM375.2 365.5l2.5 2.5-2.5 2.5-2.5-2.5zM445.1 361.1l2.5 2.5-2.5 2.5-2.5-2.5zM581.7 372.9l2.5 2.5-2.5 2.5-2.5-2.5zM600.7 365.8l2.5 2.5-2.5 2.5-2.5-2.5zM425.8 371.5l2.5 2.5-2.5 2.5-2.5-2.5zM625.3 368.3l2.5 2.5-2.5 2.5-2.5-2.5zM572 365.8l2.5 2.5-2.5 2.5-2.5-2.5zM441.4 355l2.5 2.5-2.5 2.5-2.5-2.5zM568.3 359.8l2.5 2.5-2.5 2.5-2.5-2.5zM511.9 356l2.5 2.5-2.5 2.5-2.5-2.5zM517.1 357l2.5 2.5-2.5 2.5-2.5-2.5zM454.3 356.8l2.5 2.5-2.5 2.5-2.5-2.5z" class="q"/>
<path d="M501.3 358.6l2.5 2.5-2.5 2.5-2.5-2.5zM630.8 356.5l2.5 2.5-2.5 2.5-2.5-2.5zM374 365.2l2.5 2.5-2.5 2.5-2.5-2.5zM530 368.3l2.5 2.5-2.5 2.5-2.5-2.5zM586.5 357.5l2.5 2.5-2.5 2.5-2.5-2.5zM367.3 364.6l2.5 2.5-2.5 2.5-2.5-2.5zM445.7 371.6l2.5 2.5-2.5 2.5-2.5-2.5zM603.5 366.1l2.5 2.5-2.5 2.5-2.5-2.5zM521.2 372.1l2.5 2.5-2.5 2.5-2.5-2.5zM397.1 357.6l2.5 2.5-2.5 2.5-2.5-2.5zM415.6 364.1l2.5 2.5-2.5 2.5-2.5-2.5zM354.7 358.5l2.5 2.5-2.5 2.5-2.5-2.5zM571 364.6l2.5 2.5-2.5 2.5-2.5-2.5zM516.2 357.5l2.5 2.5-2.5 2.5-2.5-2.5zM636.6 369.9l2.5 2.5-2.5 2.5-2.5-2.5zM368.3 372.6l2.5 2.5-2.5 2.5-2.5-2.5zM608.8 355.9l2.5 2.5-2.5 2.5-2.5-2.5zM520 361.6l2.5 2.5-2.5 2.5-2.5-2.5zM434.2 357.3l2.5 2.5-2.5 2.5-2.5-2.5zM468.6 364.1l2.5 2.5-2.5 2.5-2.5-2.5zM357.9 359.6l2.5 2.5-2.5 2.5-2.5-2.5zM638.1 363.2l2.5 2.5-2.5 2.5-2.5-2.5zM385 365.8l2.5 2.5-2.5 2.5-2.5-2.5zM487.5 357.5l2.5 2.5-2.5 2.5-2.5-2.5zM574.8 357l2.5 2.5-2.5 2.5-2.5-2.5zM346.3 362.8l2.5 2.5-2.5 2.5-2.5-2.5zM626.2 362.9l2.5 2.5-2.5 2.5-2.5-2.5zM484.4 358.4l2.5 2.5-2.5 2.5-2.5-2.5zM468.5 370.6l2.5 2.5-2.5 2.5-2.5-2.5zM542.9 367.2l2.5 2.5-2.5 2.5-2.5-2.5zM481.1 352.5l2.5 2.5-2.5 2.5-2.5-2.5zM493.4 388l2.5 2.5-2.5 2.5-2.5-2.5zM484 384l2.5 2.5-2.5 2.5-2.5-2.5zM485.3 377.3l2.5 2.5-2.5 2.5-2.5-2.5zM494.1 334.6l2.5 2.5-2.5 2.5-2.5-2.5zM484.1 336.8l2.5 2.5-2.5 2.5-2.5-2.5zM491.4 385.3l2.5 2.5-2.5 2.5-2.5-2.5zM479.6 382.6l2.5 2.5-2.5 2.5-2.5-2.5zM477.2 389.8l2.5 2.5-2.5 2.5-2.5-2.5zM494.2 370.1l2.5 2.5-2.5 2.5-2.5-2.5zM486.4 378.3l2.5 2.5-2.5 2.5-2.5-2.5zM501.4 365.5l2.5 2.5-2.5 2.5-2.5-2.5zM487.1 340.9l2.5 2.5-2.5 2.5-2.5-2.5zM485 347.5l2.5 2.5-2.5 2.5-2.5-2.5zM485.7 335.7l2.5 2.5-2.5 2.5-2.5-2.5zM471.8 362.5l2.5 2.5-2.5 2.5-2.5-2.5zM482.3 375.5l2.5 2.5-2.5 2.5-2.5-2.5zM497.6 371.3l2.5 2.5-2.5 2.5-2.5-2.5zM486.9 377.7l2.5 2.5-2.5 2.5-2.5-2.5zM491.9 359.7l2.5 2.5-2.5 2.5-2.5-2.5zM496.2 339.9l2.5 2.5-2.5 2.5-2.5-2.5zM494.1 366.5l2.5 2.5-2.5 2.5-2.5-2.5zM489.9 343.6l2.5 2.5-2.5 2.5-2.5-2.5zM494.6 346.9l2.5 2.5-2.5 2.5-2.5-2.5zM484.5 355.3l2.5 2.5-2.5 2.5-2.5-2.5zM498.4 381.8l2.5 2.5-2.5 2.5-2.5-2.5zM483.7 372.9l2.5 2.5-2.5 2.5-2.5-2.5zM486.3 361.5l2.5 2.5-2.5 2.5-2.5-2.5zM475.2 360.7l2.5 2.5-2.5 2.5-2.5-2.5zM483.4 339l2.5 2.5-2.5 2.5-2.5-2.5zM479.2 344.1l2.5 2.5-2.5 2.5-2.5-2.5zM485.8 360l2.5 2.5-2.5 2.5-2.5-2.5zM478.1 355.5l2.5 2.5-2.5 2.5-2.5-2.5zM479.1 338.2l2.5 2.5-2.5 2.5-2.5-2.5zM496.2 388.6l2.5 2.5-2.5 2.5-2.5-2.5zM495.6 357.7l2.5 2.5-2.5 2.5-2.5-2.5zM502.8 379.6l2.5 2.5-2.5 2.5-2.5-2.5zM476.6 383l2.5 2.5-2.5 2.5-2.5-2.5zM483.3 381.7l2.5 2.5-2.5 2.5-2.5-2.5zM497.1 369.8l2.5 2.5-2.5 2.5-2.5-2.5zM493.7 359.7l2.5 2.5-2.5 2.5-2.5-2.5zM482.1 377.7l2.5 2.5-2.5 2.5-2.5-2.5zM497.2 371.7l2.5 2.5-2.5 2.5-2.5-2.5zM501.5 347.5l2.5 2.5-2.5 2.5-2.5-2.5zM487.3 384.5l2.5 2.5-2.5 2.5-2.5-2.5zM478.2 335l2.5 2.5-2.5 2.5-2.5-2.5zM487.7 348.5l2.5 2.5-2.5 2.5-2.5-2.5zM472.4 345.3l2.5 2.5-2.5 2.5-2.5-2.5zM481.7 355l2.5 2.5-2.5 2.5-2.5-2.5zM483.6 358.8l2.5 2.5-2.5 2.5-2.5-2.5zM479.5 347.9l2.5 2.5-2.5 2.5-2.5-2.5zM495.2 386.5l2.5 2.5-2.5 2.5-2.5-2.5zM485 374.3l2.5 2.5-2.5 2.5-2.5-2.5zM491.1 381.1l2.5 2.5-2.5 2.5-2.5-2.5zM497.9 351.2l2.5 2.5-2.5 2.5-2.5-2.5zM484.2 362.7l2.5 2.5-2.5 2.5-2.5-2.5zM496.9 375.6l2.5 2.5-2.5 2.5-2.5-2.5zM485.9 342.9l2.5 2.5-2.5 2.5-2.5-2.5zM483.3 366.9l2.5 2.5-2.5 2.5-2.5-2.5zM487.9 339.1l2.5 2.5-2.5 2.5-2.5-2.5zM471.2 360.1l2.5 2.5-2.5 2.5-2.5-2.5zM485 356.2l2.5 2.5-2.5 2.5-2.5-2.5zM486 341.5l2.5 2.5-2.5 2.5-2.5-2.5zM485.7 340.7l2.5 2.5-2.5 2.5-2.5-2.5zM494.2 364.7l2.5 2.5-2.5 2.5-2.5-2.5zM495.2 359.7l2.5 2.5-2.5 2.5-2.5-2.5zM484 389.8l2.5 2.5-2.5 2.5-2.5-2.5zM485.9 364.4l2.5 2.5-2.5 2.5-2.5-2.5zM496.9 385.9l2.5 2.5-2.5 2.5-2.5-2.5zM483.6 353.4l2.5 2.5-2.5 2.5-2.5-2.5zM496.4 362.4l2.5 2.5-2.5 2.5-2.5-2.5zM489.1 351.5l2.5 2.5-2.5 2.5-2.5-2.5zM483.2 385.1l2.5 2.5-2.5 2.5-2.5-2.5zM477.4 374.7l2.5 2.5-2.5 2.5-2.5-2.5zM485.6 352.7l2.5 2.5-2.5 2.5-2.5-2.5zM492.5 360l2.5 2.5-2.5 2.5-2.5-2.5zM476.4 380l2.5 2.5-2.5 2.5-2.5-2.5zM489.6 373.7l2.5 2.5-2.5 2.5-2.5-2.5zM494.1 350.6l2.5 2.5-2.5 2.5-2.5-2.5zM508.9 382.6l2.5 2.5-2.5 2.5-2.5-2.5zM494.3 344.3l2.5 2.5-2.5 2.5-2.5-2.5zM489.1 374.3l2.5 2.5-2.5 2.5-2.5-2.5zM499.5 389l2.5 2.5-2.5 2.5-2.5-2.5zM494.2 335.9l2.5 2.5-2.5 2.5-2.5-2.5zM488.1 374.4l2.5 2.5-2.5 2.5-2.5-2.5zM492.4 386.7l2.5 2.5-2.5 2.5-2.5-2.5zM482.7 385.8l2.5 2.5-2.5 2.5-2.5-2.5zM503 359.2l2.5 2.5-2.5 2.5-2.5-2.5zM484.9 374.8l2.5 2.5-2.5 2.5-2.5-2.5zM485.8 360.1l2.5 2.5-2.5 2.5-2.5-2.5z" class="q"/>
<path d="M477.6 383.6l2.5 2.5-2.5 2.5-2.5-2.5zM490.1 381.2l2.5 2.5-2.5 2.5-2.5-2.5zM492.4 360l2.5 2.5-2.5 2.5-2.5-2.5zM500.7 359.9l2.5 2.5-2.5 2.5-2.5-2.5zM492.9 357.7l2.5 2.5-2.5 2.5-2.5-2.5zM485.5 349.1l2.5 2.5-2.5 2.5-2.5-2.5zM486.9 372l2.5 2.5-2.5 2.5-2.5-2.5zM490.5 371l2.5 2.5-2.5 2.5-2.5-2.5zM496.8 364.4l2.5 2.5-2.5 2.5-2.5-2.5zM488.4 378.6l2.5 2.5-2.5 2.5-2.5-2.5zM490 346.4l2.5 2.5-2.5 2.5-2.5-2.5zM501.6 378.3l2.5 2.5-2.5 2.5-2.5-2.5zM491.9 384l2.5 2.5-2.5 2.5-2.5-2.5zM482.1 350l2.5 2.5-2.5 2.5-2.5-2.5zM478.4 381.6l2.5 2.5-2.5 2.5-2.5-2.5zM491.7 373.5l2.5 2.5-2.5 2.5-2.5-2.5zM508.2 348.6l2.5 2.5-2.5 2.5-2.5-2.5zM481.2 369.1l2.5 2.5-2.5 2.5-2.5-2.5zM484.6 372.5l2.5 2.5-2.5 2.5-2.5-2.5zM478.4 346.8l2.5 2.5-2.5 2.5-2.5-2.5zM484.4 382l2.5 2.5-2.5 2.5-2.5-2.5zM496.5 375.3l2.5 2.5-2.5 2.5-2.5-2.5zM494.8 368.9l2.5 2.5-2.5 2.5-2.5-2.5zM482.9 344.2l2.5 2.5-2.5 2.5-2.5-2.5zM486 369.5l2.5 2.5-2.5 2.5-2.5-2.5zM494.3 369.8l2.5 2.5-2.5 2.5-2.5-2.5zM476.4 347.7l2.5 2.5-2.5 2.5-2.5-2.5zM500.7 388.3l2.5 2.5-2.5 2.5-2.5-2.5zM488.4 348.3l2.5 2.5-2.5 2.5-2.5-2.5zM495.8 336.1l2.5 2.5-2.5 2.5-2.5-2.5zM487.7 377l2.5 2.5-2.5 2.5-2.5-2.5zM485.3 389.4l2.5 2.5-2.5 2.5-2.5-2.5zM494.8 334.6l2.5 2.5-2.5 2.5-2.5-2.5zM479 377.7l2.5 2.5-2.5 2.5-2.5-2.5zM484.8 388.1l2.5 2.5-2.5 2.5-2.5-2.5zM495.9 384.7l2.5 2.5-2.5 2.5-2.5-2.5zM481.5 370.7l2.5 2.5-2.5 2.5-2.5-2.5zM478.9 379.8l2.5 2.5-2.5 2.5-2.5-2.5zM500.4 361.5l2.5 2.5-2.5 2.5-2.5-2.5zM493.3 339.4l2.5 2.5-2.5 2.5-2.5-2.5zM476.1 346.8l2.5 2.5-2.5 2.5-2.5-2.5zM490.3 378.8l2.5 2.5-2.5 2.5-2.5-2.5zM494.2 376.3l2.5 2.5-2.5 2.5-2.5-2.5zM485.2 387.2l2.5 2.5-2.5 2.5-2.5-2.5zM479.3 339.6l2.5 2.5-2.5 2.5-2.5-2.5zM487.6 362.1l2.5 2.5-2.5 2.5-2.5-2.5zM477.8 335.9l2.5 2.5-2.5 2.5-2.5-2.5zM480.9 381.5l2.5 2.5-2.5 2.5-2.5-2.5zM491.5 359.9l2.5 2.5-2.5 2.5-2.5-2.5zM499.5 376.4l2.5 2.5-2.5 2.5-2.5-2.5zM483.2 337.4l2.5 2.5-2.5 2.5-2.5-2.5zM482.9 379l2.5 2.5-2.5 2.5-2.5-2.5zM507.8 362.1l2.5 2.5-2.5 2.5-2.5-2.5zM488.8 378.6l2.5 2.5-2.5 2.5-2.5-2.5zM487.3 373.2l2.5 2.5-2.5 2.5-2.5-2.5zM487.1 339l2.5 2.5-2.5 2.5-2.5-2.5zM490.3 349.4l2.5 2.5-2.5 2.5-2.5-2.5zM488.5 354.6l2.5 2.5-2.5 2.5-2.5-2.5zM487.5 370l2.5 2.5-2.5 2.5-2.5-2.5zM487.1 342.9l2.5 2.5-2.5 2.5-2.5-2.5zM490 293.5l2.5 2.5-2.5 2.5-2.5-2.5zM493 292l2.5 2.5-2.5 2.5-2.5-2.5zM496 294.5l2.5 2.5-2.5 2.5-2.5-2.5zM491.5 297.5l2.5 2.5-2.5 2.5-2.5-2.5zM495 299l2.5 2.5-2.5 2.5-2.5-2.5zM493 301.5l2.5 2.5-2.5 2.5-2.5-2.5zM492 310.5l2.5 2.5-2.5 2.5-2.5-2.5zM495 312.5l2.5 2.5-2.5 2.5-2.5-2.5zM497 315.5l2.5 2.5-2.5 2.5-2.5-2.5zM494 318l2.5 2.5-2.5 2.5-2.5-2.5zM491 308.5l2.5 2.5-2.5 2.5-2.5-2.5zM490.5 330.5l2.5 2.5-2.5 2.5-2.5-2.5zM492 334.5l2.5 2.5-2.5 2.5-2.5-2.5zM489.5 337.5l2.5 2.5-2.5 2.5-2.5-2.5zM479.8 321l2.5 2.5-2.5 2.5-2.5-2.5zM489 321.5l2.5 2.5-2.5 2.5-2.5-2.5zM379.8 318.9l2.5 2.5-2.5 2.5-2.5-2.5zM378.6 329.1l2.5 2.5-2.5 2.5-2.5-2.5zM351 339.5l2.5 2.5-2.5 2.5-2.5-2.5zM351 344.5l2.5 2.5-2.5 2.5-2.5-2.5zM379.6 354.9l2.5 2.5-2.5 2.5-2.5-2.5zM396 351.9l2.5 2.5-2.5 2.5-2.5-2.5zM417.5 334.5l2.5 2.5-2.5 2.5-2.5-2.5zM417.5 346.5l2.5 2.5-2.5 2.5-2.5-2.5zM421.3 354.4l2.5 2.5-2.5 2.5-2.5-2.5zM469.6 320.9l2.5 2.5-2.5 2.5-2.5-2.5zM446 366.3l2.5 2.5-2.5 2.5-2.5-2.5zM410.4 345.5l2.5 2.5-2.5 2.5-2.5-2.5zM418.7 354.2l2.5 2.5-2.5 2.5-2.5-2.5zM413.9 369l2.5 2.5-2.5 2.5-2.5-2.5zM415.7 370.1l2.5 2.5-2.5 2.5-2.5-2.5zM409.9 356.9l2.5 2.5-2.5 2.5-2.5-2.5zM409.7 356.8l2.5 2.5-2.5 2.5-2.5-2.5zM420.3 350.3l2.5 2.5-2.5 2.5-2.5-2.5zM405.2 348.7l2.5 2.5-2.5 2.5-2.5-2.5zM412.5 360.3l2.5 2.5-2.5 2.5-2.5-2.5zM420.7 349.8l2.5 2.5-2.5 2.5-2.5-2.5zM403.9 352.7l2.5 2.5-2.5 2.5-2.5-2.5zM411.4 365.8l2.5 2.5-2.5 2.5-2.5-2.5zM400.2 361.8l2.5 2.5-2.5 2.5-2.5-2.5zM422.8 361.6l2.5 2.5-2.5 2.5-2.5-2.5zM409.9 364.1l2.5 2.5-2.5 2.5-2.5-2.5zM408.5 351.6l2.5 2.5-2.5 2.5-2.5-2.5zM407.7 355.4l2.5 2.5-2.5 2.5-2.5-2.5zM416 354.5l2.5 2.5-2.5 2.5-2.5-2.5zM423 371.3l2.5 2.5-2.5 2.5-2.5-2.5zM420.8 346.5l2.5 2.5-2.5 2.5-2.5-2.5zM409.8 348.6l2.5 2.5-2.5 2.5-2.5-2.5zM408.5 348.3l2.5 2.5-2.5 2.5-2.5-2.5zM413.3 368l2.5 2.5-2.5 2.5-2.5-2.5zM407.9 351.9l2.5 2.5-2.5 2.5-2.5-2.5zM400.2 357.4l2.5 2.5-2.5 2.5-2.5-2.5zM408 349.2l2.5 2.5-2.5 2.5-2.5-2.5zM403.3 358.4l2.5 2.5-2.5 2.5-2.5-2.5zM404.6 368.5l2.5 2.5-2.5 2.5-2.5-2.5zM503.6 344.3l2.5 2.5-2.5 2.5-2.5-2.5zM493.5 385.5l2.5 2.5-2.5 2.5-2.5-2.5zM489.9 353.7l2.5 2.5-2.5 2.5-2.5-2.5zM485.2 389.8l2.5 2.5-2.5 2.5-2.5-2.5zM483.1 351.9l2.5 2.5-2.5 2.5-2.5-2.5z" class="q"/>
<path d="M465.2 384.5l2.5 2.5-2.5 2.5-2.5-2.5zM507.3 339.6l2.5 2.5-2.5 2.5-2.5-2.5zM474.4 379.1l2.5 2.5-2.5 2.5-2.5-2.5zM488.8 357.7l2.5 2.5-2.5 2.5-2.5-2.5zM489.9 353.2l2.5 2.5-2.5 2.5-2.5-2.5zM485.9 371.6l2.5 2.5-2.5 2.5-2.5-2.5zM490.7 343.2l2.5 2.5-2.5 2.5-2.5-2.5zM468.9 347.9l2.5 2.5-2.5 2.5-2.5-2.5zM479.4 388.2l2.5 2.5-2.5 2.5-2.5-2.5zM486 339.4l2.5 2.5-2.5 2.5-2.5-2.5zM499 389.7l2.5 2.5-2.5 2.5-2.5-2.5zM498.6 374.6l2.5 2.5-2.5 2.5-2.5-2.5zM493.9 358.6l2.5 2.5-2.5 2.5-2.5-2.5zM505 367.6l2.5 2.5-2.5 2.5-2.5-2.5zM517 353.6l2.5 2.5-2.5 2.5-2.5-2.5zM507.5 389.8l2.5 2.5-2.5 2.5-2.5-2.5zM483.3 373l2.5 2.5-2.5 2.5-2.5-2.5zM479 345.2l2.5 2.5-2.5 2.5-2.5-2.5zM489.2 375.2l2.5 2.5-2.5 2.5-2.5-2.5zM486.7 389.5l2.5 2.5-2.5 2.5-2.5-2.5zM469.4 367.7l2.5 2.5-2.5 2.5-2.5-2.5zM502.9 372.9l2.5 2.5-2.5 2.5-2.5-2.5zM503.6 368.2l2.5 2.5-2.5 2.5-2.5-2.5zM503.4 350.9l2.5 2.5-2.5 2.5-2.5-2.5zM492.7 345l2.5 2.5-2.5 2.5-2.5-2.5zM509.4 352.8l2.5 2.5-2.5 2.5-2.5-2.5zM496.3 336.3l2.5 2.5-2.5 2.5-2.5-2.5zM496.3 355.6l2.5 2.5-2.5 2.5-2.5-2.5zM491.9 373.7l2.5 2.5-2.5 2.5-2.5-2.5zM479.7 343.2l2.5 2.5-2.5 2.5-2.5-2.5zM460.9 371.6l2.5 2.5-2.5 2.5-2.5-2.5zM512 367.5l2.5 2.5-2.5 2.5-2.5-2.5zM480.1 352.5l2.5 2.5-2.5 2.5-2.5-2.5zM486.7 385.9l2.5 2.5-2.5 2.5-2.5-2.5zM489.1 372.7l2.5 2.5-2.5 2.5-2.5-2.5zM492.8 341.5l2.5 2.5-2.5 2.5-2.5-2.5zM483.7 351.1l2.5 2.5-2.5 2.5-2.5-2.5zM491 387.6l2.5 2.5-2.5 2.5-2.5-2.5zM472.1 361.2l2.5 2.5-2.5 2.5-2.5-2.5zM466.5 342.3l2.5 2.5-2.5 2.5-2.5-2.5zM506.4 355.5l2.5 2.5-2.5 2.5-2.5-2.5zM482.1 388.4l2.5 2.5-2.5 2.5-2.5-2.5zM501.9 342.3l2.5 2.5-2.5 2.5-2.5-2.5zM494.5 353l2.5 2.5-2.5 2.5-2.5-2.5zM471.1 349.9l2.5 2.5-2.5 2.5-2.5-2.5zM479.2 343.5l2.5 2.5-2.5 2.5-2.5-2.5zM497 363.8l2.5 2.5-2.5 2.5-2.5-2.5zM504.5 347.3l2.5 2.5-2.5 2.5-2.5-2.5zM493.5 365.8l2.5 2.5-2.5 2.5-2.5-2.5zM499.1 386.9l2.5 2.5-2.5 2.5-2.5-2.5zM505.4 346.7l2.5 2.5-2.5 2.5-2.5-2.5zM471.5 374l2.5 2.5-2.5 2.5-2.5-2.5zM487 356.9l2.5 2.5-2.5 2.5-2.5-2.5zM496 379.4l2.5 2.5-2.5 2.5-2.5-2.5zM477.6 359.9l2.5 2.5-2.5 2.5-2.5-2.5z" class="q"/>
<path d="M474.8 382.8l2.5 2.5-2.5 2.5-2.5-2.5zM473.3 383.2l2.5 2.5-2.5 2.5-2.5-2.5zM479.7 380.2l2.5 2.5-2.5 2.5-2.5-2.5zM478.1 380.7l2.5 2.5-2.5 2.5-2.5-2.5zM362.6 385.4l2.5 2.5-2.5 2.5-2.5-2.5zM358.7 389l2.5 2.5-2.5 2.5-2.5-2.5zM363.2 382.2l2.5 2.5-2.5 2.5-2.5-2.5zM352 383.9l2.5 2.5-2.5 2.5-2.5-2.5zM353.3 384.6l2.5 2.5-2.5 2.5-2.5-2.5zM350.5 388.9l2.5 2.5-2.5 2.5-2.5-2.5zM351.4 385.5l2.5 2.5-2.5 2.5-2.5-2.5zM419.2 389.5l2.5 2.5-2.5 2.5-2.5-2.5zM414 390.1l2.5 2.5-2.5 2.5-2.5-2.5zM418.9 389.5l2.5 2.5-2.5 2.5-2.5-2.5zM415.4 386.8l2.5 2.5-2.5 2.5-2.5-2.5zM411.5 389.3l2.5 2.5-2.5 2.5-2.5-2.5zM517.3 386.8l2.5 2.5-2.5 2.5-2.5-2.5zM520.9 384.4l2.5 2.5-2.5 2.5-2.5-2.5zM520.6 386.1l2.5 2.5-2.5 2.5-2.5-2.5zM517.4 385.5l2.5 2.5-2.5 2.5-2.5-2.5zM520.2 381.4l2.5 2.5-2.5 2.5-2.5-2.5zM519.3 387.7l2.5 2.5-2.5 2.5-2.5-2.5zM542.1 387.2l2.5 2.5-2.5 2.5-2.5-2.5zM538.8 387.9l2.5 2.5-2.5 2.5-2.5-2.5zM537 388.7l2.5 2.5-2.5 2.5-2.5-2.5zM539.3 390.1l2.5 2.5-2.5 2.5-2.5-2.5zM429.6 390.1l2.5 2.5-2.5 2.5-2.5-2.5zM427 390.1l2.5 2.5-2.5 2.5-2.5-2.5zM427.7 390.1l2.5 2.5-2.5 2.5-2.5-2.5zM427 386.8l2.5 2.5-2.5 2.5-2.5-2.5zM428.1 390.1l2.5 2.5-2.5 2.5-2.5-2.5zM429.6 386.2l2.5 2.5-2.5 2.5-2.5-2.5zM409.8 390l2.5 2.5-2.5 2.5-2.5-2.5zM406.5 386.7l2.5 2.5-2.5 2.5-2.5-2.5zM411.9 387.4l2.5 2.5-2.5 2.5-2.5-2.5zM413.1 388.2l2.5 2.5-2.5 2.5-2.5-2.5zM403.5 389l2.5 2.5-2.5 2.5-2.5-2.5zM499.5 384.8l2.5 2.5-2.5 2.5-2.5-2.5zM502.7 377.7l2.5 2.5-2.5 2.5-2.5-2.5zM503.6 385.9l2.5 2.5-2.5 2.5-2.5-2.5zM504.8 384l2.5 2.5-2.5 2.5-2.5-2.5zM504.6 385.5l2.5 2.5-2.5 2.5-2.5-2.5zM497.5 385.1l2.5 2.5-2.5 2.5-2.5-2.5zM526.6 383.8l2.5 2.5-2.5 2.5-2.5-2.5zM522.2 385.8l2.5 2.5-2.5 2.5-2.5-2.5zM523.9 380.6l2.5 2.5-2.5 2.5-2.5-2.5zM528 384.2l2.5 2.5-2.5 2.5-2.5-2.5zM583.2 386.8l2.5 2.5-2.5 2.5-2.5-2.5zM579.6 388.6l2.5 2.5-2.5 2.5-2.5-2.5zM579.9 386.9l2.5 2.5-2.5 2.5-2.5-2.5zM581.4 386.2l2.5 2.5-2.5 2.5-2.5-2.5zM392 387.1l2.5 2.5-2.5 2.5-2.5-2.5zM391.9 390.1l2.5 2.5-2.5 2.5-2.5-2.5zM393.7 390.1l2.5 2.5-2.5 2.5-2.5-2.5zM395 390.1l2.5 2.5-2.5 2.5-2.5-2.5zM371.4 382.2l2.5 2.5-2.5 2.5-2.5-2.5zM373.8 382.3l2.5 2.5-2.5 2.5-2.5-2.5zM372.3 382.5l2.5 2.5-2.5 2.5-2.5-2.5zM465.1 381.6l2.5 2.5-2.5 2.5-2.5-2.5zM468 381.1l2.5 2.5-2.5 2.5-2.5-2.5zM467.6 381.9l2.5 2.5-2.5 2.5-2.5-2.5zM533.9 381.5l2.5 2.5-2.5 2.5-2.5-2.5zM533.7 378.5l2.5 2.5-2.5 2.5-2.5-2.5zM535.6 381l2.5 2.5-2.5 2.5-2.5-2.5zM538.4 382.8l2.5 2.5-2.5 2.5-2.5-2.5zM626.3 386.9l2.5 2.5-2.5 2.5-2.5-2.5zM623.7 386.3l2.5 2.5-2.5 2.5-2.5-2.5zM628.9 390.1l2.5 2.5-2.5 2.5-2.5-2.5zM369.5 378.1l2.5 2.5-2.5 2.5-2.5-2.5zM372.2 385.8l2.5 2.5-2.5 2.5-2.5-2.5zM374.1 382.2l2.5 2.5-2.5 2.5-2.5-2.5zM628.7 386.6l2.5 2.5-2.5 2.5-2.5-2.5zM626.9 386.2l2.5 2.5-2.5 2.5-2.5-2.5zM628.3 385.5l2.5 2.5-2.5 2.5-2.5-2.5zM627.9 382.7l2.5 2.5-2.5 2.5-2.5-2.5zM627.1 390.1l2.5 2.5-2.5 2.5-2.5-2.5zM625.2 388.8l2.5 2.5-2.5 2.5-2.5-2.5zM628.2 385.5l2.5 2.5-2.5 2.5-2.5-2.5zM628.8 389.3l2.5 2.5-2.5 2.5-2.5-2.5zM625.7 390.1l2.5 2.5-2.5 2.5-2.5-2.5zM628.3 388.6l2.5 2.5-2.5 2.5-2.5-2.5zM637.7 387.3l2.5 2.5-2.5 2.5-2.5-2.5zM632.6 386.4l2.5 2.5-2.5 2.5-2.5-2.5zM633.3 390.1l2.5 2.5-2.5 2.5-2.5-2.5zM622.8 385.9l2.5 2.5-2.5 2.5-2.5-2.5zM623.3 381l2.5 2.5-2.5 2.5-2.5-2.5zM618.1 382.8l2.5 2.5-2.5 2.5-2.5-2.5zM622.4 383.6l2.5 2.5-2.5 2.5-2.5-2.5zM622.4 383l2.5 2.5-2.5 2.5-2.5-2.5zM475.6 390.1l2.5 2.5-2.5 2.5-2.5-2.5zM473.1 384.5l2.5 2.5-2.5 2.5-2.5-2.5zM479.4 390.1l2.5 2.5-2.5 2.5-2.5-2.5zM590.5 386.8l2.5 2.5-2.5 2.5-2.5-2.5zM589 386.3l2.5 2.5-2.5 2.5-2.5-2.5zM593.7 385l2.5 2.5-2.5 2.5-2.5-2.5zM595.9 387.8l2.5 2.5-2.5 2.5-2.5-2.5zM531.7 388.4l2.5 2.5-2.5 2.5-2.5-2.5zM527.8 388.3l2.5 2.5-2.5 2.5-2.5-2.5zM537.9 390l2.5 2.5-2.5 2.5-2.5-2.5zM532.5 383.3l2.5 2.5-2.5 2.5-2.5-2.5zM530.3 390.1l2.5 2.5-2.5 2.5-2.5-2.5zM488.6 377.6l2.5 2.5-2.5 2.5-2.5-2.5zM493.4 381.7l2.5 2.5-2.5 2.5-2.5-2.5zM490.4 381.9l2.5 2.5-2.5 2.5-2.5-2.5zM493.3 378.5l2.5 2.5-2.5 2.5-2.5-2.5zM491.8 379.8l2.5 2.5-2.5 2.5-2.5-2.5zM460.4 381.8l2.5 2.5-2.5 2.5-2.5-2.5zM463.1 380.6l2.5 2.5-2.5 2.5-2.5-2.5zM459.4 384l2.5 2.5-2.5 2.5-2.5-2.5zM459.3 381.7l2.5 2.5-2.5 2.5-2.5-2.5zM461.6 384.1l2.5 2.5-2.5 2.5-2.5-2.5zM465.8 382.3l2.5 2.5-2.5 2.5-2.5-2.5zM433.7 390l2.5 2.5-2.5 2.5-2.5-2.5zM434.5 390.1l2.5 2.5-2.5 2.5-2.5-2.5zM431.8 386.9l2.5 2.5-2.5 2.5-2.5-2.5zM436.9 387.2l2.5 2.5-2.5 2.5-2.5-2.5zM367.8 387.9l2.5 2.5-2.5 2.5-2.5-2.5zM365.1 390.1l2.5 2.5-2.5 2.5-2.5-2.5zM367.5 383.8l2.5 2.5-2.5 2.5-2.5-2.5zM422.3 384.8l2.5 2.5-2.5 2.5-2.5-2.5z" class="q" style="fill:#dae6f2;fill-opacity:0.85;stroke:#343c48;stroke-width:.55px;stroke-opacity:.8"/>
<path d="M422.9 377.5l2.5 2.5-2.5 2.5-2.5-2.5zM419.1 388.5l2.5 2.5-2.5 2.5-2.5-2.5zM419.3 377.3l2.5 2.5-2.5 2.5-2.5-2.5zM530.4 381.6l2.5 2.5-2.5 2.5-2.5-2.5zM527 382.5l2.5 2.5-2.5 2.5-2.5-2.5zM525.7 381.8l2.5 2.5-2.5 2.5-2.5-2.5zM530.7 381.4l2.5 2.5-2.5 2.5-2.5-2.5zM527.5 386.2l2.5 2.5-2.5 2.5-2.5-2.5z" class="q" style="fill:#dae6f2;fill-opacity:0.85;stroke:#343c48;stroke-width:.55px;stroke-opacity:.8"/>
<path d="M509.4 350.5l2.5 2.5-2.5 2.5-2.5-2.5zM509.4 354.5l2.5 2.5-2.5 2.5-2.5-2.5zM509.4 358.5l2.5 2.5-2.5 2.5-2.5-2.5zM509.4 362.5l2.5 2.5-2.5 2.5-2.5-2.5z" class="q" style="fill:#d8d8d8;fill-opacity:0.85;stroke:#707070"/>
<path d="M490 326.7l2.5 2.5-2.5 2.5-2.5-2.5z" class="q" style="fill:#d42a2a;fill-opacity:1;stroke:#802020"/>
<text x="565.90" y="282.00" font-size="5.4" fill="#000"><tspan font-style="italic">R</tspan><tspan font-size="3.5" dy="-1.8">2</tspan><tspan dy="1.8"> with LDL GWAS SNP rs4722551</tspan></text>
<rect x="619.00" y="285.90" width="5.00" height="2.95" fill="#b8322a" stroke="none" stroke-width="1"/>
<rect x="619.00" y="288.75" width="5.00" height="2.95" fill="#c84a28" stroke="none" stroke-width="1"/>
<rect x="619.00" y="291.60" width="5.00" height="2.95" fill="#e07c30" stroke="none" stroke-width="1"/>
<rect x="619.00" y="294.45" width="5.00" height="2.95" fill="#e8cc40" stroke="none" stroke-width="1"/>
<rect x="619.00" y="297.30" width="5.00" height="2.95" fill="#b8c840" stroke="none" stroke-width="1"/>
<rect x="619.00" y="300.15" width="5.00" height="2.95" fill="#70b060" stroke="none" stroke-width="1"/>
<rect x="619.00" y="303.00" width="5.00" height="2.95" fill="#5a90c8" stroke="none" stroke-width="1"/>
<rect x="619.00" y="305.85" width="5.00" height="2.95" fill="#8cb8e0" stroke="none" stroke-width="1"/>
<rect x="619.00" y="308.70" width="5.00" height="2.95" fill="#b4d0ec" stroke="none" stroke-width="1"/>
<rect x="619.00" y="311.55" width="5.00" height="2.95" fill="#dce8f4" stroke="none" stroke-width="1"/>
<text x="626.40" y="288.60" font-size="4.8" text-anchor="start" font-weight="normal" fill="#000">0.9 - 1.0</text>
<text x="626.40" y="297.10" font-size="4.8" text-anchor="start" font-weight="normal" fill="#000">0.6 - 0.7</text>
<text x="626.40" y="305.60" font-size="4.8" text-anchor="start" font-weight="normal" fill="#000">0.3 - 0.4</text>
<text x="626.40" y="314.10" font-size="4.8" text-anchor="start" font-weight="normal" fill="#000">0.0 - 0.1</text>
<text x="328.10" y="402.40" font-size="4.9" text-anchor="start" font-weight="normal" fill="#000">13.4</text>
<text x="330.60" y="431.60" font-size="4.6" text-anchor="start" font-weight="normal" fill="#000">0</text>
<line x1="334.00" y1="430.00" x2="645.00" y2="430.00" stroke="#9aa8b8" stroke-width="0.6" stroke-dasharray="0.8 0.8"/>
<path d="M554.7 428.5h0M400.8 427.2h0M589.4 426.7h0M616.4 428.4h0M483.1 425.4h0M470.9 426.8h0M404.5 428.8h0M335.9 426h0M413.5 425.7h0M495.1 428.8h0M426.8 428.9h0M341.7 427.6h0M367.5 429h0M466.7 429h0M621.8 427.4h0M461 428.9h0M472.6 428.1h0M509.2 427.6h0M635.6 427.1h0M457 429h0M508.5 428.6h0M494.9 427.7h0M636.5 426.8h0M637.5 429h0M345.6 427h0M454.7 429h0M403.6 426.9h0M548.9 428.8h0M496.2 428.1h0M513.5 427.5h0M334.5 428.8h0M532 428.9h0M543.4 428.7h0M468.6 428.5h0M527.5 428.8h0M567.2 428.7h0M395.6 428.4h0M490.8 427.6h0M408.7 428.4h0M590 429h0M608.4 426.2h0M597.9 427h0M561.7 428.9h0M467.4 426.4h0M496.3 428.9h0M633.6 426h0M515.8 426h0M368.2 428.6h0M462.3 428h0M365.5 427.3h0M472.2 429h0M599.9 426.7h0M485.4 429h0M400.8 427.8h0M410 427.4h0M584.6 428.7h0M450.4 427.4h0M528.2 427.9h0M440.2 428.5h0M522.5 428.9h0M425.5 426.6h0M586.3 429h0M621.2 428.3h0M427.7 428.5h0M544.7 428.9h0M492.8 425.7h0M361.4 425.8h0M386.8 429h0M392.1 426.8h0M404 427.1h0M596.9 426.4h0M357.1 426.5h0M459.6 426h0M564.8 427.7h0M627.7 428.8h0M411.2 428.7h0M427.5 428h0M507.3 429h0M537.1 427.4h0M571.4 429h0M360.2 428.9h0M587.4 426h0M359.5 428.9h0M550.2 428.9h0M568.5 427.5h0M504 428.9h0M579.8 427.9h0M570.8 427.1h0M505.4 427.5h0M399.7 428.9h0M376.5 425.6h0M418.6 428.8h0M557.3 426.9h0M532.3 426.6h0M539.6 428.3h0M416.5 428.8h0M634.5 429h0M388.5 429h0M370.8 427.5h0M445.8 429h0M350.4 427.7h0M478.8 428.9h0M502.5 427.7h0M588.9 429h0M576.3 427.6h0M360.2 427.1h0M477.3 428.2h0M516.4 428.4h0M389.4 427.6h0M475.7 428.9h0M547.8 428.3h0M488.1 427.9h0M460.8 428.9h0M378.1 428h0M447.1 428.7h0M384.7 427.2h0M342 428.4h0M497.6 426.7h0M505.9 428.9h0M504.3 429h0" fill="none" stroke="#c4d8ee" stroke-width="2.5" stroke-linecap="round" stroke-opacity="0.8"/>
<path d="M472.9 428.9h0M583.5 428.9h0M542.6 426.3h0M503.1 428.6h0M462.8 428.4h0M550.2 428.9h0M449 426.3h0M547.1 425.8h0M616.6 427.7h0M361.5 429h0M354.8 429h0M531.6 428.8h0M504.5 426.5h0M503.6 428.8h0M544.8 425.9h0M425 427.4h0M542.7 428.9h0M589.1 426.6h0M627.5 427.2h0M338.7 428.5h0M552 428h0M554.4 428.8h0M631.8 428.7h0M527.2 428.8h0M537.3 429h0M597.9 429h0M472.4 428.9h0M502.6 428.3h0M466.4 428.7h0M590.4 428.3h0M349.2 428.8h0M444.5 428h0M625.7 426.3h0M542.2 427.3h0M644.9 428.8h0M477.6 426.2h0M352.1 426.6h0M581.3 428.3h0M632.2 428.9h0M494.4 426.4h0M444 428.2h0M536.8 427.8h0M415.1 428.9h0M595.2 426.5h0M342.2 427.2h0M444.9 425.7h0M564.1 427.7h0M482.9 426.1h0M532.6 429h0M381.8 428.7h0M335.6 429h0M623.1 428.7h0M453.5 426.5h0M467.6 428.4h0M475.3 429h0M509.1 428.5h0M363.4 428.9h0M627 427.1h0M544.3 428.9h0M501.8 428h0M543.3 425.9h0M395.5 429h0M424.4 428.9h0M418.1 428.4h0M408.9 428.1h0M530.2 427.3h0M432.3 429h0M595.3 427.8h0M402 429h0M467.6 428.2h0M334.1 428.9h0M476.1 426.8h0M336.6 426.7h0M552.5 427.7h0M468.3 428.8h0M396.7 427.9h0M489.3 425.8h0M569.6 428.6h0M397.4 428.8h0M514.2 429h0M420.2 428.6h0M429.7 428h0M339.8 428.6h0M559.1 426.3h0M435.8 429h0M595.5 427.9h0M334 426.3h0M463.5 427.3h0M458.9 429h0M481.7 429h0M489 429h0M336.7 428.7h0M491.5 426.4h0M526.9 428.4h0M603.5 428.7h0M515 426.5h0M347.4 426.6h0M391.6 427.6h0M334.9 427.5h0M408.6 428.8h0M583.6 427.5h0M566.5 427.7h0M445.2 428.6h0M585.7 428.5h0M373.2 428.9h0M359.1 426.9h0M485.7 426h0M402.4 428.8h0M479.2 428.9h0M587.5 429h0M556.2 428.9h0M439.4 428.9h0M408.6 428.7h0M416.5 427.4h0M408.9 427.3h0M536 428.5h0M611.8 427h0M504.5 425.9h0M613.7 429h0M435.8 426.8h0" fill="none" stroke="#c4d8ee" stroke-width="2.5" stroke-linecap="round" stroke-opacity="0.8"/>
<path d="M641.6 428.8h0M462.2 428h0M382.9 427.6h0M511.6 426h0M629.4 428.6h0M395.5 428.4h0M375.1 429h0M474.1 428.2h0M631.6 426.9h0M378.6 427.9h0M498.3 428.1h0M485.4 428.2h0M362.2 428.9h0M627.5 427.6h0M520 428.5h0M628.6 426.8h0M488.3 427.3h0M418.6 428.7h0M538.4 428.8h0M473.1 428.6h0M500.9 428.6h0M588.8 426.8h0M528.3 429h0M547.1 427.1h0M492.3 428.5h0M449.6 428.9h0M360.8 428h0M382.5 429h0M514.6 428.9h0M379.6 426h0M516.4 429h0M470.8 428.8h0M512.3 428.5h0M380.3 428.1h0M482.6 429h0M399.8 429h0M468.1 428.8h0M555.8 428h0M599.5 429h0M600.9 428h0M346.4 428.6h0M543.5 426.5h0M382.9 428.1h0M355.6 426.4h0M572.9 426.2h0M409.7 429h0M439 426.7h0M474.2 428.8h0M414.8 427.8h0M567.6 428.1h0M418.5 428.4h0M576.1 426h0M591.8 426h0M366.4 428.5h0M552.8 428.9h0M477.5 426.5h0M529.8 429h0M364 426.7h0M632.5 427.2h0M351.6 429h0M344.5 428h0M403.1 429h0M547.3 428.7h0M401.4 428.8h0M514.3 427.5h0M540.3 426.4h0M435 428.8h0M517.1 429h0M467.4 426.3h0M549.9 427.1h0M343.9 425.6h0M588.6 429h0M483.4 429h0M504.3 427h0M391.9 428.5h0M613.1 426.8h0M619.5 428.6h0M358.7 426.6h0M360.9 426.3h0M433.7 426.7h0M339.9 427h0M402.6 429h0M371.4 428.8h0M363.8 429h0M488.5 428.6h0M613.8 425.8h0M403.4 428.9h0M484.5 426.6h0M354.1 426.4h0M590.7 429h0M391.5 426.9h0M381.5 428.7h0M597.4 428.9h0M505.9 426.8h0M634.1 428.1h0M356.4 428.3h0M519.8 428.5h0M568 428.9h0M461.1 426.5h0M454 429h0M633.9 428h0M498.9 425.9h0M483.9 428.7h0M577.8 428.9h0M381 429h0M513.5 428.4h0M519.1 429h0M503 429h0M444.5 428h0M431.1 428.5h0M602.1 429h0M532.9 427.9h0M352.2 428.6h0M453.2 428.4h0M581.5 428.8h0M394.1 427.1h0M530.4 428.4h0M449.6 428.2h0M585.1 428.3h0M495.2 428.2h0" fill="none" stroke="#c4d8ee" stroke-width="2.5" stroke-linecap="round" stroke-opacity="0.8"/>
<path d="M516.4 428.4h0M358.9 426.1h0M389.3 428.5h0M594.7 427.6h0M357.8 427.3h0M353.8 428.4h0M357.2 428.9h0M602.1 427.9h0M584.7 429h0M418.5 426.3h0M416.8 425.4h0M570.4 428h0M517.2 428.3h0M385.8 428.9h0M551.6 428.9h0M367.1 428.2h0M427.6 429h0M418.9 426.6h0M563.9 428.8h0M488.7 426h0M476.5 427.2h0M628.5 427.2h0M517.2 425.8h0M632.3 428.4h0M428.6 426.1h0M401.9 428h0M402.3 426.6h0M555.7 428.8h0M443.5 425.8h0M463 425.6h0M484.4 427.4h0M385.1 428.8h0M599.7 428.8h0M336.1 427.8h0M396.8 428.9h0M558.4 429h0M352.1 428.7h0M486.3 428.9h0M623.8 426.6h0M448.6 426.8h0M578.9 428.9h0M458.7 428.8h0M492.5 427.6h0M622.9 426.2h0M451.6 425.9h0M389.5 428.1h0M384.1 428.1h0M445.1 427.3h0M392.7 428.5h0M612.9 428.6h0M537.2 428.5h0M601 428.6h0M338.9 428.8h0M553.5 428.2h0M519.1 428.7h0M368 428.9h0M391.6 427.9h0M544.5 428.8h0M378.2 427.5h0M395.1 425.8h0M543.7 428.8h0M588.8 426.7h0M633.5 428.8h0M412.5 428.5h0M563.9 428.2h0M404.1 428.1h0M429.4 426.3h0M433.5 426.1h0M376.8 428.9h0M553.7 428.4h0M382.9 428.8h0M486.4 427.4h0M550.7 429h0M372.2 428.4h0M340.9 428h0M425.3 428.7h0M599.8 428.4h0M466 429h0M382.9 428.7h0M440.3 428.2h0M566.2 429h0M488.5 428.2h0M532 428.2h0M521.4 427.3h0M347.8 427.4h0M534.6 428.8h0M456.3 428.8h0M539.6 428.9h0M632.5 428h0M428.4 428.7h0M602.8 428.3h0M474 429h0M478.5 428.9h0M595.7 426.8h0M485.9 426.1h0M497.9 426.2h0M606.6 428.7h0M634.2 428.2h0M488 429h0M370.3 426.8h0M430.2 428.2h0M609.1 428.9h0M388.6 429h0M425.4 428.5h0M623.6 427.7h0M421.6 428.2h0M534.3 428.8h0M634.3 426.5h0M638.7 426.9h0M580.1 427.3h0M443.1 428.5h0M343.5 428.2h0M633.6 428.8h0M529.6 428.9h0M539 428.5h0M396.2 427.1h0M374.2 426h0M356.7 428.9h0M459.4 428.6h0M633.1 428.7h0" fill="none" stroke="#c4d8ee" stroke-width="2.5" stroke-linecap="round" stroke-opacity="0.8"/>
<path d="M451.8 427.2h0M577.5 426.1h0M344.5 428.7h0M579.5 428.4h0M633.9 427.9h0M638.2 426.9h0M619.7 428.6h0M352.5 426.4h0M597.7 426.8h0M420 428.4h0M533.7 428.8h0M380.1 428.6h0M617.1 428h0M528.9 428.9h0M547.3 428.5h0M552.8 427.1h0M579.2 426.5h0M583.3 428.4h0M600.3 428.1h0M537.2 428.9h0M600.8 425.5h0M570.6 429h0M640.6 426.7h0M414.3 426.8h0M580.8 429h0M386.6 428.9h0M600.7 426.7h0M454.4 429h0M352.5 429h0M336.7 425.5h0M438 427h0M540.9 427.7h0M622.3 426.1h0M511.1 426.5h0M468.7 429h0M340.3 428.9h0M453.8 428.9h0M431 428.7h0M600.2 426.9h0M462.8 427.9h0M425 427.6h0M435.5 428.5h0M409.3 428.8h0M536.8 426.9h0M561.3 428.5h0M486.7 428.7h0M513.8 429h0M403.3 426h0M370.8 428.8h0M449 428.9h0M389.1 427.6h0M641 428.9h0M434.3 429h0M625 425.8h0M408.3 426.7h0M642.2 428.7h0M594.2 426.4h0M568 428.3h0M360.5 425.6h0M447 428.2h0M547.1 428.4h0M419.2 428.4h0M520 425.8h0M559.8 429h0M492 428.1h0M339.2 427.2h0M498.6 427h0M495.2 427.7h0M527.5 425.5h0M429.4 428.9h0M466.8 429h0M516.3 426.6h0M376.4 427.1h0M627 426.3h0M450.1 426.3h0M362.5 425.4h0M506.7 428h0M402.5 428.7h0M508.7 425.8h0M415 427.1h0M637.9 428.1h0M580.8 428.3h0M595.4 426.3h0M403.1 426.2h0M537.4 428.1h0M525.3 428.6h0M549.2 428.4h0M464.3 427.9h0M391.1 428.3h0M399.2 427.8h0M506.5 428.6h0M521.3 428.1h0M615.3 427.9h0M588.9 429h0M436 429h0M536.6 428.7h0M513.5 427.3h0M540.9 428.4h0M390.8 428.8h0M340.2 428.6h0M402.6 429h0M391.7 427.6h0M621.8 426.4h0M571.5 427.5h0M633 427.5h0M617.8 426.6h0M623.5 427.6h0M418.8 428.9h0M608.1 428h0M560.1 428.2h0M554.5 427.1h0M565 428.2h0M370.7 428.3h0M606.8 428.4h0M593.7 428.1h0M465.1 426.3h0M509.6 427.1h0M423.2 426.5h0M643.2 426.2h0M571.2 428.7h0" fill="none" stroke="#c4d8ee" stroke-width="2.5" stroke-linecap="round" stroke-opacity="0.8"/>
<path d="M390 429h0M374.1 426.7h0M420.8 428.8h0M477 426.3h0M527.6 426.7h0M617.8 428.7h0M467.8 428.9h0M445.3 428.6h0M542.3 426.2h0M378 428.7h0M467.3 428.3h0M540.3 427.9h0M641.2 429h0M387.2 429h0M483.1 428.3h0M531.5 426.2h0M367.8 428.8h0M353.3 428.3h0M594.3 429h0M592.6 426.1h0M534.1 425.9h0M560.5 427.3h0M438 428.2h0M566.7 426.3h0M533.7 428.7h0M539.5 427.1h0M471.2 426.8h0M421.7 428.2h0M510.4 427.2h0M375.7 429h0M499.4 426.8h0M626 428.9h0M473.1 428.1h0M605.2 428.5h0M469.4 426h0M634.2 429h0M577.4 428.5h0M409.9 429h0M362.7 426.4h0M420.8 427.7h0M578.3 429h0M354.4 427.7h0M435.5 428.5h0M450.2 428.7h0M433.8 427.2h0M579.8 429h0M417.8 428.7h0M574.5 428.7h0M418.4 428.4h0M446.5 428.9h0M510.5 425.7h0M508.4 425.2h0M511.5 423.1h0M491.6 422.4h0M474.6 428.7h0M492.8 428.6h0M491.3 424.7h0M490.1 424.8h0M475.3 423.7h0M497 424.5h0M484.1 428.4h0M487.4 423.5h0M496 423.8h0M493.9 429h0M494.7 425.2h0M507.3 428h0M482.5 422.2h0M498.5 424.6h0M460.4 427.9h0M473.9 429h0M502.6 426.3h0M495.1 427.2h0M492.9 428.4h0M507.7 424.2h0M516.1 423.3h0M478.6 424.2h0M499.5 425.9h0M493 422.4h0M486.8 428.5h0M476 421.1h0M493.3 427.9h0M496.7 421.8h0M466.2 427.8h0M487.4 422.4h0M502.4 426.5h0M478.4 421.1h0M492.5 423h0M489.6 422.5h0M476.4 428h0M492.3 424.3h0M497.8 426.5h0M496.7 429h0M500.1 428.6h0M496.8 419.9h0M501 427.2h0M489.7 426h0M493.2 427.4h0M478.6 429h0M484.3 429h0M494.6 425.8h0M492.4 424.8h0M482.3 424.1h0M488.2 427h0M477.6 426.6h0M499.5 425.2h0M483.1 428.3h0M490.6 425.6h0M496.3 420.5h0M490.4 421.5h0M484.8 429h0M494.1 428.6h0M503 420.6h0M481.5 424.1h0M489.5 428.7h0M493.1 420.7h0M501.7 424.4h0M489.2 422h0M502.6 428.8h0M493.2 428.9h0M504.5 424.1h0" fill="none" stroke="#c4d8ee" stroke-width="2.5" stroke-linecap="round" stroke-opacity="0.8"/>
<path d="M490.3 408.8h0" fill="none" stroke="#bcd2ea" stroke-width="2.5" stroke-linecap="round"/>
<path d="M490 399.6h0" fill="none" stroke="#d42a2a" stroke-width="2.7" stroke-linecap="round"/>
<text x="337.90" y="437.70" font-size="4.7" text-anchor="middle" font-weight="normal" fill="#000">OSBPL3</text>
<line x1="333.00" y1="431.80" x2="341.40" y2="431.80" stroke="#3a6e3a" stroke-width="1.35"/>
<path d="M332.40 431.80L335.00 430.20L335.00 433.40Z" fill="#3a6e3a"/>
<text x="362.80" y="434.50" font-size="4.7" text-anchor="middle" font-weight="normal" fill="#000">CYCS</text>
<line x1="360.80" y1="436.60" x2="363.50" y2="436.60" stroke="#3a6e3a" stroke-width="1.35"/>
<path d="M360.20 436.60L362.80 435.00L362.80 438.20Z" fill="#3a6e3a"/>
<text x="368.40" y="442.60" font-size="4.7" text-anchor="middle" font-weight="normal" fill="#000">C7orf31</text>
<line x1="362.00" y1="444.90" x2="371.90" y2="444.90" stroke="#3a6e3a" stroke-width="1.35"/>
<path d="M361.40 444.90L364.00 443.30L364.00 446.50Z" fill="#3a6e3a"/>
<text x="387.70" y="446.40" font-size="4.7" text-anchor="middle" font-weight="normal" fill="#000">NPVF</text>
<line x1="377.70" y1="445.00" x2="379.50" y2="445.00" stroke="#3a6e3a" stroke-width="1.35"/>
<path d="M377.10 445.00L379.70 443.40L379.70 446.60Z" fill="#3a6e3a"/>
<text x="418.30" y="446.40" font-size="4.7" text-anchor="middle" font-weight="normal" fill="#000">RP5-970B12.1</text>
<line x1="398.60" y1="445.00" x2="400.00" y2="445.00" stroke="#3a6e3a" stroke-width="1.35"/>
<path d="M398.00 445.00L400.60 443.40L400.60 446.60Z" fill="#3a6e3a"/>
<text x="490.30" y="441.30" font-size="4.7" text-anchor="middle" font-weight="normal" fill="#000">miR-148a</text>
<line x1="489.20" y1="443.10" x2="489.80" y2="443.10" stroke="#3a6e3a" stroke-width="1.35"/>
<path d="M490.40 443.10L487.80 441.50L487.80 444.70Z" fill="#3a6e3a"/>
<text x="519.20" y="433.50" font-size="4.7" text-anchor="middle" font-weight="normal" fill="#000">CBX3</text>
<line x1="527.00" y1="432.20" x2="528.60" y2="432.20" stroke="#3a6e3a" stroke-width="1.35"/>
<path d="M529.20 432.20L526.60 430.60L526.60 433.80Z" fill="#3a6e3a"/>
<text x="522.70" y="442.20" font-size="4.7" text-anchor="middle" font-weight="normal" fill="#000">NFE2L3</text>
<line x1="519.90" y1="437.60" x2="527.00" y2="437.60" stroke="#3a6e3a" stroke-width="1.35"/>
<path d="M527.60 437.60L525.00 436.00L525.00 439.20Z" fill="#3a6e3a"/>
<text x="544.80" y="447.00" font-size="4.7" text-anchor="middle" font-weight="normal" fill="#000">HNRNPA2B1</text>
<line x1="529.50" y1="445.60" x2="531.00" y2="445.60" stroke="#3a6e3a" stroke-width="1.35"/>
<path d="M528.90 445.60L531.50 444.00L531.50 447.20Z" fill="#3a6e3a"/>
<text x="547.60" y="440.00" font-size="4.7" text-anchor="middle" font-weight="normal" fill="#000">SNX10</text>
<line x1="541.20" y1="435.00" x2="555.50" y2="435.00" stroke="#3a6e3a" stroke-width="1.35"/>
<path d="M556.10 435.00L553.50 433.40L553.50 436.60Z" fill="#3a6e3a"/>
<text x="580.00" y="447.00" font-size="4.7" text-anchor="middle" font-weight="normal" fill="#000">KIAA0087</text>
<line x1="579.20" y1="441.30" x2="580.50" y2="441.30" stroke="#3a6e3a" stroke-width="1.35"/>
<path d="M578.60 441.30L581.20 439.70L581.20 442.90Z" fill="#3a6e3a"/>
<text x="595.40" y="434.00" font-size="4.7" text-anchor="middle" font-weight="normal" fill="#000">C7orf71</text>
<line x1="594.80" y1="436.50" x2="597.60" y2="436.50" stroke="#3a6e3a" stroke-width="1.35"/>
<path d="M598.20 436.50L595.60 434.90L595.60 438.10Z" fill="#3a6e3a"/>
<text x="629.00" y="439.40" font-size="4.7" text-anchor="middle" font-weight="normal" fill="#000">SKAP2</text>
<line x1="599.60" y1="441.40" x2="645.10" y2="441.40" stroke="#3a6e3a" stroke-width="1.35"/>
<path d="M599.00 441.40L601.60 439.80L601.60 443.00Z" fill="#3a6e3a"/>
</svg>
</body></html>
